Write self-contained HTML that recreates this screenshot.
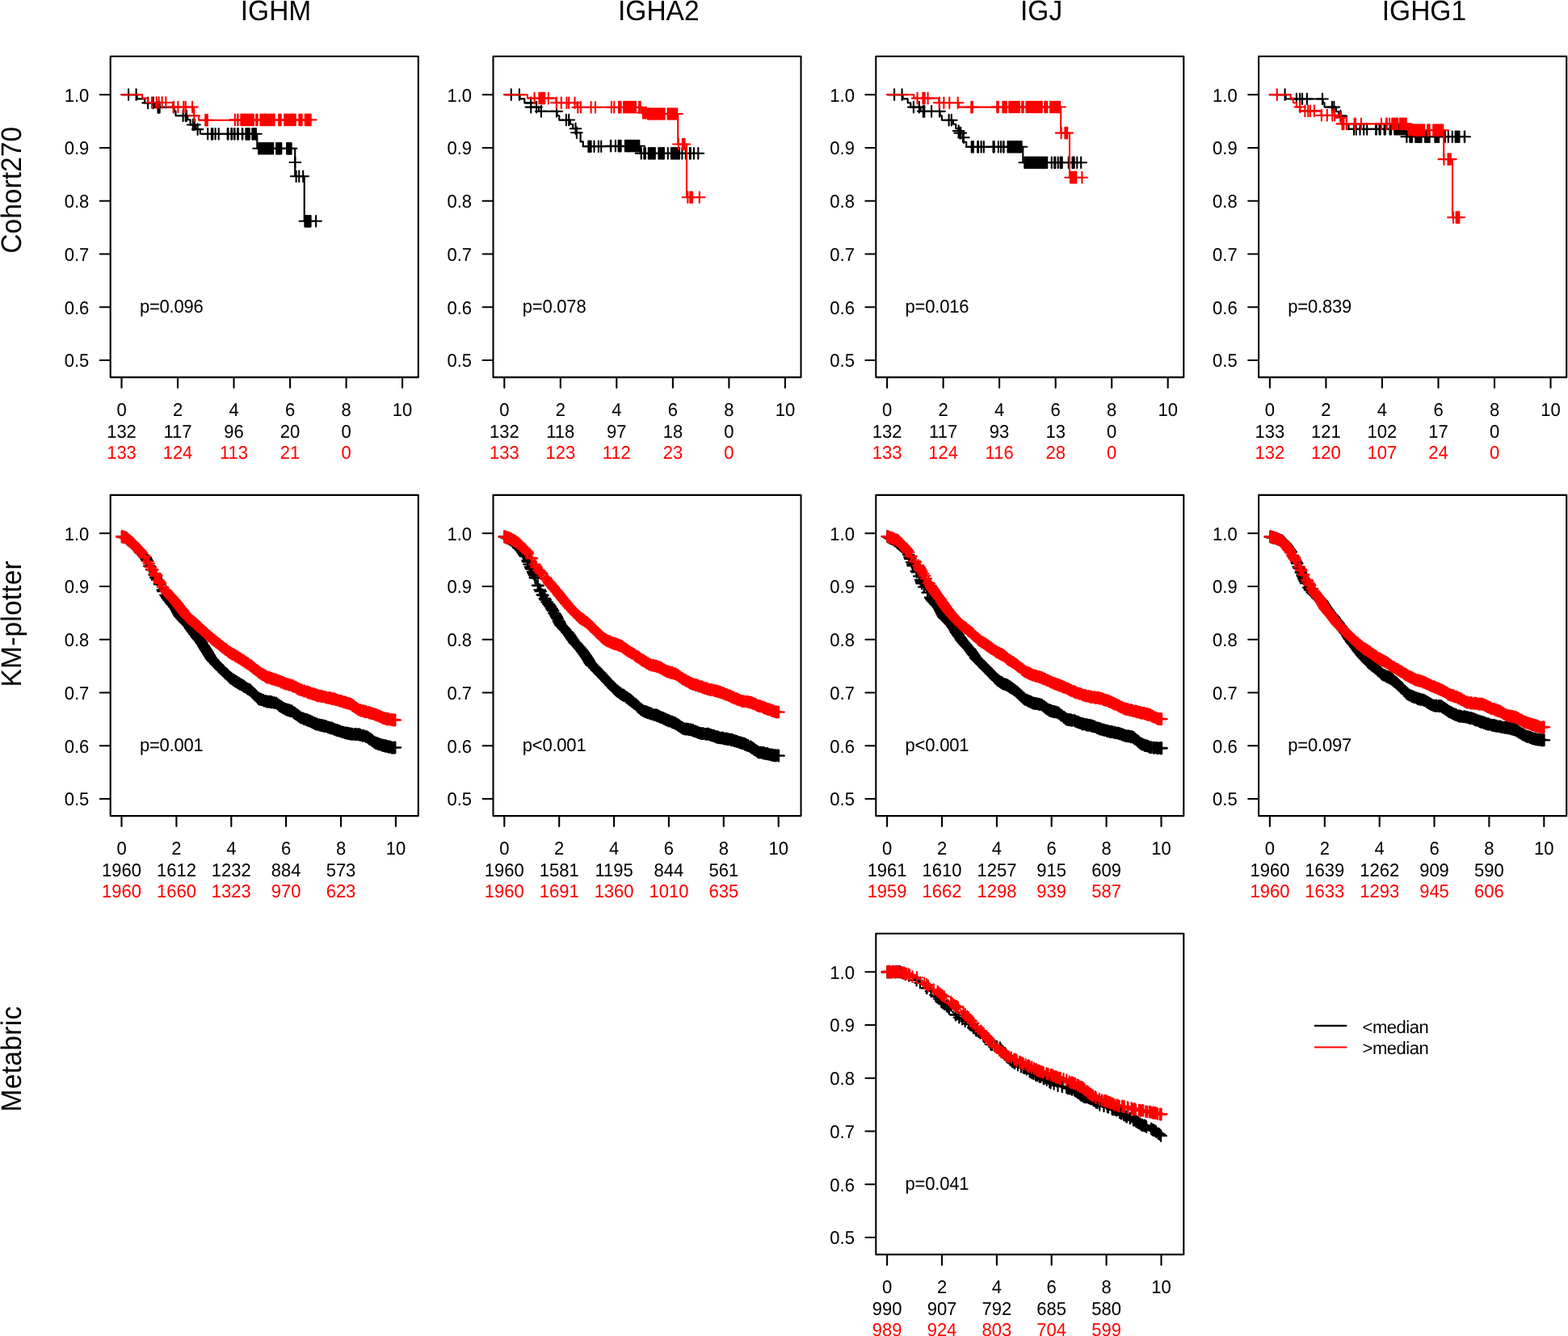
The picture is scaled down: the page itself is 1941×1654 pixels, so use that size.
<!DOCTYPE html>
<html lang="en">
<head>
<meta charset="utf-8">
<title>Kaplan-Meier survival curves: IGHM, IGHA2, IGJ, IGHG1</title>
<style>
html,body{margin:0;padding:0;background:#fff;}
body{width:1941px;height:1654px;overflow:hidden;}
svg{display:block;}
.ax{fill:none;stroke:#000;stroke-width:2.1;stroke-linecap:round;stroke-linejoin:round;}
.r{fill:#f00;}
.ck,.cr,.mk,.mr{fill:none;stroke-width:2.1;stroke-linecap:round;stroke-linejoin:round;}
.ck,.mk{stroke:#000;}
.cr,.mr{stroke:#f00;}
</style>
</head>
<body>
<svg width="1941" height="1654" viewBox="0 0 1941 1654" role="img" aria-label="Kaplan-Meier survival curves">
<rect width="1941" height="1654" fill="#fff"/>
<g font-family="'Liberation Sans', sans-serif" font-size="22" fill="#000" text-rendering="geometricPrecision">
<text transform="translate(341.5 24.9) scale(1 1.045)" text-anchor="middle" font-size="33.5">IGHM</text>
<text transform="translate(815.3 24.9) scale(1 1.045)" text-anchor="middle" font-size="33.5">IGHA2</text>
<text transform="translate(1289.1 24.9) scale(1 1.045)" text-anchor="middle" font-size="33.5">IGJ</text>
<text transform="translate(1762.9 24.9) scale(1 1.045)" text-anchor="middle" font-size="33.5">IGHG1</text>
<text transform="translate(25.7 235.3) rotate(-90) scale(1 1.05)" font-size="33.5" letter-spacing="0.06" text-anchor="middle">Cohort270</text>
<text transform="translate(25.7 772.3) rotate(-90) scale(1 1.05)" font-size="33.5" letter-spacing="0.17" text-anchor="middle">KM-plotter</text>
<text transform="translate(25.7 1310.9) rotate(-90) scale(1 1.05)" font-size="33.5" letter-spacing="0.34" text-anchor="middle">Metabric</text>
<path class="ax" d="M136.7 69.8H517.8V467.1H136.7ZM150.5 467.1v12.9M220 467.1v12.9M289.5 467.1v12.9M359.1 467.1v12.9M428.6 467.1v12.9M498.1 467.1v12.9M136.7 117.2h-12.9M136.7 183h-12.9M136.7 248.7h-12.9M136.7 314.5h-12.9M136.7 380.2h-12.9M136.7 446h-12.9"/>
<text transform="translate(110.3 125.6) scale(1 1.04)" text-anchor="end">1.0</text>
<text transform="translate(110.3 191.4) scale(1 1.04)" text-anchor="end">0.9</text>
<text transform="translate(110.3 257.1) scale(1 1.04)" text-anchor="end">0.8</text>
<text transform="translate(110.3 322.9) scale(1 1.04)" text-anchor="end">0.7</text>
<text transform="translate(110.3 388.6) scale(1 1.04)" text-anchor="end">0.6</text>
<text transform="translate(110.3 454.4) scale(1 1.04)" text-anchor="end">0.5</text>
<text transform="translate(150.5 515.1) scale(1 1.04)" text-anchor="middle">0</text>
<text transform="translate(220 515.1) scale(1 1.04)" text-anchor="middle">2</text>
<text transform="translate(289.5 515.1) scale(1 1.04)" text-anchor="middle">4</text>
<text transform="translate(359.1 515.1) scale(1 1.04)" text-anchor="middle">6</text>
<text transform="translate(428.6 515.1) scale(1 1.04)" text-anchor="middle">8</text>
<text transform="translate(498.1 515.1) scale(1 1.04)" text-anchor="middle">10</text>
<text transform="translate(150.5 541.9) scale(1 1.04)" text-anchor="middle">132</text>
<text transform="translate(220 541.9) scale(1 1.04)" text-anchor="middle">117</text>
<text transform="translate(289.5 541.9) scale(1 1.04)" text-anchor="middle">96</text>
<text transform="translate(359.1 541.9) scale(1 1.04)" text-anchor="middle">20</text>
<text transform="translate(428.6 541.9) scale(1 1.04)" text-anchor="middle">0</text>
<text transform="translate(150.5 567.6) scale(1 1.04)" text-anchor="middle" class="r">133</text>
<text transform="translate(220 567.6) scale(1 1.04)" text-anchor="middle" class="r">124</text>
<text transform="translate(289.5 567.6) scale(1 1.04)" text-anchor="middle" class="r">113</text>
<text transform="translate(359.1 567.6) scale(1 1.04)" text-anchor="middle" class="r">21</text>
<text transform="translate(428.6 567.6) scale(1 1.04)" text-anchor="middle" class="r">0</text>
<text transform="translate(172.9 386.8) scale(1 1.04)" letter-spacing="-0.2">p=0.096</text>
<path class="ax" d="M610.5 69.8H991.5V467.1H610.5ZM624.3 467.1v12.9M693.8 467.1v12.9M763.3 467.1v12.9M832.9 467.1v12.9M902.4 467.1v12.9M971.9 467.1v12.9M610.5 117.2h-12.9M610.5 183h-12.9M610.5 248.7h-12.9M610.5 314.5h-12.9M610.5 380.2h-12.9M610.5 446h-12.9"/>
<text transform="translate(584.1 125.6) scale(1 1.04)" text-anchor="end">1.0</text>
<text transform="translate(584.1 191.4) scale(1 1.04)" text-anchor="end">0.9</text>
<text transform="translate(584.1 257.1) scale(1 1.04)" text-anchor="end">0.8</text>
<text transform="translate(584.1 322.9) scale(1 1.04)" text-anchor="end">0.7</text>
<text transform="translate(584.1 388.6) scale(1 1.04)" text-anchor="end">0.6</text>
<text transform="translate(584.1 454.4) scale(1 1.04)" text-anchor="end">0.5</text>
<text transform="translate(624.3 515.1) scale(1 1.04)" text-anchor="middle">0</text>
<text transform="translate(693.8 515.1) scale(1 1.04)" text-anchor="middle">2</text>
<text transform="translate(763.3 515.1) scale(1 1.04)" text-anchor="middle">4</text>
<text transform="translate(832.9 515.1) scale(1 1.04)" text-anchor="middle">6</text>
<text transform="translate(902.4 515.1) scale(1 1.04)" text-anchor="middle">8</text>
<text transform="translate(971.9 515.1) scale(1 1.04)" text-anchor="middle">10</text>
<text transform="translate(624.3 541.9) scale(1 1.04)" text-anchor="middle">132</text>
<text transform="translate(693.8 541.9) scale(1 1.04)" text-anchor="middle">118</text>
<text transform="translate(763.3 541.9) scale(1 1.04)" text-anchor="middle">97</text>
<text transform="translate(832.9 541.9) scale(1 1.04)" text-anchor="middle">18</text>
<text transform="translate(902.4 541.9) scale(1 1.04)" text-anchor="middle">0</text>
<text transform="translate(624.3 567.6) scale(1 1.04)" text-anchor="middle" class="r">133</text>
<text transform="translate(693.8 567.6) scale(1 1.04)" text-anchor="middle" class="r">123</text>
<text transform="translate(763.3 567.6) scale(1 1.04)" text-anchor="middle" class="r">112</text>
<text transform="translate(832.9 567.6) scale(1 1.04)" text-anchor="middle" class="r">23</text>
<text transform="translate(902.4 567.6) scale(1 1.04)" text-anchor="middle" class="r">0</text>
<text transform="translate(646.7 386.8) scale(1 1.04)" letter-spacing="-0.2">p=0.078</text>
<path class="ax" d="M1084.3 69.8H1465.3V467.1H1084.3ZM1098.1 467.1v12.9M1167.6 467.1v12.9M1237.1 467.1v12.9M1306.7 467.1v12.9M1376.2 467.1v12.9M1445.7 467.1v12.9M1084.3 117.2h-12.9M1084.3 183h-12.9M1084.3 248.7h-12.9M1084.3 314.5h-12.9M1084.3 380.2h-12.9M1084.3 446h-12.9"/>
<text transform="translate(1057.9 125.6) scale(1 1.04)" text-anchor="end">1.0</text>
<text transform="translate(1057.9 191.4) scale(1 1.04)" text-anchor="end">0.9</text>
<text transform="translate(1057.9 257.1) scale(1 1.04)" text-anchor="end">0.8</text>
<text transform="translate(1057.9 322.9) scale(1 1.04)" text-anchor="end">0.7</text>
<text transform="translate(1057.9 388.6) scale(1 1.04)" text-anchor="end">0.6</text>
<text transform="translate(1057.9 454.4) scale(1 1.04)" text-anchor="end">0.5</text>
<text transform="translate(1098.1 515.1) scale(1 1.04)" text-anchor="middle">0</text>
<text transform="translate(1167.6 515.1) scale(1 1.04)" text-anchor="middle">2</text>
<text transform="translate(1237.1 515.1) scale(1 1.04)" text-anchor="middle">4</text>
<text transform="translate(1306.7 515.1) scale(1 1.04)" text-anchor="middle">6</text>
<text transform="translate(1376.2 515.1) scale(1 1.04)" text-anchor="middle">8</text>
<text transform="translate(1445.7 515.1) scale(1 1.04)" text-anchor="middle">10</text>
<text transform="translate(1098.1 541.9) scale(1 1.04)" text-anchor="middle">132</text>
<text transform="translate(1167.6 541.9) scale(1 1.04)" text-anchor="middle">117</text>
<text transform="translate(1237.1 541.9) scale(1 1.04)" text-anchor="middle">93</text>
<text transform="translate(1306.7 541.9) scale(1 1.04)" text-anchor="middle">13</text>
<text transform="translate(1376.2 541.9) scale(1 1.04)" text-anchor="middle">0</text>
<text transform="translate(1098.1 567.6) scale(1 1.04)" text-anchor="middle" class="r">133</text>
<text transform="translate(1167.6 567.6) scale(1 1.04)" text-anchor="middle" class="r">124</text>
<text transform="translate(1237.1 567.6) scale(1 1.04)" text-anchor="middle" class="r">116</text>
<text transform="translate(1306.7 567.6) scale(1 1.04)" text-anchor="middle" class="r">28</text>
<text transform="translate(1376.2 567.6) scale(1 1.04)" text-anchor="middle" class="r">0</text>
<text transform="translate(1120.5 386.8) scale(1 1.04)" letter-spacing="-0.2">p=0.016</text>
<path class="ax" d="M1558.1 69.8H1939.2V467.1H1558.1ZM1571.9 467.1v12.9M1641.4 467.1v12.9M1710.9 467.1v12.9M1780.5 467.1v12.9M1850 467.1v12.9M1919.5 467.1v12.9M1558.1 117.2h-12.9M1558.1 183h-12.9M1558.1 248.7h-12.9M1558.1 314.5h-12.9M1558.1 380.2h-12.9M1558.1 446h-12.9"/>
<text transform="translate(1531.7 125.6) scale(1 1.04)" text-anchor="end">1.0</text>
<text transform="translate(1531.7 191.4) scale(1 1.04)" text-anchor="end">0.9</text>
<text transform="translate(1531.7 257.1) scale(1 1.04)" text-anchor="end">0.8</text>
<text transform="translate(1531.7 322.9) scale(1 1.04)" text-anchor="end">0.7</text>
<text transform="translate(1531.7 388.6) scale(1 1.04)" text-anchor="end">0.6</text>
<text transform="translate(1531.7 454.4) scale(1 1.04)" text-anchor="end">0.5</text>
<text transform="translate(1571.9 515.1) scale(1 1.04)" text-anchor="middle">0</text>
<text transform="translate(1641.4 515.1) scale(1 1.04)" text-anchor="middle">2</text>
<text transform="translate(1710.9 515.1) scale(1 1.04)" text-anchor="middle">4</text>
<text transform="translate(1780.5 515.1) scale(1 1.04)" text-anchor="middle">6</text>
<text transform="translate(1850 515.1) scale(1 1.04)" text-anchor="middle">8</text>
<text transform="translate(1919.5 515.1) scale(1 1.04)" text-anchor="middle">10</text>
<text transform="translate(1571.9 541.9) scale(1 1.04)" text-anchor="middle">133</text>
<text transform="translate(1641.4 541.9) scale(1 1.04)" text-anchor="middle">121</text>
<text transform="translate(1710.9 541.9) scale(1 1.04)" text-anchor="middle">102</text>
<text transform="translate(1780.5 541.9) scale(1 1.04)" text-anchor="middle">17</text>
<text transform="translate(1850 541.9) scale(1 1.04)" text-anchor="middle">0</text>
<text transform="translate(1571.9 567.6) scale(1 1.04)" text-anchor="middle" class="r">132</text>
<text transform="translate(1641.4 567.6) scale(1 1.04)" text-anchor="middle" class="r">120</text>
<text transform="translate(1710.9 567.6) scale(1 1.04)" text-anchor="middle" class="r">107</text>
<text transform="translate(1780.5 567.6) scale(1 1.04)" text-anchor="middle" class="r">24</text>
<text transform="translate(1850 567.6) scale(1 1.04)" text-anchor="middle" class="r">0</text>
<text transform="translate(1594.3 386.8) scale(1 1.04)" letter-spacing="-0.2">p=0.839</text>
<path class="ax" d="M136.7 612.9H517.8V1010.1H136.7ZM150.5 1010.1v12.9M218.4 1010.1v12.9M286.3 1010.1v12.9M354.1 1010.1v12.9M422 1010.1v12.9M489.9 1010.1v12.9M136.7 660.2h-12.9M136.7 726h-12.9M136.7 791.7h-12.9M136.7 857.5h-12.9M136.7 923.2h-12.9M136.7 989h-12.9"/>
<text transform="translate(110.3 668.6) scale(1 1.04)" text-anchor="end">1.0</text>
<text transform="translate(110.3 734.4) scale(1 1.04)" text-anchor="end">0.9</text>
<text transform="translate(110.3 800.1) scale(1 1.04)" text-anchor="end">0.8</text>
<text transform="translate(110.3 865.9) scale(1 1.04)" text-anchor="end">0.7</text>
<text transform="translate(110.3 931.6) scale(1 1.04)" text-anchor="end">0.6</text>
<text transform="translate(110.3 997.4) scale(1 1.04)" text-anchor="end">0.5</text>
<text transform="translate(150.5 1058.2) scale(1 1.04)" text-anchor="middle">0</text>
<text transform="translate(218.4 1058.2) scale(1 1.04)" text-anchor="middle">2</text>
<text transform="translate(286.3 1058.2) scale(1 1.04)" text-anchor="middle">4</text>
<text transform="translate(354.1 1058.2) scale(1 1.04)" text-anchor="middle">6</text>
<text transform="translate(422 1058.2) scale(1 1.04)" text-anchor="middle">8</text>
<text transform="translate(489.9 1058.2) scale(1 1.04)" text-anchor="middle">10</text>
<text transform="translate(150.5 1084.8) scale(1 1.04)" text-anchor="middle">1960</text>
<text transform="translate(218.4 1084.8) scale(1 1.04)" text-anchor="middle">1612</text>
<text transform="translate(286.3 1084.8) scale(1 1.04)" text-anchor="middle">1232</text>
<text transform="translate(354.1 1084.8) scale(1 1.04)" text-anchor="middle">884</text>
<text transform="translate(422 1084.8) scale(1 1.04)" text-anchor="middle">573</text>
<text transform="translate(150.5 1110.5) scale(1 1.04)" text-anchor="middle" class="r">1960</text>
<text transform="translate(218.4 1110.5) scale(1 1.04)" text-anchor="middle" class="r">1660</text>
<text transform="translate(286.3 1110.5) scale(1 1.04)" text-anchor="middle" class="r">1323</text>
<text transform="translate(354.1 1110.5) scale(1 1.04)" text-anchor="middle" class="r">970</text>
<text transform="translate(422 1110.5) scale(1 1.04)" text-anchor="middle" class="r">623</text>
<text transform="translate(172.9 929.8) scale(1 1.04)" letter-spacing="-0.2">p=0.001</text>
<path class="ax" d="M610.5 612.9H991.5V1010.1H610.5ZM624.3 1010.1v12.9M692.2 1010.1v12.9M760.1 1010.1v12.9M827.9 1010.1v12.9M895.8 1010.1v12.9M963.7 1010.1v12.9M610.5 660.2h-12.9M610.5 726h-12.9M610.5 791.7h-12.9M610.5 857.5h-12.9M610.5 923.2h-12.9M610.5 989h-12.9"/>
<text transform="translate(584.1 668.6) scale(1 1.04)" text-anchor="end">1.0</text>
<text transform="translate(584.1 734.4) scale(1 1.04)" text-anchor="end">0.9</text>
<text transform="translate(584.1 800.1) scale(1 1.04)" text-anchor="end">0.8</text>
<text transform="translate(584.1 865.9) scale(1 1.04)" text-anchor="end">0.7</text>
<text transform="translate(584.1 931.6) scale(1 1.04)" text-anchor="end">0.6</text>
<text transform="translate(584.1 997.4) scale(1 1.04)" text-anchor="end">0.5</text>
<text transform="translate(624.3 1058.2) scale(1 1.04)" text-anchor="middle">0</text>
<text transform="translate(692.2 1058.2) scale(1 1.04)" text-anchor="middle">2</text>
<text transform="translate(760.1 1058.2) scale(1 1.04)" text-anchor="middle">4</text>
<text transform="translate(827.9 1058.2) scale(1 1.04)" text-anchor="middle">6</text>
<text transform="translate(895.8 1058.2) scale(1 1.04)" text-anchor="middle">8</text>
<text transform="translate(963.7 1058.2) scale(1 1.04)" text-anchor="middle">10</text>
<text transform="translate(624.3 1084.8) scale(1 1.04)" text-anchor="middle">1960</text>
<text transform="translate(692.2 1084.8) scale(1 1.04)" text-anchor="middle">1581</text>
<text transform="translate(760.1 1084.8) scale(1 1.04)" text-anchor="middle">1195</text>
<text transform="translate(827.9 1084.8) scale(1 1.04)" text-anchor="middle">844</text>
<text transform="translate(895.8 1084.8) scale(1 1.04)" text-anchor="middle">561</text>
<text transform="translate(624.3 1110.5) scale(1 1.04)" text-anchor="middle" class="r">1960</text>
<text transform="translate(692.2 1110.5) scale(1 1.04)" text-anchor="middle" class="r">1691</text>
<text transform="translate(760.1 1110.5) scale(1 1.04)" text-anchor="middle" class="r">1360</text>
<text transform="translate(827.9 1110.5) scale(1 1.04)" text-anchor="middle" class="r">1010</text>
<text transform="translate(895.8 1110.5) scale(1 1.04)" text-anchor="middle" class="r">635</text>
<text transform="translate(646.7 929.8) scale(1 1.04)" letter-spacing="-0.2">p&lt;0.001</text>
<path class="ax" d="M1084.3 612.9H1465.3V1010.1H1084.3ZM1098.1 1010.1v12.9M1166 1010.1v12.9M1233.9 1010.1v12.9M1301.7 1010.1v12.9M1369.6 1010.1v12.9M1437.5 1010.1v12.9M1084.3 660.2h-12.9M1084.3 726h-12.9M1084.3 791.7h-12.9M1084.3 857.5h-12.9M1084.3 923.2h-12.9M1084.3 989h-12.9"/>
<text transform="translate(1057.9 668.6) scale(1 1.04)" text-anchor="end">1.0</text>
<text transform="translate(1057.9 734.4) scale(1 1.04)" text-anchor="end">0.9</text>
<text transform="translate(1057.9 800.1) scale(1 1.04)" text-anchor="end">0.8</text>
<text transform="translate(1057.9 865.9) scale(1 1.04)" text-anchor="end">0.7</text>
<text transform="translate(1057.9 931.6) scale(1 1.04)" text-anchor="end">0.6</text>
<text transform="translate(1057.9 997.4) scale(1 1.04)" text-anchor="end">0.5</text>
<text transform="translate(1098.1 1058.2) scale(1 1.04)" text-anchor="middle">0</text>
<text transform="translate(1166 1058.2) scale(1 1.04)" text-anchor="middle">2</text>
<text transform="translate(1233.9 1058.2) scale(1 1.04)" text-anchor="middle">4</text>
<text transform="translate(1301.7 1058.2) scale(1 1.04)" text-anchor="middle">6</text>
<text transform="translate(1369.6 1058.2) scale(1 1.04)" text-anchor="middle">8</text>
<text transform="translate(1437.5 1058.2) scale(1 1.04)" text-anchor="middle">10</text>
<text transform="translate(1098.1 1084.8) scale(1 1.04)" text-anchor="middle">1961</text>
<text transform="translate(1166 1084.8) scale(1 1.04)" text-anchor="middle">1610</text>
<text transform="translate(1233.9 1084.8) scale(1 1.04)" text-anchor="middle">1257</text>
<text transform="translate(1301.7 1084.8) scale(1 1.04)" text-anchor="middle">915</text>
<text transform="translate(1369.6 1084.8) scale(1 1.04)" text-anchor="middle">609</text>
<text transform="translate(1098.1 1110.5) scale(1 1.04)" text-anchor="middle" class="r">1959</text>
<text transform="translate(1166 1110.5) scale(1 1.04)" text-anchor="middle" class="r">1662</text>
<text transform="translate(1233.9 1110.5) scale(1 1.04)" text-anchor="middle" class="r">1298</text>
<text transform="translate(1301.7 1110.5) scale(1 1.04)" text-anchor="middle" class="r">939</text>
<text transform="translate(1369.6 1110.5) scale(1 1.04)" text-anchor="middle" class="r">587</text>
<text transform="translate(1120.5 929.8) scale(1 1.04)" letter-spacing="-0.2">p&lt;0.001</text>
<path class="ax" d="M1558.1 612.9H1939.2V1010.1H1558.1ZM1571.9 1010.1v12.9M1639.8 1010.1v12.9M1707.7 1010.1v12.9M1775.5 1010.1v12.9M1843.4 1010.1v12.9M1911.3 1010.1v12.9M1558.1 660.2h-12.9M1558.1 726h-12.9M1558.1 791.7h-12.9M1558.1 857.5h-12.9M1558.1 923.2h-12.9M1558.1 989h-12.9"/>
<text transform="translate(1531.7 668.6) scale(1 1.04)" text-anchor="end">1.0</text>
<text transform="translate(1531.7 734.4) scale(1 1.04)" text-anchor="end">0.9</text>
<text transform="translate(1531.7 800.1) scale(1 1.04)" text-anchor="end">0.8</text>
<text transform="translate(1531.7 865.9) scale(1 1.04)" text-anchor="end">0.7</text>
<text transform="translate(1531.7 931.6) scale(1 1.04)" text-anchor="end">0.6</text>
<text transform="translate(1531.7 997.4) scale(1 1.04)" text-anchor="end">0.5</text>
<text transform="translate(1571.9 1058.2) scale(1 1.04)" text-anchor="middle">0</text>
<text transform="translate(1639.8 1058.2) scale(1 1.04)" text-anchor="middle">2</text>
<text transform="translate(1707.7 1058.2) scale(1 1.04)" text-anchor="middle">4</text>
<text transform="translate(1775.5 1058.2) scale(1 1.04)" text-anchor="middle">6</text>
<text transform="translate(1843.4 1058.2) scale(1 1.04)" text-anchor="middle">8</text>
<text transform="translate(1911.3 1058.2) scale(1 1.04)" text-anchor="middle">10</text>
<text transform="translate(1571.9 1084.8) scale(1 1.04)" text-anchor="middle">1960</text>
<text transform="translate(1639.8 1084.8) scale(1 1.04)" text-anchor="middle">1639</text>
<text transform="translate(1707.7 1084.8) scale(1 1.04)" text-anchor="middle">1262</text>
<text transform="translate(1775.5 1084.8) scale(1 1.04)" text-anchor="middle">909</text>
<text transform="translate(1843.4 1084.8) scale(1 1.04)" text-anchor="middle">590</text>
<text transform="translate(1571.9 1110.5) scale(1 1.04)" text-anchor="middle" class="r">1960</text>
<text transform="translate(1639.8 1110.5) scale(1 1.04)" text-anchor="middle" class="r">1633</text>
<text transform="translate(1707.7 1110.5) scale(1 1.04)" text-anchor="middle" class="r">1293</text>
<text transform="translate(1775.5 1110.5) scale(1 1.04)" text-anchor="middle" class="r">945</text>
<text transform="translate(1843.4 1110.5) scale(1 1.04)" text-anchor="middle" class="r">606</text>
<text transform="translate(1594.3 929.8) scale(1 1.04)" letter-spacing="-0.2">p=0.097</text>
<path class="ax" d="M1084.3 1155.8H1465.3V1553.1H1084.3ZM1098.1 1553.1v12.9M1166 1553.1v12.9M1233.9 1553.1v12.9M1301.7 1553.1v12.9M1369.6 1553.1v12.9M1437.5 1553.1v12.9M1084.3 1203.2h-12.9M1084.3 1269h-12.9M1084.3 1334.7h-12.9M1084.3 1400.5h-12.9M1084.3 1466.2h-12.9M1084.3 1532h-12.9"/>
<text transform="translate(1057.9 1211.6) scale(1 1.04)" text-anchor="end">1.0</text>
<text transform="translate(1057.9 1277.4) scale(1 1.04)" text-anchor="end">0.9</text>
<text transform="translate(1057.9 1343.1) scale(1 1.04)" text-anchor="end">0.8</text>
<text transform="translate(1057.9 1408.9) scale(1 1.04)" text-anchor="end">0.7</text>
<text transform="translate(1057.9 1474.6) scale(1 1.04)" text-anchor="end">0.6</text>
<text transform="translate(1057.9 1540.4) scale(1 1.04)" text-anchor="end">0.5</text>
<text transform="translate(1098.1 1601.1) scale(1 1.04)" text-anchor="middle">0</text>
<text transform="translate(1166 1601.1) scale(1 1.04)" text-anchor="middle">2</text>
<text transform="translate(1233.9 1601.1) scale(1 1.04)" text-anchor="middle">4</text>
<text transform="translate(1301.7 1601.1) scale(1 1.04)" text-anchor="middle">6</text>
<text transform="translate(1369.6 1601.1) scale(1 1.04)" text-anchor="middle">8</text>
<text transform="translate(1437.5 1601.1) scale(1 1.04)" text-anchor="middle">10</text>
<text transform="translate(1098.1 1627.8) scale(1 1.04)" text-anchor="middle">990</text>
<text transform="translate(1166 1627.8) scale(1 1.04)" text-anchor="middle">907</text>
<text transform="translate(1233.9 1627.8) scale(1 1.04)" text-anchor="middle">792</text>
<text transform="translate(1301.7 1627.8) scale(1 1.04)" text-anchor="middle">685</text>
<text transform="translate(1369.6 1627.8) scale(1 1.04)" text-anchor="middle">580</text>
<text transform="translate(1098.1 1653.5) scale(1 1.04)" text-anchor="middle" class="r">989</text>
<text transform="translate(1166 1653.5) scale(1 1.04)" text-anchor="middle" class="r">924</text>
<text transform="translate(1233.9 1653.5) scale(1 1.04)" text-anchor="middle" class="r">803</text>
<text transform="translate(1301.7 1653.5) scale(1 1.04)" text-anchor="middle" class="r">704</text>
<text transform="translate(1369.6 1653.5) scale(1 1.04)" text-anchor="middle" class="r">599</text>
<text transform="translate(1120.5 1472.8) scale(1 1.04)" letter-spacing="-0.2">p=0.041</text>
<path class="ax" d="M1627.8 1269.9H1666.5"/>
<path class="ax" stroke="#f00" style="stroke:#f00" d="M1627.8 1296.5H1666.5"/>
<text x="1686.5" y="1278.6" letter-spacing="-0.45">&lt;median</text>
<text x="1686.5" y="1305.1" letter-spacing="-0.45">&gt;median</text>
</g>
<path class="ck" d="M150.1 117.2H169.6V122.4H179.3V127.4H191.6V132.8H215.7V137.5H217.5V143.3H232.3V148.3H235.6V154.5H242.4V159.9H247.8V165.8H318.3V183.8H365.2H365.2V218.3H376.7V273.8H391.1"/>
<path class="mk" d="M159.1 110.4v13.6m-6.8-6.8h13.6M168.6 110.4v13.6m-6.8-6.8h13.6M183.1 120.6v13.6m-6.8-6.8h13.6M189.8 120.6v13.6m-6.8-6.8h13.6M195.5 126v13.6m-6.8-6.8h13.6M196.6 126v13.6m-6.8-6.8h13.6M197.7 126v13.6m-6.8-6.8h13.6M215 126v13.6m-6.8-6.8h13.6M226.6 136.5v13.6m-6.8-6.8h13.6M229.8 136.5v13.6m-6.8-6.8h13.6M230.9 136.5v13.6m-6.8-6.8h13.6M238.8 147.7v13.6m-6.8-6.8h13.6M241 147.7v13.6m-6.8-6.8h13.6M244.6 153.3v13.6m-6.8-6.8h13.6M257.2 159v13.6m-6.8-6.8h13.6M261.9 159v13.6m-6.8-6.8h13.6M263.3 159v13.6m-6.8-6.8h13.6M266.6 159v13.6m-6.8-6.8h13.6M270.7 159v13.6m-6.8-6.8h13.6M270.7 159v13.6m-6.8-6.8h13.6M281.7 159v13.6m-6.8-6.8h13.6M282.5 159v13.6m-6.8-6.8h13.6M286.3 159v13.6m-6.8-6.8h13.6M287 159v13.6m-6.8-6.8h13.6M289.9 159v13.6m-6.8-6.8h13.6M290.6 159v13.6m-6.8-6.8h13.6M294.1 159v13.6m-6.8-6.8h13.6M294.8 159v13.6m-6.8-6.8h13.6M299.8 159v13.6m-6.8-6.8h13.6M300.3 159v13.6m-6.8-6.8h13.6M304.4 159v13.6m-6.8-6.8h13.6M305.8 159v13.6m-6.8-6.8h13.6M307.3 159v13.6m-6.8-6.8h13.6M308.8 159v13.6m-6.8-6.8h13.6M312.3 159v13.6m-6.8-6.8h13.6M313.8 159v13.6m-6.8-6.8h13.6M315.4 159v13.6m-6.8-6.8h13.6M316.9 159v13.6m-6.8-6.8h13.6M320.1 177v13.6m-6.8-6.8h13.6M321.7 177v13.6m-6.8-6.8h13.6M323.4 177v13.6m-6.8-6.8h13.6M325 177v13.6m-6.8-6.8h13.6M326.7 177v13.6m-6.8-6.8h13.6M328.3 177v13.6m-6.8-6.8h13.6M330 177v13.6m-6.8-6.8h13.6M331.6 177v13.6m-6.8-6.8h13.6M333.3 177v13.6m-6.8-6.8h13.6M334.9 177v13.6m-6.8-6.8h13.6M336.5 177v13.6m-6.8-6.8h13.6M338.2 177v13.6m-6.8-6.8h13.6M342.1 177v13.6m-6.8-6.8h13.6M343.6 177v13.6m-6.8-6.8h13.6M345.2 177v13.6m-6.8-6.8h13.6M346.7 177v13.6m-6.8-6.8h13.6M348.3 177v13.6m-6.8-6.8h13.6M355.1 177v13.6m-6.8-6.8h13.6M356.4 177v13.6m-6.8-6.8h13.6M357.8 177v13.6m-6.8-6.8h13.6M359.2 177v13.6m-6.8-6.8h13.6M360.6 177v13.6m-6.8-6.8h13.6M365.4 194.2v13.6m-6.8-6.8h13.6M366.6 211.5v13.6m-6.8-6.8h13.6M370.2 211.5v13.6m-6.8-6.8h13.6M375.2 211.5v13.6m-6.8-6.8h13.6M377.4 267v13.6m-6.8-6.8h13.6M378.9 267v13.6m-6.8-6.8h13.6M380.3 267v13.6m-6.8-6.8h13.6M381.7 267v13.6m-6.8-6.8h13.6M383.1 267v13.6m-6.8-6.8h13.6M384.6 267v13.6m-6.8-6.8h13.6M391.1 267v13.6m-6.8-6.8h13.6"/>
<path class="cr" d="M150.1 117.2H176.1V121.6H183.3V127H213.9V132.5H239.9V143.3H246V148.7H385.4"/>
<path class="mr" d="M188 120.2v13.6m-6.8-6.8h13.6M193.7 120.2v13.6m-6.8-6.8h13.6M196.6 120.2v13.6m-6.8-6.8h13.6M200.6 120.2v13.6m-6.8-6.8h13.6M205.3 120.2v13.6m-6.8-6.8h13.6M214.7 125.7v13.6m-6.8-6.8h13.6M220.4 125.7v13.6m-6.8-6.8h13.6M227.3 125.7v13.6m-6.8-6.8h13.6M229.8 125.7v13.6m-6.8-6.8h13.6M238.1 125.7v13.6m-6.8-6.8h13.6M240.3 136.5v13.6m-6.8-6.8h13.6M254.3 141.9v13.6m-6.8-6.8h13.6M255.8 141.9v13.6m-6.8-6.8h13.6M256.8 141.9v13.6m-6.8-6.8h13.6M290.9 141.6v13.6m-6.8-6.8h13.6M294.1 141.6v13.6m-6.8-6.8h13.6M294.6 141.6v13.6m-6.8-6.8h13.6M298.3 141.6v13.6m-6.8-6.8h13.6M299.9 141.6v13.6m-6.8-6.8h13.6M301.5 141.6v13.6m-6.8-6.8h13.6M303 141.6v13.6m-6.8-6.8h13.6M304.6 141.6v13.6m-6.8-6.8h13.6M306.2 141.6v13.6m-6.8-6.8h13.6M307.7 141.6v13.6m-6.8-6.8h13.6M309.3 141.6v13.6m-6.8-6.8h13.6M310.9 141.6v13.6m-6.8-6.8h13.6M312.5 141.6v13.6m-6.8-6.8h13.6M314 141.6v13.6m-6.8-6.8h13.6M317.2 141.6v13.6m-6.8-6.8h13.6M318.7 141.6v13.6m-6.8-6.8h13.6M322.4 141.6v13.6m-6.8-6.8h13.6M324 141.6v13.6m-6.8-6.8h13.6M325.5 141.6v13.6m-6.8-6.8h13.6M327.1 141.6v13.6m-6.8-6.8h13.6M328.7 141.6v13.6m-6.8-6.8h13.6M330.2 141.6v13.6m-6.8-6.8h13.6M331.8 141.6v13.6m-6.8-6.8h13.6M333.4 141.6v13.6m-6.8-6.8h13.6M334.9 141.6v13.6m-6.8-6.8h13.6M336.5 141.6v13.6m-6.8-6.8h13.6M338.1 141.6v13.6m-6.8-6.8h13.6M339.6 141.6v13.6m-6.8-6.8h13.6M345.2 141.6v13.6m-6.8-6.8h13.6M346.5 141.6v13.6m-6.8-6.8h13.6M347.7 141.6v13.6m-6.8-6.8h13.6M352.2 141.6v13.6m-6.8-6.8h13.6M353.9 141.6v13.6m-6.8-6.8h13.6M355.6 141.6v13.6m-6.8-6.8h13.6M357.3 141.6v13.6m-6.8-6.8h13.6M359 141.6v13.6m-6.8-6.8h13.6M360.7 141.6v13.6m-6.8-6.8h13.6M362.4 141.6v13.6m-6.8-6.8h13.6M364.1 141.6v13.6m-6.8-6.8h13.6M365.7 141.6v13.6m-6.8-6.8h13.6M370.4 141.6v13.6m-6.8-6.8h13.6M372.1 141.6v13.6m-6.8-6.8h13.6M373.7 141.6v13.6m-6.8-6.8h13.6M377.8 141.6v13.6m-6.8-6.8h13.6M379.2 141.6v13.6m-6.8-6.8h13.6M380.6 141.6v13.6m-6.8-6.8h13.6M382 141.6v13.6m-6.8-6.8h13.6M383.3 141.6v13.6m-6.8-6.8h13.6M384.7 141.6v13.6m-6.8-6.8h13.6"/>
<path class="ck" d="M624.1 117.2H643.6V122.4H649.3V127.4H657.1V132.6H667V137.9H689.7V143.3H692.3V148.7H706V153.7H709.2V159.3H713.2V164.3H718.6V169.6H718.6V175.4H721.8V181.3H792.7V189.9H864.2"/>
<path class="mk" d="M632.8 110.4v13.6m-6.8-6.8h13.6M642.9 110.4v13.6m-6.8-6.8h13.6M657.1 120.6v13.6m-6.8-6.8h13.6M657.3 125.8v13.6m-6.8-6.8h13.6M664.1 125.8v13.6m-6.8-6.8h13.6M669.9 131.1v13.6m-6.8-6.8h13.6M689 131.1v13.6m-6.8-6.8h13.6M700.9 141.7v13.6m-6.8-6.8h13.6M704.2 141.7v13.6m-6.8-6.8h13.6M712.5 152.5v13.6m-6.8-6.8h13.6M713.9 157.5v13.6m-6.8-6.8h13.6M728.4 174.5v13.6m-6.8-6.8h13.6M730 174.5v13.6m-6.8-6.8h13.6M731.6 174.5v13.6m-6.8-6.8h13.6M735.5 174.5v13.6m-6.8-6.8h13.6M740.9 174.5v13.6m-6.8-6.8h13.6M744.2 174.5v13.6m-6.8-6.8h13.6M755.9 173.9v13.6m-6.8-6.8h13.6M756.3 173.9v13.6m-6.8-6.8h13.6M761.9 173.9v13.6m-6.8-6.8h13.6M765.6 173.9v13.6m-6.8-6.8h13.6M767.1 173.9v13.6m-6.8-6.8h13.6M768.6 173.9v13.6m-6.8-6.8h13.6M773.9 173.9v13.6m-6.8-6.8h13.6M775.5 173.9v13.6m-6.8-6.8h13.6M777.1 173.9v13.6m-6.8-6.8h13.6M778.6 173.9v13.6m-6.8-6.8h13.6M780.2 173.9v13.6m-6.8-6.8h13.6M781.8 173.9v13.6m-6.8-6.8h13.6M783.4 173.9v13.6m-6.8-6.8h13.6M785 173.9v13.6m-6.8-6.8h13.6M786.5 173.9v13.6m-6.8-6.8h13.6M788.1 173.9v13.6m-6.8-6.8h13.6M789.7 173.9v13.6m-6.8-6.8h13.6M791.3 173.9v13.6m-6.8-6.8h13.6M793.7 183.1v13.6m-6.8-6.8h13.6M793.8 183.1v13.6m-6.8-6.8h13.6M797.3 183.1v13.6m-6.8-6.8h13.6M798.9 183.1v13.6m-6.8-6.8h13.6M802.8 183.1v13.6m-6.8-6.8h13.6M804.4 183.1v13.6m-6.8-6.8h13.6M806 183.1v13.6m-6.8-6.8h13.6M807.6 183.1v13.6m-6.8-6.8h13.6M809.2 183.1v13.6m-6.8-6.8h13.6M810.8 183.1v13.6m-6.8-6.8h13.6M815.4 183.1v13.6m-6.8-6.8h13.6M817 183.1v13.6m-6.8-6.8h13.6M818.7 183.1v13.6m-6.8-6.8h13.6M820.3 183.1v13.6m-6.8-6.8h13.6M821.9 183.1v13.6m-6.8-6.8h13.6M826.8 183.1v13.6m-6.8-6.8h13.6M830.9 183.1v13.6m-6.8-6.8h13.6M832.6 183.1v13.6m-6.8-6.8h13.6M834.3 183.1v13.6m-6.8-6.8h13.6M836 183.1v13.6m-6.8-6.8h13.6M837.7 183.1v13.6m-6.8-6.8h13.6M839.4 183.1v13.6m-6.8-6.8h13.6M841 183.1v13.6m-6.8-6.8h13.6M844.4 183.1v13.6m-6.8-6.8h13.6M848.8 183.1v13.6m-6.8-6.8h13.6M854 183.1v13.6m-6.8-6.8h13.6M854.8 183.1v13.6m-6.8-6.8h13.6M858.9 183.1v13.6m-6.8-6.8h13.6M864.3 183.1v13.6m-6.8-6.8h13.6"/>
<path class="cr" d="M624.1 117.2H652.9V121.6H688.3V127.3H714.3V132.8H794.5V139.6H801V141H839.2V178.5H850H850V244.3H865.8"/>
<path class="mr" d="M661.6 114.8v13.6m-6.8-6.8h13.6M667.4 114.8v13.6m-6.8-6.8h13.6M669.5 114.8v13.6m-6.8-6.8h13.6M671 114.8v13.6m-6.8-6.8h13.6M672.6 114.8v13.6m-6.8-6.8h13.6M674.2 114.8v13.6m-6.8-6.8h13.6M678.9 114.8v13.6m-6.8-6.8h13.6M688.9 120.5v13.6m-6.8-6.8h13.6M694.8 120.5v13.6m-6.8-6.8h13.6M701.5 120.5v13.6m-6.8-6.8h13.6M704.2 120.5v13.6m-6.8-6.8h13.6M711.5 120.5v13.6m-6.8-6.8h13.6M715.3 126v13.6m-6.8-6.8h13.6M718.9 126v13.6m-6.8-6.8h13.6M731.6 126v13.6m-6.8-6.8h13.6M737 126v13.6m-6.8-6.8h13.6M756.9 125.9v13.6m-6.8-6.8h13.6M760.2 125.9v13.6m-6.8-6.8h13.6M766 125.9v13.6m-6.8-6.8h13.6M767.3 125.9v13.6m-6.8-6.8h13.6M768.6 125.9v13.6m-6.8-6.8h13.6M772.1 125.9v13.6m-6.8-6.8h13.6M773.7 125.9v13.6m-6.8-6.8h13.6M775.4 125.9v13.6m-6.8-6.8h13.6M777 125.9v13.6m-6.8-6.8h13.6M778.7 125.9v13.6m-6.8-6.8h13.6M780.3 125.9v13.6m-6.8-6.8h13.6M782 125.9v13.6m-6.8-6.8h13.6M783.6 125.9v13.6m-6.8-6.8h13.6M785.3 125.9v13.6m-6.8-6.8h13.6M786.9 125.9v13.6m-6.8-6.8h13.6M791.2 125.9v13.6m-6.8-6.8h13.6M792.7 125.9v13.6m-6.8-6.8h13.6M795.9 132.8v13.6m-6.8-6.8h13.6M797.2 132.8v13.6m-6.8-6.8h13.6M798.6 132.8v13.6m-6.8-6.8h13.6M799.9 132.8v13.6m-6.8-6.8h13.6M802 134.2v13.6m-6.8-6.8h13.6M803.6 134.2v13.6m-6.8-6.8h13.6M805.2 134.2v13.6m-6.8-6.8h13.6M806.8 134.2v13.6m-6.8-6.8h13.6M808.4 134.2v13.6m-6.8-6.8h13.6M810 134.2v13.6m-6.8-6.8h13.6M811.5 134.2v13.6m-6.8-6.8h13.6M813.1 134.2v13.6m-6.8-6.8h13.6M814.7 134.2v13.6m-6.8-6.8h13.6M816.3 134.2v13.6m-6.8-6.8h13.6M817.9 134.2v13.6m-6.8-6.8h13.6M819.5 134.2v13.6m-6.8-6.8h13.6M821.1 134.2v13.6m-6.8-6.8h13.6M822.7 134.2v13.6m-6.8-6.8h13.6M826.6 134.2v13.6m-6.8-6.8h13.6M828.2 134.2v13.6m-6.8-6.8h13.6M829.9 134.2v13.6m-6.8-6.8h13.6M831.5 134.2v13.6m-6.8-6.8h13.6M833.2 134.2v13.6m-6.8-6.8h13.6M834.8 134.2v13.6m-6.8-6.8h13.6M836.5 134.2v13.6m-6.8-6.8h13.6M838.2 134.2v13.6m-6.8-6.8h13.6M839.9 171.7v13.6m-6.8-6.8h13.6M844.9 171.7v13.6m-6.8-6.8h13.6M846.2 171.7v13.6m-6.8-6.8h13.6M847.5 171.7v13.6m-6.8-6.8h13.6M851.4 237.5v13.6m-6.8-6.8h13.6M865.8 237.5v13.6m-6.8-6.8h13.6M854.3 237.5v13.6m-6.8-6.8h13.6M855.7 237.5v13.6m-6.8-6.8h13.6M857.1 237.5v13.6m-6.8-6.8h13.6"/>
<path class="ck" d="M1098.1 117.2H1117.6V122.4H1123.7V127.4H1127.3V132.6H1139.6V137.9H1163.7V143.3H1165.9V148.7H1180V153.7H1183.2V159.1H1186.5V162H1187.5V164.6H1191.9V170.3H1191.9V175.7H1196.2V181.9H1266.3V201.2H1338.4"/>
<path class="mk" d="M1107.1 110.4v13.6m-6.8-6.8h13.6M1116.6 110.4v13.6m-6.8-6.8h13.6M1130.9 125.8v13.6m-6.8-6.8h13.6M1137.8 125.8v13.6m-6.8-6.8h13.6M1142.8 131.1v13.6m-6.8-6.8h13.6M1144.3 131.1v13.6m-6.8-6.8h13.6M1153.1 131.1v13.6m-6.8-6.8h13.6M1163 131.1v13.6m-6.8-6.8h13.6M1174.6 141.9v13.6m-6.8-6.8h13.6M1177.8 141.9v13.6m-6.8-6.8h13.6M1186.6 155.2v13.6m-6.8-6.8h13.6M1188.1 157.8v13.6m-6.8-6.8h13.6M1189.3 157.8v13.6m-6.8-6.8h13.6M1192.9 163.5v13.6m-6.8-6.8h13.6M1202.7 175.1v13.6m-6.8-6.8h13.6M1204.8 175.1v13.6m-6.8-6.8h13.6M1214.6 175.1v13.6m-6.8-6.8h13.6M1217.8 175.1v13.6m-6.8-6.8h13.6M1210.2 175.1v13.6m-6.8-6.8h13.6M1211 175.1v13.6m-6.8-6.8h13.6M1229.5 175v13.6m-6.8-6.8h13.6M1230.7 175v13.6m-6.8-6.8h13.6M1235.9 175v13.6m-6.8-6.8h13.6M1239.1 175v13.6m-6.8-6.8h13.6M1242.1 175v13.6m-6.8-6.8h13.6M1242.6 175v13.6m-6.8-6.8h13.6M1247.5 175v13.6m-6.8-6.8h13.6M1249.1 175v13.6m-6.8-6.8h13.6M1250.6 175v13.6m-6.8-6.8h13.6M1252.2 175v13.6m-6.8-6.8h13.6M1253.7 175v13.6m-6.8-6.8h13.6M1255.3 175v13.6m-6.8-6.8h13.6M1256.8 175v13.6m-6.8-6.8h13.6M1258.4 175v13.6m-6.8-6.8h13.6M1259.9 175v13.6m-6.8-6.8h13.6M1261.5 175v13.6m-6.8-6.8h13.6M1263 175v13.6m-6.8-6.8h13.6M1264.6 175v13.6m-6.8-6.8h13.6M1268.3 194.5v13.6m-6.8-6.8h13.6M1270 194.5v13.6m-6.8-6.8h13.6M1271.6 194.5v13.6m-6.8-6.8h13.6M1273.2 194.5v13.6m-6.8-6.8h13.6M1274.9 194.5v13.6m-6.8-6.8h13.6M1276.5 194.5v13.6m-6.8-6.8h13.6M1278.2 194.5v13.6m-6.8-6.8h13.6M1279.8 194.5v13.6m-6.8-6.8h13.6M1281.4 194.5v13.6m-6.8-6.8h13.6M1283.1 194.5v13.6m-6.8-6.8h13.6M1284.7 194.5v13.6m-6.8-6.8h13.6M1286.4 194.5v13.6m-6.8-6.8h13.6M1288 194.5v13.6m-6.8-6.8h13.6M1289.7 194.5v13.6m-6.8-6.8h13.6M1291.3 194.5v13.6m-6.8-6.8h13.6M1292.9 194.5v13.6m-6.8-6.8h13.6M1294.6 194.5v13.6m-6.8-6.8h13.6M1296.2 194.5v13.6m-6.8-6.8h13.6M1301.8 194.5v13.6m-6.8-6.8h13.6M1305.2 194.5v13.6m-6.8-6.8h13.6M1306.3 194.5v13.6m-6.8-6.8h13.6M1309.7 194.5v13.6m-6.8-6.8h13.6M1312.7 194.5v13.6m-6.8-6.8h13.6M1313.7 194.5v13.6m-6.8-6.8h13.6M1314.7 194.5v13.6m-6.8-6.8h13.6M1322.8 194.5v13.6m-6.8-6.8h13.6M1322.9 194.5v13.6m-6.8-6.8h13.6M1327.5 194.5v13.6m-6.8-6.8h13.6M1328.6 194.5v13.6m-6.8-6.8h13.6M1329.7 194.5v13.6m-6.8-6.8h13.6M1333.3 194.5v13.6m-6.8-6.8h13.6M1338.2 194.5v13.6m-6.8-6.8h13.6"/>
<path class="cr" d="M1098.1 117.2H1131.3V121.6H1162.3V127.3H1186.8V132.6H1313.2V164.6H1324V219.7H1339.4"/>
<path class="mr" d="M1135.6 114.8v13.6m-6.8-6.8h13.6M1148.6 114.8v13.6m-6.8-6.8h13.6M1142.4 114.8v13.6m-6.8-6.8h13.6M1143.5 114.8v13.6m-6.8-6.8h13.6M1144.7 114.8v13.6m-6.8-6.8h13.6M1162.7 120.5v13.6m-6.8-6.8h13.6M1168.4 120.5v13.6m-6.8-6.8h13.6M1175.3 120.5v13.6m-6.8-6.8h13.6M1185.7 120.5v13.6m-6.8-6.8h13.6M1202.3 125.8v13.6m-6.8-6.8h13.6M1203.8 125.8v13.6m-6.8-6.8h13.6M1234.2 125.7v13.6m-6.8-6.8h13.6M1235.7 125.7v13.6m-6.8-6.8h13.6M1241.4 125.7v13.6m-6.8-6.8h13.6M1242.9 125.7v13.6m-6.8-6.8h13.6M1244.3 125.7v13.6m-6.8-6.8h13.6M1245.8 125.7v13.6m-6.8-6.8h13.6M1249.2 125.7v13.6m-6.8-6.8h13.6M1250.8 125.7v13.6m-6.8-6.8h13.6M1252.4 125.7v13.6m-6.8-6.8h13.6M1254 125.7v13.6m-6.8-6.8h13.6M1255.6 125.7v13.6m-6.8-6.8h13.6M1257.2 125.7v13.6m-6.8-6.8h13.6M1258.8 125.7v13.6m-6.8-6.8h13.6M1260.4 125.7v13.6m-6.8-6.8h13.6M1262 125.7v13.6m-6.8-6.8h13.6M1265.2 125.7v13.6m-6.8-6.8h13.6M1266.7 125.7v13.6m-6.8-6.8h13.6M1270.4 125.7v13.6m-6.8-6.8h13.6M1272 125.7v13.6m-6.8-6.8h13.6M1273.6 125.7v13.6m-6.8-6.8h13.6M1275.3 125.7v13.6m-6.8-6.8h13.6M1276.9 125.7v13.6m-6.8-6.8h13.6M1278.5 125.7v13.6m-6.8-6.8h13.6M1280.1 125.7v13.6m-6.8-6.8h13.6M1281.7 125.7v13.6m-6.8-6.8h13.6M1283.3 125.7v13.6m-6.8-6.8h13.6M1285 125.7v13.6m-6.8-6.8h13.6M1286.6 125.7v13.6m-6.8-6.8h13.6M1288.2 125.7v13.6m-6.8-6.8h13.6M1289.8 125.7v13.6m-6.8-6.8h13.6M1293.3 125.7v13.6m-6.8-6.8h13.6M1294.8 125.7v13.6m-6.8-6.8h13.6M1296.3 125.7v13.6m-6.8-6.8h13.6M1300.2 125.7v13.6m-6.8-6.8h13.6M1301.7 125.7v13.6m-6.8-6.8h13.6M1303.2 125.7v13.6m-6.8-6.8h13.6M1304.7 125.7v13.6m-6.8-6.8h13.6M1306.2 125.7v13.6m-6.8-6.8h13.6M1307.7 125.7v13.6m-6.8-6.8h13.6M1309.2 125.7v13.6m-6.8-6.8h13.6M1310.7 125.7v13.6m-6.8-6.8h13.6M1312.2 125.7v13.6m-6.8-6.8h13.6M1313.6 157.8v13.6m-6.8-6.8h13.6M1318.4 157.8v13.6m-6.8-6.8h13.6M1319.8 157.8v13.6m-6.8-6.8h13.6M1321.2 157.8v13.6m-6.8-6.8h13.6M1325 212.9v13.6m-6.8-6.8h13.6M1326.5 212.9v13.6m-6.8-6.8h13.6M1327.9 212.9v13.6m-6.8-6.8h13.6M1329.4 212.9v13.6m-6.8-6.8h13.6M1330.8 212.9v13.6m-6.8-6.8h13.6M1332.3 212.9v13.6m-6.8-6.8h13.6M1339.4 212.9v13.6m-6.8-6.8h13.6"/>
<path class="ck" d="M1571.7 117.2H1591.6V122.5H1637.7V127.4H1639.5V132.6H1654V138.2H1657.2V143.6H1666.9V154.5H1669.5V159.9H1741.8V169.3H1813.2"/>
<path class="mk" d="M1590.6 110.4v13.6m-6.8-6.8h13.6M1604.9 115.7v13.6m-6.8-6.8h13.6M1609.2 115.7v13.6m-6.8-6.8h13.6M1612.1 115.7v13.6m-6.8-6.8h13.6M1617.9 115.7v13.6m-6.8-6.8h13.6M1637 115.7v13.6m-6.8-6.8h13.6M1648.9 125.8v13.6m-6.8-6.8h13.6M1651.4 125.8v13.6m-6.8-6.8h13.6M1659.4 136.8v13.6m-6.8-6.8h13.6M1676 153.1v13.6m-6.8-6.8h13.6M1678.8 153.1v13.6m-6.8-6.8h13.6M1683.5 153.1v13.6m-6.8-6.8h13.6M1688.2 153.1v13.6m-6.8-6.8h13.6M1692.2 153.1v13.6m-6.8-6.8h13.6M1703.1 153v13.6m-6.8-6.8h13.6M1703.9 153v13.6m-6.8-6.8h13.6M1707.5 153v13.6m-6.8-6.8h13.6M1708.6 153v13.6m-6.8-6.8h13.6M1713.6 153v13.6m-6.8-6.8h13.6M1714.8 153v13.6m-6.8-6.8h13.6M1720.5 153v13.6m-6.8-6.8h13.6M1722 153v13.6m-6.8-6.8h13.6M1726.2 153v13.6m-6.8-6.8h13.6M1727.8 153v13.6m-6.8-6.8h13.6M1729.4 153v13.6m-6.8-6.8h13.6M1731.1 153v13.6m-6.8-6.8h13.6M1732.7 153v13.6m-6.8-6.8h13.6M1734.3 153v13.6m-6.8-6.8h13.6M1735.9 153v13.6m-6.8-6.8h13.6M1737.5 153v13.6m-6.8-6.8h13.6M1739.1 153v13.6m-6.8-6.8h13.6M1740.7 153v13.6m-6.8-6.8h13.6M1741.2 162.5v13.6m-6.8-6.8h13.6M1741.4 162.5v13.6m-6.8-6.8h13.6M1745.3 162.5v13.6m-6.8-6.8h13.6M1746.6 162.5v13.6m-6.8-6.8h13.6M1747.9 162.5v13.6m-6.8-6.8h13.6M1752.2 162.5v13.6m-6.8-6.8h13.6M1753.7 162.5v13.6m-6.8-6.8h13.6M1755.1 162.5v13.6m-6.8-6.8h13.6M1756.6 162.5v13.6m-6.8-6.8h13.6M1758 162.5v13.6m-6.8-6.8h13.6M1759.5 162.5v13.6m-6.8-6.8h13.6M1764.1 162.5v13.6m-6.8-6.8h13.6M1765.5 162.5v13.6m-6.8-6.8h13.6M1766.8 162.5v13.6m-6.8-6.8h13.6M1768.2 162.5v13.6m-6.8-6.8h13.6M1769.6 162.5v13.6m-6.8-6.8h13.6M1776.4 162.5v13.6m-6.8-6.8h13.6M1777.9 162.5v13.6m-6.8-6.8h13.6M1779.5 162.5v13.6m-6.8-6.8h13.6M1781.1 162.5v13.6m-6.8-6.8h13.6M1788.8 162.5v13.6m-6.8-6.8h13.6M1792.8 162.5v13.6m-6.8-6.8h13.6M1797.8 162.5v13.6m-6.8-6.8h13.6M1801.6 162.5v13.6m-6.8-6.8h13.6M1803.2 162.5v13.6m-6.8-6.8h13.6M1804.8 162.5v13.6m-6.8-6.8h13.6M1806.4 162.5v13.6m-6.8-6.8h13.6M1812.8 162.5v13.6m-6.8-6.8h13.6M1813.2 162.5v13.6m-6.8-6.8h13.6"/>
<path class="cr" d="M1571.7 117.2H1597.7V121.6H1600.9V127.3H1604.9V132.5H1609.2V137.4H1635.6V142.7H1660.1V145.6H1660.1V153.4H1742.5V160.3H1747.9V161.2H1787.2V197.1H1798V269.1H1806.6"/>
<path class="mr" d="M1580.8 110.4v13.6m-6.8-6.8h13.6M1609.2 125.7v13.6m-6.8-6.8h13.6M1615.4 130.6v13.6m-6.8-6.8h13.6M1619.3 130.6v13.6m-6.8-6.8h13.6M1621.9 130.6v13.6m-6.8-6.8h13.6M1626.9 130.6v13.6m-6.8-6.8h13.6M1635.9 135.9v13.6m-6.8-6.8h13.6M1642.8 135.9v13.6m-6.8-6.8h13.6M1649.3 135.9v13.6m-6.8-6.8h13.6M1652.2 135.9v13.6m-6.8-6.8h13.6M1660.2 138.8v13.6m-6.8-6.8h13.6M1661.5 146.6v13.6m-6.8-6.8h13.6M1662.4 146.6v13.6m-6.8-6.8h13.6M1663.4 146.6v13.6m-6.8-6.8h13.6M1676.7 146.6v13.6m-6.8-6.8h13.6M1677.8 146.6v13.6m-6.8-6.8h13.6M1666.9 146.6v13.6m-6.8-6.8h13.6M1685 146.6v13.6m-6.8-6.8h13.6M1710 146.5v13.6m-6.8-6.8h13.6M1716 146.5v13.6m-6.8-6.8h13.6M1716.9 146.5v13.6m-6.8-6.8h13.6M1720.1 146.5v13.6m-6.8-6.8h13.6M1723.2 146.5v13.6m-6.8-6.8h13.6M1724.6 146.5v13.6m-6.8-6.8h13.6M1726 146.5v13.6m-6.8-6.8h13.6M1727.4 146.5v13.6m-6.8-6.8h13.6M1728.8 146.5v13.6m-6.8-6.8h13.6M1730.3 146.5v13.6m-6.8-6.8h13.6M1733.1 146.5v13.6m-6.8-6.8h13.6M1734.6 146.5v13.6m-6.8-6.8h13.6M1736.1 146.5v13.6m-6.8-6.8h13.6M1737.7 146.5v13.6m-6.8-6.8h13.6M1739.2 146.5v13.6m-6.8-6.8h13.6M1740.7 146.5v13.6m-6.8-6.8h13.6M1743.9 153.5v13.6m-6.8-6.8h13.6M1745.4 153.5v13.6m-6.8-6.8h13.6M1746.9 153.5v13.6m-6.8-6.8h13.6M1749 154.4v13.6m-6.8-6.8h13.6M1750.5 154.4v13.6m-6.8-6.8h13.6M1752.1 154.4v13.6m-6.8-6.8h13.6M1753.7 154.4v13.6m-6.8-6.8h13.6M1755.2 154.4v13.6m-6.8-6.8h13.6M1756.8 154.4v13.6m-6.8-6.8h13.6M1758.4 154.4v13.6m-6.8-6.8h13.6M1759.9 154.4v13.6m-6.8-6.8h13.6M1761.5 154.4v13.6m-6.8-6.8h13.6M1763.1 154.4v13.6m-6.8-6.8h13.6M1767.2 154.4v13.6m-6.8-6.8h13.6M1768.4 154.4v13.6m-6.8-6.8h13.6M1769.6 154.4v13.6m-6.8-6.8h13.6M1774.2 154.4v13.6m-6.8-6.8h13.6M1775.7 154.4v13.6m-6.8-6.8h13.6M1777.2 154.4v13.6m-6.8-6.8h13.6M1778.7 154.4v13.6m-6.8-6.8h13.6M1780.2 154.4v13.6m-6.8-6.8h13.6M1781.7 154.4v13.6m-6.8-6.8h13.6M1783.2 154.4v13.6m-6.8-6.8h13.6M1784.7 154.4v13.6m-6.8-6.8h13.6M1786.2 154.4v13.6m-6.8-6.8h13.6M1787.4 190.3v13.6m-6.8-6.8h13.6M1792.5 190.3v13.6m-6.8-6.8h13.6M1794.2 190.3v13.6m-6.8-6.8h13.6M1795.9 190.3v13.6m-6.8-6.8h13.6M1799 262.3v13.6m-6.8-6.8h13.6M1802.6 262.3v13.6m-6.8-6.8h13.6M1803.8 262.3v13.6m-6.8-6.8h13.6M1805.1 262.3v13.6m-6.8-6.8h13.6M1806.3 262.3v13.6m-6.8-6.8h13.6"/>
<path class="ck" d="M150.8 664.4L155.5 665.7L163.7 672.7L171.9 681.4L180.7 691.2L185.3 701.5L191.2 711.8L196.9 722.1L202.2 732.4L209.2 742.7L217.5 753L223 763.3L233 773.6L240.5 784L248.5 794.3L255.1 804.6L261.3 814.9L268.7 823.3L276.4 830.6L284.2 838.4L291.9 843.8L300 848.5L310.3 854.9L320.6 865.2L330.9 868.5L341.2 870.2L351.5 877.4L361.8 880.7L372.1 888.4L382.4 892.2L392.7 897L403 899.2L413.3 902.5L423.6 906.2L434 908.5L444.3 909.3L454.6 912.4L464.9 919.8L475.2 923.1L485.5 925.5H489.4"/>
<path class="mk" d="M150.8 657.6v13.6m-6.8-6.8h13.6M151.5 657.9v13.6m-6.8-6.8h13.6M151.6 657.4v13.6m-6.8-6.8h13.6M151.8 657.7v13.6m-6.8-6.8h13.6M152.8 658.3v13.6m-6.8-6.8h13.6M153.4 658.4v13.6m-6.8-6.8h13.6M154 658.2v13.6m-6.8-6.8h13.6M154.4 658.3v13.6m-6.8-6.8h13.6M155.7 658.7v13.6m-6.8-6.8h13.6M156.5 659.4v13.6m-6.8-6.8h13.6M157.1 660.1v13.6m-6.8-6.8h13.6M157.3 660.7v13.6m-6.8-6.8h13.6M157.4 660.2v13.6m-6.8-6.8h13.6M158.6 661.5v13.6m-6.8-6.8h13.6M158.6 661.9v13.6m-6.8-6.8h13.6M160 662.4v13.6m-6.8-6.8h13.6M160.3 662.7v13.6m-6.8-6.8h13.6M160.5 663.2v13.6m-6.8-6.8h13.6M160.5 663.3v13.6m-6.8-6.8h13.6M160.6 663v13.6m-6.8-6.8h13.6M161.4 663.8v13.6m-6.8-6.8h13.6M161.7 664.2v13.6m-6.8-6.8h13.6M162 664.3v13.6m-6.8-6.8h13.6M162 664.6v13.6m-6.8-6.8h13.6M163.7 666.2v13.6m-6.8-6.8h13.6M164.1 666.2v13.6m-6.8-6.8h13.6M164.3 666.7v13.6m-6.8-6.8h13.6M164.8 666.7v13.6m-6.8-6.8h13.6M164.9 667v13.6m-6.8-6.8h13.6M165.2 667.7v13.6m-6.8-6.8h13.6M165.5 667.4v13.6m-6.8-6.8h13.6M166.2 668.5v13.6m-6.8-6.8h13.6M166.6 668.7v13.6m-6.8-6.8h13.6M166.8 669.1v13.6m-6.8-6.8h13.6M167.4 669.5v13.6m-6.8-6.8h13.6M167.8 669.9v13.6m-6.8-6.8h13.6M168.3 670.3v13.6m-6.8-6.8h13.6M168.4 670.7v13.6m-6.8-6.8h13.6M168.8 671v13.6m-6.8-6.8h13.6M169.1 671.4v13.6m-6.8-6.8h13.6M169.2 671.7v13.6m-6.8-6.8h13.6M170.6 673.2v13.6m-6.8-6.8h13.6M171.9 674.3v13.6m-6.8-6.8h13.6M173 675.7v13.6m-6.8-6.8h13.6M173.1 676.1v13.6m-6.8-6.8h13.6M174.1 676.6v13.6m-6.8-6.8h13.6M174.2 677.4v13.6m-6.8-6.8h13.6M174.4 677.1v13.6m-6.8-6.8h13.6M174.4 677v13.6m-6.8-6.8h13.6M174.8 678.2v13.6m-6.8-6.8h13.6M177.1 680.4v13.6m-6.8-6.8h13.6M177.3 680.5v13.6m-6.8-6.8h13.6M179.1 682.8v13.6m-6.8-6.8h13.6M180.4 683.8v13.6m-6.8-6.8h13.6M181.2 685.4v13.6m-6.8-6.8h13.6M182.1 687.2v13.6m-6.8-6.8h13.6M184.8 693.9v13.6m-6.8-6.8h13.6M185 693.8v13.6m-6.8-6.8h13.6M187.5 698.3v13.6m-6.8-6.8h13.6M191.1 704.9v13.6m-6.8-6.8h13.6M192.6 707.8v13.6m-6.8-6.8h13.6M192.9 708v13.6m-6.8-6.8h13.6M193.3 708.9v13.6m-6.8-6.8h13.6M194.7 711.1v13.6m-6.8-6.8h13.6M197.3 716v13.6m-6.8-6.8h13.6M197.6 716.6v13.6m-6.8-6.8h13.6M201.2 723.6v13.6m-6.8-6.8h13.6M202 725.5v13.6m-6.8-6.8h13.6M204.9 729.8v13.6m-6.8-6.8h13.6M205.1 729.9v13.6m-6.8-6.8h13.6M205.9 731.3v13.6m-6.8-6.8h13.6M206.2 731.4v13.6m-6.8-6.8h13.6M206.4 731.9v13.6m-6.8-6.8h13.6M206.7 731.7v13.6m-6.8-6.8h13.6M207.1 733.1v13.6m-6.8-6.8h13.6M207.6 733.9v13.6m-6.8-6.8h13.6M208.5 734.9v13.6m-6.8-6.8h13.6M209 735.5v13.6m-6.8-6.8h13.6M209.1 735.6v13.6m-6.8-6.8h13.6M209.2 736.2v13.6m-6.8-6.8h13.6M209.7 736.5v13.6m-6.8-6.8h13.6M210 736.6v13.6m-6.8-6.8h13.6M210.3 737.5v13.6m-6.8-6.8h13.6M210.5 737.3v13.6m-6.8-6.8h13.6M210.7 737.7v13.6m-6.8-6.8h13.6M211.2 738.1v13.6m-6.8-6.8h13.6M211.2 738.3v13.6m-6.8-6.8h13.6M211.7 739.2v13.6m-6.8-6.8h13.6M212.1 739.9v13.6m-6.8-6.8h13.6M212.3 739.4v13.6m-6.8-6.8h13.6M212.6 740v13.6m-6.8-6.8h13.6M212.6 740.3v13.6m-6.8-6.8h13.6M212.8 740.2v13.6m-6.8-6.8h13.6M212.9 740.9v13.6m-6.8-6.8h13.6M213 740.5v13.6m-6.8-6.8h13.6M213.1 740.6v13.6m-6.8-6.8h13.6M213.3 740.8v13.6m-6.8-6.8h13.6M214.3 742.3v13.6m-6.8-6.8h13.6M214.8 742.6v13.6m-6.8-6.8h13.6M215 743.3v13.6m-6.8-6.8h13.6M215.7 743.9v13.6m-6.8-6.8h13.6M216 744.6v13.6m-6.8-6.8h13.6M216.7 745v13.6m-6.8-6.8h13.6M217 745.8v13.6m-6.8-6.8h13.6M217.2 746v13.6m-6.8-6.8h13.6M217.6 746.8v13.6m-6.8-6.8h13.6M217.8 747v13.6m-6.8-6.8h13.6M217.9 747.2v13.6m-6.8-6.8h13.6M218 747.3v13.6m-6.8-6.8h13.6M218.2 747.4v13.6m-6.8-6.8h13.6M218.2 747.4v13.6m-6.8-6.8h13.6M218.5 747.8v13.6m-6.8-6.8h13.6M218.5 748.4v13.6m-6.8-6.8h13.6M218.6 748.6v13.6m-6.8-6.8h13.6M218.9 748.7v13.6m-6.8-6.8h13.6M219.5 750.2v13.6m-6.8-6.8h13.6M219.6 749.8v13.6m-6.8-6.8h13.6M219.9 751v13.6m-6.8-6.8h13.6M220.2 751.4v13.6m-6.8-6.8h13.6M220.3 751.6v13.6m-6.8-6.8h13.6M220.4 751.6v13.6m-6.8-6.8h13.6M220.6 751.8v13.6m-6.8-6.8h13.6M220.7 752.4v13.6m-6.8-6.8h13.6M220.8 752.1v13.6m-6.8-6.8h13.6M220.8 752.8v13.6m-6.8-6.8h13.6M221.1 752.5v13.6m-6.8-6.8h13.6M221.6 754.1v13.6m-6.8-6.8h13.6M222.1 754.7v13.6m-6.8-6.8h13.6M222.5 755.4v13.6m-6.8-6.8h13.6M222.5 755.9v13.6m-6.8-6.8h13.6M223.1 756.3v13.6m-6.8-6.8h13.6M224 757.1v13.6m-6.8-6.8h13.6M224.1 757.3v13.6m-6.8-6.8h13.6M224.2 757.5v13.6m-6.8-6.8h13.6M224.8 758.1v13.6m-6.8-6.8h13.6M224.9 758.2v13.6m-6.8-6.8h13.6M225 758.9v13.6m-6.8-6.8h13.6M225.4 758.7v13.6m-6.8-6.8h13.6M225.9 759.5v13.6m-6.8-6.8h13.6M226.2 759.8v13.6m-6.8-6.8h13.6M226.6 760.5v13.6m-6.8-6.8h13.6M226.9 760.7v13.6m-6.8-6.8h13.6M227.2 760.9v13.6m-6.8-6.8h13.6M227.4 761v13.6m-6.8-6.8h13.6M227.7 761.5v13.6m-6.8-6.8h13.6M227.9 761.9v13.6m-6.8-6.8h13.6M228.2 762.1v13.6m-6.8-6.8h13.6M228.7 762.7v13.6m-6.8-6.8h13.6M229.2 762.8v13.6m-6.8-6.8h13.6M229.4 763.2v13.6m-6.8-6.8h13.6M230 764v13.6m-6.8-6.8h13.6M230.1 763.4v13.6m-6.8-6.8h13.6M230.1 763.5v13.6m-6.8-6.8h13.6M230.2 763.5v13.6m-6.8-6.8h13.6M230.3 763.7v13.6m-6.8-6.8h13.6M230.8 764.6v13.6m-6.8-6.8h13.6M232.3 766.4v13.6m-6.8-6.8h13.6M232.9 767v13.6m-6.8-6.8h13.6M232.9 766.5v13.6m-6.8-6.8h13.6M233.9 768v13.6m-6.8-6.8h13.6M234 768.3v13.6m-6.8-6.8h13.6M234.2 768.4v13.6m-6.8-6.8h13.6M234.3 768.4v13.6m-6.8-6.8h13.6M234.4 768.8v13.6m-6.8-6.8h13.6M235.5 770.6v13.6m-6.8-6.8h13.6M236 771.3v13.6m-6.8-6.8h13.6M236.2 771v13.6m-6.8-6.8h13.6M237.1 772.5v13.6m-6.8-6.8h13.6M237.5 772.6v13.6m-6.8-6.8h13.6M237.6 773.1v13.6m-6.8-6.8h13.6M238.1 774.1v13.6m-6.8-6.8h13.6M238.6 774.4v13.6m-6.8-6.8h13.6M238.7 775.1v13.6m-6.8-6.8h13.6M240 776.5v13.6m-6.8-6.8h13.6M240.1 776.7v13.6m-6.8-6.8h13.6M240.4 776.9v13.6m-6.8-6.8h13.6M240.5 777.1v13.6m-6.8-6.8h13.6M240.8 777.3v13.6m-6.8-6.8h13.6M241.1 778.4v13.6m-6.8-6.8h13.6M241.6 778.5v13.6m-6.8-6.8h13.6M241.9 778.6v13.6m-6.8-6.8h13.6M242.4 779.7v13.6m-6.8-6.8h13.6M242.4 779.7v13.6m-6.8-6.8h13.6M242.8 780.2v13.6m-6.8-6.8h13.6M243 780.2v13.6m-6.8-6.8h13.6M243.1 781v13.6m-6.8-6.8h13.6M243.3 780.8v13.6m-6.8-6.8h13.6M243.5 780.8v13.6m-6.8-6.8h13.6M243.7 781.1v13.6m-6.8-6.8h13.6M243.9 781.4v13.6m-6.8-6.8h13.6M244 782.1v13.6m-6.8-6.8h13.6M244.2 781.8v13.6m-6.8-6.8h13.6M244.6 782.3v13.6m-6.8-6.8h13.6M244.8 782.9v13.6m-6.8-6.8h13.6M244.9 783v13.6m-6.8-6.8h13.6M245 782.7v13.6m-6.8-6.8h13.6M245.6 784.1v13.6m-6.8-6.8h13.6M246 784v13.6m-6.8-6.8h13.6M246.2 784.4v13.6m-6.8-6.8h13.6M246.9 785.2v13.6m-6.8-6.8h13.6M247 785.7v13.6m-6.8-6.8h13.6M247.4 786.1v13.6m-6.8-6.8h13.6M247.7 786.7v13.6m-6.8-6.8h13.6M247.9 787v13.6m-6.8-6.8h13.6M248.1 786.9v13.6m-6.8-6.8h13.6M248.2 787.3v13.6m-6.8-6.8h13.6M248.7 787.6v13.6m-6.8-6.8h13.6M249 788.4v13.6m-6.8-6.8h13.6M249.2 788.7v13.6m-6.8-6.8h13.6M249.5 789.3v13.6m-6.8-6.8h13.6M249.7 789.2v13.6m-6.8-6.8h13.6M249.7 789.7v13.6m-6.8-6.8h13.6M250.3 790.1v13.6m-6.8-6.8h13.6M251.4 792.3v13.6m-6.8-6.8h13.6M251.5 792.4v13.6m-6.8-6.8h13.6M251.6 792.2v13.6m-6.8-6.8h13.6M251.7 792.5v13.6m-6.8-6.8h13.6M251.8 792.2v13.6m-6.8-6.8h13.6M251.8 792.5v13.6m-6.8-6.8h13.6M251.9 792.5v13.6m-6.8-6.8h13.6M252.5 793.6v13.6m-6.8-6.8h13.6M252.7 794.1v13.6m-6.8-6.8h13.6M253.6 795.2v13.6m-6.8-6.8h13.6M253.7 795.9v13.6m-6.8-6.8h13.6M254.5 797.2v13.6m-6.8-6.8h13.6M254.8 797.1v13.6m-6.8-6.8h13.6M254.8 797.7v13.6m-6.8-6.8h13.6M255.3 798.2v13.6m-6.8-6.8h13.6M255.8 798.8v13.6m-6.8-6.8h13.6M256.1 799.7v13.6m-6.8-6.8h13.6M256.1 799.5v13.6m-6.8-6.8h13.6M256.2 799.8v13.6m-6.8-6.8h13.6M256.8 800.6v13.6m-6.8-6.8h13.6M256.9 800.4v13.6m-6.8-6.8h13.6M257.2 801.1v13.6m-6.8-6.8h13.6M257.3 801.1v13.6m-6.8-6.8h13.6M258.1 802.8v13.6m-6.8-6.8h13.6M258.4 803.5v13.6m-6.8-6.8h13.6M259.1 804.5v13.6m-6.8-6.8h13.6M259.4 805.1v13.6m-6.8-6.8h13.6M259.5 805.4v13.6m-6.8-6.8h13.6M259.6 805.4v13.6m-6.8-6.8h13.6M259.8 805.7v13.6m-6.8-6.8h13.6M260.9 807.2v13.6m-6.8-6.8h13.6M261.1 808v13.6m-6.8-6.8h13.6M261.6 808.4v13.6m-6.8-6.8h13.6M262.2 809.3v13.6m-6.8-6.8h13.6M263 810.2v13.6m-6.8-6.8h13.6M263.2 810.1v13.6m-6.8-6.8h13.6M263.3 810v13.6m-6.8-6.8h13.6M263.3 810.8v13.6m-6.8-6.8h13.6M263.4 810.6v13.6m-6.8-6.8h13.6M263.5 810.9v13.6m-6.8-6.8h13.6M263.8 810.6v13.6m-6.8-6.8h13.6M264.5 812v13.6m-6.8-6.8h13.6M265.9 813.1v13.6m-6.8-6.8h13.6M266.1 813.7v13.6m-6.8-6.8h13.6M266.3 813.8v13.6m-6.8-6.8h13.6M266.8 814.5v13.6m-6.8-6.8h13.6M267.5 815.3v13.6m-6.8-6.8h13.6M267.6 815.5v13.6m-6.8-6.8h13.6M267.9 815.3v13.6m-6.8-6.8h13.6M267.9 815.7v13.6m-6.8-6.8h13.6M268.1 815.5v13.6m-6.8-6.8h13.6M268.4 816.1v13.6m-6.8-6.8h13.6M268.5 816.4v13.6m-6.8-6.8h13.6M268.9 816.7v13.6m-6.8-6.8h13.6M270.4 818.5v13.6m-6.8-6.8h13.6M270.6 818.6v13.6m-6.8-6.8h13.6M270.8 818.8v13.6m-6.8-6.8h13.6M270.8 818.4v13.6m-6.8-6.8h13.6M272 819.8v13.6m-6.8-6.8h13.6M272.6 820v13.6m-6.8-6.8h13.6M272.7 820.6v13.6m-6.8-6.8h13.6M272.7 820.1v13.6m-6.8-6.8h13.6M273 820.8v13.6m-6.8-6.8h13.6M273.5 821.4v13.6m-6.8-6.8h13.6M274.2 821.6v13.6m-6.8-6.8h13.6M275.3 822.6v13.6m-6.8-6.8h13.6M275.3 823.2v13.6m-6.8-6.8h13.6M276.3 823.8v13.6m-6.8-6.8h13.6M276.6 823.7v13.6m-6.8-6.8h13.6M276.7 823.7v13.6m-6.8-6.8h13.6M276.8 824.1v13.6m-6.8-6.8h13.6M277.7 825.5v13.6m-6.8-6.8h13.6M278.1 825.6v13.6m-6.8-6.8h13.6M278.3 826v13.6m-6.8-6.8h13.6M278.9 826.7v13.6m-6.8-6.8h13.6M279.7 827.2v13.6m-6.8-6.8h13.6M280.1 827.2v13.6m-6.8-6.8h13.6M280.4 827.7v13.6m-6.8-6.8h13.6M280.4 827.6v13.6m-6.8-6.8h13.6M280.7 827.8v13.6m-6.8-6.8h13.6M281.1 828.4v13.6m-6.8-6.8h13.6M282.6 830.2v13.6m-6.8-6.8h13.6M283 830.3v13.6m-6.8-6.8h13.6M283.2 830.3v13.6m-6.8-6.8h13.6M284.7 832.3v13.6m-6.8-6.8h13.6M285.2 832.4v13.6m-6.8-6.8h13.6M285.3 832.4v13.6m-6.8-6.8h13.6M285.4 832.3v13.6m-6.8-6.8h13.6M285.8 832.5v13.6m-6.8-6.8h13.6M286 833v13.6m-6.8-6.8h13.6M286.3 833.4v13.6m-6.8-6.8h13.6M286.4 832.8v13.6m-6.8-6.8h13.6M287.8 834.2v13.6m-6.8-6.8h13.6M288.4 834.6v13.6m-6.8-6.8h13.6M288.5 835v13.6m-6.8-6.8h13.6M288.8 835.2v13.6m-6.8-6.8h13.6M288.9 834.7v13.6m-6.8-6.8h13.6M289.3 835v13.6m-6.8-6.8h13.6M290.3 835.7v13.6m-6.8-6.8h13.6M290.4 835.7v13.6m-6.8-6.8h13.6M290.6 836.4v13.6m-6.8-6.8h13.6M291.6 836.9v13.6m-6.8-6.8h13.6M291.9 836.6v13.6m-6.8-6.8h13.6M292.9 837.3v13.6m-6.8-6.8h13.6M293 837.6v13.6m-6.8-6.8h13.6M294 838v13.6m-6.8-6.8h13.6M294.1 838.6v13.6m-6.8-6.8h13.6M294.2 838.5v13.6m-6.8-6.8h13.6M294.3 838.2v13.6m-6.8-6.8h13.6M294.4 838.4v13.6m-6.8-6.8h13.6M295.8 839.5v13.6m-6.8-6.8h13.6M296.2 839.2v13.6m-6.8-6.8h13.6M296.3 839.4v13.6m-6.8-6.8h13.6M297.1 840.4v13.6m-6.8-6.8h13.6M297.2 840v13.6m-6.8-6.8h13.6M298.9 840.8v13.6m-6.8-6.8h13.6M299 841v13.6m-6.8-6.8h13.6M300.2 841.7v13.6m-6.8-6.8h13.6M300.9 842v13.6m-6.8-6.8h13.6M301.4 842.4v13.6m-6.8-6.8h13.6M301.9 843.1v13.6m-6.8-6.8h13.6M303 843.5v13.6m-6.8-6.8h13.6M304.9 844.7v13.6m-6.8-6.8h13.6M306.4 846.1v13.6m-6.8-6.8h13.6M308.3 846.5v13.6m-6.8-6.8h13.6M308.5 847.1v13.6m-6.8-6.8h13.6M309.6 847.5v13.6m-6.8-6.8h13.6M310.4 848.1v13.6m-6.8-6.8h13.6M310.4 847.9v13.6m-6.8-6.8h13.6M310.5 848.1v13.6m-6.8-6.8h13.6M311.7 849.6v13.6m-6.8-6.8h13.6M312.5 850.7v13.6m-6.8-6.8h13.6M312.8 850.7v13.6m-6.8-6.8h13.6M313.2 851.2v13.6m-6.8-6.8h13.6M313.3 851.4v13.6m-6.8-6.8h13.6M313.4 851.1v13.6m-6.8-6.8h13.6M313.9 851.9v13.6m-6.8-6.8h13.6M314.6 852.3v13.6m-6.8-6.8h13.6M314.8 852.8v13.6m-6.8-6.8h13.6M314.9 853v13.6m-6.8-6.8h13.6M315 852.8v13.6m-6.8-6.8h13.6M315.2 853.2v13.6m-6.8-6.8h13.6M315.3 852.8v13.6m-6.8-6.8h13.6M315.3 852.9v13.6m-6.8-6.8h13.6M315.8 854v13.6m-6.8-6.8h13.6M315.8 853.6v13.6m-6.8-6.8h13.6M316 853.7v13.6m-6.8-6.8h13.6M316.2 853.7v13.6m-6.8-6.8h13.6M316.5 854.1v13.6m-6.8-6.8h13.6M316.5 854v13.6m-6.8-6.8h13.6M317.7 855.7v13.6m-6.8-6.8h13.6M319.2 857.3v13.6m-6.8-6.8h13.6M319.8 857.4v13.6m-6.8-6.8h13.6M319.9 858.1v13.6m-6.8-6.8h13.6M320.4 858.4v13.6m-6.8-6.8h13.6M320.4 858.5v13.6m-6.8-6.8h13.6M320.8 858.2v13.6m-6.8-6.8h13.6M321 858.9v13.6m-6.8-6.8h13.6M321.5 858.4v13.6m-6.8-6.8h13.6M321.6 858.9v13.6m-6.8-6.8h13.6M321.9 858.8v13.6m-6.8-6.8h13.6M322 858.6v13.6m-6.8-6.8h13.6M322.4 858.9v13.6m-6.8-6.8h13.6M322.5 858.7v13.6m-6.8-6.8h13.6M322.9 858.8v13.6m-6.8-6.8h13.6M322.9 859.1v13.6m-6.8-6.8h13.6M323 859.4v13.6m-6.8-6.8h13.6M323.9 859.6v13.6m-6.8-6.8h13.6M325.7 859.8v13.6m-6.8-6.8h13.6M326 860.1v13.6m-6.8-6.8h13.6M326.1 860.5v13.6m-6.8-6.8h13.6M326.2 860.6v13.6m-6.8-6.8h13.6M326.8 860.8v13.6m-6.8-6.8h13.6M326.9 860.8v13.6m-6.8-6.8h13.6M328.9 861.3v13.6m-6.8-6.8h13.6M329.4 861.4v13.6m-6.8-6.8h13.6M329.8 861.6v13.6m-6.8-6.8h13.6M330.3 861.6v13.6m-6.8-6.8h13.6M330.6 861.7v13.6m-6.8-6.8h13.6M331.1 862.1v13.6m-6.8-6.8h13.6M332.1 861.8v13.6m-6.8-6.8h13.6M332.8 861.8v13.6m-6.8-6.8h13.6M333.2 862.1v13.6m-6.8-6.8h13.6M334 861.9v13.6m-6.8-6.8h13.6M334.1 862v13.6m-6.8-6.8h13.6M334.7 862.1v13.6m-6.8-6.8h13.6M335.2 862.7v13.6m-6.8-6.8h13.6M335.6 862.2v13.6m-6.8-6.8h13.6M336.1 862.5v13.6m-6.8-6.8h13.6M336.5 862.3v13.6m-6.8-6.8h13.6M337.2 862.6v13.6m-6.8-6.8h13.6M339.3 863.1v13.6m-6.8-6.8h13.6M340 863.5v13.6m-6.8-6.8h13.6M342 863.5v13.6m-6.8-6.8h13.6M343.3 864.5v13.6m-6.8-6.8h13.6M344.8 866.1v13.6m-6.8-6.8h13.6M345 866.2v13.6m-6.8-6.8h13.6M345.4 866.3v13.6m-6.8-6.8h13.6M345.9 866.6v13.6m-6.8-6.8h13.6M346.5 867.2v13.6m-6.8-6.8h13.6M346.5 867.2v13.6m-6.8-6.8h13.6M347.2 867.8v13.6m-6.8-6.8h13.6M347.5 867.8v13.6m-6.8-6.8h13.6M347.6 867.6v13.6m-6.8-6.8h13.6M348.8 868.3v13.6m-6.8-6.8h13.6M349.9 869.2v13.6m-6.8-6.8h13.6M350.2 869.7v13.6m-6.8-6.8h13.6M350.3 869.7v13.6m-6.8-6.8h13.6M351.1 870.2v13.6m-6.8-6.8h13.6M351.2 870v13.6m-6.8-6.8h13.6M352.9 870.7v13.6m-6.8-6.8h13.6M353.5 871.3v13.6m-6.8-6.8h13.6M353.7 871.3v13.6m-6.8-6.8h13.6M354.4 871.3v13.6m-6.8-6.8h13.6M354.6 871.9v13.6m-6.8-6.8h13.6M354.7 871.6v13.6m-6.8-6.8h13.6M355.1 871.9v13.6m-6.8-6.8h13.6M356.2 872.3v13.6m-6.8-6.8h13.6M356.8 872.3v13.6m-6.8-6.8h13.6M356.9 872.4v13.6m-6.8-6.8h13.6M357.2 872.6v13.6m-6.8-6.8h13.6M357.5 872.2v13.6m-6.8-6.8h13.6M357.8 872.8v13.6m-6.8-6.8h13.6M358.2 872.8v13.6m-6.8-6.8h13.6M358.3 872.5v13.6m-6.8-6.8h13.6M358.5 872.8v13.6m-6.8-6.8h13.6M358.5 873.2v13.6m-6.8-6.8h13.6M358.8 872.5v13.6m-6.8-6.8h13.6M358.9 873v13.6m-6.8-6.8h13.6M359.5 873.4v13.6m-6.8-6.8h13.6M359.6 873.5v13.6m-6.8-6.8h13.6M360.7 873.5v13.6m-6.8-6.8h13.6M361.4 873.6v13.6m-6.8-6.8h13.6M361.5 873.4v13.6m-6.8-6.8h13.6M363.1 875.2v13.6m-6.8-6.8h13.6M363.4 875.2v13.6m-6.8-6.8h13.6M363.7 875.5v13.6m-6.8-6.8h13.6M363.8 875.6v13.6m-6.8-6.8h13.6M363.9 875.5v13.6m-6.8-6.8h13.6M364.4 876.1v13.6m-6.8-6.8h13.6M364.9 875.9v13.6m-6.8-6.8h13.6M365.7 876.7v13.6m-6.8-6.8h13.6M366.1 877.3v13.6m-6.8-6.8h13.6M367.8 878.1v13.6m-6.8-6.8h13.6M368.1 878.5v13.6m-6.8-6.8h13.6M369.1 879.2v13.6m-6.8-6.8h13.6M370.3 880.4v13.6m-6.8-6.8h13.6M370.5 880.6v13.6m-6.8-6.8h13.6M371.1 880.5v13.6m-6.8-6.8h13.6M371.3 880.7v13.6m-6.8-6.8h13.6M372.2 881.5v13.6m-6.8-6.8h13.6M372.4 881.9v13.6m-6.8-6.8h13.6M374.4 882.2v13.6m-6.8-6.8h13.6M375.1 882.5v13.6m-6.8-6.8h13.6M376 883.2v13.6m-6.8-6.8h13.6M376.9 883.4v13.6m-6.8-6.8h13.6M377 883.7v13.6m-6.8-6.8h13.6M377 883.5v13.6m-6.8-6.8h13.6M378.9 883.9v13.6m-6.8-6.8h13.6M379.3 884.4v13.6m-6.8-6.8h13.6M379.9 884.3v13.6m-6.8-6.8h13.6M380.2 884.9v13.6m-6.8-6.8h13.6M380.9 884.6v13.6m-6.8-6.8h13.6M381.6 885.4v13.6m-6.8-6.8h13.6M382.1 885.6v13.6m-6.8-6.8h13.6M382.3 885.2v13.6m-6.8-6.8h13.6M383.4 885.7v13.6m-6.8-6.8h13.6M383.5 885.6v13.6m-6.8-6.8h13.6M384.7 886.7v13.6m-6.8-6.8h13.6M384.9 886.7v13.6m-6.8-6.8h13.6M385 886.7v13.6m-6.8-6.8h13.6M385.1 886.7v13.6m-6.8-6.8h13.6M385.8 887v13.6m-6.8-6.8h13.6M386.4 886.9v13.6m-6.8-6.8h13.6M386.7 887.6v13.6m-6.8-6.8h13.6M387 887.7v13.6m-6.8-6.8h13.6M387.5 888v13.6m-6.8-6.8h13.6M388.3 888v13.6m-6.8-6.8h13.6M389.2 888.8v13.6m-6.8-6.8h13.6M389.6 888.9v13.6m-6.8-6.8h13.6M389.9 888.9v13.6m-6.8-6.8h13.6M390.1 888.9v13.6m-6.8-6.8h13.6M390.3 889.3v13.6m-6.8-6.8h13.6M390.8 889.4v13.6m-6.8-6.8h13.6M391.2 889.4v13.6m-6.8-6.8h13.6M391.3 889.6v13.6m-6.8-6.8h13.6M391.7 889.5v13.6m-6.8-6.8h13.6M392.1 889.6v13.6m-6.8-6.8h13.6M392.7 890.4v13.6m-6.8-6.8h13.6M392.9 889.9v13.6m-6.8-6.8h13.6M395 890.8v13.6m-6.8-6.8h13.6M395.3 890.4v13.6m-6.8-6.8h13.6M395.8 890.6v13.6m-6.8-6.8h13.6M397.2 891.3v13.6m-6.8-6.8h13.6M397.4 891.1v13.6m-6.8-6.8h13.6M397.5 891v13.6m-6.8-6.8h13.6M397.9 891.6v13.6m-6.8-6.8h13.6M398.3 891.7v13.6m-6.8-6.8h13.6M398.5 891.1v13.6m-6.8-6.8h13.6M399.6 891.6v13.6m-6.8-6.8h13.6M399.8 891.7v13.6m-6.8-6.8h13.6M400.3 891.6v13.6m-6.8-6.8h13.6M400.4 891.9v13.6m-6.8-6.8h13.6M401.1 892v13.6m-6.8-6.8h13.6M401.2 892.3v13.6m-6.8-6.8h13.6M401.5 892.1v13.6m-6.8-6.8h13.6M402.8 892.1v13.6m-6.8-6.8h13.6M403.3 892.4v13.6m-6.8-6.8h13.6M403.9 892.5v13.6m-6.8-6.8h13.6M404 892.5v13.6m-6.8-6.8h13.6M404.5 892.7v13.6m-6.8-6.8h13.6M406 893.7v13.6m-6.8-6.8h13.6M406.8 893.6v13.6m-6.8-6.8h13.6M407.8 894v13.6m-6.8-6.8h13.6M408.7 894.6v13.6m-6.8-6.8h13.6M408.8 894.5v13.6m-6.8-6.8h13.6M410.2 894.6v13.6m-6.8-6.8h13.6M410.5 894.4v13.6m-6.8-6.8h13.6M411.8 895v13.6m-6.8-6.8h13.6M411.9 894.9v13.6m-6.8-6.8h13.6M412.3 895.5v13.6m-6.8-6.8h13.6M413.7 896v13.6m-6.8-6.8h13.6M413.8 896.2v13.6m-6.8-6.8h13.6M415 896.6v13.6m-6.8-6.8h13.6M416.3 897.1v13.6m-6.8-6.8h13.6M417 897.3v13.6m-6.8-6.8h13.6M417.1 897.5v13.6m-6.8-6.8h13.6M417.2 897v13.6m-6.8-6.8h13.6M417.7 897.3v13.6m-6.8-6.8h13.6M417.9 897.4v13.6m-6.8-6.8h13.6M418.1 897.6v13.6m-6.8-6.8h13.6M418.2 897.4v13.6m-6.8-6.8h13.6M418.8 897.7v13.6m-6.8-6.8h13.6M418.9 897.7v13.6m-6.8-6.8h13.6M420.5 898.3v13.6m-6.8-6.8h13.6M421.2 898.5v13.6m-6.8-6.8h13.6M423.3 899.3v13.6m-6.8-6.8h13.6M424.3 899.7v13.6m-6.8-6.8h13.6M425.3 899.7v13.6m-6.8-6.8h13.6M426.9 900.5v13.6m-6.8-6.8h13.6M428.3 900.8v13.6m-6.8-6.8h13.6M428.5 900.4v13.6m-6.8-6.8h13.6M429.9 901.1v13.6m-6.8-6.8h13.6M430.4 901v13.6m-6.8-6.8h13.6M430.5 901v13.6m-6.8-6.8h13.6M430.6 901v13.6m-6.8-6.8h13.6M430.8 901.1v13.6m-6.8-6.8h13.6M430.9 900.9v13.6m-6.8-6.8h13.6M431.7 901.3v13.6m-6.8-6.8h13.6M431.8 901.6v13.6m-6.8-6.8h13.6M431.9 901.2v13.6m-6.8-6.8h13.6M432.7 901.5v13.6m-6.8-6.8h13.6M433.3 901.9v13.6m-6.8-6.8h13.6M433.4 901.6v13.6m-6.8-6.8h13.6M433.6 901.7v13.6m-6.8-6.8h13.6M434 901.8v13.6m-6.8-6.8h13.6M435 901.8v13.6m-6.8-6.8h13.6M435.3 901.8v13.6m-6.8-6.8h13.6M435.4 902.1v13.6m-6.8-6.8h13.6M435.7 901.8v13.6m-6.8-6.8h13.6M436.9 902.2v13.6m-6.8-6.8h13.6M439 902.3v13.6m-6.8-6.8h13.6M439.5 902.1v13.6m-6.8-6.8h13.6M440.4 902.3v13.6m-6.8-6.8h13.6M440.5 902.3v13.6m-6.8-6.8h13.6M441.2 902.2v13.6m-6.8-6.8h13.6M442.3 902.6v13.6m-6.8-6.8h13.6M443.6 902.3v13.6m-6.8-6.8h13.6M444.3 902.6v13.6m-6.8-6.8h13.6M444.5 902.4v13.6m-6.8-6.8h13.6M444.6 902.9v13.6m-6.8-6.8h13.6M444.8 902.6v13.6m-6.8-6.8h13.6M445 902.8v13.6m-6.8-6.8h13.6M445.4 903.2v13.6m-6.8-6.8h13.6M445.5 902.8v13.6m-6.8-6.8h13.6M446.6 903.4v13.6m-6.8-6.8h13.6M446.7 903.2v13.6m-6.8-6.8h13.6M448.7 904.2v13.6m-6.8-6.8h13.6M449 904.1v13.6m-6.8-6.8h13.6M449.2 903.7v13.6m-6.8-6.8h13.6M450.6 904.1v13.6m-6.8-6.8h13.6M452.6 905v13.6m-6.8-6.8h13.6M453.8 905.4v13.6m-6.8-6.8h13.6M455.1 906.2v13.6m-6.8-6.8h13.6M455.1 905.7v13.6m-6.8-6.8h13.6M455.2 906.2v13.6m-6.8-6.8h13.6M455.3 905.8v13.6m-6.8-6.8h13.6M455.6 906v13.6m-6.8-6.8h13.6M455.7 906.6v13.6m-6.8-6.8h13.6M455.9 906.8v13.6m-6.8-6.8h13.6M456 906.6v13.6m-6.8-6.8h13.6M456.3 907.1v13.6m-6.8-6.8h13.6M456.4 907.2v13.6m-6.8-6.8h13.6M456.4 907.3v13.6m-6.8-6.8h13.6M456.8 907.5v13.6m-6.8-6.8h13.6M457.2 907.7v13.6m-6.8-6.8h13.6M457.8 907.7v13.6m-6.8-6.8h13.6M457.9 908.3v13.6m-6.8-6.8h13.6M458 907.9v13.6m-6.8-6.8h13.6M458.1 908.3v13.6m-6.8-6.8h13.6M458.9 908.4v13.6m-6.8-6.8h13.6M459.9 909.1v13.6m-6.8-6.8h13.6M460.2 909.7v13.6m-6.8-6.8h13.6M460.4 909.7v13.6m-6.8-6.8h13.6M460.7 910.3v13.6m-6.8-6.8h13.6M460.9 909.9v13.6m-6.8-6.8h13.6M462.6 911.2v13.6m-6.8-6.8h13.6M462.7 911.8v13.6m-6.8-6.8h13.6M464 912.2v13.6m-6.8-6.8h13.6M464.4 913v13.6m-6.8-6.8h13.6M464.6 912.7v13.6m-6.8-6.8h13.6M464.6 912.6v13.6m-6.8-6.8h13.6M465.2 913.1v13.6m-6.8-6.8h13.6M466.3 913.5v13.6m-6.8-6.8h13.6M466.5 913.5v13.6m-6.8-6.8h13.6M466.6 913.6v13.6m-6.8-6.8h13.6M467.3 913.6v13.6m-6.8-6.8h13.6M467.8 914.4v13.6m-6.8-6.8h13.6M468.5 914.1v13.6m-6.8-6.8h13.6M469.1 914.1v13.6m-6.8-6.8h13.6M469.2 914.7v13.6m-6.8-6.8h13.6M470 914.8v13.6m-6.8-6.8h13.6M470.4 914.7v13.6m-6.8-6.8h13.6M471.5 915.2v13.6m-6.8-6.8h13.6M472.5 915.7v13.6m-6.8-6.8h13.6M472.8 915.8v13.6m-6.8-6.8h13.6M473 915.7v13.6m-6.8-6.8h13.6M474.1 916.4v13.6m-6.8-6.8h13.6M474.7 915.9v13.6m-6.8-6.8h13.6M474.8 916.5v13.6m-6.8-6.8h13.6M475 916v13.6m-6.8-6.8h13.6M475.5 916.3v13.6m-6.8-6.8h13.6M476.4 916.3v13.6m-6.8-6.8h13.6M476.8 917.1v13.6m-6.8-6.8h13.6M476.9 916.6v13.6m-6.8-6.8h13.6M477.2 916.5v13.6m-6.8-6.8h13.6M477.3 916.7v13.6m-6.8-6.8h13.6M477.8 916.6v13.6m-6.8-6.8h13.6M478.4 917v13.6m-6.8-6.8h13.6M478.6 917.4v13.6m-6.8-6.8h13.6M479.4 917.3v13.6m-6.8-6.8h13.6M479.6 917.4v13.6m-6.8-6.8h13.6M480.2 917.7v13.6m-6.8-6.8h13.6M480.9 917.2v13.6m-6.8-6.8h13.6M481 918.1v13.6m-6.8-6.8h13.6M481.5 917.8v13.6m-6.8-6.8h13.6M481.6 918v13.6m-6.8-6.8h13.6M482.6 917.9v13.6m-6.8-6.8h13.6M482.8 917.7v13.6m-6.8-6.8h13.6M483 918.1v13.6m-6.8-6.8h13.6M483.4 917.8v13.6m-6.8-6.8h13.6M483.5 918v13.6m-6.8-6.8h13.6M484.6 918.9v13.6m-6.8-6.8h13.6M485.8 918.7v13.6m-6.8-6.8h13.6M486 919v13.6m-6.8-6.8h13.6M486.9 918.8v13.6m-6.8-6.8h13.6M487.7 919v13.6m-6.8-6.8h13.6M488.1 918.5v13.6m-6.8-6.8h13.6M488.9 919v13.6m-6.8-6.8h13.6M489.1 918.6v13.6m-6.8-6.8h13.6M489.4 918.7v13.6m-6.8-6.8h13.6"/>
<path class="cr" d="M150.8 664.4L155.5 665.5L163.7 672.2L171.9 680.9L181.2 691.2L185.9 701.5L193.1 711.8L198.2 722.1L205.9 732.4L215.2 742.7L223.5 753L231.7 763.3L243 773.1L254.9 784L263.6 791.7L284.3 807.7L300 817L310.3 824L320.6 832.2L330.9 838.6L341.2 841.3L351.5 845.8L361.8 848.9L372.1 854.1L382.4 857.5L392.7 860.9L403 863.4L413.3 865.2L423.6 868.5L434 871.6L444.3 878.8L454.6 881.7L464.9 884.6L475.2 889.4L485.5 891.2L489.4 891.5"/>
<path class="mr" d="M150.8 657.6v13.6m-6.8-6.8h13.6M151.3 658.1v13.6m-6.8-6.8h13.6M151.7 657.8v13.6m-6.8-6.8h13.6M152.2 657.7v13.6m-6.8-6.8h13.6M152.7 658.1v13.6m-6.8-6.8h13.6M153.6 657.9v13.6m-6.8-6.8h13.6M153.8 658v13.6m-6.8-6.8h13.6M154.8 658.7v13.6m-6.8-6.8h13.6M154.9 658.9v13.6m-6.8-6.8h13.6M156.6 659.7v13.6m-6.8-6.8h13.6M157.1 659.7v13.6m-6.8-6.8h13.6M157.2 660.1v13.6m-6.8-6.8h13.6M157.3 659.9v13.6m-6.8-6.8h13.6M157.4 659.8v13.6m-6.8-6.8h13.6M157.7 660.4v13.6m-6.8-6.8h13.6M158.6 661.2v13.6m-6.8-6.8h13.6M159.1 661.6v13.6m-6.8-6.8h13.6M159.6 662v13.6m-6.8-6.8h13.6M159.7 662.5v13.6m-6.8-6.8h13.6M161.4 663.8v13.6m-6.8-6.8h13.6M162 663.8v13.6m-6.8-6.8h13.6M162.1 663.9v13.6m-6.8-6.8h13.6M162.2 664.4v13.6m-6.8-6.8h13.6M162.5 664.6v13.6m-6.8-6.8h13.6M162.7 664.9v13.6m-6.8-6.8h13.6M163.6 664.9v13.6m-6.8-6.8h13.6M163.7 665.7v13.6m-6.8-6.8h13.6M164 666v13.6m-6.8-6.8h13.6M164.2 665.5v13.6m-6.8-6.8h13.6M164.6 666.6v13.6m-6.8-6.8h13.6M164.8 666.1v13.6m-6.8-6.8h13.6M164.9 667v13.6m-6.8-6.8h13.6M165.5 667v13.6m-6.8-6.8h13.6M165.7 667.1v13.6m-6.8-6.8h13.6M165.7 667.7v13.6m-6.8-6.8h13.6M165.8 667.6v13.6m-6.8-6.8h13.6M166.1 667.6v13.6m-6.8-6.8h13.6M166.6 668.2v13.6m-6.8-6.8h13.6M167 668.6v13.6m-6.8-6.8h13.6M167.3 668.9v13.6m-6.8-6.8h13.6M167.4 669.7v13.6m-6.8-6.8h13.6M168.1 669.9v13.6m-6.8-6.8h13.6M169 670.8v13.6m-6.8-6.8h13.6M169.2 671.5v13.6m-6.8-6.8h13.6M169.7 671.4v13.6m-6.8-6.8h13.6M171.2 673.1v13.6m-6.8-6.8h13.6M171.3 673.6v13.6m-6.8-6.8h13.6M171.5 673.4v13.6m-6.8-6.8h13.6M171.5 673.3v13.6m-6.8-6.8h13.6M171.9 673.9v13.6m-6.8-6.8h13.6M172.3 674.4v13.6m-6.8-6.8h13.6M172.5 675.1v13.6m-6.8-6.8h13.6M172.8 675.1v13.6m-6.8-6.8h13.6M173.6 675.7v13.6m-6.8-6.8h13.6M173.7 676.4v13.6m-6.8-6.8h13.6M174.4 676.7v13.6m-6.8-6.8h13.6M174.5 677.1v13.6m-6.8-6.8h13.6M175.7 678v13.6m-6.8-6.8h13.6M178.3 681.5v13.6m-6.8-6.8h13.6M179.4 682.4v13.6m-6.8-6.8h13.6M179.6 682.3v13.6m-6.8-6.8h13.6M183 688.2v13.6m-6.8-6.8h13.6M184.2 690.8v13.6m-6.8-6.8h13.6M186 695v13.6m-6.8-6.8h13.6M186.5 695.3v13.6m-6.8-6.8h13.6M188.3 697.9v13.6m-6.8-6.8h13.6M188.7 698.9v13.6m-6.8-6.8h13.6M191.6 703v13.6m-6.8-6.8h13.6M192 703.9v13.6m-6.8-6.8h13.6M192.4 703.7v13.6m-6.8-6.8h13.6M192.8 704.7v13.6m-6.8-6.8h13.6M193.1 704.8v13.6m-6.8-6.8h13.6M193.6 706.1v13.6m-6.8-6.8h13.6M193.8 706.3v13.6m-6.8-6.8h13.6M196.2 711.7v13.6m-6.8-6.8h13.6M197.4 713.8v13.6m-6.8-6.8h13.6M198.2 715.1v13.6m-6.8-6.8h13.6M198.4 715.2v13.6m-6.8-6.8h13.6M201.5 719.9v13.6m-6.8-6.8h13.6M204.9 723.9v13.6m-6.8-6.8h13.6M205.3 724.8v13.6m-6.8-6.8h13.6M205.8 725.3v13.6m-6.8-6.8h13.6M207.2 726.7v13.6m-6.8-6.8h13.6M207.5 727.6v13.6m-6.8-6.8h13.6M208.5 728.7v13.6m-6.8-6.8h13.6M209 729.3v13.6m-6.8-6.8h13.6M210 730.1v13.6m-6.8-6.8h13.6M210.5 731v13.6m-6.8-6.8h13.6M211.4 731.6v13.6m-6.8-6.8h13.6M212 732.7v13.6m-6.8-6.8h13.6M212.4 732.9v13.6m-6.8-6.8h13.6M212.6 733.1v13.6m-6.8-6.8h13.6M213 733.1v13.6m-6.8-6.8h13.6M213.4 734.3v13.6m-6.8-6.8h13.6M214.3 735v13.6m-6.8-6.8h13.6M214.5 735.3v13.6m-6.8-6.8h13.6M214.8 735.4v13.6m-6.8-6.8h13.6M215.6 736v13.6m-6.8-6.8h13.6M216.1 736.6v13.6m-6.8-6.8h13.6M216.4 737.5v13.6m-6.8-6.8h13.6M216.5 737.8v13.6m-6.8-6.8h13.6M216.8 738v13.6m-6.8-6.8h13.6M217.8 739v13.6m-6.8-6.8h13.6M217.9 739.1v13.6m-6.8-6.8h13.6M218.3 739.5v13.6m-6.8-6.8h13.6M218.4 740.2v13.6m-6.8-6.8h13.6M218.8 740.3v13.6m-6.8-6.8h13.6M219.6 741.3v13.6m-6.8-6.8h13.6M220.1 741.8v13.6m-6.8-6.8h13.6M220.3 742.5v13.6m-6.8-6.8h13.6M221.2 743.8v13.6m-6.8-6.8h13.6M221.4 743.8v13.6m-6.8-6.8h13.6M221.6 743.6v13.6m-6.8-6.8h13.6M221.8 744.5v13.6m-6.8-6.8h13.6M222.6 745.3v13.6m-6.8-6.8h13.6M223.7 746.4v13.6m-6.8-6.8h13.6M223.8 746.6v13.6m-6.8-6.8h13.6M223.9 746.6v13.6m-6.8-6.8h13.6M224.1 747.2v13.6m-6.8-6.8h13.6M224.4 747.3v13.6m-6.8-6.8h13.6M225.1 748.7v13.6m-6.8-6.8h13.6M225.3 748.2v13.6m-6.8-6.8h13.6M225.4 749v13.6m-6.8-6.8h13.6M225.5 748.9v13.6m-6.8-6.8h13.6M225.8 749v13.6m-6.8-6.8h13.6M226.4 749.5v13.6m-6.8-6.8h13.6M226.4 749.9v13.6m-6.8-6.8h13.6M226.5 750.3v13.6m-6.8-6.8h13.6M226.6 749.9v13.6m-6.8-6.8h13.6M226.7 750.3v13.6m-6.8-6.8h13.6M226.9 750.6v13.6m-6.8-6.8h13.6M227.3 751.3v13.6m-6.8-6.8h13.6M228.5 752.7v13.6m-6.8-6.8h13.6M228.6 752.7v13.6m-6.8-6.8h13.6M228.7 752.4v13.6m-6.8-6.8h13.6M228.9 753.3v13.6m-6.8-6.8h13.6M229 753v13.6m-6.8-6.8h13.6M229.2 753.6v13.6m-6.8-6.8h13.6M229.5 753.8v13.6m-6.8-6.8h13.6M230 754.4v13.6m-6.8-6.8h13.6M230.6 755.5v13.6m-6.8-6.8h13.6M230.7 755.6v13.6m-6.8-6.8h13.6M231.2 755.6v13.6m-6.8-6.8h13.6M231.4 756.3v13.6m-6.8-6.8h13.6M232.5 757.1v13.6m-6.8-6.8h13.6M232.9 757.9v13.6m-6.8-6.8h13.6M233.6 758.6v13.6m-6.8-6.8h13.6M233.9 758.6v13.6m-6.8-6.8h13.6M234 758.7v13.6m-6.8-6.8h13.6M234.8 759.4v13.6m-6.8-6.8h13.6M235.4 759.5v13.6m-6.8-6.8h13.6M236.5 761.1v13.6m-6.8-6.8h13.6M238.1 762.1v13.6m-6.8-6.8h13.6M238.9 762.6v13.6m-6.8-6.8h13.6M240 764v13.6m-6.8-6.8h13.6M240.2 763.6v13.6m-6.8-6.8h13.6M240.5 764.2v13.6m-6.8-6.8h13.6M241.2 764.7v13.6m-6.8-6.8h13.6M241.2 765v13.6m-6.8-6.8h13.6M241.3 765.1v13.6m-6.8-6.8h13.6M241.4 764.8v13.6m-6.8-6.8h13.6M242.1 765.3v13.6m-6.8-6.8h13.6M242.2 765.6v13.6m-6.8-6.8h13.6M242.8 766.4v13.6m-6.8-6.8h13.6M243.3 767v13.6m-6.8-6.8h13.6M243.7 767.3v13.6m-6.8-6.8h13.6M243.7 766.7v13.6m-6.8-6.8h13.6M244.1 767.1v13.6m-6.8-6.8h13.6M244.7 767.9v13.6m-6.8-6.8h13.6M245 768.4v13.6m-6.8-6.8h13.6M245.4 768.3v13.6m-6.8-6.8h13.6M245.6 768.9v13.6m-6.8-6.8h13.6M246.7 769.4v13.6m-6.8-6.8h13.6M247.5 770.8v13.6m-6.8-6.8h13.6M247.9 770.8v13.6m-6.8-6.8h13.6M248 770.9v13.6m-6.8-6.8h13.6M248.3 771.2v13.6m-6.8-6.8h13.6M248.4 771.6v13.6m-6.8-6.8h13.6M248.7 771.4v13.6m-6.8-6.8h13.6M249.4 772.2v13.6m-6.8-6.8h13.6M249.7 772.6v13.6m-6.8-6.8h13.6M249.8 772.5v13.6m-6.8-6.8h13.6M250.1 773.1v13.6m-6.8-6.8h13.6M251.2 773.6v13.6m-6.8-6.8h13.6M251.5 773.8v13.6m-6.8-6.8h13.6M251.8 774.6v13.6m-6.8-6.8h13.6M252.8 775.3v13.6m-6.8-6.8h13.6M253 775.2v13.6m-6.8-6.8h13.6M253.5 776.2v13.6m-6.8-6.8h13.6M253.5 776.1v13.6m-6.8-6.8h13.6M253.6 775.7v13.6m-6.8-6.8h13.6M253.7 776.2v13.6m-6.8-6.8h13.6M253.9 776.1v13.6m-6.8-6.8h13.6M254.3 776.3v13.6m-6.8-6.8h13.6M254.9 776.9v13.6m-6.8-6.8h13.6M255.3 777.3v13.6m-6.8-6.8h13.6M255.4 777.6v13.6m-6.8-6.8h13.6M255.6 777.7v13.6m-6.8-6.8h13.6M255.9 778.1v13.6m-6.8-6.8h13.6M256 777.9v13.6m-6.8-6.8h13.6M256.4 778.6v13.6m-6.8-6.8h13.6M256.8 779.1v13.6m-6.8-6.8h13.6M257.2 779.5v13.6m-6.8-6.8h13.6M257.3 779.5v13.6m-6.8-6.8h13.6M258.1 780.3v13.6m-6.8-6.8h13.6M258.3 780v13.6m-6.8-6.8h13.6M259.5 781v13.6m-6.8-6.8h13.6M261.1 782.9v13.6m-6.8-6.8h13.6M261.2 782.5v13.6m-6.8-6.8h13.6M261.8 783v13.6m-6.8-6.8h13.6M261.9 783.6v13.6m-6.8-6.8h13.6M262.1 783.8v13.6m-6.8-6.8h13.6M262.2 783.5v13.6m-6.8-6.8h13.6M262.7 783.7v13.6m-6.8-6.8h13.6M262.8 784.3v13.6m-6.8-6.8h13.6M264 785.5v13.6m-6.8-6.8h13.6M264 785.2v13.6m-6.8-6.8h13.6M264.7 785.7v13.6m-6.8-6.8h13.6M265.3 785.9v13.6m-6.8-6.8h13.6M265.4 785.9v13.6m-6.8-6.8h13.6M265.4 786.3v13.6m-6.8-6.8h13.6M265.8 786.6v13.6m-6.8-6.8h13.6M265.9 786.4v13.6m-6.8-6.8h13.6M266 787v13.6m-6.8-6.8h13.6M267.7 788.4v13.6m-6.8-6.8h13.6M267.8 787.7v13.6m-6.8-6.8h13.6M269.3 789.2v13.6m-6.8-6.8h13.6M270 789.6v13.6m-6.8-6.8h13.6M270.3 790v13.6m-6.8-6.8h13.6M270.6 790.3v13.6m-6.8-6.8h13.6M270.6 790.4v13.6m-6.8-6.8h13.6M271.5 790.7v13.6m-6.8-6.8h13.6M271.8 791.4v13.6m-6.8-6.8h13.6M272.1 791.2v13.6m-6.8-6.8h13.6M272.2 791.5v13.6m-6.8-6.8h13.6M272.2 791.9v13.6m-6.8-6.8h13.6M273 792.3v13.6m-6.8-6.8h13.6M274 793v13.6m-6.8-6.8h13.6M274.3 793.2v13.6m-6.8-6.8h13.6M274.6 793.8v13.6m-6.8-6.8h13.6M275.4 793.8v13.6m-6.8-6.8h13.6M276.6 795.1v13.6m-6.8-6.8h13.6M277.3 795.7v13.6m-6.8-6.8h13.6M277.6 796v13.6m-6.8-6.8h13.6M278.6 796.6v13.6m-6.8-6.8h13.6M279.3 797.3v13.6m-6.8-6.8h13.6M279.6 797.4v13.6m-6.8-6.8h13.6M279.7 797.2v13.6m-6.8-6.8h13.6M280 797.1v13.6m-6.8-6.8h13.6M280.2 797.8v13.6m-6.8-6.8h13.6M280.7 797.9v13.6m-6.8-6.8h13.6M282.1 799.3v13.6m-6.8-6.8h13.6M282.3 799.5v13.6m-6.8-6.8h13.6M282.7 799.7v13.6m-6.8-6.8h13.6M282.9 800.2v13.6m-6.8-6.8h13.6M283.5 800.4v13.6m-6.8-6.8h13.6M284.2 801.2v13.6m-6.8-6.8h13.6M284.2 800.9v13.6m-6.8-6.8h13.6M284.9 801.1v13.6m-6.8-6.8h13.6M285.2 801.1v13.6m-6.8-6.8h13.6M285.3 801.4v13.6m-6.8-6.8h13.6M285.4 801.3v13.6m-6.8-6.8h13.6M286.7 802.3v13.6m-6.8-6.8h13.6M287 802.9v13.6m-6.8-6.8h13.6M287.5 803.2v13.6m-6.8-6.8h13.6M288 803.3v13.6m-6.8-6.8h13.6M288.1 803.2v13.6m-6.8-6.8h13.6M288.9 803.2v13.6m-6.8-6.8h13.6M290.3 804.2v13.6m-6.8-6.8h13.6M290.6 804.4v13.6m-6.8-6.8h13.6M291 804.9v13.6m-6.8-6.8h13.6M291.1 805.3v13.6m-6.8-6.8h13.6M291.4 805.1v13.6m-6.8-6.8h13.6M291.9 805.3v13.6m-6.8-6.8h13.6M292 805.6v13.6m-6.8-6.8h13.6M292.5 805.6v13.6m-6.8-6.8h13.6M293.1 806v13.6m-6.8-6.8h13.6M293.2 806v13.6m-6.8-6.8h13.6M293.3 805.9v13.6m-6.8-6.8h13.6M294.1 806.6v13.6m-6.8-6.8h13.6M295.3 807.6v13.6m-6.8-6.8h13.6M295.4 807.8v13.6m-6.8-6.8h13.6M296.9 808v13.6m-6.8-6.8h13.6M298.1 809v13.6m-6.8-6.8h13.6M298.5 809.7v13.6m-6.8-6.8h13.6M298.6 809.4v13.6m-6.8-6.8h13.6M300.1 810.5v13.6m-6.8-6.8h13.6M300.4 810.9v13.6m-6.8-6.8h13.6M301.3 811.2v13.6m-6.8-6.8h13.6M301.4 811.2v13.6m-6.8-6.8h13.6M301.7 811.1v13.6m-6.8-6.8h13.6M301.8 811.4v13.6m-6.8-6.8h13.6M301.9 811.4v13.6m-6.8-6.8h13.6M302.4 811.8v13.6m-6.8-6.8h13.6M302.6 812v13.6m-6.8-6.8h13.6M302.9 812.4v13.6m-6.8-6.8h13.6M303.2 812.8v13.6m-6.8-6.8h13.6M304.8 813.7v13.6m-6.8-6.8h13.6M304.9 813.2v13.6m-6.8-6.8h13.6M306.1 814.6v13.6m-6.8-6.8h13.6M306.6 814.6v13.6m-6.8-6.8h13.6M306.8 814.9v13.6m-6.8-6.8h13.6M307.2 815.2v13.6m-6.8-6.8h13.6M307.7 815.6v13.6m-6.8-6.8h13.6M307.8 815.3v13.6m-6.8-6.8h13.6M309.6 817.1v13.6m-6.8-6.8h13.6M310.7 817.1v13.6m-6.8-6.8h13.6M310.7 817.4v13.6m-6.8-6.8h13.6M311 817.9v13.6m-6.8-6.8h13.6M311.1 817.8v13.6m-6.8-6.8h13.6M311.1 817.5v13.6m-6.8-6.8h13.6M311.7 818.4v13.6m-6.8-6.8h13.6M312.2 818.6v13.6m-6.8-6.8h13.6M312.5 818.7v13.6m-6.8-6.8h13.6M312.7 819.3v13.6m-6.8-6.8h13.6M313.6 819.5v13.6m-6.8-6.8h13.6M313.6 820.1v13.6m-6.8-6.8h13.6M314.1 820.5v13.6m-6.8-6.8h13.6M314.2 820.3v13.6m-6.8-6.8h13.6M314.4 820.7v13.6m-6.8-6.8h13.6M314.6 820.8v13.6m-6.8-6.8h13.6M316.3 821.9v13.6m-6.8-6.8h13.6M316.7 822.5v13.6m-6.8-6.8h13.6M317.9 823.2v13.6m-6.8-6.8h13.6M318.1 823.1v13.6m-6.8-6.8h13.6M319.1 823.9v13.6m-6.8-6.8h13.6M319.2 824.4v13.6m-6.8-6.8h13.6M319.5 824.7v13.6m-6.8-6.8h13.6M319.7 824.9v13.6m-6.8-6.8h13.6M319.8 824.6v13.6m-6.8-6.8h13.6M320.3 824.9v13.6m-6.8-6.8h13.6M320.5 825.5v13.6m-6.8-6.8h13.6M321.1 825.6v13.6m-6.8-6.8h13.6M321.2 825.7v13.6m-6.8-6.8h13.6M321.9 826.1v13.6m-6.8-6.8h13.6M321.9 826.4v13.6m-6.8-6.8h13.6M322.4 826.9v13.6m-6.8-6.8h13.6M323.9 827.8v13.6m-6.8-6.8h13.6M324.2 827.9v13.6m-6.8-6.8h13.6M324.4 827.6v13.6m-6.8-6.8h13.6M324.6 828.3v13.6m-6.8-6.8h13.6M325.8 828.5v13.6m-6.8-6.8h13.6M326 828.7v13.6m-6.8-6.8h13.6M326.3 828.9v13.6m-6.8-6.8h13.6M326.5 828.9v13.6m-6.8-6.8h13.6M327 829.6v13.6m-6.8-6.8h13.6M327.4 829.9v13.6m-6.8-6.8h13.6M327.8 829.7v13.6m-6.8-6.8h13.6M328.6 830.7v13.6m-6.8-6.8h13.6M328.8 830.1v13.6m-6.8-6.8h13.6M329.1 830.8v13.6m-6.8-6.8h13.6M329.6 831.4v13.6m-6.8-6.8h13.6M330.1 831.6v13.6m-6.8-6.8h13.6M330.2 831.4v13.6m-6.8-6.8h13.6M331 831.5v13.6m-6.8-6.8h13.6M331.1 832.1v13.6m-6.8-6.8h13.6M332.5 831.9v13.6m-6.8-6.8h13.6M333.1 832.1v13.6m-6.8-6.8h13.6M333.9 832.7v13.6m-6.8-6.8h13.6M334.1 832.4v13.6m-6.8-6.8h13.6M335 832.9v13.6m-6.8-6.8h13.6M335.8 833v13.6m-6.8-6.8h13.6M336.1 833.6v13.6m-6.8-6.8h13.6M336.8 833.3v13.6m-6.8-6.8h13.6M337.2 833.7v13.6m-6.8-6.8h13.6M338 834v13.6m-6.8-6.8h13.6M338.3 834v13.6m-6.8-6.8h13.6M338.9 834.2v13.6m-6.8-6.8h13.6M339.9 834.4v13.6m-6.8-6.8h13.6M341.2 834.9v13.6m-6.8-6.8h13.6M341.8 834.8v13.6m-6.8-6.8h13.6M342.5 835.3v13.6m-6.8-6.8h13.6M342.8 835.2v13.6m-6.8-6.8h13.6M342.9 835.5v13.6m-6.8-6.8h13.6M344.9 836v13.6m-6.8-6.8h13.6M345 835.9v13.6m-6.8-6.8h13.6M345.3 836.2v13.6m-6.8-6.8h13.6M347.3 836.8v13.6m-6.8-6.8h13.6M347.5 837v13.6m-6.8-6.8h13.6M348.1 837.8v13.6m-6.8-6.8h13.6M348.2 837.2v13.6m-6.8-6.8h13.6M348.6 837.8v13.6m-6.8-6.8h13.6M349.9 838v13.6m-6.8-6.8h13.6M350 838.1v13.6m-6.8-6.8h13.6M350.2 838.2v13.6m-6.8-6.8h13.6M350.9 838.8v13.6m-6.8-6.8h13.6M351 838.6v13.6m-6.8-6.8h13.6M351.2 838.6v13.6m-6.8-6.8h13.6M352 839.1v13.6m-6.8-6.8h13.6M352.5 839.6v13.6m-6.8-6.8h13.6M352.9 839.3v13.6m-6.8-6.8h13.6M354.2 840.2v13.6m-6.8-6.8h13.6M354.4 840v13.6m-6.8-6.8h13.6M356.3 840.5v13.6m-6.8-6.8h13.6M356.5 840.2v13.6m-6.8-6.8h13.6M358.2 841.3v13.6m-6.8-6.8h13.6M358.5 841.2v13.6m-6.8-6.8h13.6M358.9 841.1v13.6m-6.8-6.8h13.6M361 842v13.6m-6.8-6.8h13.6M361.2 841.5v13.6m-6.8-6.8h13.6M361.5 842v13.6m-6.8-6.8h13.6M362.4 842.6v13.6m-6.8-6.8h13.6M363 842.4v13.6m-6.8-6.8h13.6M363.1 842.6v13.6m-6.8-6.8h13.6M363.2 843.1v13.6m-6.8-6.8h13.6M363.6 843.1v13.6m-6.8-6.8h13.6M365.6 843.8v13.6m-6.8-6.8h13.6M366 843.9v13.6m-6.8-6.8h13.6M366.8 844.2v13.6m-6.8-6.8h13.6M367.8 845.4v13.6m-6.8-6.8h13.6M368.7 845.3v13.6m-6.8-6.8h13.6M368.9 845.8v13.6m-6.8-6.8h13.6M369 845.7v13.6m-6.8-6.8h13.6M369.3 846.3v13.6m-6.8-6.8h13.6M369.8 846.4v13.6m-6.8-6.8h13.6M370 846.5v13.6m-6.8-6.8h13.6M370.3 846.7v13.6m-6.8-6.8h13.6M370.4 846.7v13.6m-6.8-6.8h13.6M370.5 846.5v13.6m-6.8-6.8h13.6M370.9 846.4v13.6m-6.8-6.8h13.6M371.9 847v13.6m-6.8-6.8h13.6M372.1 847v13.6m-6.8-6.8h13.6M372.4 847.3v13.6m-6.8-6.8h13.6M373.1 847.5v13.6m-6.8-6.8h13.6M373.8 847.5v13.6m-6.8-6.8h13.6M374.1 847.9v13.6m-6.8-6.8h13.6M376.1 848.9v13.6m-6.8-6.8h13.6M376.7 848.4v13.6m-6.8-6.8h13.6M377 849.1v13.6m-6.8-6.8h13.6M377.1 849v13.6m-6.8-6.8h13.6M377.5 848.7v13.6m-6.8-6.8h13.6M379.6 850v13.6m-6.8-6.8h13.6M379.7 849.9v13.6m-6.8-6.8h13.6M379.9 849.8v13.6m-6.8-6.8h13.6M380.4 849.8v13.6m-6.8-6.8h13.6M380.6 850v13.6m-6.8-6.8h13.6M381.2 850.1v13.6m-6.8-6.8h13.6M381.4 850.5v13.6m-6.8-6.8h13.6M381.6 850.8v13.6m-6.8-6.8h13.6M382.1 850.8v13.6m-6.8-6.8h13.6M382.3 850.9v13.6m-6.8-6.8h13.6M382.4 850.4v13.6m-6.8-6.8h13.6M382.5 850.9v13.6m-6.8-6.8h13.6M383.2 850.7v13.6m-6.8-6.8h13.6M383.5 851.3v13.6m-6.8-6.8h13.6M384.1 850.9v13.6m-6.8-6.8h13.6M384.2 851v13.6m-6.8-6.8h13.6M384.3 851.2v13.6m-6.8-6.8h13.6M384.4 851.7v13.6m-6.8-6.8h13.6M384.7 851.5v13.6m-6.8-6.8h13.6M385.3 851.9v13.6m-6.8-6.8h13.6M386.4 851.9v13.6m-6.8-6.8h13.6M386.6 852v13.6m-6.8-6.8h13.6M386.7 852v13.6m-6.8-6.8h13.6M387.4 852.7v13.6m-6.8-6.8h13.6M388.3 852.8v13.6m-6.8-6.8h13.6M388.9 852.4v13.6m-6.8-6.8h13.6M389.1 852.8v13.6m-6.8-6.8h13.6M389.7 852.8v13.6m-6.8-6.8h13.6M390 853.2v13.6m-6.8-6.8h13.6M390.9 853.7v13.6m-6.8-6.8h13.6M391.5 853.4v13.6m-6.8-6.8h13.6M392.3 854.3v13.6m-6.8-6.8h13.6M392.8 854v13.6m-6.8-6.8h13.6M393.2 853.9v13.6m-6.8-6.8h13.6M394 854.8v13.6m-6.8-6.8h13.6M394.4 854.7v13.6m-6.8-6.8h13.6M395.5 854.5v13.6m-6.8-6.8h13.6M397.2 855.3v13.6m-6.8-6.8h13.6M397.4 854.9v13.6m-6.8-6.8h13.6M397.5 855.3v13.6m-6.8-6.8h13.6M398.3 855.3v13.6m-6.8-6.8h13.6M399.9 855.7v13.6m-6.8-6.8h13.6M400.2 855.6v13.6m-6.8-6.8h13.6M402.3 856.1v13.6m-6.8-6.8h13.6M403.8 856.7v13.6m-6.8-6.8h13.6M404.3 856.8v13.6m-6.8-6.8h13.6M404.5 857.1v13.6m-6.8-6.8h13.6M406.6 857.5v13.6m-6.8-6.8h13.6M407.1 857v13.6m-6.8-6.8h13.6M408.2 857.3v13.6m-6.8-6.8h13.6M409.6 857.5v13.6m-6.8-6.8h13.6M410.1 858.1v13.6m-6.8-6.8h13.6M410.2 857.9v13.6m-6.8-6.8h13.6M410.3 857.5v13.6m-6.8-6.8h13.6M410.5 858.3v13.6m-6.8-6.8h13.6M412.2 858.3v13.6m-6.8-6.8h13.6M412.4 858.4v13.6m-6.8-6.8h13.6M413.2 858.3v13.6m-6.8-6.8h13.6M413.7 858.8v13.6m-6.8-6.8h13.6M413.8 858.3v13.6m-6.8-6.8h13.6M414.2 858.4v13.6m-6.8-6.8h13.6M414.5 858.8v13.6m-6.8-6.8h13.6M414.6 858.8v13.6m-6.8-6.8h13.6M414.8 858.9v13.6m-6.8-6.8h13.6M415 859.1v13.6m-6.8-6.8h13.6M415.1 859.1v13.6m-6.8-6.8h13.6M415.2 859.4v13.6m-6.8-6.8h13.6M415.7 859.2v13.6m-6.8-6.8h13.6M416.1 859.4v13.6m-6.8-6.8h13.6M416.7 859.7v13.6m-6.8-6.8h13.6M417.6 859.8v13.6m-6.8-6.8h13.6M419.6 860.7v13.6m-6.8-6.8h13.6M420.8 860.7v13.6m-6.8-6.8h13.6M421.1 861v13.6m-6.8-6.8h13.6M422.5 861.4v13.6m-6.8-6.8h13.6M422.9 861.4v13.6m-6.8-6.8h13.6M424.3 861.8v13.6m-6.8-6.8h13.6M424.4 862.1v13.6m-6.8-6.8h13.6M425.8 862.5v13.6m-6.8-6.8h13.6M426.3 862.7v13.6m-6.8-6.8h13.6M426.5 862.7v13.6m-6.8-6.8h13.6M426.6 862.3v13.6m-6.8-6.8h13.6M427 862.7v13.6m-6.8-6.8h13.6M427.3 862.5v13.6m-6.8-6.8h13.6M428 863v13.6m-6.8-6.8h13.6M428.2 862.9v13.6m-6.8-6.8h13.6M428.5 862.9v13.6m-6.8-6.8h13.6M428.5 863.5v13.6m-6.8-6.8h13.6M430.6 863.9v13.6m-6.8-6.8h13.6M431.8 864.1v13.6m-6.8-6.8h13.6M432.7 864.2v13.6m-6.8-6.8h13.6M433.5 864.7v13.6m-6.8-6.8h13.6M434.8 865.1v13.6m-6.8-6.8h13.6M435.6 865.7v13.6m-6.8-6.8h13.6M436 866.6v13.6m-6.8-6.8h13.6M436.1 866.1v13.6m-6.8-6.8h13.6M436.2 866.3v13.6m-6.8-6.8h13.6M436.3 866.8v13.6m-6.8-6.8h13.6M437.2 867v13.6m-6.8-6.8h13.6M437.4 867.3v13.6m-6.8-6.8h13.6M437.5 866.9v13.6m-6.8-6.8h13.6M438.6 867.9v13.6m-6.8-6.8h13.6M439 868.7v13.6m-6.8-6.8h13.6M440.8 869.6v13.6m-6.8-6.8h13.6M440.9 869.5v13.6m-6.8-6.8h13.6M442.2 870.9v13.6m-6.8-6.8h13.6M442.3 870.9v13.6m-6.8-6.8h13.6M442.5 870.8v13.6m-6.8-6.8h13.6M442.6 871.2v13.6m-6.8-6.8h13.6M444.4 871.8v13.6m-6.8-6.8h13.6M445 872v13.6m-6.8-6.8h13.6M446.3 872.2v13.6m-6.8-6.8h13.6M446.4 872.8v13.6m-6.8-6.8h13.6M446.6 873v13.6m-6.8-6.8h13.6M447.8 873.2v13.6m-6.8-6.8h13.6M447.9 873.2v13.6m-6.8-6.8h13.6M449.6 873.5v13.6m-6.8-6.8h13.6M449.6 873.3v13.6m-6.8-6.8h13.6M449.9 873.8v13.6m-6.8-6.8h13.6M450 873.4v13.6m-6.8-6.8h13.6M450.1 873.8v13.6m-6.8-6.8h13.6M451.1 873.8v13.6m-6.8-6.8h13.6M451.7 874.4v13.6m-6.8-6.8h13.6M452.3 874v13.6m-6.8-6.8h13.6M452.5 874.7v13.6m-6.8-6.8h13.6M453.1 874.3v13.6m-6.8-6.8h13.6M453.7 874.3v13.6m-6.8-6.8h13.6M455.8 875.2v13.6m-6.8-6.8h13.6M456.3 875.4v13.6m-6.8-6.8h13.6M456.4 875.5v13.6m-6.8-6.8h13.6M456.6 875.3v13.6m-6.8-6.8h13.6M457.5 875.4v13.6m-6.8-6.8h13.6M457.7 876v13.6m-6.8-6.8h13.6M457.9 875.7v13.6m-6.8-6.8h13.6M458.4 875.7v13.6m-6.8-6.8h13.6M459.7 876.7v13.6m-6.8-6.8h13.6M459.8 876.4v13.6m-6.8-6.8h13.6M460.7 876.5v13.6m-6.8-6.8h13.6M462.2 877.1v13.6m-6.8-6.8h13.6M462.4 877.1v13.6m-6.8-6.8h13.6M463 877.2v13.6m-6.8-6.8h13.6M463.6 877.7v13.6m-6.8-6.8h13.6M464.1 877.6v13.6m-6.8-6.8h13.6M465.1 878.1v13.6m-6.8-6.8h13.6M465.6 878.5v13.6m-6.8-6.8h13.6M465.7 878.4v13.6m-6.8-6.8h13.6M465.8 878.3v13.6m-6.8-6.8h13.6M465.9 878.2v13.6m-6.8-6.8h13.6M466.8 878.9v13.6m-6.8-6.8h13.6M467.6 878.9v13.6m-6.8-6.8h13.6M468 879v13.6m-6.8-6.8h13.6M468.5 879.5v13.6m-6.8-6.8h13.6M468.6 879.6v13.6m-6.8-6.8h13.6M469.3 879.9v13.6m-6.8-6.8h13.6M470.4 880.2v13.6m-6.8-6.8h13.6M470.5 880.1v13.6m-6.8-6.8h13.6M470.9 880.6v13.6m-6.8-6.8h13.6M471.2 880.6v13.6m-6.8-6.8h13.6M472.1 880.9v13.6m-6.8-6.8h13.6M473.5 881.9v13.6m-6.8-6.8h13.6M473.9 882.3v13.6m-6.8-6.8h13.6M474.1 881.8v13.6m-6.8-6.8h13.6M474.3 881.8v13.6m-6.8-6.8h13.6M474.5 882.4v13.6m-6.8-6.8h13.6M474.9 882.3v13.6m-6.8-6.8h13.6M475.4 882.3v13.6m-6.8-6.8h13.6M476.5 882.6v13.6m-6.8-6.8h13.6M476.7 882.6v13.6m-6.8-6.8h13.6M477.4 883.3v13.6m-6.8-6.8h13.6M478.3 882.8v13.6m-6.8-6.8h13.6M478.6 883.1v13.6m-6.8-6.8h13.6M478.8 883.6v13.6m-6.8-6.8h13.6M478.9 883.3v13.6m-6.8-6.8h13.6M479.8 883.8v13.6m-6.8-6.8h13.6M479.9 883.4v13.6m-6.8-6.8h13.6M480.7 883.2v13.6m-6.8-6.8h13.6M480.9 883.9v13.6m-6.8-6.8h13.6M481 883.5v13.6m-6.8-6.8h13.6M481.2 883.6v13.6m-6.8-6.8h13.6M481.3 883.3v13.6m-6.8-6.8h13.6M483.4 884.2v13.6m-6.8-6.8h13.6M484.2 884v13.6m-6.8-6.8h13.6M484.4 884.2v13.6m-6.8-6.8h13.6M484.6 884.2v13.6m-6.8-6.8h13.6M486.2 884.3v13.6m-6.8-6.8h13.6M486.5 884.8v13.6m-6.8-6.8h13.6M487.1 884.1v13.6m-6.8-6.8h13.6M487.4 884.7v13.6m-6.8-6.8h13.6M487.5 884.4v13.6m-6.8-6.8h13.6M488.2 884.9v13.6m-6.8-6.8h13.6M488.7 885v13.6m-6.8-6.8h13.6M489.1 884.6v13.6m-6.8-6.8h13.6M489.4 884.7v13.6m-6.8-6.8h13.6"/>
<path class="ck" d="M624.3 664.4L631.5 667.5L637.7 673.7L645.5 680.9L651.7 691.2L656.3 701.5L661.5 711.8L664.6 722.1L669.2 732.4L675.4 742.7L682.6 753L688.8 763.3L694 773.6L703.2 784L710.4 794.3L719.7 804.6L726.9 814.9L731 821.7L738.7 829.1L746.4 837.6L754.2 845.7L761.9 853.9L769.7 859.7L774 861.9L784.3 869.9L794.6 879.1L804.9 883.6L815.2 886.3L825.5 891.5L835.8 895.3L846.1 902.1L856.4 903.5L866.7 908L877 909L887.3 912.4L897.6 914.5L908 916.5L918.3 919.8L928.6 924.2L938.9 931.2L949.2 933L959.5 935.5H964.1"/>
<path class="mk" d="M624.3 658v13.6m-6.8-6.8h13.6M624.4 657.3v13.6m-6.8-6.8h13.6M626.4 658.3v13.6m-6.8-6.8h13.6M626.5 658.7v13.6m-6.8-6.8h13.6M626.7 659v13.6m-6.8-6.8h13.6M626.9 659.1v13.6m-6.8-6.8h13.6M627.1 658.9v13.6m-6.8-6.8h13.6M628.6 659.6v13.6m-6.8-6.8h13.6M630.1 660.3v13.6m-6.8-6.8h13.6M630.2 660.4v13.6m-6.8-6.8h13.6M630.7 660.2v13.6m-6.8-6.8h13.6M630.8 660.7v13.6m-6.8-6.8h13.6M631.3 661v13.6m-6.8-6.8h13.6M632 661.6v13.6m-6.8-6.8h13.6M632.4 661.7v13.6m-6.8-6.8h13.6M632.8 661.8v13.6m-6.8-6.8h13.6M634.2 663.2v13.6m-6.8-6.8h13.6M634.8 664.4v13.6m-6.8-6.8h13.6M635.3 664.2v13.6m-6.8-6.8h13.6M636 665.4v13.6m-6.8-6.8h13.6M636.1 665v13.6m-6.8-6.8h13.6M636.5 665.3v13.6m-6.8-6.8h13.6M637.6 666.8v13.6m-6.8-6.8h13.6M637.9 667v13.6m-6.8-6.8h13.6M638.4 667.9v13.6m-6.8-6.8h13.6M638.6 667.6v13.6m-6.8-6.8h13.6M639 667.9v13.6m-6.8-6.8h13.6M639.4 668.5v13.6m-6.8-6.8h13.6M639.7 668.8v13.6m-6.8-6.8h13.6M640 668.7v13.6m-6.8-6.8h13.6M641.6 670.4v13.6m-6.8-6.8h13.6M641.9 670.7v13.6m-6.8-6.8h13.6M643.1 672.2v13.6m-6.8-6.8h13.6M643.4 672.1v13.6m-6.8-6.8h13.6M643.5 672.5v13.6m-6.8-6.8h13.6M643.6 672.3v13.6m-6.8-6.8h13.6M643.7 672.3v13.6m-6.8-6.8h13.6M643.9 672.4v13.6m-6.8-6.8h13.6M644 672.7v13.6m-6.8-6.8h13.6M644.7 673.5v13.6m-6.8-6.8h13.6M644.8 673.6v13.6m-6.8-6.8h13.6M644.9 673.5v13.6m-6.8-6.8h13.6M645.7 674.7v13.6m-6.8-6.8h13.6M645.9 674.9v13.6m-6.8-6.8h13.6M646.1 675v13.6m-6.8-6.8h13.6M646.4 675.9v13.6m-6.8-6.8h13.6M646.8 676.2v13.6m-6.8-6.8h13.6M647.2 677v13.6m-6.8-6.8h13.6M647.3 677.4v13.6m-6.8-6.8h13.6M647.9 678.1v13.6m-6.8-6.8h13.6M648.8 679.2v13.6m-6.8-6.8h13.6M649.2 680.3v13.6m-6.8-6.8h13.6M649.5 680.4v13.6m-6.8-6.8h13.6M650.2 681.9v13.6m-6.8-6.8h13.6M650.5 682v13.6m-6.8-6.8h13.6M652.9 687v13.6m-6.8-6.8h13.6M653 687.2v13.6m-6.8-6.8h13.6M653.3 688.2v13.6m-6.8-6.8h13.6M653.5 688.1v13.6m-6.8-6.8h13.6M653.6 688.5v13.6m-6.8-6.8h13.6M653.8 688.9v13.6m-6.8-6.8h13.6M654.9 691.8v13.6m-6.8-6.8h13.6M656.5 694.7v13.6m-6.8-6.8h13.6M657 696.4v13.6m-6.8-6.8h13.6M657.2 696.2v13.6m-6.8-6.8h13.6M657.9 697.8v13.6m-6.8-6.8h13.6M659.4 701.1v13.6m-6.8-6.8h13.6M660.1 702.1v13.6m-6.8-6.8h13.6M660.4 702.7v13.6m-6.8-6.8h13.6M660.6 703.4v13.6m-6.8-6.8h13.6M660.8 703.9v13.6m-6.8-6.8h13.6M661.8 705.7v13.6m-6.8-6.8h13.6M662.3 707.9v13.6m-6.8-6.8h13.6M662.4 708.2v13.6m-6.8-6.8h13.6M662.6 708.8v13.6m-6.8-6.8h13.6M662.7 709v13.6m-6.8-6.8h13.6M665.6 717.8v13.6m-6.8-6.8h13.6M665.9 718.2v13.6m-6.8-6.8h13.6M666 718.4v13.6m-6.8-6.8h13.6M668.1 723.4v13.6m-6.8-6.8h13.6M668.3 723.4v13.6m-6.8-6.8h13.6M669.3 725.5v13.6m-6.8-6.8h13.6M671.3 729.4v13.6m-6.8-6.8h13.6M672.2 730.5v13.6m-6.8-6.8h13.6M674.3 734.1v13.6m-6.8-6.8h13.6M674.5 734.3v13.6m-6.8-6.8h13.6M674.7 735v13.6m-6.8-6.8h13.6M675.4 736v13.6m-6.8-6.8h13.6M677 738.6v13.6m-6.8-6.8h13.6M677.2 738.4v13.6m-6.8-6.8h13.6M678.7 740.9v13.6m-6.8-6.8h13.6M678.9 741v13.6m-6.8-6.8h13.6M679 740.8v13.6m-6.8-6.8h13.6M679 741v13.6m-6.8-6.8h13.6M679.1 741.3v13.6m-6.8-6.8h13.6M680.4 742.7v13.6m-6.8-6.8h13.6M680.7 743.7v13.6m-6.8-6.8h13.6M681 743.9v13.6m-6.8-6.8h13.6M681.5 744.2v13.6m-6.8-6.8h13.6M682.6 746.3v13.6m-6.8-6.8h13.6M683.1 747.3v13.6m-6.8-6.8h13.6M683.1 746.7v13.6m-6.8-6.8h13.6M683.2 747.2v13.6m-6.8-6.8h13.6M684.1 749v13.6m-6.8-6.8h13.6M684.3 749.1v13.6m-6.8-6.8h13.6M684.7 749.5v13.6m-6.8-6.8h13.6M685.8 751.9v13.6m-6.8-6.8h13.6M686.2 752.5v13.6m-6.8-6.8h13.6M686.7 753.2v13.6m-6.8-6.8h13.6M686.9 753.1v13.6m-6.8-6.8h13.6M686.9 753.1v13.6m-6.8-6.8h13.6M687.8 754.7v13.6m-6.8-6.8h13.6M687.8 754.7v13.6m-6.8-6.8h13.6M687.9 754.9v13.6m-6.8-6.8h13.6M688 754.9v13.6m-6.8-6.8h13.6M688.2 755.5v13.6m-6.8-6.8h13.6M688.3 756v13.6m-6.8-6.8h13.6M688.5 756v13.6m-6.8-6.8h13.6M689.1 757.5v13.6m-6.8-6.8h13.6M689.2 757v13.6m-6.8-6.8h13.6M690 759v13.6m-6.8-6.8h13.6M690.1 758.9v13.6m-6.8-6.8h13.6M690.2 759.2v13.6m-6.8-6.8h13.6M690.2 759v13.6m-6.8-6.8h13.6M691.2 761.6v13.6m-6.8-6.8h13.6M691.2 761.4v13.6m-6.8-6.8h13.6M691.7 762.3v13.6m-6.8-6.8h13.6M691.7 762.3v13.6m-6.8-6.8h13.6M691.9 763v13.6m-6.8-6.8h13.6M692.1 763.1v13.6m-6.8-6.8h13.6M692.4 763.3v13.6m-6.8-6.8h13.6M692.7 764.6v13.6m-6.8-6.8h13.6M693 764.9v13.6m-6.8-6.8h13.6M693.1 764.8v13.6m-6.8-6.8h13.6M693.2 765v13.6m-6.8-6.8h13.6M693.3 765.8v13.6m-6.8-6.8h13.6M693.4 765.7v13.6m-6.8-6.8h13.6M693.7 766.4v13.6m-6.8-6.8h13.6M693.7 766.7v13.6m-6.8-6.8h13.6M694 766.7v13.6m-6.8-6.8h13.6M694.1 767.1v13.6m-6.8-6.8h13.6M695.2 768.1v13.6m-6.8-6.8h13.6M695.4 768.5v13.6m-6.8-6.8h13.6M695.5 768.5v13.6m-6.8-6.8h13.6M696.5 769.7v13.6m-6.8-6.8h13.6M697.2 770.3v13.6m-6.8-6.8h13.6M698.1 771.6v13.6m-6.8-6.8h13.6M698.2 771.6v13.6m-6.8-6.8h13.6M698.7 772.1v13.6m-6.8-6.8h13.6M699 772.3v13.6m-6.8-6.8h13.6M699.4 772.7v13.6m-6.8-6.8h13.6M700 773.5v13.6m-6.8-6.8h13.6M701.5 775.3v13.6m-6.8-6.8h13.6M701.6 775.3v13.6m-6.8-6.8h13.6M701.7 775.6v13.6m-6.8-6.8h13.6M701.7 775.5v13.6m-6.8-6.8h13.6M701.9 775.9v13.6m-6.8-6.8h13.6M701.9 775.8v13.6m-6.8-6.8h13.6M702.4 776.1v13.6m-6.8-6.8h13.6M702.5 776.2v13.6m-6.8-6.8h13.6M702.9 776.6v13.6m-6.8-6.8h13.6M703 776.9v13.6m-6.8-6.8h13.6M703.6 777.4v13.6m-6.8-6.8h13.6M704.6 779.2v13.6m-6.8-6.8h13.6M704.7 778.9v13.6m-6.8-6.8h13.6M704.9 779.5v13.6m-6.8-6.8h13.6M704.9 779.2v13.6m-6.8-6.8h13.6M705.2 779.7v13.6m-6.8-6.8h13.6M705.4 780.2v13.6m-6.8-6.8h13.6M705.8 780.9v13.6m-6.8-6.8h13.6M705.9 780.7v13.6m-6.8-6.8h13.6M706.6 781.6v13.6m-6.8-6.8h13.6M706.6 781.7v13.6m-6.8-6.8h13.6M707.3 783v13.6m-6.8-6.8h13.6M708.2 784.3v13.6m-6.8-6.8h13.6M708.3 784.4v13.6m-6.8-6.8h13.6M708.8 784.9v13.6m-6.8-6.8h13.6M709.4 785.9v13.6m-6.8-6.8h13.6M709.4 785.9v13.6m-6.8-6.8h13.6M709.7 786.1v13.6m-6.8-6.8h13.6M710.6 787.9v13.6m-6.8-6.8h13.6M710.9 788.3v13.6m-6.8-6.8h13.6M711.4 788.5v13.6m-6.8-6.8h13.6M711.4 788.9v13.6m-6.8-6.8h13.6M712.5 789.7v13.6m-6.8-6.8h13.6M712.7 789.6v13.6m-6.8-6.8h13.6M713.1 790.7v13.6m-6.8-6.8h13.6M713.3 790.4v13.6m-6.8-6.8h13.6M713.7 791.3v13.6m-6.8-6.8h13.6M713.8 791v13.6m-6.8-6.8h13.6M714.2 791.2v13.6m-6.8-6.8h13.6M714.9 792.2v13.6m-6.8-6.8h13.6M715.6 793.2v13.6m-6.8-6.8h13.6M715.7 792.9v13.6m-6.8-6.8h13.6M715.8 793.2v13.6m-6.8-6.8h13.6M716.4 794.3v13.6m-6.8-6.8h13.6M716.8 794.3v13.6m-6.8-6.8h13.6M717.2 795.2v13.6m-6.8-6.8h13.6M717.4 794.9v13.6m-6.8-6.8h13.6M717.7 795.3v13.6m-6.8-6.8h13.6M717.8 795.5v13.6m-6.8-6.8h13.6M717.8 796v13.6m-6.8-6.8h13.6M718 796.1v13.6m-6.8-6.8h13.6M718.5 796v13.6m-6.8-6.8h13.6M719.5 797.7v13.6m-6.8-6.8h13.6M719.8 798.1v13.6m-6.8-6.8h13.6M720 797.8v13.6m-6.8-6.8h13.6M720.1 798.1v13.6m-6.8-6.8h13.6M720.7 799.5v13.6m-6.8-6.8h13.6M720.8 799.2v13.6m-6.8-6.8h13.6M720.9 799.2v13.6m-6.8-6.8h13.6M721 799.5v13.6m-6.8-6.8h13.6M721.1 799.8v13.6m-6.8-6.8h13.6M721.2 800.1v13.6m-6.8-6.8h13.6M721.4 800.1v13.6m-6.8-6.8h13.6M721.9 800.8v13.6m-6.8-6.8h13.6M722 800.7v13.6m-6.8-6.8h13.6M722.1 801v13.6m-6.8-6.8h13.6M722.6 801.8v13.6m-6.8-6.8h13.6M723.1 802.3v13.6m-6.8-6.8h13.6M723.1 802.4v13.6m-6.8-6.8h13.6M723.3 803.2v13.6m-6.8-6.8h13.6M723.4 802.7v13.6m-6.8-6.8h13.6M723.4 802.9v13.6m-6.8-6.8h13.6M724.6 805v13.6m-6.8-6.8h13.6M724.7 804.5v13.6m-6.8-6.8h13.6M724.9 805.2v13.6m-6.8-6.8h13.6M725 805.2v13.6m-6.8-6.8h13.6M725.5 805.6v13.6m-6.8-6.8h13.6M725.9 806.8v13.6m-6.8-6.8h13.6M726.5 807.4v13.6m-6.8-6.8h13.6M726.7 807.7v13.6m-6.8-6.8h13.6M726.7 807.8v13.6m-6.8-6.8h13.6M726.8 807.8v13.6m-6.8-6.8h13.6M726.9 807.7v13.6m-6.8-6.8h13.6M727 808.1v13.6m-6.8-6.8h13.6M727 808.3v13.6m-6.8-6.8h13.6M727.3 808.4v13.6m-6.8-6.8h13.6M727.3 808.8v13.6m-6.8-6.8h13.6M727.7 809.4v13.6m-6.8-6.8h13.6M727.9 809.7v13.6m-6.8-6.8h13.6M727.9 809.6v13.6m-6.8-6.8h13.6M728.4 810.5v13.6m-6.8-6.8h13.6M728.5 810.6v13.6m-6.8-6.8h13.6M729.1 811.3v13.6m-6.8-6.8h13.6M729.1 811.7v13.6m-6.8-6.8h13.6M729.8 812.7v13.6m-6.8-6.8h13.6M729.9 813.2v13.6m-6.8-6.8h13.6M729.9 812.9v13.6m-6.8-6.8h13.6M730.2 813.8v13.6m-6.8-6.8h13.6M730.8 814.5v13.6m-6.8-6.8h13.6M730.9 814.6v13.6m-6.8-6.8h13.6M731 814.7v13.6m-6.8-6.8h13.6M731.6 815.9v13.6m-6.8-6.8h13.6M731.7 815.3v13.6m-6.8-6.8h13.6M732.3 816.6v13.6m-6.8-6.8h13.6M733 816.8v13.6m-6.8-6.8h13.6M733.7 817.7v13.6m-6.8-6.8h13.6M734.3 818v13.6m-6.8-6.8h13.6M735.8 819.8v13.6m-6.8-6.8h13.6M736 819.6v13.6m-6.8-6.8h13.6M736 819.6v13.6m-6.8-6.8h13.6M736.8 820.4v13.6m-6.8-6.8h13.6M737.1 821v13.6m-6.8-6.8h13.6M737.2 820.7v13.6m-6.8-6.8h13.6M737.5 821.1v13.6m-6.8-6.8h13.6M738 822v13.6m-6.8-6.8h13.6M738.7 822.3v13.6m-6.8-6.8h13.6M739.2 822.9v13.6m-6.8-6.8h13.6M740.6 824.5v13.6m-6.8-6.8h13.6M741 824.8v13.6m-6.8-6.8h13.6M741.2 825.3v13.6m-6.8-6.8h13.6M741.4 825.6v13.6m-6.8-6.8h13.6M742 826.3v13.6m-6.8-6.8h13.6M742.5 826.5v13.6m-6.8-6.8h13.6M742.7 826.3v13.6m-6.8-6.8h13.6M743.1 827.4v13.6m-6.8-6.8h13.6M743.7 828v13.6m-6.8-6.8h13.6M743.7 828v13.6m-6.8-6.8h13.6M743.9 827.9v13.6m-6.8-6.8h13.6M744.7 828.9v13.6m-6.8-6.8h13.6M745 828.9v13.6m-6.8-6.8h13.6M745.1 829.1v13.6m-6.8-6.8h13.6M745.2 829.4v13.6m-6.8-6.8h13.6M745.2 829.2v13.6m-6.8-6.8h13.6M745.3 829.8v13.6m-6.8-6.8h13.6M746.8 831.4v13.6m-6.8-6.8h13.6M747.1 831.2v13.6m-6.8-6.8h13.6M747.7 831.9v13.6m-6.8-6.8h13.6M747.8 832.2v13.6m-6.8-6.8h13.6M748.6 833v13.6m-6.8-6.8h13.6M749.5 833.9v13.6m-6.8-6.8h13.6M751 835.7v13.6m-6.8-6.8h13.6M751.8 836.8v13.6m-6.8-6.8h13.6M752.5 836.9v13.6m-6.8-6.8h13.6M752.9 837.5v13.6m-6.8-6.8h13.6M753.4 837.9v13.6m-6.8-6.8h13.6M753.8 838.3v13.6m-6.8-6.8h13.6M753.9 838.5v13.6m-6.8-6.8h13.6M754.6 839.3v13.6m-6.8-6.8h13.6M754.7 839.3v13.6m-6.8-6.8h13.6M754.9 839.6v13.6m-6.8-6.8h13.6M755.1 839.7v13.6m-6.8-6.8h13.6M755.2 839.8v13.6m-6.8-6.8h13.6M755.7 840.6v13.6m-6.8-6.8h13.6M756.1 841.2v13.6m-6.8-6.8h13.6M756.5 841.1v13.6m-6.8-6.8h13.6M756.8 841.6v13.6m-6.8-6.8h13.6M757.3 842.3v13.6m-6.8-6.8h13.6M757.4 842.3v13.6m-6.8-6.8h13.6M757.9 843v13.6m-6.8-6.8h13.6M758.1 842.8v13.6m-6.8-6.8h13.6M758.2 843.1v13.6m-6.8-6.8h13.6M758.8 843.4v13.6m-6.8-6.8h13.6M759.1 844.2v13.6m-6.8-6.8h13.6M759.4 844.2v13.6m-6.8-6.8h13.6M759.5 844.1v13.6m-6.8-6.8h13.6M759.6 845v13.6m-6.8-6.8h13.6M759.9 845.3v13.6m-6.8-6.8h13.6M760.6 845.8v13.6m-6.8-6.8h13.6M760.9 846v13.6m-6.8-6.8h13.6M761.6 846.7v13.6m-6.8-6.8h13.6M761.7 847.2v13.6m-6.8-6.8h13.6M762.2 847.2v13.6m-6.8-6.8h13.6M762.4 847.2v13.6m-6.8-6.8h13.6M762.8 848v13.6m-6.8-6.8h13.6M763.2 848.2v13.6m-6.8-6.8h13.6M763.8 848.4v13.6m-6.8-6.8h13.6M764.4 849.3v13.6m-6.8-6.8h13.6M765 849.1v13.6m-6.8-6.8h13.6M765.5 849.9v13.6m-6.8-6.8h13.6M766.3 850.5v13.6m-6.8-6.8h13.6M767.5 851.6v13.6m-6.8-6.8h13.6M767.6 851.3v13.6m-6.8-6.8h13.6M767.7 851.8v13.6m-6.8-6.8h13.6M767.7 851.4v13.6m-6.8-6.8h13.6M768.2 851.7v13.6m-6.8-6.8h13.6M768.3 851.9v13.6m-6.8-6.8h13.6M768.4 852v13.6m-6.8-6.8h13.6M769.1 852.3v13.6m-6.8-6.8h13.6M769.4 852.7v13.6m-6.8-6.8h13.6M769.7 853.2v13.6m-6.8-6.8h13.6M771 853.9v13.6m-6.8-6.8h13.6M771.1 853.6v13.6m-6.8-6.8h13.6M771.1 853.8v13.6m-6.8-6.8h13.6M771.4 854.1v13.6m-6.8-6.8h13.6M771.8 854.2v13.6m-6.8-6.8h13.6M771.9 854.1v13.6m-6.8-6.8h13.6M772.2 854.4v13.6m-6.8-6.8h13.6M772.2 853.9v13.6m-6.8-6.8h13.6M772.9 854.4v13.6m-6.8-6.8h13.6M773.2 854.6v13.6m-6.8-6.8h13.6M775 856v13.6m-6.8-6.8h13.6M775.9 856.8v13.6m-6.8-6.8h13.6M776.8 857.3v13.6m-6.8-6.8h13.6M777 857.5v13.6m-6.8-6.8h13.6M778.1 858.6v13.6m-6.8-6.8h13.6M778.4 858.9v13.6m-6.8-6.8h13.6M779.1 858.7v13.6m-6.8-6.8h13.6M779.6 859.7v13.6m-6.8-6.8h13.6M779.7 859.4v13.6m-6.8-6.8h13.6M780.2 859.9v13.6m-6.8-6.8h13.6M780.6 859.9v13.6m-6.8-6.8h13.6M780.7 860.6v13.6m-6.8-6.8h13.6M780.9 860.5v13.6m-6.8-6.8h13.6M781.4 860.6v13.6m-6.8-6.8h13.6M781.6 861v13.6m-6.8-6.8h13.6M782.6 862.1v13.6m-6.8-6.8h13.6M782.7 861.9v13.6m-6.8-6.8h13.6M783.4 862.7v13.6m-6.8-6.8h13.6M783.8 862.8v13.6m-6.8-6.8h13.6M784.3 863.2v13.6m-6.8-6.8h13.6M785.3 864.4v13.6m-6.8-6.8h13.6M787 865.1v13.6m-6.8-6.8h13.6M787.5 865.9v13.6m-6.8-6.8h13.6M787.7 865.8v13.6m-6.8-6.8h13.6M788.8 867.4v13.6m-6.8-6.8h13.6M789.1 867.4v13.6m-6.8-6.8h13.6M789.2 867.8v13.6m-6.8-6.8h13.6M789.9 867.8v13.6m-6.8-6.8h13.6M790.3 868.8v13.6m-6.8-6.8h13.6M790.4 868.5v13.6m-6.8-6.8h13.6M790.6 868.7v13.6m-6.8-6.8h13.6M790.7 868.9v13.6m-6.8-6.8h13.6M790.8 869.1v13.6m-6.8-6.8h13.6M791.1 869.5v13.6m-6.8-6.8h13.6M791.8 870.1v13.6m-6.8-6.8h13.6M791.8 870.1v13.6m-6.8-6.8h13.6M792.5 870.3v13.6m-6.8-6.8h13.6M792.6 870.2v13.6m-6.8-6.8h13.6M793.3 871.5v13.6m-6.8-6.8h13.6M793.4 871v13.6m-6.8-6.8h13.6M793.6 871.1v13.6m-6.8-6.8h13.6M794.1 872.1v13.6m-6.8-6.8h13.6M795 872.2v13.6m-6.8-6.8h13.6M796.4 873.3v13.6m-6.8-6.8h13.6M796.5 873.4v13.6m-6.8-6.8h13.6M798 874.1v13.6m-6.8-6.8h13.6M798.8 874.4v13.6m-6.8-6.8h13.6M799.2 873.9v13.6m-6.8-6.8h13.6M799.8 874.6v13.6m-6.8-6.8h13.6M799.9 874.3v13.6m-6.8-6.8h13.6M801.2 875.5v13.6m-6.8-6.8h13.6M801.3 874.8v13.6m-6.8-6.8h13.6M801.9 875.3v13.6m-6.8-6.8h13.6M803.1 875.9v13.6m-6.8-6.8h13.6M803.8 875.9v13.6m-6.8-6.8h13.6M804.7 876.4v13.6m-6.8-6.8h13.6M805 876.8v13.6m-6.8-6.8h13.6M805.2 876.6v13.6m-6.8-6.8h13.6M805.6 876.6v13.6m-6.8-6.8h13.6M805.7 876.7v13.6m-6.8-6.8h13.6M806.8 877.1v13.6m-6.8-6.8h13.6M808.9 878.2v13.6m-6.8-6.8h13.6M809 878.2v13.6m-6.8-6.8h13.6M811.1 878.4v13.6m-6.8-6.8h13.6M811.5 878.7v13.6m-6.8-6.8h13.6M811.9 878.5v13.6m-6.8-6.8h13.6M812.7 878.6v13.6m-6.8-6.8h13.6M813 878.6v13.6m-6.8-6.8h13.6M813.2 879.3v13.6m-6.8-6.8h13.6M813.3 878.8v13.6m-6.8-6.8h13.6M813.6 879v13.6m-6.8-6.8h13.6M813.7 878.8v13.6m-6.8-6.8h13.6M813.9 879.4v13.6m-6.8-6.8h13.6M814.8 879.7v13.6m-6.8-6.8h13.6M815.4 880.1v13.6m-6.8-6.8h13.6M815.6 879.9v13.6m-6.8-6.8h13.6M815.9 880.3v13.6m-6.8-6.8h13.6M816.3 880.2v13.6m-6.8-6.8h13.6M817.1 880.9v13.6m-6.8-6.8h13.6M817.9 880.7v13.6m-6.8-6.8h13.6M818.5 881.4v13.6m-6.8-6.8h13.6M820 881.7v13.6m-6.8-6.8h13.6M820.8 882.5v13.6m-6.8-6.8h13.6M820.9 882.1v13.6m-6.8-6.8h13.6M821.3 882.7v13.6m-6.8-6.8h13.6M821.5 882.8v13.6m-6.8-6.8h13.6M821.6 882.8v13.6m-6.8-6.8h13.6M822 883.2v13.6m-6.8-6.8h13.6M822.8 883v13.6m-6.8-6.8h13.6M823.2 883.2v13.6m-6.8-6.8h13.6M823.6 883.9v13.6m-6.8-6.8h13.6M824.3 883.7v13.6m-6.8-6.8h13.6M824.7 884v13.6m-6.8-6.8h13.6M825.1 884.5v13.6m-6.8-6.8h13.6M825.5 884.9v13.6m-6.8-6.8h13.6M825.7 884.7v13.6m-6.8-6.8h13.6M825.8 884.6v13.6m-6.8-6.8h13.6M826.4 884.8v13.6m-6.8-6.8h13.6M827.4 885.3v13.6m-6.8-6.8h13.6M827.5 885.6v13.6m-6.8-6.8h13.6M827.5 885.3v13.6m-6.8-6.8h13.6M828.2 885.3v13.6m-6.8-6.8h13.6M828.9 886v13.6m-6.8-6.8h13.6M830.9 886.5v13.6m-6.8-6.8h13.6M831.9 887.4v13.6m-6.8-6.8h13.6M832.3 886.9v13.6m-6.8-6.8h13.6M832.6 887.6v13.6m-6.8-6.8h13.6M832.7 887.4v13.6m-6.8-6.8h13.6M833.1 887.7v13.6m-6.8-6.8h13.6M833.4 887.9v13.6m-6.8-6.8h13.6M833.4 887.6v13.6m-6.8-6.8h13.6M833.7 887.7v13.6m-6.8-6.8h13.6M833.8 887.7v13.6m-6.8-6.8h13.6M834.1 888.2v13.6m-6.8-6.8h13.6M834.2 887.7v13.6m-6.8-6.8h13.6M834.3 888.1v13.6m-6.8-6.8h13.6M835.2 887.9v13.6m-6.8-6.8h13.6M836 889v13.6m-6.8-6.8h13.6M836.4 888.9v13.6m-6.8-6.8h13.6M837.2 889.7v13.6m-6.8-6.8h13.6M837.3 889.7v13.6m-6.8-6.8h13.6M837.4 889.4v13.6m-6.8-6.8h13.6M838.6 890.5v13.6m-6.8-6.8h13.6M839 890.6v13.6m-6.8-6.8h13.6M839.3 890.5v13.6m-6.8-6.8h13.6M839.8 891.5v13.6m-6.8-6.8h13.6M839.8 890.8v13.6m-6.8-6.8h13.6M840.4 891.8v13.6m-6.8-6.8h13.6M840.6 891.4v13.6m-6.8-6.8h13.6M841.2 892.2v13.6m-6.8-6.8h13.6M841.3 892.4v13.6m-6.8-6.8h13.6M841.7 892.6v13.6m-6.8-6.8h13.6M841.9 892.4v13.6m-6.8-6.8h13.6M842.4 893v13.6m-6.8-6.8h13.6M843.4 893.9v13.6m-6.8-6.8h13.6M844.1 893.5v13.6m-6.8-6.8h13.6M844.4 894.3v13.6m-6.8-6.8h13.6M845.2 894.5v13.6m-6.8-6.8h13.6M845.2 894.8v13.6m-6.8-6.8h13.6M845.4 894.8v13.6m-6.8-6.8h13.6M845.5 895.2v13.6m-6.8-6.8h13.6M845.6 895v13.6m-6.8-6.8h13.6M846.8 895.5v13.6m-6.8-6.8h13.6M846.9 895.4v13.6m-6.8-6.8h13.6M847.9 895.7v13.6m-6.8-6.8h13.6M849.4 896v13.6m-6.8-6.8h13.6M849.7 895.5v13.6m-6.8-6.8h13.6M850.4 895.9v13.6m-6.8-6.8h13.6M851.4 896v13.6m-6.8-6.8h13.6M852.2 895.9v13.6m-6.8-6.8h13.6M853.1 896.6v13.6m-6.8-6.8h13.6M854.1 896.6v13.6m-6.8-6.8h13.6M854.8 896.3v13.6m-6.8-6.8h13.6M855 896.4v13.6m-6.8-6.8h13.6M855.2 896.7v13.6m-6.8-6.8h13.6M855.5 896.7v13.6m-6.8-6.8h13.6M856.9 897.3v13.6m-6.8-6.8h13.6M856.9 897.1v13.6m-6.8-6.8h13.6M857.4 897.1v13.6m-6.8-6.8h13.6M858.2 897.8v13.6m-6.8-6.8h13.6M858.3 897.7v13.6m-6.8-6.8h13.6M858.4 897.6v13.6m-6.8-6.8h13.6M858.7 898v13.6m-6.8-6.8h13.6M860.1 898.6v13.6m-6.8-6.8h13.6M860.5 898.7v13.6m-6.8-6.8h13.6M861.1 898.8v13.6m-6.8-6.8h13.6M861.2 898.6v13.6m-6.8-6.8h13.6M863 899.6v13.6m-6.8-6.8h13.6M863 899.5v13.6m-6.8-6.8h13.6M863.1 899.3v13.6m-6.8-6.8h13.6M863.4 899.6v13.6m-6.8-6.8h13.6M863.5 899.8v13.6m-6.8-6.8h13.6M865 900.4v13.6m-6.8-6.8h13.6M865.3 900.5v13.6m-6.8-6.8h13.6M865.5 900.5v13.6m-6.8-6.8h13.6M865.6 900.6v13.6m-6.8-6.8h13.6M867 901.1v13.6m-6.8-6.8h13.6M868.3 901.3v13.6m-6.8-6.8h13.6M868.9 901.4v13.6m-6.8-6.8h13.6M869.3 901.7v13.6m-6.8-6.8h13.6M869.8 901.2v13.6m-6.8-6.8h13.6M870 901.4v13.6m-6.8-6.8h13.6M870.5 901.5v13.6m-6.8-6.8h13.6M870.7 901.4v13.6m-6.8-6.8h13.6M872.9 902v13.6m-6.8-6.8h13.6M874.1 902.2v13.6m-6.8-6.8h13.6M874.2 902v13.6m-6.8-6.8h13.6M875 902v13.6m-6.8-6.8h13.6M875.5 902.2v13.6m-6.8-6.8h13.6M876.1 901.9v13.6m-6.8-6.8h13.6M876.2 901.9v13.6m-6.8-6.8h13.6M876.3 902v13.6m-6.8-6.8h13.6M876.4 901.8v13.6m-6.8-6.8h13.6M877 902v13.6m-6.8-6.8h13.6M877.8 902.4v13.6m-6.8-6.8h13.6M878.8 902.8v13.6m-6.8-6.8h13.6M880 903.1v13.6m-6.8-6.8h13.6M880.4 903.7v13.6m-6.8-6.8h13.6M881 903.5v13.6m-6.8-6.8h13.6M882.3 904.1v13.6m-6.8-6.8h13.6M882.9 903.8v13.6m-6.8-6.8h13.6M884.2 904.2v13.6m-6.8-6.8h13.6M884.2 904.5v13.6m-6.8-6.8h13.6M884.4 904.4v13.6m-6.8-6.8h13.6M884.8 904.8v13.6m-6.8-6.8h13.6M885.4 905.3v13.6m-6.8-6.8h13.6M886.1 905.5v13.6m-6.8-6.8h13.6M886.5 905v13.6m-6.8-6.8h13.6M887.2 906v13.6m-6.8-6.8h13.6M887.3 905.7v13.6m-6.8-6.8h13.6M887.6 906v13.6m-6.8-6.8h13.6M887.7 905.7v13.6m-6.8-6.8h13.6M888 905.6v13.6m-6.8-6.8h13.6M888.8 905.5v13.6m-6.8-6.8h13.6M889 906.3v13.6m-6.8-6.8h13.6M889.4 905.6v13.6m-6.8-6.8h13.6M889.9 906.3v13.6m-6.8-6.8h13.6M891.5 906.8v13.6m-6.8-6.8h13.6M893.3 906.6v13.6m-6.8-6.8h13.6M893.6 907v13.6m-6.8-6.8h13.6M893.8 906.8v13.6m-6.8-6.8h13.6M893.9 906.7v13.6m-6.8-6.8h13.6M894 906.8v13.6m-6.8-6.8h13.6M894.8 906.8v13.6m-6.8-6.8h13.6M895 906.8v13.6m-6.8-6.8h13.6M895.3 907.3v13.6m-6.8-6.8h13.6M895.8 907.4v13.6m-6.8-6.8h13.6M896.3 907.6v13.6m-6.8-6.8h13.6M897.3 907.9v13.6m-6.8-6.8h13.6M897.4 908v13.6m-6.8-6.8h13.6M897.8 908.1v13.6m-6.8-6.8h13.6M898.6 907.8v13.6m-6.8-6.8h13.6M898.7 907.6v13.6m-6.8-6.8h13.6M899.6 907.7v13.6m-6.8-6.8h13.6M899.7 908.2v13.6m-6.8-6.8h13.6M900.3 908.3v13.6m-6.8-6.8h13.6M900.4 908.6v13.6m-6.8-6.8h13.6M901.2 908v13.6m-6.8-6.8h13.6M901.8 908.4v13.6m-6.8-6.8h13.6M901.9 908.6v13.6m-6.8-6.8h13.6M904 908.6v13.6m-6.8-6.8h13.6M905 909.5v13.6m-6.8-6.8h13.6M905.1 909.5v13.6m-6.8-6.8h13.6M905.2 909v13.6m-6.8-6.8h13.6M905.3 908.9v13.6m-6.8-6.8h13.6M905.4 909.3v13.6m-6.8-6.8h13.6M905.8 909.7v13.6m-6.8-6.8h13.6M906.6 909.1v13.6m-6.8-6.8h13.6M906.7 909.3v13.6m-6.8-6.8h13.6M907.7 909.9v13.6m-6.8-6.8h13.6M908.8 910.3v13.6m-6.8-6.8h13.6M909.6 910.3v13.6m-6.8-6.8h13.6M910.7 910.9v13.6m-6.8-6.8h13.6M911.7 911.2v13.6m-6.8-6.8h13.6M912.1 910.7v13.6m-6.8-6.8h13.6M912.7 911.4v13.6m-6.8-6.8h13.6M914.5 912v13.6m-6.8-6.8h13.6M915.8 912.6v13.6m-6.8-6.8h13.6M916 912.7v13.6m-6.8-6.8h13.6M916.5 912.4v13.6m-6.8-6.8h13.6M916.9 912.6v13.6m-6.8-6.8h13.6M917.2 912.9v13.6m-6.8-6.8h13.6M917.4 912.7v13.6m-6.8-6.8h13.6M918 913.3v13.6m-6.8-6.8h13.6M918.8 913.3v13.6m-6.8-6.8h13.6M919 913.5v13.6m-6.8-6.8h13.6M920.5 913.6v13.6m-6.8-6.8h13.6M920.8 913.9v13.6m-6.8-6.8h13.6M921.6 914.6v13.6m-6.8-6.8h13.6M921.7 914.8v13.6m-6.8-6.8h13.6M922 914.3v13.6m-6.8-6.8h13.6M922.1 914.3v13.6m-6.8-6.8h13.6M922.3 914.4v13.6m-6.8-6.8h13.6M923 914.7v13.6m-6.8-6.8h13.6M923.3 915.3v13.6m-6.8-6.8h13.6M923.6 915.1v13.6m-6.8-6.8h13.6M924 915.4v13.6m-6.8-6.8h13.6M924.5 915.7v13.6m-6.8-6.8h13.6M924.7 915.9v13.6m-6.8-6.8h13.6M925.8 916.6v13.6m-6.8-6.8h13.6M926.3 916.3v13.6m-6.8-6.8h13.6M926.4 916.4v13.6m-6.8-6.8h13.6M928.4 917.7v13.6m-6.8-6.8h13.6M929.1 917.5v13.6m-6.8-6.8h13.6M929.2 917.5v13.6m-6.8-6.8h13.6M929.5 918.3v13.6m-6.8-6.8h13.6M929.6 918.3v13.6m-6.8-6.8h13.6M930 918.2v13.6m-6.8-6.8h13.6M930.3 918.2v13.6m-6.8-6.8h13.6M930.8 919.2v13.6m-6.8-6.8h13.6M931 919.4v13.6m-6.8-6.8h13.6M931.2 919v13.6m-6.8-6.8h13.6M931.8 919.3v13.6m-6.8-6.8h13.6M931.9 919.6v13.6m-6.8-6.8h13.6M932.2 919.6v13.6m-6.8-6.8h13.6M932.3 919.6v13.6m-6.8-6.8h13.6M932.4 919.7v13.6m-6.8-6.8h13.6M933 920.7v13.6m-6.8-6.8h13.6M933.4 920.5v13.6m-6.8-6.8h13.6M933.9 921.3v13.6m-6.8-6.8h13.6M934.1 921.3v13.6m-6.8-6.8h13.6M934.2 921.4v13.6m-6.8-6.8h13.6M935.2 921.9v13.6m-6.8-6.8h13.6M936.3 922.7v13.6m-6.8-6.8h13.6M937.1 923.2v13.6m-6.8-6.8h13.6M937.4 923.2v13.6m-6.8-6.8h13.6M937.8 923.8v13.6m-6.8-6.8h13.6M937.9 923.8v13.6m-6.8-6.8h13.6M937.9 923.8v13.6m-6.8-6.8h13.6M938.6 924.5v13.6m-6.8-6.8h13.6M939.2 924.5v13.6m-6.8-6.8h13.6M939.9 924.7v13.6m-6.8-6.8h13.6M940.6 924.8v13.6m-6.8-6.8h13.6M941.7 924.8v13.6m-6.8-6.8h13.6M943.6 925v13.6m-6.8-6.8h13.6M943.7 924.9v13.6m-6.8-6.8h13.6M944.2 925.6v13.6m-6.8-6.8h13.6M944.3 925.6v13.6m-6.8-6.8h13.6M944.7 925.5v13.6m-6.8-6.8h13.6M944.8 925.8v13.6m-6.8-6.8h13.6M945.2 925.3v13.6m-6.8-6.8h13.6M945.8 925.2v13.6m-6.8-6.8h13.6M946.4 926v13.6m-6.8-6.8h13.6M946.5 925.5v13.6m-6.8-6.8h13.6M946.7 925.5v13.6m-6.8-6.8h13.6M947.3 926.1v13.6m-6.8-6.8h13.6M947.7 926.1v13.6m-6.8-6.8h13.6M949.1 926.5v13.6m-6.8-6.8h13.6M949.4 926.6v13.6m-6.8-6.8h13.6M949.5 926.6v13.6m-6.8-6.8h13.6M949.6 926.2v13.6m-6.8-6.8h13.6M949.7 926.4v13.6m-6.8-6.8h13.6M949.8 926.5v13.6m-6.8-6.8h13.6M949.9 926.5v13.6m-6.8-6.8h13.6M950.3 926.3v13.6m-6.8-6.8h13.6M950.4 926.7v13.6m-6.8-6.8h13.6M950.5 926.4v13.6m-6.8-6.8h13.6M952.1 927.2v13.6m-6.8-6.8h13.6M952.8 927.2v13.6m-6.8-6.8h13.6M953.9 927.6v13.6m-6.8-6.8h13.6M955 927.8v13.6m-6.8-6.8h13.6M955.3 927.9v13.6m-6.8-6.8h13.6M955.6 927.8v13.6m-6.8-6.8h13.6M955.7 927.5v13.6m-6.8-6.8h13.6M956.4 927.6v13.6m-6.8-6.8h13.6M956.5 928.3v13.6m-6.8-6.8h13.6M957.9 928.7v13.6m-6.8-6.8h13.6M958.8 928.4v13.6m-6.8-6.8h13.6M959.4 928.7v13.6m-6.8-6.8h13.6M959.5 928.4v13.6m-6.8-6.8h13.6M960 928.6v13.6m-6.8-6.8h13.6M960.6 929v13.6m-6.8-6.8h13.6M960.7 928.4v13.6m-6.8-6.8h13.6M962.8 928.4v13.6m-6.8-6.8h13.6M963.1 928.7v13.6m-6.8-6.8h13.6M963.3 928.6v13.6m-6.8-6.8h13.6M963.4 928.9v13.6m-6.8-6.8h13.6M963.6 928.9v13.6m-6.8-6.8h13.6M964 928.7v13.6m-6.8-6.8h13.6M964.1 929v13.6m-6.8-6.8h13.6M964.1 928.7v13.6m-6.8-6.8h13.6"/>
<path class="cr" d="M624.3 664.4L631.5 666.5L639.8 671.1L650.6 680.9L658.3 691.2L663.5 701.5L672.2 711.8L680.5 722.1L689.2 732.4L697.5 742.7L706.2 753L716 763.3L727.3 771.1L737.6 781.4L748 791.2L758.3 796.3L768.6 799.4L774 803.6L784.3 809.8L794.6 817L804.9 823L815.2 825.5L825.5 831.2L835.8 834.1L846.1 841L856.4 846.5L866.7 849.8L877 853.4L887.3 855.4L897.6 859.2L908 863.7L918.3 867.8L928.6 869.5L938.9 873.7L949.2 877.4L959.5 881.2L964.1 881.5"/>
<path class="mr" d="M624.3 657.4v13.6m-6.8-6.8h13.6M625 657.9v13.6m-6.8-6.8h13.6M625.4 657.7v13.6m-6.8-6.8h13.6M626.3 658.5v13.6m-6.8-6.8h13.6M626.8 658.3v13.6m-6.8-6.8h13.6M626.9 658v13.6m-6.8-6.8h13.6M627.2 658.5v13.6m-6.8-6.8h13.6M627.3 658.7v13.6m-6.8-6.8h13.6M627.4 658.3v13.6m-6.8-6.8h13.6M627.5 658.9v13.6m-6.8-6.8h13.6M628.3 659.1v13.6m-6.8-6.8h13.6M628.9 658.6v13.6m-6.8-6.8h13.6M629.1 659v13.6m-6.8-6.8h13.6M629.2 659.4v13.6m-6.8-6.8h13.6M629.5 658.8v13.6m-6.8-6.8h13.6M630.5 659.1v13.6m-6.8-6.8h13.6M632 659.9v13.6m-6.8-6.8h13.6M632.5 660.1v13.6m-6.8-6.8h13.6M632.8 660.2v13.6m-6.8-6.8h13.6M632.9 660.8v13.6m-6.8-6.8h13.6M633 660.8v13.6m-6.8-6.8h13.6M633.2 661v13.6m-6.8-6.8h13.6M634.4 661.5v13.6m-6.8-6.8h13.6M635.2 661.8v13.6m-6.8-6.8h13.6M635.9 661.8v13.6m-6.8-6.8h13.6M636.2 662.6v13.6m-6.8-6.8h13.6M636.3 662.7v13.6m-6.8-6.8h13.6M637.5 663v13.6m-6.8-6.8h13.6M637.8 663.2v13.6m-6.8-6.8h13.6M638 663.7v13.6m-6.8-6.8h13.6M638.3 663.1v13.6m-6.8-6.8h13.6M638.4 663.7v13.6m-6.8-6.8h13.6M640.2 664.7v13.6m-6.8-6.8h13.6M640.5 665v13.6m-6.8-6.8h13.6M641.1 665.3v13.6m-6.8-6.8h13.6M641.6 666v13.6m-6.8-6.8h13.6M642 666.1v13.6m-6.8-6.8h13.6M642.1 666.3v13.6m-6.8-6.8h13.6M643.3 667.4v13.6m-6.8-6.8h13.6M643.7 667.8v13.6m-6.8-6.8h13.6M643.8 667.6v13.6m-6.8-6.8h13.6M644.6 668.9v13.6m-6.8-6.8h13.6M644.8 669v13.6m-6.8-6.8h13.6M645.3 669.7v13.6m-6.8-6.8h13.6M646.8 670.6v13.6m-6.8-6.8h13.6M648.4 672.5v13.6m-6.8-6.8h13.6M648.9 672.9v13.6m-6.8-6.8h13.6M649.5 673v13.6m-6.8-6.8h13.6M649.7 673.6v13.6m-6.8-6.8h13.6M649.9 673.2v13.6m-6.8-6.8h13.6M651.4 675.5v13.6m-6.8-6.8h13.6M652.1 676.5v13.6m-6.8-6.8h13.6M652.3 676.2v13.6m-6.8-6.8h13.6M652.7 676.9v13.6m-6.8-6.8h13.6M652.9 676.9v13.6m-6.8-6.8h13.6M653.4 678.2v13.6m-6.8-6.8h13.6M657.7 683.7v13.6m-6.8-6.8h13.6M658.5 684.7v13.6m-6.8-6.8h13.6M662.1 691.9v13.6m-6.8-6.8h13.6M663.6 694.5v13.6m-6.8-6.8h13.6M664 695.7v13.6m-6.8-6.8h13.6M666.7 698.8v13.6m-6.8-6.8h13.6M668.2 700.2v13.6m-6.8-6.8h13.6M669.6 702.2v13.6m-6.8-6.8h13.6M670.2 702.6v13.6m-6.8-6.8h13.6M670.7 703.4v13.6m-6.8-6.8h13.6M670.9 703.6v13.6m-6.8-6.8h13.6M675.3 708.5v13.6m-6.8-6.8h13.6M676.3 710.2v13.6m-6.8-6.8h13.6M678.1 712.4v13.6m-6.8-6.8h13.6M678.3 712.5v13.6m-6.8-6.8h13.6M679.7 714.8v13.6m-6.8-6.8h13.6M679.8 714.2v13.6m-6.8-6.8h13.6M679.9 714.2v13.6m-6.8-6.8h13.6M680.1 714.6v13.6m-6.8-6.8h13.6M680.9 715.9v13.6m-6.8-6.8h13.6M680.9 715.9v13.6m-6.8-6.8h13.6M681.1 716.1v13.6m-6.8-6.8h13.6M681.2 715.9v13.6m-6.8-6.8h13.6M681.3 716.2v13.6m-6.8-6.8h13.6M681.8 716.9v13.6m-6.8-6.8h13.6M681.8 717.1v13.6m-6.8-6.8h13.6M682.7 718.1v13.6m-6.8-6.8h13.6M683.3 718.3v13.6m-6.8-6.8h13.6M683.5 718.6v13.6m-6.8-6.8h13.6M684.1 719.4v13.6m-6.8-6.8h13.6M684.6 720v13.6m-6.8-6.8h13.6M685.1 720.6v13.6m-6.8-6.8h13.6M685.2 720.8v13.6m-6.8-6.8h13.6M685.3 721.4v13.6m-6.8-6.8h13.6M685.5 721.2v13.6m-6.8-6.8h13.6M685.8 721.9v13.6m-6.8-6.8h13.6M685.8 721.7v13.6m-6.8-6.8h13.6M686.1 722.2v13.6m-6.8-6.8h13.6M687.5 723.4v13.6m-6.8-6.8h13.6M688 724.2v13.6m-6.8-6.8h13.6M688.3 724.2v13.6m-6.8-6.8h13.6M689 725.7v13.6m-6.8-6.8h13.6M689.2 725.4v13.6m-6.8-6.8h13.6M690.5 726.9v13.6m-6.8-6.8h13.6M690.6 727v13.6m-6.8-6.8h13.6M691.2 728.3v13.6m-6.8-6.8h13.6M691.5 728.5v13.6m-6.8-6.8h13.6M691.5 728.6v13.6m-6.8-6.8h13.6M691.7 728.8v13.6m-6.8-6.8h13.6M691.9 728.9v13.6m-6.8-6.8h13.6M692 728.8v13.6m-6.8-6.8h13.6M692.3 729.2v13.6m-6.8-6.8h13.6M692.7 730.3v13.6m-6.8-6.8h13.6M693.2 730.6v13.6m-6.8-6.8h13.6M693.3 730.7v13.6m-6.8-6.8h13.6M693.6 731.2v13.6m-6.8-6.8h13.6M694.9 732.4v13.6m-6.8-6.8h13.6M695.1 733v13.6m-6.8-6.8h13.6M695.6 733.9v13.6m-6.8-6.8h13.6M696.2 734.4v13.6m-6.8-6.8h13.6M696.7 735.2v13.6m-6.8-6.8h13.6M697.5 736.1v13.6m-6.8-6.8h13.6M698 736.3v13.6m-6.8-6.8h13.6M699 737.6v13.6m-6.8-6.8h13.6M699.3 738.4v13.6m-6.8-6.8h13.6M700.7 740.1v13.6m-6.8-6.8h13.6M700.7 739.6v13.6m-6.8-6.8h13.6M700.9 739.9v13.6m-6.8-6.8h13.6M700.9 740.1v13.6m-6.8-6.8h13.6M701 739.9v13.6m-6.8-6.8h13.6M702.2 741.7v13.6m-6.8-6.8h13.6M702.4 741.4v13.6m-6.8-6.8h13.6M703.7 743.4v13.6m-6.8-6.8h13.6M703.8 743.2v13.6m-6.8-6.8h13.6M704.2 744v13.6m-6.8-6.8h13.6M704.3 744.3v13.6m-6.8-6.8h13.6M704.4 744v13.6m-6.8-6.8h13.6M705.2 744.8v13.6m-6.8-6.8h13.6M705.7 745.3v13.6m-6.8-6.8h13.6M706 745.8v13.6m-6.8-6.8h13.6M706.2 746.6v13.6m-6.8-6.8h13.6M706.5 746.5v13.6m-6.8-6.8h13.6M706.9 746.8v13.6m-6.8-6.8h13.6M707 746.9v13.6m-6.8-6.8h13.6M707.1 746.9v13.6m-6.8-6.8h13.6M708.5 748.3v13.6m-6.8-6.8h13.6M709.2 749.7v13.6m-6.8-6.8h13.6M709.7 749.5v13.6m-6.8-6.8h13.6M710 749.9v13.6m-6.8-6.8h13.6M710.4 750.8v13.6m-6.8-6.8h13.6M710.5 750.4v13.6m-6.8-6.8h13.6M710.9 750.8v13.6m-6.8-6.8h13.6M711 751.3v13.6m-6.8-6.8h13.6M712 752.2v13.6m-6.8-6.8h13.6M712.1 752.6v13.6m-6.8-6.8h13.6M712.8 753.2v13.6m-6.8-6.8h13.6M712.9 753v13.6m-6.8-6.8h13.6M713.1 753.5v13.6m-6.8-6.8h13.6M713.2 753.8v13.6m-6.8-6.8h13.6M714 754.7v13.6m-6.8-6.8h13.6M714.9 755v13.6m-6.8-6.8h13.6M715.3 755.4v13.6m-6.8-6.8h13.6M716.3 756.9v13.6m-6.8-6.8h13.6M717 757v13.6m-6.8-6.8h13.6M717.1 757.5v13.6m-6.8-6.8h13.6M717.6 757.7v13.6m-6.8-6.8h13.6M717.9 758.1v13.6m-6.8-6.8h13.6M718.1 757.8v13.6m-6.8-6.8h13.6M718.3 758v13.6m-6.8-6.8h13.6M718.8 758.8v13.6m-6.8-6.8h13.6M718.9 758.2v13.6m-6.8-6.8h13.6M719.3 758.9v13.6m-6.8-6.8h13.6M719.4 758.7v13.6m-6.8-6.8h13.6M719.5 758.5v13.6m-6.8-6.8h13.6M719.8 759.3v13.6m-6.8-6.8h13.6M720.4 759.2v13.6m-6.8-6.8h13.6M720.4 759.9v13.6m-6.8-6.8h13.6M720.8 759.8v13.6m-6.8-6.8h13.6M721.4 760.4v13.6m-6.8-6.8h13.6M721.8 760.2v13.6m-6.8-6.8h13.6M722.7 760.9v13.6m-6.8-6.8h13.6M722.8 761.1v13.6m-6.8-6.8h13.6M723.2 761.5v13.6m-6.8-6.8h13.6M723.3 761.7v13.6m-6.8-6.8h13.6M723.6 761.5v13.6m-6.8-6.8h13.6M724.6 762.7v13.6m-6.8-6.8h13.6M725.8 763.4v13.6m-6.8-6.8h13.6M726 763.5v13.6m-6.8-6.8h13.6M727.1 764.2v13.6m-6.8-6.8h13.6M728.2 765.5v13.6m-6.8-6.8h13.6M728.4 765.7v13.6m-6.8-6.8h13.6M729.6 766.8v13.6m-6.8-6.8h13.6M729.7 766.5v13.6m-6.8-6.8h13.6M730.1 767.1v13.6m-6.8-6.8h13.6M730.8 767.8v13.6m-6.8-6.8h13.6M730.8 768.1v13.6m-6.8-6.8h13.6M731.2 768.4v13.6m-6.8-6.8h13.6M731.3 768.6v13.6m-6.8-6.8h13.6M731.6 768.8v13.6m-6.8-6.8h13.6M732.2 769.4v13.6m-6.8-6.8h13.6M732.4 769v13.6m-6.8-6.8h13.6M732.6 769.3v13.6m-6.8-6.8h13.6M733 770.2v13.6m-6.8-6.8h13.6M733.2 769.8v13.6m-6.8-6.8h13.6M733.2 770.1v13.6m-6.8-6.8h13.6M733.6 770.2v13.6m-6.8-6.8h13.6M734.1 770.8v13.6m-6.8-6.8h13.6M734.2 771.4v13.6m-6.8-6.8h13.6M734.5 771.7v13.6m-6.8-6.8h13.6M734.8 771.4v13.6m-6.8-6.8h13.6M734.9 771.8v13.6m-6.8-6.8h13.6M735.4 772.5v13.6m-6.8-6.8h13.6M736 773v13.6m-6.8-6.8h13.6M736.1 773v13.6m-6.8-6.8h13.6M736.3 773.2v13.6m-6.8-6.8h13.6M736.5 773.4v13.6m-6.8-6.8h13.6M736.7 773.3v13.6m-6.8-6.8h13.6M737.5 774.5v13.6m-6.8-6.8h13.6M738.2 775.3v13.6m-6.8-6.8h13.6M738.8 776.1v13.6m-6.8-6.8h13.6M739 775.8v13.6m-6.8-6.8h13.6M739.1 776.1v13.6m-6.8-6.8h13.6M739.5 776.4v13.6m-6.8-6.8h13.6M741 777.6v13.6m-6.8-6.8h13.6M741.2 778.1v13.6m-6.8-6.8h13.6M741.9 778.6v13.6m-6.8-6.8h13.6M742 778.6v13.6m-6.8-6.8h13.6M742.8 779.4v13.6m-6.8-6.8h13.6M743 779.6v13.6m-6.8-6.8h13.6M743.5 780.2v13.6m-6.8-6.8h13.6M744 780.9v13.6m-6.8-6.8h13.6M744.6 781.1v13.6m-6.8-6.8h13.6M744.8 781.6v13.6m-6.8-6.8h13.6M745.5 782.4v13.6m-6.8-6.8h13.6M745.6 782.4v13.6m-6.8-6.8h13.6M746.6 782.7v13.6m-6.8-6.8h13.6M746.7 783.3v13.6m-6.8-6.8h13.6M746.8 783.6v13.6m-6.8-6.8h13.6M747 783.6v13.6m-6.8-6.8h13.6M747.1 783.3v13.6m-6.8-6.8h13.6M747.2 783.7v13.6m-6.8-6.8h13.6M747.8 784v13.6m-6.8-6.8h13.6M748.4 784.4v13.6m-6.8-6.8h13.6M749 784.8v13.6m-6.8-6.8h13.6M749.1 784.6v13.6m-6.8-6.8h13.6M749.2 785.1v13.6m-6.8-6.8h13.6M749.5 784.8v13.6m-6.8-6.8h13.6M750.6 785.8v13.6m-6.8-6.8h13.6M750.7 785.9v13.6m-6.8-6.8h13.6M751.2 786v13.6m-6.8-6.8h13.6M751.6 786.6v13.6m-6.8-6.8h13.6M751.9 786.4v13.6m-6.8-6.8h13.6M752.4 786.5v13.6m-6.8-6.8h13.6M752.7 786.9v13.6m-6.8-6.8h13.6M753.2 787v13.6m-6.8-6.8h13.6M753.6 787v13.6m-6.8-6.8h13.6M754.5 787.2v13.6m-6.8-6.8h13.6M755.1 787.9v13.6m-6.8-6.8h13.6M755.2 788.1v13.6m-6.8-6.8h13.6M755.7 787.9v13.6m-6.8-6.8h13.6M756.1 788.1v13.6m-6.8-6.8h13.6M756.9 788.7v13.6m-6.8-6.8h13.6M757.2 788.7v13.6m-6.8-6.8h13.6M757.2 788.8v13.6m-6.8-6.8h13.6M757.3 789.2v13.6m-6.8-6.8h13.6M758.4 789.3v13.6m-6.8-6.8h13.6M758.5 789.6v13.6m-6.8-6.8h13.6M758.6 789.5v13.6m-6.8-6.8h13.6M759.4 789.6v13.6m-6.8-6.8h13.6M760.1 790.1v13.6m-6.8-6.8h13.6M760.2 789.9v13.6m-6.8-6.8h13.6M760.8 789.9v13.6m-6.8-6.8h13.6M760.9 790.4v13.6m-6.8-6.8h13.6M761.9 790.6v13.6m-6.8-6.8h13.6M762.6 790.4v13.6m-6.8-6.8h13.6M762.8 790.7v13.6m-6.8-6.8h13.6M764.2 791.2v13.6m-6.8-6.8h13.6M765.1 791.2v13.6m-6.8-6.8h13.6M765.5 792v13.6m-6.8-6.8h13.6M766.4 792v13.6m-6.8-6.8h13.6M766.5 792.3v13.6m-6.8-6.8h13.6M766.6 792.4v13.6m-6.8-6.8h13.6M767.5 792.5v13.6m-6.8-6.8h13.6M768 792.2v13.6m-6.8-6.8h13.6M768.2 792.6v13.6m-6.8-6.8h13.6M768.8 792.7v13.6m-6.8-6.8h13.6M769.6 793v13.6m-6.8-6.8h13.6M769.8 793.2v13.6m-6.8-6.8h13.6M770 793.9v13.6m-6.8-6.8h13.6M770.6 793.9v13.6m-6.8-6.8h13.6M770.8 794v13.6m-6.8-6.8h13.6M771.4 794.7v13.6m-6.8-6.8h13.6M771.5 794.8v13.6m-6.8-6.8h13.6M772.5 795.6v13.6m-6.8-6.8h13.6M773 796.2v13.6m-6.8-6.8h13.6M773.4 796.4v13.6m-6.8-6.8h13.6M773.6 796.2v13.6m-6.8-6.8h13.6M773.9 796.6v13.6m-6.8-6.8h13.6M774.1 796.6v13.6m-6.8-6.8h13.6M775.4 797.6v13.6m-6.8-6.8h13.6M775.5 797.4v13.6m-6.8-6.8h13.6M775.7 798.1v13.6m-6.8-6.8h13.6M775.9 798.1v13.6m-6.8-6.8h13.6M776 798.1v13.6m-6.8-6.8h13.6M776.3 798.4v13.6m-6.8-6.8h13.6M776.7 798.3v13.6m-6.8-6.8h13.6M776.9 798.6v13.6m-6.8-6.8h13.6M777.9 799.3v13.6m-6.8-6.8h13.6M778.2 799.2v13.6m-6.8-6.8h13.6M779.4 800.3v13.6m-6.8-6.8h13.6M779.5 800.2v13.6m-6.8-6.8h13.6M780.3 800.7v13.6m-6.8-6.8h13.6M782 801.9v13.6m-6.8-6.8h13.6M782.2 802.1v13.6m-6.8-6.8h13.6M782.4 801.7v13.6m-6.8-6.8h13.6M784.3 802.7v13.6m-6.8-6.8h13.6M784.5 803.2v13.6m-6.8-6.8h13.6M784.7 803.1v13.6m-6.8-6.8h13.6M785.5 803.9v13.6m-6.8-6.8h13.6M786.2 804.5v13.6m-6.8-6.8h13.6M787.2 805.3v13.6m-6.8-6.8h13.6M788.1 806v13.6m-6.8-6.8h13.6M788.5 806v13.6m-6.8-6.8h13.6M788.8 806.5v13.6m-6.8-6.8h13.6M789.4 806.5v13.6m-6.8-6.8h13.6M789.9 806.7v13.6m-6.8-6.8h13.6M790 806.9v13.6m-6.8-6.8h13.6M790.1 806.6v13.6m-6.8-6.8h13.6M790.1 807v13.6m-6.8-6.8h13.6M790.9 807.2v13.6m-6.8-6.8h13.6M791.4 807.6v13.6m-6.8-6.8h13.6M791.8 808v13.6m-6.8-6.8h13.6M792.1 808.6v13.6m-6.8-6.8h13.6M792.3 808.5v13.6m-6.8-6.8h13.6M793 808.8v13.6m-6.8-6.8h13.6M793.2 809.4v13.6m-6.8-6.8h13.6M794.1 810.2v13.6m-6.8-6.8h13.6M794.3 810.1v13.6m-6.8-6.8h13.6M794.5 810.3v13.6m-6.8-6.8h13.6M795.5 810.4v13.6m-6.8-6.8h13.6M795.7 811.2v13.6m-6.8-6.8h13.6M795.9 811.1v13.6m-6.8-6.8h13.6M796.8 811.3v13.6m-6.8-6.8h13.6M797.7 811.6v13.6m-6.8-6.8h13.6M797.9 811.8v13.6m-6.8-6.8h13.6M798.1 812v13.6m-6.8-6.8h13.6M798.2 812.5v13.6m-6.8-6.8h13.6M798.3 812.4v13.6m-6.8-6.8h13.6M798.7 812.9v13.6m-6.8-6.8h13.6M799.7 813.3v13.6m-6.8-6.8h13.6M799.8 813.4v13.6m-6.8-6.8h13.6M799.9 813.6v13.6m-6.8-6.8h13.6M800.1 813.2v13.6m-6.8-6.8h13.6M800.2 813.4v13.6m-6.8-6.8h13.6M801.1 814.2v13.6m-6.8-6.8h13.6M801.8 814.6v13.6m-6.8-6.8h13.6M802 814.3v13.6m-6.8-6.8h13.6M802.2 814.5v13.6m-6.8-6.8h13.6M803.3 815.6v13.6m-6.8-6.8h13.6M803.3 815.6v13.6m-6.8-6.8h13.6M804.7 816v13.6m-6.8-6.8h13.6M805.4 816.5v13.6m-6.8-6.8h13.6M805.5 816.4v13.6m-6.8-6.8h13.6M807.6 817.1v13.6m-6.8-6.8h13.6M809.1 816.9v13.6m-6.8-6.8h13.6M809.8 817.4v13.6m-6.8-6.8h13.6M811.3 817.5v13.6m-6.8-6.8h13.6M811.7 817.6v13.6m-6.8-6.8h13.6M812.7 818.3v13.6m-6.8-6.8h13.6M812.8 818v13.6m-6.8-6.8h13.6M812.9 818.3v13.6m-6.8-6.8h13.6M813.5 818v13.6m-6.8-6.8h13.6M815.3 819.2v13.6m-6.8-6.8h13.6M815.6 819v13.6m-6.8-6.8h13.6M815.9 819.2v13.6m-6.8-6.8h13.6M816.1 819.2v13.6m-6.8-6.8h13.6M816.9 819.4v13.6m-6.8-6.8h13.6M817.1 820v13.6m-6.8-6.8h13.6M817.2 819.5v13.6m-6.8-6.8h13.6M818.5 820.3v13.6m-6.8-6.8h13.6M818.8 820.6v13.6m-6.8-6.8h13.6M819 820.7v13.6m-6.8-6.8h13.6M819.4 820.7v13.6m-6.8-6.8h13.6M819.8 820.9v13.6m-6.8-6.8h13.6M819.9 821.1v13.6m-6.8-6.8h13.6M820.1 821.3v13.6m-6.8-6.8h13.6M820.2 821.8v13.6m-6.8-6.8h13.6M820.8 821.8v13.6m-6.8-6.8h13.6M821.6 822.4v13.6m-6.8-6.8h13.6M821.8 822.5v13.6m-6.8-6.8h13.6M822.6 822.8v13.6m-6.8-6.8h13.6M823.3 823.3v13.6m-6.8-6.8h13.6M824.8 823.8v13.6m-6.8-6.8h13.6M825.4 824.7v13.6m-6.8-6.8h13.6M825.8 824.8v13.6m-6.8-6.8h13.6M825.9 824.7v13.6m-6.8-6.8h13.6M826.1 824.8v13.6m-6.8-6.8h13.6M826.4 824.7v13.6m-6.8-6.8h13.6M826.6 824.5v13.6m-6.8-6.8h13.6M827.8 825.2v13.6m-6.8-6.8h13.6M828.4 824.9v13.6m-6.8-6.8h13.6M828.6 825.6v13.6m-6.8-6.8h13.6M828.7 825.3v13.6m-6.8-6.8h13.6M829.4 825.5v13.6m-6.8-6.8h13.6M829.9 826v13.6m-6.8-6.8h13.6M830.8 825.7v13.6m-6.8-6.8h13.6M831.1 825.9v13.6m-6.8-6.8h13.6M831.8 826.3v13.6m-6.8-6.8h13.6M832 826.4v13.6m-6.8-6.8h13.6M832.4 825.9v13.6m-6.8-6.8h13.6M832.6 826.3v13.6m-6.8-6.8h13.6M832.7 826.6v13.6m-6.8-6.8h13.6M834.8 827.4v13.6m-6.8-6.8h13.6M835.4 827.5v13.6m-6.8-6.8h13.6M835.8 827.4v13.6m-6.8-6.8h13.6M836.9 827.7v13.6m-6.8-6.8h13.6M837.2 828.1v13.6m-6.8-6.8h13.6M837.4 828.3v13.6m-6.8-6.8h13.6M837.5 828.5v13.6m-6.8-6.8h13.6M839.1 829.3v13.6m-6.8-6.8h13.6M839.2 829.4v13.6m-6.8-6.8h13.6M840 829.9v13.6m-6.8-6.8h13.6M840.8 830.3v13.6m-6.8-6.8h13.6M841.2 831.1v13.6m-6.8-6.8h13.6M841.8 831v13.6m-6.8-6.8h13.6M843.4 832.7v13.6m-6.8-6.8h13.6M843.8 832.9v13.6m-6.8-6.8h13.6M844.2 832.7v13.6m-6.8-6.8h13.6M844.5 833.4v13.6m-6.8-6.8h13.6M844.8 833v13.6m-6.8-6.8h13.6M844.9 833.1v13.6m-6.8-6.8h13.6M845.4 833.8v13.6m-6.8-6.8h13.6M845.7 833.8v13.6m-6.8-6.8h13.6M847.4 834.8v13.6m-6.8-6.8h13.6M848.1 835v13.6m-6.8-6.8h13.6M848.4 835.2v13.6m-6.8-6.8h13.6M848.5 835.3v13.6m-6.8-6.8h13.6M848.6 835.4v13.6m-6.8-6.8h13.6M849.2 835.9v13.6m-6.8-6.8h13.6M850.1 836.3v13.6m-6.8-6.8h13.6M850.1 836.5v13.6m-6.8-6.8h13.6M850.4 836.7v13.6m-6.8-6.8h13.6M852.3 837.5v13.6m-6.8-6.8h13.6M852.5 837.5v13.6m-6.8-6.8h13.6M852.9 837.6v13.6m-6.8-6.8h13.6M853 837.7v13.6m-6.8-6.8h13.6M853.5 838.4v13.6m-6.8-6.8h13.6M854.3 838.9v13.6m-6.8-6.8h13.6M855.2 839v13.6m-6.8-6.8h13.6M855.8 839v13.6m-6.8-6.8h13.6M856.7 839.9v13.6m-6.8-6.8h13.6M856.8 839.8v13.6m-6.8-6.8h13.6M857 840.1v13.6m-6.8-6.8h13.6M857.4 840.2v13.6m-6.8-6.8h13.6M858.9 840.7v13.6m-6.8-6.8h13.6M859.2 840.4v13.6m-6.8-6.8h13.6M860.9 841.4v13.6m-6.8-6.8h13.6M861 841v13.6m-6.8-6.8h13.6M861.9 841.6v13.6m-6.8-6.8h13.6M862.1 841.4v13.6m-6.8-6.8h13.6M864.1 841.8v13.6m-6.8-6.8h13.6M864.2 842.3v13.6m-6.8-6.8h13.6M865.6 843v13.6m-6.8-6.8h13.6M866 843v13.6m-6.8-6.8h13.6M868.1 843.3v13.6m-6.8-6.8h13.6M868.2 843.3v13.6m-6.8-6.8h13.6M869.1 843.5v13.6m-6.8-6.8h13.6M869.6 844.3v13.6m-6.8-6.8h13.6M869.7 844.1v13.6m-6.8-6.8h13.6M870.2 844.5v13.6m-6.8-6.8h13.6M870.6 844.3v13.6m-6.8-6.8h13.6M871.9 845v13.6m-6.8-6.8h13.6M872 845.1v13.6m-6.8-6.8h13.6M872.3 845.3v13.6m-6.8-6.8h13.6M874.3 845.6v13.6m-6.8-6.8h13.6M874.6 845.5v13.6m-6.8-6.8h13.6M874.8 845.5v13.6m-6.8-6.8h13.6M874.9 846v13.6m-6.8-6.8h13.6M875 845.9v13.6m-6.8-6.8h13.6M875.5 846.2v13.6m-6.8-6.8h13.6M876 846.5v13.6m-6.8-6.8h13.6M876.2 845.9v13.6m-6.8-6.8h13.6M876.7 846.3v13.6m-6.8-6.8h13.6M878.8 847.3v13.6m-6.8-6.8h13.6M879.5 847.3v13.6m-6.8-6.8h13.6M879.7 847.1v13.6m-6.8-6.8h13.6M880 847v13.6m-6.8-6.8h13.6M880.3 847.2v13.6m-6.8-6.8h13.6M880.9 847v13.6m-6.8-6.8h13.6M881.4 847.1v13.6m-6.8-6.8h13.6M883.5 847.9v13.6m-6.8-6.8h13.6M884 847.8v13.6m-6.8-6.8h13.6M884.8 848.3v13.6m-6.8-6.8h13.6M886.2 848.5v13.6m-6.8-6.8h13.6M886.4 848.5v13.6m-6.8-6.8h13.6M886.5 848.7v13.6m-6.8-6.8h13.6M886.7 848.7v13.6m-6.8-6.8h13.6M886.8 848.6v13.6m-6.8-6.8h13.6M886.9 848.2v13.6m-6.8-6.8h13.6M887.1 848.9v13.6m-6.8-6.8h13.6M887.4 848.7v13.6m-6.8-6.8h13.6M888.3 849.4v13.6m-6.8-6.8h13.6M888.5 849.2v13.6m-6.8-6.8h13.6M889.4 849.6v13.6m-6.8-6.8h13.6M889.6 849.5v13.6m-6.8-6.8h13.6M890.5 849.6v13.6m-6.8-6.8h13.6M890.9 850.1v13.6m-6.8-6.8h13.6M892 850.2v13.6m-6.8-6.8h13.6M892.7 850.4v13.6m-6.8-6.8h13.6M892.8 850.6v13.6m-6.8-6.8h13.6M893.4 851v13.6m-6.8-6.8h13.6M895.1 851.2v13.6m-6.8-6.8h13.6M895.5 851.6v13.6m-6.8-6.8h13.6M895.7 852.1v13.6m-6.8-6.8h13.6M895.8 851.6v13.6m-6.8-6.8h13.6M895.9 851.9v13.6m-6.8-6.8h13.6M896.5 851.8v13.6m-6.8-6.8h13.6M898 852.7v13.6m-6.8-6.8h13.6M898.1 853v13.6m-6.8-6.8h13.6M899.2 853v13.6m-6.8-6.8h13.6M900.3 853.3v13.6m-6.8-6.8h13.6M900.6 853.6v13.6m-6.8-6.8h13.6M902.4 854.3v13.6m-6.8-6.8h13.6M902.6 854.4v13.6m-6.8-6.8h13.6M903.6 854.8v13.6m-6.8-6.8h13.6M904.7 855.3v13.6m-6.8-6.8h13.6M905.1 856v13.6m-6.8-6.8h13.6M905.3 855.8v13.6m-6.8-6.8h13.6M905.9 856v13.6m-6.8-6.8h13.6M906.2 856.2v13.6m-6.8-6.8h13.6M906.4 855.9v13.6m-6.8-6.8h13.6M906.5 856.3v13.6m-6.8-6.8h13.6M907 856.7v13.6m-6.8-6.8h13.6M907.1 856.6v13.6m-6.8-6.8h13.6M907.4 856.7v13.6m-6.8-6.8h13.6M908.4 857.1v13.6m-6.8-6.8h13.6M908.8 857.3v13.6m-6.8-6.8h13.6M908.8 857.5v13.6m-6.8-6.8h13.6M909.3 857v13.6m-6.8-6.8h13.6M909.6 857.9v13.6m-6.8-6.8h13.6M911.7 858.3v13.6m-6.8-6.8h13.6M911.8 858.8v13.6m-6.8-6.8h13.6M912 858.1v13.6m-6.8-6.8h13.6M912.2 858.5v13.6m-6.8-6.8h13.6M912.8 858.5v13.6m-6.8-6.8h13.6M913.1 859.1v13.6m-6.8-6.8h13.6M913.3 858.8v13.6m-6.8-6.8h13.6M914 859.3v13.6m-6.8-6.8h13.6M914.7 859.6v13.6m-6.8-6.8h13.6M915.7 860v13.6m-6.8-6.8h13.6M917.7 861v13.6m-6.8-6.8h13.6M918.4 861v13.6m-6.8-6.8h13.6M919 861v13.6m-6.8-6.8h13.6M919.1 861.4v13.6m-6.8-6.8h13.6M920.1 861.5v13.6m-6.8-6.8h13.6M921.3 861.6v13.6m-6.8-6.8h13.6M923.5 861.9v13.6m-6.8-6.8h13.6M925.6 861.9v13.6m-6.8-6.8h13.6M925.9 862.3v13.6m-6.8-6.8h13.6M926.9 862.5v13.6m-6.8-6.8h13.6M927.9 862.5v13.6m-6.8-6.8h13.6M928.6 863v13.6m-6.8-6.8h13.6M929.1 862.6v13.6m-6.8-6.8h13.6M929.7 862.8v13.6m-6.8-6.8h13.6M929.9 863v13.6m-6.8-6.8h13.6M930.7 863.4v13.6m-6.8-6.8h13.6M931.5 863.6v13.6m-6.8-6.8h13.6M931.6 864.1v13.6m-6.8-6.8h13.6M933.1 864.2v13.6m-6.8-6.8h13.6M933.7 864.7v13.6m-6.8-6.8h13.6M934.2 864.7v13.6m-6.8-6.8h13.6M934.3 864.7v13.6m-6.8-6.8h13.6M935.6 865.5v13.6m-6.8-6.8h13.6M936.1 865.5v13.6m-6.8-6.8h13.6M936.8 866.4v13.6m-6.8-6.8h13.6M936.9 866.3v13.6m-6.8-6.8h13.6M938 866.9v13.6m-6.8-6.8h13.6M938.5 866.8v13.6m-6.8-6.8h13.6M938.7 867v13.6m-6.8-6.8h13.6M938.9 867v13.6m-6.8-6.8h13.6M939.5 867.5v13.6m-6.8-6.8h13.6M940.4 867.1v13.6m-6.8-6.8h13.6M940.5 867.4v13.6m-6.8-6.8h13.6M940.8 867.7v13.6m-6.8-6.8h13.6M941 867.7v13.6m-6.8-6.8h13.6M941.3 867.6v13.6m-6.8-6.8h13.6M941.9 867.9v13.6m-6.8-6.8h13.6M944 868.4v13.6m-6.8-6.8h13.6M945.3 869.3v13.6m-6.8-6.8h13.6M945.7 869v13.6m-6.8-6.8h13.6M946.3 869.8v13.6m-6.8-6.8h13.6M946.5 869.8v13.6m-6.8-6.8h13.6M947 869.5v13.6m-6.8-6.8h13.6M948.1 870.1v13.6m-6.8-6.8h13.6M948.5 870.6v13.6m-6.8-6.8h13.6M949.7 871.1v13.6m-6.8-6.8h13.6M950 871.2v13.6m-6.8-6.8h13.6M950.1 871v13.6m-6.8-6.8h13.6M950.4 871.3v13.6m-6.8-6.8h13.6M951.2 871.4v13.6m-6.8-6.8h13.6M952.1 871.6v13.6m-6.8-6.8h13.6M952.5 871.5v13.6m-6.8-6.8h13.6M952.7 871.7v13.6m-6.8-6.8h13.6M953.5 871.9v13.6m-6.8-6.8h13.6M954.9 872.8v13.6m-6.8-6.8h13.6M955.3 872.5v13.6m-6.8-6.8h13.6M955.6 873v13.6m-6.8-6.8h13.6M955.7 873.4v13.6m-6.8-6.8h13.6M956 873v13.6m-6.8-6.8h13.6M956.2 873.1v13.6m-6.8-6.8h13.6M956.3 873.5v13.6m-6.8-6.8h13.6M956.4 873.2v13.6m-6.8-6.8h13.6M957 873.4v13.6m-6.8-6.8h13.6M957.2 873.5v13.6m-6.8-6.8h13.6M957.3 873.4v13.6m-6.8-6.8h13.6M957.6 873.9v13.6m-6.8-6.8h13.6M957.9 873.8v13.6m-6.8-6.8h13.6M958.6 873.9v13.6m-6.8-6.8h13.6M959 874v13.6m-6.8-6.8h13.6M959.6 874.4v13.6m-6.8-6.8h13.6M960.2 874.7v13.6m-6.8-6.8h13.6M961.2 874.9v13.6m-6.8-6.8h13.6M961.4 874.9v13.6m-6.8-6.8h13.6M961.7 874.4v13.6m-6.8-6.8h13.6M962.1 874.9v13.6m-6.8-6.8h13.6M964 874.9v13.6m-6.8-6.8h13.6M964.1 874.7v13.6m-6.8-6.8h13.6"/>
<path class="ck" d="M1098.3 664.4L1105.5 667.5L1112.7 673.7L1121.6 680.9L1126.7 691.2L1130.9 701.5L1137 711.8L1141.2 722.1L1147.4 732.4L1153.5 742.7L1162.8 753L1168 763.3L1178.3 773.6L1184.4 784L1191.7 794.3L1200.9 804.6L1208.1 814.9L1218.7 825.6L1226.4 833.3L1234.2 841.5L1241.9 846.5L1248 848.9L1258.3 856.2L1268.6 865.7L1278.9 870.4L1289.2 872.6L1299.5 879.6L1309.8 882.5L1320.1 890.5L1330.4 892.2L1340.7 896.6L1351 898.4L1361.3 902.3L1371.6 905.2L1382 907.3L1392.3 910.6L1402.6 912.6L1412.9 921.1L1423.2 925L1433.5 926.2H1438.1"/>
<path class="mk" d="M1098.3 657.3v13.6m-6.8-6.8h13.6M1098.4 657.5v13.6m-6.8-6.8h13.6M1099.8 658.2v13.6m-6.8-6.8h13.6M1100.5 658.2v13.6m-6.8-6.8h13.6M1100.9 659v13.6m-6.8-6.8h13.6M1101.3 659.3v13.6m-6.8-6.8h13.6M1102.5 659.3v13.6m-6.8-6.8h13.6M1102.6 659.7v13.6m-6.8-6.8h13.6M1102.7 659.1v13.6m-6.8-6.8h13.6M1103.4 660.1v13.6m-6.8-6.8h13.6M1104.5 660.6v13.6m-6.8-6.8h13.6M1104.6 660v13.6m-6.8-6.8h13.6M1104.7 660.7v13.6m-6.8-6.8h13.6M1104.8 660.1v13.6m-6.8-6.8h13.6M1104.9 660.1v13.6m-6.8-6.8h13.6M1104.9 660.4v13.6m-6.8-6.8h13.6M1105 660.4v13.6m-6.8-6.8h13.6M1106.4 661.2v13.6m-6.8-6.8h13.6M1107.2 662.3v13.6m-6.8-6.8h13.6M1107.6 662.5v13.6m-6.8-6.8h13.6M1108.3 663.1v13.6m-6.8-6.8h13.6M1108.4 663v13.6m-6.8-6.8h13.6M1108.5 663.2v13.6m-6.8-6.8h13.6M1110.2 664.6v13.6m-6.8-6.8h13.6M1110.2 664.7v13.6m-6.8-6.8h13.6M1111 665.4v13.6m-6.8-6.8h13.6M1111.6 665.6v13.6m-6.8-6.8h13.6M1111.7 666.1v13.6m-6.8-6.8h13.6M1111.7 665.9v13.6m-6.8-6.8h13.6M1112 666v13.6m-6.8-6.8h13.6M1112 665.9v13.6m-6.8-6.8h13.6M1113.5 667.6v13.6m-6.8-6.8h13.6M1114.9 668.7v13.6m-6.8-6.8h13.6M1116.4 670.2v13.6m-6.8-6.8h13.6M1116.9 670.3v13.6m-6.8-6.8h13.6M1117.2 670.3v13.6m-6.8-6.8h13.6M1117.4 670.9v13.6m-6.8-6.8h13.6M1117.5 671.1v13.6m-6.8-6.8h13.6M1117.9 671.2v13.6m-6.8-6.8h13.6M1118.7 671.9v13.6m-6.8-6.8h13.6M1118.8 671.6v13.6m-6.8-6.8h13.6M1118.9 671.5v13.6m-6.8-6.8h13.6M1120.3 673.1v13.6m-6.8-6.8h13.6M1121.8 674.8v13.6m-6.8-6.8h13.6M1121.9 675.1v13.6m-6.8-6.8h13.6M1122.6 676.2v13.6m-6.8-6.8h13.6M1122.7 676.2v13.6m-6.8-6.8h13.6M1122.8 676.4v13.6m-6.8-6.8h13.6M1122.9 676.8v13.6m-6.8-6.8h13.6M1124.7 680.1v13.6m-6.8-6.8h13.6M1125.8 682.7v13.6m-6.8-6.8h13.6M1126.4 684v13.6m-6.8-6.8h13.6M1126.8 684.8v13.6m-6.8-6.8h13.6M1126.9 685.2v13.6m-6.8-6.8h13.6M1127 684.8v13.6m-6.8-6.8h13.6M1128.6 689.3v13.6m-6.8-6.8h13.6M1129.6 691.7v13.6m-6.8-6.8h13.6M1130 692.1v13.6m-6.8-6.8h13.6M1130.3 693.6v13.6m-6.8-6.8h13.6M1134.3 700.2v13.6m-6.8-6.8h13.6M1135 701.6v13.6m-6.8-6.8h13.6M1137.8 706.6v13.6m-6.8-6.8h13.6M1139.6 711.1v13.6m-6.8-6.8h13.6M1140.3 712.9v13.6m-6.8-6.8h13.6M1140.5 713.8v13.6m-6.8-6.8h13.6M1141.1 715.6v13.6m-6.8-6.8h13.6M1143.7 719.7v13.6m-6.8-6.8h13.6M1143.9 719.9v13.6m-6.8-6.8h13.6M1148.1 726.9v13.6m-6.8-6.8h13.6M1148.2 726.8v13.6m-6.8-6.8h13.6M1151.6 733.1v13.6m-6.8-6.8h13.6M1151.7 732.8v13.6m-6.8-6.8h13.6M1152.4 734v13.6m-6.8-6.8h13.6M1152.5 734.5v13.6m-6.8-6.8h13.6M1152.8 734.5v13.6m-6.8-6.8h13.6M1152.8 734.7v13.6m-6.8-6.8h13.6M1153.3 735.2v13.6m-6.8-6.8h13.6M1153.3 735.7v13.6m-6.8-6.8h13.6M1154.3 736.7v13.6m-6.8-6.8h13.6M1154.6 737.2v13.6m-6.8-6.8h13.6M1154.9 737.1v13.6m-6.8-6.8h13.6M1155 737.3v13.6m-6.8-6.8h13.6M1155.1 737.3v13.6m-6.8-6.8h13.6M1155.3 737.7v13.6m-6.8-6.8h13.6M1156.1 738.6v13.6m-6.8-6.8h13.6M1157.4 740.5v13.6m-6.8-6.8h13.6M1157.6 740.1v13.6m-6.8-6.8h13.6M1157.9 740.8v13.6m-6.8-6.8h13.6M1158.2 740.9v13.6m-6.8-6.8h13.6M1158.6 741.7v13.6m-6.8-6.8h13.6M1158.8 741.6v13.6m-6.8-6.8h13.6M1159.9 742.8v13.6m-6.8-6.8h13.6M1161.3 744.7v13.6m-6.8-6.8h13.6M1161.4 744.6v13.6m-6.8-6.8h13.6M1161.4 744.9v13.6m-6.8-6.8h13.6M1161.7 744.6v13.6m-6.8-6.8h13.6M1162.9 746.6v13.6m-6.8-6.8h13.6M1163.1 747v13.6m-6.8-6.8h13.6M1163.2 747.4v13.6m-6.8-6.8h13.6M1163.3 747.2v13.6m-6.8-6.8h13.6M1163.5 747.5v13.6m-6.8-6.8h13.6M1163.5 748v13.6m-6.8-6.8h13.6M1163.7 747.9v13.6m-6.8-6.8h13.6M1164.2 749.4v13.6m-6.8-6.8h13.6M1164.6 750.2v13.6m-6.8-6.8h13.6M1164.7 749.7v13.6m-6.8-6.8h13.6M1164.8 750.4v13.6m-6.8-6.8h13.6M1165.3 751.3v13.6m-6.8-6.8h13.6M1165.5 751.8v13.6m-6.8-6.8h13.6M1165.8 752.4v13.6m-6.8-6.8h13.6M1165.9 752.4v13.6m-6.8-6.8h13.6M1166 752.2v13.6m-6.8-6.8h13.6M1166.2 753.4v13.6m-6.8-6.8h13.6M1166.3 753.4v13.6m-6.8-6.8h13.6M1166.6 754v13.6m-6.8-6.8h13.6M1167.2 755.1v13.6m-6.8-6.8h13.6M1167.2 755.1v13.6m-6.8-6.8h13.6M1167.3 755.2v13.6m-6.8-6.8h13.6M1167.6 755.7v13.6m-6.8-6.8h13.6M1167.9 756.8v13.6m-6.8-6.8h13.6M1168 756.8v13.6m-6.8-6.8h13.6M1168.5 757v13.6m-6.8-6.8h13.6M1169.1 757.4v13.6m-6.8-6.8h13.6M1169.2 758.2v13.6m-6.8-6.8h13.6M1169.6 758v13.6m-6.8-6.8h13.6M1169.7 758.2v13.6m-6.8-6.8h13.6M1170.1 759v13.6m-6.8-6.8h13.6M1170.1 758.8v13.6m-6.8-6.8h13.6M1170.4 759v13.6m-6.8-6.8h13.6M1171.6 759.9v13.6m-6.8-6.8h13.6M1172.4 761.2v13.6m-6.8-6.8h13.6M1172.6 760.9v13.6m-6.8-6.8h13.6M1173.2 762v13.6m-6.8-6.8h13.6M1173.4 761.7v13.6m-6.8-6.8h13.6M1173.7 762.4v13.6m-6.8-6.8h13.6M1173.9 762.4v13.6m-6.8-6.8h13.6M1174 762.3v13.6m-6.8-6.8h13.6M1174.1 762.9v13.6m-6.8-6.8h13.6M1174.2 762.5v13.6m-6.8-6.8h13.6M1174.4 762.8v13.6m-6.8-6.8h13.6M1174.5 763.3v13.6m-6.8-6.8h13.6M1174.7 763.3v13.6m-6.8-6.8h13.6M1174.7 763.3v13.6m-6.8-6.8h13.6M1175.3 763.8v13.6m-6.8-6.8h13.6M1175.3 763.6v13.6m-6.8-6.8h13.6M1175.5 764v13.6m-6.8-6.8h13.6M1175.6 764.1v13.6m-6.8-6.8h13.6M1175.9 764.1v13.6m-6.8-6.8h13.6M1176.3 765.3v13.6m-6.8-6.8h13.6M1176.9 765.4v13.6m-6.8-6.8h13.6M1177.7 766.6v13.6m-6.8-6.8h13.6M1178.8 768.1v13.6m-6.8-6.8h13.6M1179.2 768.8v13.6m-6.8-6.8h13.6M1179.7 769.1v13.6m-6.8-6.8h13.6M1179.7 769.3v13.6m-6.8-6.8h13.6M1180.1 769.8v13.6m-6.8-6.8h13.6M1180.3 769.9v13.6m-6.8-6.8h13.6M1180.3 770.1v13.6m-6.8-6.8h13.6M1180.9 770.9v13.6m-6.8-6.8h13.6M1181 771.3v13.6m-6.8-6.8h13.6M1182.1 773v13.6m-6.8-6.8h13.6M1182.1 772.9v13.6m-6.8-6.8h13.6M1182.3 773.1v13.6m-6.8-6.8h13.6M1182.6 773.7v13.6m-6.8-6.8h13.6M1182.7 773.9v13.6m-6.8-6.8h13.6M1182.8 774v13.6m-6.8-6.8h13.6M1182.8 774.2v13.6m-6.8-6.8h13.6M1182.9 774.7v13.6m-6.8-6.8h13.6M1183.1 774.6v13.6m-6.8-6.8h13.6M1183.1 775.2v13.6m-6.8-6.8h13.6M1183.7 776.3v13.6m-6.8-6.8h13.6M1184.1 776.6v13.6m-6.8-6.8h13.6M1184.3 776.6v13.6m-6.8-6.8h13.6M1184.4 777.1v13.6m-6.8-6.8h13.6M1185.4 778.3v13.6m-6.8-6.8h13.6M1185.8 779.3v13.6m-6.8-6.8h13.6M1186.2 779.8v13.6m-6.8-6.8h13.6M1186.3 779.5v13.6m-6.8-6.8h13.6M1186.5 780.2v13.6m-6.8-6.8h13.6M1187.7 782v13.6m-6.8-6.8h13.6M1187.8 781.7v13.6m-6.8-6.8h13.6M1188.3 782.3v13.6m-6.8-6.8h13.6M1189.2 783.6v13.6m-6.8-6.8h13.6M1189.5 784.7v13.6m-6.8-6.8h13.6M1189.6 784.2v13.6m-6.8-6.8h13.6M1189.9 785.2v13.6m-6.8-6.8h13.6M1190 785v13.6m-6.8-6.8h13.6M1190.5 786.1v13.6m-6.8-6.8h13.6M1190.7 785.7v13.6m-6.8-6.8h13.6M1191.1 786.6v13.6m-6.8-6.8h13.6M1191.3 787v13.6m-6.8-6.8h13.6M1191.6 787.3v13.6m-6.8-6.8h13.6M1191.9 787.8v13.6m-6.8-6.8h13.6M1192.5 788.6v13.6m-6.8-6.8h13.6M1192.6 788.7v13.6m-6.8-6.8h13.6M1192.7 788.5v13.6m-6.8-6.8h13.6M1192.8 788.5v13.6m-6.8-6.8h13.6M1193 788.9v13.6m-6.8-6.8h13.6M1193 788.8v13.6m-6.8-6.8h13.6M1193.3 789.2v13.6m-6.8-6.8h13.6M1193.6 789.3v13.6m-6.8-6.8h13.6M1193.9 790.3v13.6m-6.8-6.8h13.6M1194.5 790.7v13.6m-6.8-6.8h13.6M1195.2 791.3v13.6m-6.8-6.8h13.6M1195.3 791.6v13.6m-6.8-6.8h13.6M1195.4 791.4v13.6m-6.8-6.8h13.6M1196 792.3v13.6m-6.8-6.8h13.6M1196.1 792.1v13.6m-6.8-6.8h13.6M1196.6 793.1v13.6m-6.8-6.8h13.6M1197.6 794.2v13.6m-6.8-6.8h13.6M1197.7 794.3v13.6m-6.8-6.8h13.6M1198.6 795.5v13.6m-6.8-6.8h13.6M1199.6 796v13.6m-6.8-6.8h13.6M1199.7 796.2v13.6m-6.8-6.8h13.6M1200.4 797.4v13.6m-6.8-6.8h13.6M1200.8 797.3v13.6m-6.8-6.8h13.6M1201 798v13.6m-6.8-6.8h13.6M1201 798.2v13.6m-6.8-6.8h13.6M1201.5 798.8v13.6m-6.8-6.8h13.6M1202.5 800v13.6m-6.8-6.8h13.6M1202.6 800.1v13.6m-6.8-6.8h13.6M1202.9 800.6v13.6m-6.8-6.8h13.6M1203 800.5v13.6m-6.8-6.8h13.6M1203.3 801.3v13.6m-6.8-6.8h13.6M1203.3 801.5v13.6m-6.8-6.8h13.6M1203.7 801.7v13.6m-6.8-6.8h13.6M1204 802.4v13.6m-6.8-6.8h13.6M1204.2 802.2v13.6m-6.8-6.8h13.6M1204.2 802.3v13.6m-6.8-6.8h13.6M1204.3 802.3v13.6m-6.8-6.8h13.6M1204.6 802.9v13.6m-6.8-6.8h13.6M1205.5 804.3v13.6m-6.8-6.8h13.6M1206.1 805v13.6m-6.8-6.8h13.6M1207.4 807.3v13.6m-6.8-6.8h13.6M1208.2 808.4v13.6m-6.8-6.8h13.6M1208.6 808.2v13.6m-6.8-6.8h13.6M1209.4 809.7v13.6m-6.8-6.8h13.6M1209.6 809.8v13.6m-6.8-6.8h13.6M1210.1 810.2v13.6m-6.8-6.8h13.6M1211.1 811.2v13.6m-6.8-6.8h13.6M1211.2 811.1v13.6m-6.8-6.8h13.6M1211.5 811.3v13.6m-6.8-6.8h13.6M1212 811.9v13.6m-6.8-6.8h13.6M1212.1 812v13.6m-6.8-6.8h13.6M1212.7 812.8v13.6m-6.8-6.8h13.6M1212.8 812.8v13.6m-6.8-6.8h13.6M1213.4 813.6v13.6m-6.8-6.8h13.6M1213.4 813.2v13.6m-6.8-6.8h13.6M1213.7 813.4v13.6m-6.8-6.8h13.6M1213.7 813.6v13.6m-6.8-6.8h13.6M1213.8 813.5v13.6m-6.8-6.8h13.6M1214 814v13.6m-6.8-6.8h13.6M1214.5 814.8v13.6m-6.8-6.8h13.6M1215.7 815.7v13.6m-6.8-6.8h13.6M1215.8 816v13.6m-6.8-6.8h13.6M1216.1 816.2v13.6m-6.8-6.8h13.6M1217.2 817.5v13.6m-6.8-6.8h13.6M1218.8 819.1v13.6m-6.8-6.8h13.6M1219.4 819.9v13.6m-6.8-6.8h13.6M1220 820.3v13.6m-6.8-6.8h13.6M1220.5 820.9v13.6m-6.8-6.8h13.6M1220.8 820.8v13.6m-6.8-6.8h13.6M1221.2 821.1v13.6m-6.8-6.8h13.6M1221.9 822v13.6m-6.8-6.8h13.6M1222.1 822.3v13.6m-6.8-6.8h13.6M1222.6 822.8v13.6m-6.8-6.8h13.6M1222.8 822.9v13.6m-6.8-6.8h13.6M1222.9 822.9v13.6m-6.8-6.8h13.6M1222.9 823.1v13.6m-6.8-6.8h13.6M1223 822.9v13.6m-6.8-6.8h13.6M1223.7 823.9v13.6m-6.8-6.8h13.6M1223.8 823.5v13.6m-6.8-6.8h13.6M1225.1 825.2v13.6m-6.8-6.8h13.6M1225.2 825.3v13.6m-6.8-6.8h13.6M1226 826.1v13.6m-6.8-6.8h13.6M1226.1 826.2v13.6m-6.8-6.8h13.6M1226.3 826.8v13.6m-6.8-6.8h13.6M1227 826.9v13.6m-6.8-6.8h13.6M1227.4 827.8v13.6m-6.8-6.8h13.6M1227.5 827.4v13.6m-6.8-6.8h13.6M1227.9 828.1v13.6m-6.8-6.8h13.6M1228.1 828.3v13.6m-6.8-6.8h13.6M1228.5 828.8v13.6m-6.8-6.8h13.6M1228.5 828.6v13.6m-6.8-6.8h13.6M1228.6 828.6v13.6m-6.8-6.8h13.6M1229.7 830v13.6m-6.8-6.8h13.6M1230.4 830.7v13.6m-6.8-6.8h13.6M1230.5 830.5v13.6m-6.8-6.8h13.6M1231.2 831.8v13.6m-6.8-6.8h13.6M1231.7 831.9v13.6m-6.8-6.8h13.6M1232.3 833.1v13.6m-6.8-6.8h13.6M1232.5 832.9v13.6m-6.8-6.8h13.6M1234 834.2v13.6m-6.8-6.8h13.6M1234.5 835.1v13.6m-6.8-6.8h13.6M1234.9 835.5v13.6m-6.8-6.8h13.6M1235.3 835.1v13.6m-6.8-6.8h13.6M1235.5 835.4v13.6m-6.8-6.8h13.6M1235.9 835.7v13.6m-6.8-6.8h13.6M1236.8 836.5v13.6m-6.8-6.8h13.6M1237.7 837v13.6m-6.8-6.8h13.6M1237.7 836.7v13.6m-6.8-6.8h13.6M1237.8 837.2v13.6m-6.8-6.8h13.6M1238 837.5v13.6m-6.8-6.8h13.6M1239.2 838.2v13.6m-6.8-6.8h13.6M1239.8 838.1v13.6m-6.8-6.8h13.6M1239.8 838.4v13.6m-6.8-6.8h13.6M1240.7 839.2v13.6m-6.8-6.8h13.6M1240.7 838.6v13.6m-6.8-6.8h13.6M1241 839.2v13.6m-6.8-6.8h13.6M1241.2 839.4v13.6m-6.8-6.8h13.6M1242 840v13.6m-6.8-6.8h13.6M1243.5 840.1v13.6m-6.8-6.8h13.6M1245.1 840.6v13.6m-6.8-6.8h13.6M1245.7 841.4v13.6m-6.8-6.8h13.6M1245.8 841.1v13.6m-6.8-6.8h13.6M1246.4 841.4v13.6m-6.8-6.8h13.6M1246.5 841.2v13.6m-6.8-6.8h13.6M1247 841.5v13.6m-6.8-6.8h13.6M1247.1 841.6v13.6m-6.8-6.8h13.6M1247.6 841.6v13.6m-6.8-6.8h13.6M1247.8 841.9v13.6m-6.8-6.8h13.6M1248 842.3v13.6m-6.8-6.8h13.6M1248.3 842.6v13.6m-6.8-6.8h13.6M1249.7 843.7v13.6m-6.8-6.8h13.6M1249.8 843.5v13.6m-6.8-6.8h13.6M1249.9 843.1v13.6m-6.8-6.8h13.6M1250.4 843.8v13.6m-6.8-6.8h13.6M1250.5 843.7v13.6m-6.8-6.8h13.6M1251.1 844.4v13.6m-6.8-6.8h13.6M1251.2 844.7v13.6m-6.8-6.8h13.6M1251.3 844.3v13.6m-6.8-6.8h13.6M1251.7 844.5v13.6m-6.8-6.8h13.6M1251.8 844.8v13.6m-6.8-6.8h13.6M1253 845.4v13.6m-6.8-6.8h13.6M1253.1 845.6v13.6m-6.8-6.8h13.6M1254.8 846.5v13.6m-6.8-6.8h13.6M1255.3 847.3v13.6m-6.8-6.8h13.6M1256.8 848v13.6m-6.8-6.8h13.6M1257.5 848.7v13.6m-6.8-6.8h13.6M1258.6 850v13.6m-6.8-6.8h13.6M1259 850.1v13.6m-6.8-6.8h13.6M1259.1 849.9v13.6m-6.8-6.8h13.6M1260.2 851.2v13.6m-6.8-6.8h13.6M1260.3 851v13.6m-6.8-6.8h13.6M1261.1 852.2v13.6m-6.8-6.8h13.6M1261.5 852.6v13.6m-6.8-6.8h13.6M1261.6 852.4v13.6m-6.8-6.8h13.6M1262.6 853.5v13.6m-6.8-6.8h13.6M1262.8 853.4v13.6m-6.8-6.8h13.6M1263.7 854.5v13.6m-6.8-6.8h13.6M1263.8 854.3v13.6m-6.8-6.8h13.6M1263.9 854.5v13.6m-6.8-6.8h13.6M1264.2 854.5v13.6m-6.8-6.8h13.6M1264.3 855.1v13.6m-6.8-6.8h13.6M1264.5 854.7v13.6m-6.8-6.8h13.6M1264.8 855.5v13.6m-6.8-6.8h13.6M1265 855.3v13.6m-6.8-6.8h13.6M1265.9 856.7v13.6m-6.8-6.8h13.6M1266.2 856.9v13.6m-6.8-6.8h13.6M1266.7 857.3v13.6m-6.8-6.8h13.6M1266.9 857.3v13.6m-6.8-6.8h13.6M1267.1 857.4v13.6m-6.8-6.8h13.6M1267.1 857.8v13.6m-6.8-6.8h13.6M1267.3 857.3v13.6m-6.8-6.8h13.6M1267.4 858.1v13.6m-6.8-6.8h13.6M1267.8 857.9v13.6m-6.8-6.8h13.6M1267.9 858.2v13.6m-6.8-6.8h13.6M1268.2 858.7v13.6m-6.8-6.8h13.6M1268.3 858.9v13.6m-6.8-6.8h13.6M1269.2 859.3v13.6m-6.8-6.8h13.6M1271.2 859.9v13.6m-6.8-6.8h13.6M1271.4 859.9v13.6m-6.8-6.8h13.6M1272.6 861v13.6m-6.8-6.8h13.6M1272.7 861v13.6m-6.8-6.8h13.6M1273 861.1v13.6m-6.8-6.8h13.6M1273.2 861.1v13.6m-6.8-6.8h13.6M1273.7 861.3v13.6m-6.8-6.8h13.6M1274.8 861.8v13.6m-6.8-6.8h13.6M1275 861.7v13.6m-6.8-6.8h13.6M1275.2 861.9v13.6m-6.8-6.8h13.6M1275.5 862v13.6m-6.8-6.8h13.6M1275.7 862.4v13.6m-6.8-6.8h13.6M1276 862.2v13.6m-6.8-6.8h13.6M1276.4 862.4v13.6m-6.8-6.8h13.6M1276.6 862.5v13.6m-6.8-6.8h13.6M1276.7 862.6v13.6m-6.8-6.8h13.6M1276.8 862.5v13.6m-6.8-6.8h13.6M1276.9 862.3v13.6m-6.8-6.8h13.6M1277.2 862.9v13.6m-6.8-6.8h13.6M1277.3 863.2v13.6m-6.8-6.8h13.6M1277.4 862.7v13.6m-6.8-6.8h13.6M1277.6 863.3v13.6m-6.8-6.8h13.6M1278.7 863.8v13.6m-6.8-6.8h13.6M1279.5 863.9v13.6m-6.8-6.8h13.6M1279.6 863.5v13.6m-6.8-6.8h13.6M1281 864v13.6m-6.8-6.8h13.6M1281.1 864v13.6m-6.8-6.8h13.6M1281.4 864.3v13.6m-6.8-6.8h13.6M1282.1 864.3v13.6m-6.8-6.8h13.6M1282.3 864.4v13.6m-6.8-6.8h13.6M1283 864.4v13.6m-6.8-6.8h13.6M1285.1 864.9v13.6m-6.8-6.8h13.6M1285.2 864.9v13.6m-6.8-6.8h13.6M1285.6 864.9v13.6m-6.8-6.8h13.6M1286.5 865.4v13.6m-6.8-6.8h13.6M1286.9 865.5v13.6m-6.8-6.8h13.6M1287.8 865.3v13.6m-6.8-6.8h13.6M1289.8 865.9v13.6m-6.8-6.8h13.6M1291.4 867.5v13.6m-6.8-6.8h13.6M1292.3 867.5v13.6m-6.8-6.8h13.6M1293.2 868.3v13.6m-6.8-6.8h13.6M1293.4 869v13.6m-6.8-6.8h13.6M1293.7 869.3v13.6m-6.8-6.8h13.6M1294.3 869.6v13.6m-6.8-6.8h13.6M1294.8 870v13.6m-6.8-6.8h13.6M1295.3 869.9v13.6m-6.8-6.8h13.6M1295.5 870.2v13.6m-6.8-6.8h13.6M1295.7 870.6v13.6m-6.8-6.8h13.6M1297.1 871.5v13.6m-6.8-6.8h13.6M1297.8 872v13.6m-6.8-6.8h13.6M1298.3 872.4v13.6m-6.8-6.8h13.6M1298.4 871.8v13.6m-6.8-6.8h13.6M1298.7 872v13.6m-6.8-6.8h13.6M1298.8 872.5v13.6m-6.8-6.8h13.6M1299.5 873.2v13.6m-6.8-6.8h13.6M1300.3 873.4v13.6m-6.8-6.8h13.6M1300.5 872.9v13.6m-6.8-6.8h13.6M1300.9 872.8v13.6m-6.8-6.8h13.6M1301 873.1v13.6m-6.8-6.8h13.6M1301.5 873.7v13.6m-6.8-6.8h13.6M1301.9 873.6v13.6m-6.8-6.8h13.6M1302 873.9v13.6m-6.8-6.8h13.6M1302.8 873.7v13.6m-6.8-6.8h13.6M1302.9 874v13.6m-6.8-6.8h13.6M1303.2 874.1v13.6m-6.8-6.8h13.6M1303.3 874.2v13.6m-6.8-6.8h13.6M1303.9 874.1v13.6m-6.8-6.8h13.6M1304.2 874v13.6m-6.8-6.8h13.6M1304.5 874.1v13.6m-6.8-6.8h13.6M1304.9 874v13.6m-6.8-6.8h13.6M1305 874.6v13.6m-6.8-6.8h13.6M1305.1 874v13.6m-6.8-6.8h13.6M1306.7 874.6v13.6m-6.8-6.8h13.6M1307.5 874.9v13.6m-6.8-6.8h13.6M1309.4 875.3v13.6m-6.8-6.8h13.6M1309.6 875.8v13.6m-6.8-6.8h13.6M1309.7 875.6v13.6m-6.8-6.8h13.6M1310 876.1v13.6m-6.8-6.8h13.6M1310.5 876.2v13.6m-6.8-6.8h13.6M1310.6 876v13.6m-6.8-6.8h13.6M1312.4 877.6v13.6m-6.8-6.8h13.6M1312.4 877.7v13.6m-6.8-6.8h13.6M1312.5 877.7v13.6m-6.8-6.8h13.6M1312.6 878v13.6m-6.8-6.8h13.6M1313 878.5v13.6m-6.8-6.8h13.6M1314.4 879.1v13.6m-6.8-6.8h13.6M1314.8 879.3v13.6m-6.8-6.8h13.6M1316.6 881.2v13.6m-6.8-6.8h13.6M1316.8 881.3v13.6m-6.8-6.8h13.6M1317 880.8v13.6m-6.8-6.8h13.6M1317 881.1v13.6m-6.8-6.8h13.6M1317.4 881.3v13.6m-6.8-6.8h13.6M1317.5 881.8v13.6m-6.8-6.8h13.6M1317.6 881.6v13.6m-6.8-6.8h13.6M1317.8 881.5v13.6m-6.8-6.8h13.6M1319.2 883.1v13.6m-6.8-6.8h13.6M1319.3 882.6v13.6m-6.8-6.8h13.6M1319.4 882.8v13.6m-6.8-6.8h13.6M1319.5 883.4v13.6m-6.8-6.8h13.6M1320.6 884v13.6m-6.8-6.8h13.6M1320.7 883.9v13.6m-6.8-6.8h13.6M1321.4 884v13.6m-6.8-6.8h13.6M1321.5 884v13.6m-6.8-6.8h13.6M1321.6 883.9v13.6m-6.8-6.8h13.6M1322.7 884.3v13.6m-6.8-6.8h13.6M1323.8 884.6v13.6m-6.8-6.8h13.6M1324 884.1v13.6m-6.8-6.8h13.6M1324.2 884.5v13.6m-6.8-6.8h13.6M1324.4 884.1v13.6m-6.8-6.8h13.6M1325 884.7v13.6m-6.8-6.8h13.6M1325.1 884.6v13.6m-6.8-6.8h13.6M1325.4 884.5v13.6m-6.8-6.8h13.6M1326.1 884.9v13.6m-6.8-6.8h13.6M1326.4 884.5v13.6m-6.8-6.8h13.6M1326.5 885.1v13.6m-6.8-6.8h13.6M1326.6 884.8v13.6m-6.8-6.8h13.6M1326.9 885v13.6m-6.8-6.8h13.6M1327.2 885.1v13.6m-6.8-6.8h13.6M1329.4 884.9v13.6m-6.8-6.8h13.6M1329.9 885.6v13.6m-6.8-6.8h13.6M1330.9 885.9v13.6m-6.8-6.8h13.6M1331.5 885.9v13.6m-6.8-6.8h13.6M1331.7 886v13.6m-6.8-6.8h13.6M1331.8 886.1v13.6m-6.8-6.8h13.6M1332.2 886.5v13.6m-6.8-6.8h13.6M1333.8 886.8v13.6m-6.8-6.8h13.6M1334 887.3v13.6m-6.8-6.8h13.6M1334.3 887.2v13.6m-6.8-6.8h13.6M1334.5 887.4v13.6m-6.8-6.8h13.6M1335 887.4v13.6m-6.8-6.8h13.6M1335.1 887.3v13.6m-6.8-6.8h13.6M1336.2 888.1v13.6m-6.8-6.8h13.6M1338.2 888.6v13.6m-6.8-6.8h13.6M1338.6 888.7v13.6m-6.8-6.8h13.6M1339.3 889.2v13.6m-6.8-6.8h13.6M1339.4 889.3v13.6m-6.8-6.8h13.6M1339.5 889.6v13.6m-6.8-6.8h13.6M1340.3 889.3v13.6m-6.8-6.8h13.6M1340.8 889.9v13.6m-6.8-6.8h13.6M1341.1 889.6v13.6m-6.8-6.8h13.6M1341.4 889.6v13.6m-6.8-6.8h13.6M1343.5 890v13.6m-6.8-6.8h13.6M1343.6 890.2v13.6m-6.8-6.8h13.6M1344.1 890.3v13.6m-6.8-6.8h13.6M1344.9 890.9v13.6m-6.8-6.8h13.6M1345.1 890.4v13.6m-6.8-6.8h13.6M1345.2 890.6v13.6m-6.8-6.8h13.6M1345.5 890.3v13.6m-6.8-6.8h13.6M1346 891.1v13.6m-6.8-6.8h13.6M1346.8 890.7v13.6m-6.8-6.8h13.6M1347.7 891.1v13.6m-6.8-6.8h13.6M1348.8 890.8v13.6m-6.8-6.8h13.6M1349.1 891.3v13.6m-6.8-6.8h13.6M1349.3 891v13.6m-6.8-6.8h13.6M1349.4 891.3v13.6m-6.8-6.8h13.6M1350.6 891.6v13.6m-6.8-6.8h13.6M1351 891.7v13.6m-6.8-6.8h13.6M1351.2 891.5v13.6m-6.8-6.8h13.6M1351.8 891.9v13.6m-6.8-6.8h13.6M1351.9 892.3v13.6m-6.8-6.8h13.6M1352.1 891.8v13.6m-6.8-6.8h13.6M1352.3 892.4v13.6m-6.8-6.8h13.6M1353.6 892.7v13.6m-6.8-6.8h13.6M1353.7 892.4v13.6m-6.8-6.8h13.6M1353.8 892.7v13.6m-6.8-6.8h13.6M1353.9 892.5v13.6m-6.8-6.8h13.6M1354.7 892.7v13.6m-6.8-6.8h13.6M1355.8 893.2v13.6m-6.8-6.8h13.6M1357.8 894.3v13.6m-6.8-6.8h13.6M1358.9 894.4v13.6m-6.8-6.8h13.6M1359.4 894.9v13.6m-6.8-6.8h13.6M1360.7 895.3v13.6m-6.8-6.8h13.6M1360.8 895.7v13.6m-6.8-6.8h13.6M1360.9 895.4v13.6m-6.8-6.8h13.6M1361.2 895.6v13.6m-6.8-6.8h13.6M1361.3 895.2v13.6m-6.8-6.8h13.6M1361.5 895.3v13.6m-6.8-6.8h13.6M1361.6 895.5v13.6m-6.8-6.8h13.6M1362.1 896.1v13.6m-6.8-6.8h13.6M1362.7 895.5v13.6m-6.8-6.8h13.6M1364.3 896.7v13.6m-6.8-6.8h13.6M1364.4 896.5v13.6m-6.8-6.8h13.6M1364.9 896.7v13.6m-6.8-6.8h13.6M1365.6 896.6v13.6m-6.8-6.8h13.6M1366.4 897.2v13.6m-6.8-6.8h13.6M1366.6 896.7v13.6m-6.8-6.8h13.6M1367.6 897.3v13.6m-6.8-6.8h13.6M1369.6 897.5v13.6m-6.8-6.8h13.6M1369.7 898v13.6m-6.8-6.8h13.6M1370.1 897.8v13.6m-6.8-6.8h13.6M1370.6 898.4v13.6m-6.8-6.8h13.6M1370.8 898.4v13.6m-6.8-6.8h13.6M1371 898.4v13.6m-6.8-6.8h13.6M1371.4 898.1v13.6m-6.8-6.8h13.6M1372.2 898.5v13.6m-6.8-6.8h13.6M1373.3 899.1v13.6m-6.8-6.8h13.6M1373.4 898.7v13.6m-6.8-6.8h13.6M1374.4 898.7v13.6m-6.8-6.8h13.6M1374.5 899.3v13.6m-6.8-6.8h13.6M1374.5 899v13.6m-6.8-6.8h13.6M1375.2 899.2v13.6m-6.8-6.8h13.6M1375.6 899.3v13.6m-6.8-6.8h13.6M1375.7 899.4v13.6m-6.8-6.8h13.6M1376 899.1v13.6m-6.8-6.8h13.6M1376.1 899.1v13.6m-6.8-6.8h13.6M1377.3 899.5v13.6m-6.8-6.8h13.6M1378.9 899.8v13.6m-6.8-6.8h13.6M1379.3 900.3v13.6m-6.8-6.8h13.6M1379.8 899.8v13.6m-6.8-6.8h13.6M1379.9 900.4v13.6m-6.8-6.8h13.6M1380 900.3v13.6m-6.8-6.8h13.6M1380.2 900.4v13.6m-6.8-6.8h13.6M1380.6 900v13.6m-6.8-6.8h13.6M1382.4 900.8v13.6m-6.8-6.8h13.6M1383.5 900.6v13.6m-6.8-6.8h13.6M1384.6 901v13.6m-6.8-6.8h13.6M1384.8 901v13.6m-6.8-6.8h13.6M1385.3 901.7v13.6m-6.8-6.8h13.6M1386.1 901.4v13.6m-6.8-6.8h13.6M1386.2 901.7v13.6m-6.8-6.8h13.6M1387.2 901.9v13.6m-6.8-6.8h13.6M1388.5 902.4v13.6m-6.8-6.8h13.6M1388.9 902.8v13.6m-6.8-6.8h13.6M1389 902.3v13.6m-6.8-6.8h13.6M1389.1 903v13.6m-6.8-6.8h13.6M1390.3 902.9v13.6m-6.8-6.8h13.6M1390.4 903.2v13.6m-6.8-6.8h13.6M1392.1 904v13.6m-6.8-6.8h13.6M1392.1 903.5v13.6m-6.8-6.8h13.6M1392.9 904v13.6m-6.8-6.8h13.6M1393.7 904.2v13.6m-6.8-6.8h13.6M1393.8 904.2v13.6m-6.8-6.8h13.6M1394.6 904.5v13.6m-6.8-6.8h13.6M1396.1 904.3v13.6m-6.8-6.8h13.6M1396.8 904.6v13.6m-6.8-6.8h13.6M1396.9 904.9v13.6m-6.8-6.8h13.6M1397.1 904.5v13.6m-6.8-6.8h13.6M1397.7 904.6v13.6m-6.8-6.8h13.6M1399.1 905v13.6m-6.8-6.8h13.6M1399.3 905.3v13.6m-6.8-6.8h13.6M1399.4 905.6v13.6m-6.8-6.8h13.6M1400.3 905v13.6m-6.8-6.8h13.6M1400.4 905.6v13.6m-6.8-6.8h13.6M1401.3 905.2v13.6m-6.8-6.8h13.6M1402.1 905.7v13.6m-6.8-6.8h13.6M1402.7 906v13.6m-6.8-6.8h13.6M1402.8 906.3v13.6m-6.8-6.8h13.6M1403.3 906.1v13.6m-6.8-6.8h13.6M1403.5 906.9v13.6m-6.8-6.8h13.6M1404.6 907.8v13.6m-6.8-6.8h13.6M1405.2 907.9v13.6m-6.8-6.8h13.6M1406 908.7v13.6m-6.8-6.8h13.6M1407.6 909.8v13.6m-6.8-6.8h13.6M1408.7 911v13.6m-6.8-6.8h13.6M1408.8 910.8v13.6m-6.8-6.8h13.6M1409.3 911.1v13.6m-6.8-6.8h13.6M1409.8 911.7v13.6m-6.8-6.8h13.6M1409.9 912.1v13.6m-6.8-6.8h13.6M1411.4 913.3v13.6m-6.8-6.8h13.6M1411.9 913.4v13.6m-6.8-6.8h13.6M1412.2 913.9v13.6m-6.8-6.8h13.6M1413.4 914.7v13.6m-6.8-6.8h13.6M1413.8 914.3v13.6m-6.8-6.8h13.6M1414.7 914.8v13.6m-6.8-6.8h13.6M1416.5 915.8v13.6m-6.8-6.8h13.6M1416.9 915.6v13.6m-6.8-6.8h13.6M1417.4 916.3v13.6m-6.8-6.8h13.6M1417.8 916.4v13.6m-6.8-6.8h13.6M1418.6 916.6v13.6m-6.8-6.8h13.6M1419.2 916.4v13.6m-6.8-6.8h13.6M1420.7 916.9v13.6m-6.8-6.8h13.6M1421.9 917.5v13.6m-6.8-6.8h13.6M1422.5 918.2v13.6m-6.8-6.8h13.6M1422.6 917.7v13.6m-6.8-6.8h13.6M1423.3 918.3v13.6m-6.8-6.8h13.6M1424.8 918.5v13.6m-6.8-6.8h13.6M1425.4 918.3v13.6m-6.8-6.8h13.6M1425.5 918.6v13.6m-6.8-6.8h13.6M1427.7 918.7v13.6m-6.8-6.8h13.6M1427.9 919.1v13.6m-6.8-6.8h13.6M1428.8 919.1v13.6m-6.8-6.8h13.6M1429.6 918.8v13.6m-6.8-6.8h13.6M1431.7 919.2v13.6m-6.8-6.8h13.6M1432.2 919.1v13.6m-6.8-6.8h13.6M1432.4 919.5v13.6m-6.8-6.8h13.6M1433.1 919.7v13.6m-6.8-6.8h13.6M1433.7 919.3v13.6m-6.8-6.8h13.6M1434 919.5v13.6m-6.8-6.8h13.6M1436 919.1v13.6m-6.8-6.8h13.6M1436.1 919.3v13.6m-6.8-6.8h13.6M1436.3 919.3v13.6m-6.8-6.8h13.6M1436.3 919.7v13.6m-6.8-6.8h13.6M1436.4 919.7v13.6m-6.8-6.8h13.6M1437.2 919.8v13.6m-6.8-6.8h13.6M1437.8 919.1v13.6m-6.8-6.8h13.6M1437.9 919.8v13.6m-6.8-6.8h13.6M1438.1 919.4v13.6m-6.8-6.8h13.6"/>
<path class="cr" d="M1098.3 664.4L1105.5 666.5L1113.8 670.6L1122.5 680.9L1129.7 691.2L1137.5 701.5L1143.6 711.8L1149.8 722.1L1156.5 732.4L1164.2 742.7L1171.5 753L1179.7 763.3L1191 774.7L1201.3 782.4L1211.6 792.2L1222 798.9L1232.3 806.1L1242.6 811.8L1248 816.3L1258.3 823L1268.6 831.2L1278.9 835.9L1289.2 838.9L1299.5 843.8L1309.8 847.7L1320.1 852L1330.4 856.8L1340.7 860.3L1351 863L1361.3 864.4L1371.6 867.8L1382 872.6L1392.3 877.4L1402.6 879.9L1412.9 882.5L1423.2 885L1433.5 889.9L1438.1 890.2"/>
<path class="mr" d="M1098.3 657.2v13.6m-6.8-6.8h13.6M1098.4 657.6v13.6m-6.8-6.8h13.6M1099.1 657.6v13.6m-6.8-6.8h13.6M1099.2 657.7v13.6m-6.8-6.8h13.6M1100 657.8v13.6m-6.8-6.8h13.6M1100.8 658.5v13.6m-6.8-6.8h13.6M1100.9 658.4v13.6m-6.8-6.8h13.6M1101.3 658.4v13.6m-6.8-6.8h13.6M1103.3 658.7v13.6m-6.8-6.8h13.6M1103.4 659.4v13.6m-6.8-6.8h13.6M1103.7 658.9v13.6m-6.8-6.8h13.6M1104 659.1v13.6m-6.8-6.8h13.6M1105.8 659.6v13.6m-6.8-6.8h13.6M1105.9 660v13.6m-6.8-6.8h13.6M1106.4 660.5v13.6m-6.8-6.8h13.6M1107.4 660.5v13.6m-6.8-6.8h13.6M1107.5 661v13.6m-6.8-6.8h13.6M1109.5 661.3v13.6m-6.8-6.8h13.6M1110.2 662.3v13.6m-6.8-6.8h13.6M1110.8 662.1v13.6m-6.8-6.8h13.6M1111.7 662.9v13.6m-6.8-6.8h13.6M1111.8 662.9v13.6m-6.8-6.8h13.6M1111.9 662.5v13.6m-6.8-6.8h13.6M1112.2 662.9v13.6m-6.8-6.8h13.6M1112.4 663.3v13.6m-6.8-6.8h13.6M1113.4 664v13.6m-6.8-6.8h13.6M1114.9 665.6v13.6m-6.8-6.8h13.6M1115.6 665.8v13.6m-6.8-6.8h13.6M1115.6 666.1v13.6m-6.8-6.8h13.6M1116 666.5v13.6m-6.8-6.8h13.6M1116 666.2v13.6m-6.8-6.8h13.6M1117 667.7v13.6m-6.8-6.8h13.6M1117.5 667.9v13.6m-6.8-6.8h13.6M1117.7 668.8v13.6m-6.8-6.8h13.6M1118.1 669.3v13.6m-6.8-6.8h13.6M1118.2 669v13.6m-6.8-6.8h13.6M1118.9 669.8v13.6m-6.8-6.8h13.6M1119.5 670.6v13.6m-6.8-6.8h13.6M1119.6 670.3v13.6m-6.8-6.8h13.6M1121 672v13.6m-6.8-6.8h13.6M1121 672.2v13.6m-6.8-6.8h13.6M1121.5 673.3v13.6m-6.8-6.8h13.6M1121.8 673.3v13.6m-6.8-6.8h13.6M1122.4 673.8v13.6m-6.8-6.8h13.6M1122.7 674.5v13.6m-6.8-6.8h13.6M1123.4 674.9v13.6m-6.8-6.8h13.6M1123.5 675.2v13.6m-6.8-6.8h13.6M1124.5 677.1v13.6m-6.8-6.8h13.6M1127.7 681.7v13.6m-6.8-6.8h13.6M1128.1 682.2v13.6m-6.8-6.8h13.6M1132.5 687.9v13.6m-6.8-6.8h13.6M1132.7 688.2v13.6m-6.8-6.8h13.6M1133.2 688.8v13.6m-6.8-6.8h13.6M1133.4 689v13.6m-6.8-6.8h13.6M1136.4 693v13.6m-6.8-6.8h13.6M1137.9 695.1v13.6m-6.8-6.8h13.6M1138.1 696.1v13.6m-6.8-6.8h13.6M1138.6 696.4v13.6m-6.8-6.8h13.6M1139.4 698.2v13.6m-6.8-6.8h13.6M1140.4 699.9v13.6m-6.8-6.8h13.6M1141.1 700.8v13.6m-6.8-6.8h13.6M1142.7 703.4v13.6m-6.8-6.8h13.6M1144.3 706.1v13.6m-6.8-6.8h13.6M1144.5 706.1v13.6m-6.8-6.8h13.6M1146.3 709.6v13.6m-6.8-6.8h13.6M1149.4 714.8v13.6m-6.8-6.8h13.6M1150.2 715.6v13.6m-6.8-6.8h13.6M1151.7 718v13.6m-6.8-6.8h13.6M1152 718.4v13.6m-6.8-6.8h13.6M1152.2 718.9v13.6m-6.8-6.8h13.6M1152.4 719.5v13.6m-6.8-6.8h13.6M1152.7 719.5v13.6m-6.8-6.8h13.6M1153.2 720.7v13.6m-6.8-6.8h13.6M1153.8 721.1v13.6m-6.8-6.8h13.6M1154.1 722.2v13.6m-6.8-6.8h13.6M1154.2 721.8v13.6m-6.8-6.8h13.6M1154.8 722.9v13.6m-6.8-6.8h13.6M1155 723.5v13.6m-6.8-6.8h13.6M1155.1 723.2v13.6m-6.8-6.8h13.6M1155.2 723.5v13.6m-6.8-6.8h13.6M1155.6 724.1v13.6m-6.8-6.8h13.6M1156.1 724.6v13.6m-6.8-6.8h13.6M1156.2 725.2v13.6m-6.8-6.8h13.6M1156.4 725.5v13.6m-6.8-6.8h13.6M1157.4 726.7v13.6m-6.8-6.8h13.6M1157.5 726.6v13.6m-6.8-6.8h13.6M1157.8 727.1v13.6m-6.8-6.8h13.6M1158 727.2v13.6m-6.8-6.8h13.6M1158 727.6v13.6m-6.8-6.8h13.6M1158.6 728.2v13.6m-6.8-6.8h13.6M1159.5 729.6v13.6m-6.8-6.8h13.6M1159.7 730.1v13.6m-6.8-6.8h13.6M1159.8 730.1v13.6m-6.8-6.8h13.6M1160.5 730.9v13.6m-6.8-6.8h13.6M1160.6 730.8v13.6m-6.8-6.8h13.6M1160.9 731.3v13.6m-6.8-6.8h13.6M1161.1 731.8v13.6m-6.8-6.8h13.6M1162.2 733.3v13.6m-6.8-6.8h13.6M1162.4 733.8v13.6m-6.8-6.8h13.6M1162.6 733.6v13.6m-6.8-6.8h13.6M1163 734.3v13.6m-6.8-6.8h13.6M1163.1 734.3v13.6m-6.8-6.8h13.6M1163.7 735v13.6m-6.8-6.8h13.6M1164.2 735.5v13.6m-6.8-6.8h13.6M1165.3 737.6v13.6m-6.8-6.8h13.6M1165.4 738v13.6m-6.8-6.8h13.6M1166 738.1v13.6m-6.8-6.8h13.6M1166.1 738.6v13.6m-6.8-6.8h13.6M1167.3 740.1v13.6m-6.8-6.8h13.6M1167.4 740.3v13.6m-6.8-6.8h13.6M1167.4 740.4v13.6m-6.8-6.8h13.6M1167.7 740.8v13.6m-6.8-6.8h13.6M1167.8 740.6v13.6m-6.8-6.8h13.6M1168.3 741.7v13.6m-6.8-6.8h13.6M1168.6 742.1v13.6m-6.8-6.8h13.6M1169 743v13.6m-6.8-6.8h13.6M1169.6 743.8v13.6m-6.8-6.8h13.6M1169.8 743.5v13.6m-6.8-6.8h13.6M1169.8 744.2v13.6m-6.8-6.8h13.6M1169.9 744v13.6m-6.8-6.8h13.6M1170.7 745v13.6m-6.8-6.8h13.6M1170.9 745.4v13.6m-6.8-6.8h13.6M1172 747v13.6m-6.8-6.8h13.6M1172.7 747.4v13.6m-6.8-6.8h13.6M1173.2 748.4v13.6m-6.8-6.8h13.6M1173.4 748.9v13.6m-6.8-6.8h13.6M1173.9 749.6v13.6m-6.8-6.8h13.6M1174.4 750.3v13.6m-6.8-6.8h13.6M1174.6 750.3v13.6m-6.8-6.8h13.6M1175.2 750.9v13.6m-6.8-6.8h13.6M1175.3 751.1v13.6m-6.8-6.8h13.6M1176.1 752.3v13.6m-6.8-6.8h13.6M1176.1 752v13.6m-6.8-6.8h13.6M1176.2 752.1v13.6m-6.8-6.8h13.6M1177.5 753.7v13.6m-6.8-6.8h13.6M1177.6 753.8v13.6m-6.8-6.8h13.6M1177.9 754.4v13.6m-6.8-6.8h13.6M1178 754.2v13.6m-6.8-6.8h13.6M1178.1 754.4v13.6m-6.8-6.8h13.6M1179 755.4v13.6m-6.8-6.8h13.6M1179.6 756.1v13.6m-6.8-6.8h13.6M1180.2 756.9v13.6m-6.8-6.8h13.6M1180.9 757.7v13.6m-6.8-6.8h13.6M1181 757.5v13.6m-6.8-6.8h13.6M1181.7 758.5v13.6m-6.8-6.8h13.6M1182 758.7v13.6m-6.8-6.8h13.6M1182.5 759.3v13.6m-6.8-6.8h13.6M1182.5 759.5v13.6m-6.8-6.8h13.6M1182.7 759.8v13.6m-6.8-6.8h13.6M1183.1 760.1v13.6m-6.8-6.8h13.6M1183.1 760.1v13.6m-6.8-6.8h13.6M1183.5 760.7v13.6m-6.8-6.8h13.6M1184.5 761.4v13.6m-6.8-6.8h13.6M1184.9 761.9v13.6m-6.8-6.8h13.6M1185 761.9v13.6m-6.8-6.8h13.6M1185.7 762.6v13.6m-6.8-6.8h13.6M1186 763.1v13.6m-6.8-6.8h13.6M1187.6 764.2v13.6m-6.8-6.8h13.6M1187.6 764.6v13.6m-6.8-6.8h13.6M1187.7 764.9v13.6m-6.8-6.8h13.6M1188 764.8v13.6m-6.8-6.8h13.6M1188.7 765.9v13.6m-6.8-6.8h13.6M1188.8 765.6v13.6m-6.8-6.8h13.6M1188.9 765.7v13.6m-6.8-6.8h13.6M1188.9 766.1v13.6m-6.8-6.8h13.6M1189.1 765.9v13.6m-6.8-6.8h13.6M1190.1 767.2v13.6m-6.8-6.8h13.6M1190.3 767.2v13.6m-6.8-6.8h13.6M1190.8 767.4v13.6m-6.8-6.8h13.6M1190.9 768v13.6m-6.8-6.8h13.6M1190.9 767.9v13.6m-6.8-6.8h13.6M1191.6 768.4v13.6m-6.8-6.8h13.6M1191.8 768.7v13.6m-6.8-6.8h13.6M1192.6 768.7v13.6m-6.8-6.8h13.6M1193.7 770v13.6m-6.8-6.8h13.6M1193.9 769.7v13.6m-6.8-6.8h13.6M1193.9 770.3v13.6m-6.8-6.8h13.6M1194.9 770.6v13.6m-6.8-6.8h13.6M1195 770.5v13.6m-6.8-6.8h13.6M1195.2 770.9v13.6m-6.8-6.8h13.6M1195.3 770.9v13.6m-6.8-6.8h13.6M1196.2 771.4v13.6m-6.8-6.8h13.6M1196.4 771.9v13.6m-6.8-6.8h13.6M1196.5 771.6v13.6m-6.8-6.8h13.6M1196.6 771.7v13.6m-6.8-6.8h13.6M1198.3 773.6v13.6m-6.8-6.8h13.6M1198.9 774.1v13.6m-6.8-6.8h13.6M1199.1 773.7v13.6m-6.8-6.8h13.6M1200.1 774.8v13.6m-6.8-6.8h13.6M1201.4 775.5v13.6m-6.8-6.8h13.6M1201.6 776.1v13.6m-6.8-6.8h13.6M1202.6 776.5v13.6m-6.8-6.8h13.6M1202.7 776.5v13.6m-6.8-6.8h13.6M1203.1 777.6v13.6m-6.8-6.8h13.6M1203.5 777.4v13.6m-6.8-6.8h13.6M1204 778.3v13.6m-6.8-6.8h13.6M1204.1 778.5v13.6m-6.8-6.8h13.6M1204.6 778.7v13.6m-6.8-6.8h13.6M1204.8 778.6v13.6m-6.8-6.8h13.6M1205 779v13.6m-6.8-6.8h13.6M1205.2 779.3v13.6m-6.8-6.8h13.6M1205.6 780.1v13.6m-6.8-6.8h13.6M1207.2 781.1v13.6m-6.8-6.8h13.6M1207.8 781.6v13.6m-6.8-6.8h13.6M1208 782v13.6m-6.8-6.8h13.6M1209.6 783.1v13.6m-6.8-6.8h13.6M1209.9 783.6v13.6m-6.8-6.8h13.6M1210.6 784.8v13.6m-6.8-6.8h13.6M1210.9 784.3v13.6m-6.8-6.8h13.6M1211.3 785.1v13.6m-6.8-6.8h13.6M1211.8 785.7v13.6m-6.8-6.8h13.6M1212.2 785.8v13.6m-6.8-6.8h13.6M1212.9 785.8v13.6m-6.8-6.8h13.6M1213.1 786.5v13.6m-6.8-6.8h13.6M1214.9 787.9v13.6m-6.8-6.8h13.6M1215.1 788v13.6m-6.8-6.8h13.6M1215.2 787.7v13.6m-6.8-6.8h13.6M1215.3 787.9v13.6m-6.8-6.8h13.6M1215.6 788.1v13.6m-6.8-6.8h13.6M1217.2 788.7v13.6m-6.8-6.8h13.6M1217.8 789.5v13.6m-6.8-6.8h13.6M1217.9 789.1v13.6m-6.8-6.8h13.6M1219.4 790.6v13.6m-6.8-6.8h13.6M1219.9 790.4v13.6m-6.8-6.8h13.6M1221.1 791.5v13.6m-6.8-6.8h13.6M1221.4 791.8v13.6m-6.8-6.8h13.6M1221.7 792.3v13.6m-6.8-6.8h13.6M1222 792.3v13.6m-6.8-6.8h13.6M1222.8 793v13.6m-6.8-6.8h13.6M1222.9 792.6v13.6m-6.8-6.8h13.6M1224.4 793.9v13.6m-6.8-6.8h13.6M1224.7 794.3v13.6m-6.8-6.8h13.6M1224.7 793.8v13.6m-6.8-6.8h13.6M1224.8 794.2v13.6m-6.8-6.8h13.6M1225.1 794.2v13.6m-6.8-6.8h13.6M1225.4 794.3v13.6m-6.8-6.8h13.6M1226.1 795.2v13.6m-6.8-6.8h13.6M1226.3 795.4v13.6m-6.8-6.8h13.6M1226.4 795.2v13.6m-6.8-6.8h13.6M1226.5 795v13.6m-6.8-6.8h13.6M1226.9 795.2v13.6m-6.8-6.8h13.6M1227 795.3v13.6m-6.8-6.8h13.6M1227.2 796v13.6m-6.8-6.8h13.6M1227.4 795.6v13.6m-6.8-6.8h13.6M1228.1 796.7v13.6m-6.8-6.8h13.6M1229.9 797.3v13.6m-6.8-6.8h13.6M1230 797.7v13.6m-6.8-6.8h13.6M1231.8 799v13.6m-6.8-6.8h13.6M1232.9 799.4v13.6m-6.8-6.8h13.6M1233.2 800v13.6m-6.8-6.8h13.6M1233.4 799.9v13.6m-6.8-6.8h13.6M1234.3 800.7v13.6m-6.8-6.8h13.6M1235 801.1v13.6m-6.8-6.8h13.6M1236.9 801.9v13.6m-6.8-6.8h13.6M1237 801.7v13.6m-6.8-6.8h13.6M1237.1 802.3v13.6m-6.8-6.8h13.6M1237.6 802.3v13.6m-6.8-6.8h13.6M1238.7 803v13.6m-6.8-6.8h13.6M1239 803.1v13.6m-6.8-6.8h13.6M1239 802.8v13.6m-6.8-6.8h13.6M1239.3 803.4v13.6m-6.8-6.8h13.6M1239.9 803.6v13.6m-6.8-6.8h13.6M1240.1 803.5v13.6m-6.8-6.8h13.6M1240.4 803.4v13.6m-6.8-6.8h13.6M1240.6 804.2v13.6m-6.8-6.8h13.6M1241.6 804.2v13.6m-6.8-6.8h13.6M1241.9 804.8v13.6m-6.8-6.8h13.6M1242.1 804.6v13.6m-6.8-6.8h13.6M1242.5 804.7v13.6m-6.8-6.8h13.6M1243.7 805.5v13.6m-6.8-6.8h13.6M1244.7 806.9v13.6m-6.8-6.8h13.6M1244.9 806.8v13.6m-6.8-6.8h13.6M1245.9 807.9v13.6m-6.8-6.8h13.6M1246 807.7v13.6m-6.8-6.8h13.6M1246.1 808v13.6m-6.8-6.8h13.6M1246.4 808v13.6m-6.8-6.8h13.6M1246.9 808.4v13.6m-6.8-6.8h13.6M1247 808.9v13.6m-6.8-6.8h13.6M1248.1 809.8v13.6m-6.8-6.8h13.6M1248.5 810v13.6m-6.8-6.8h13.6M1249.5 810.1v13.6m-6.8-6.8h13.6M1249.7 810.5v13.6m-6.8-6.8h13.6M1250.4 810.9v13.6m-6.8-6.8h13.6M1251.1 811.3v13.6m-6.8-6.8h13.6M1252.7 812.5v13.6m-6.8-6.8h13.6M1253.1 812.9v13.6m-6.8-6.8h13.6M1254 813.4v13.6m-6.8-6.8h13.6M1254.2 813.4v13.6m-6.8-6.8h13.6M1254.6 813.4v13.6m-6.8-6.8h13.6M1255.5 814.2v13.6m-6.8-6.8h13.6M1256.8 815.1v13.6m-6.8-6.8h13.6M1258.4 816.4v13.6m-6.8-6.8h13.6M1258.6 816.6v13.6m-6.8-6.8h13.6M1258.7 816.2v13.6m-6.8-6.8h13.6M1259.1 816.7v13.6m-6.8-6.8h13.6M1259.4 817.2v13.6m-6.8-6.8h13.6M1259.7 817.4v13.6m-6.8-6.8h13.6M1260.3 818.1v13.6m-6.8-6.8h13.6M1260.4 818.1v13.6m-6.8-6.8h13.6M1261.1 818.2v13.6m-6.8-6.8h13.6M1261.1 818.2v13.6m-6.8-6.8h13.6M1261.2 818.6v13.6m-6.8-6.8h13.6M1262.9 819.8v13.6m-6.8-6.8h13.6M1263.1 819.7v13.6m-6.8-6.8h13.6M1264.8 821.4v13.6m-6.8-6.8h13.6M1264.9 821.8v13.6m-6.8-6.8h13.6M1265.2 822v13.6m-6.8-6.8h13.6M1265.5 821.7v13.6m-6.8-6.8h13.6M1265.6 821.6v13.6m-6.8-6.8h13.6M1266.4 822.5v13.6m-6.8-6.8h13.6M1267 823.4v13.6m-6.8-6.8h13.6M1267.3 823.4v13.6m-6.8-6.8h13.6M1267.9 824v13.6m-6.8-6.8h13.6M1268.1 823.8v13.6m-6.8-6.8h13.6M1268.3 823.8v13.6m-6.8-6.8h13.6M1268.8 824.6v13.6m-6.8-6.8h13.6M1269.6 824.8v13.6m-6.8-6.8h13.6M1270.4 825.3v13.6m-6.8-6.8h13.6M1271.5 825.7v13.6m-6.8-6.8h13.6M1272.1 826.1v13.6m-6.8-6.8h13.6M1272.2 825.7v13.6m-6.8-6.8h13.6M1273.2 826.6v13.6m-6.8-6.8h13.6M1273.6 827v13.6m-6.8-6.8h13.6M1273.7 826.9v13.6m-6.8-6.8h13.6M1274.1 826.6v13.6m-6.8-6.8h13.6M1274.2 826.6v13.6m-6.8-6.8h13.6M1274.3 827.2v13.6m-6.8-6.8h13.6M1274.7 826.8v13.6m-6.8-6.8h13.6M1275.1 827.7v13.6m-6.8-6.8h13.6M1275.9 827.6v13.6m-6.8-6.8h13.6M1276.3 827.8v13.6m-6.8-6.8h13.6M1276.5 828.1v13.6m-6.8-6.8h13.6M1276.6 828v13.6m-6.8-6.8h13.6M1278 828.9v13.6m-6.8-6.8h13.6M1278.6 829.2v13.6m-6.8-6.8h13.6M1280.4 829.3v13.6m-6.8-6.8h13.6M1282.2 830.3v13.6m-6.8-6.8h13.6M1282.6 829.9v13.6m-6.8-6.8h13.6M1283 830.3v13.6m-6.8-6.8h13.6M1285.1 830.7v13.6m-6.8-6.8h13.6M1285.9 831.3v13.6m-6.8-6.8h13.6M1286.4 831.1v13.6m-6.8-6.8h13.6M1287.8 831.5v13.6m-6.8-6.8h13.6M1289 832.4v13.6m-6.8-6.8h13.6M1289.4 831.9v13.6m-6.8-6.8h13.6M1289.6 832v13.6m-6.8-6.8h13.6M1289.7 832.3v13.6m-6.8-6.8h13.6M1290.2 832.8v13.6m-6.8-6.8h13.6M1290.3 832.8v13.6m-6.8-6.8h13.6M1290.3 832.8v13.6m-6.8-6.8h13.6M1290.4 832.6v13.6m-6.8-6.8h13.6M1291.9 833.7v13.6m-6.8-6.8h13.6M1292 833.4v13.6m-6.8-6.8h13.6M1293.4 833.8v13.6m-6.8-6.8h13.6M1293.7 834.1v13.6m-6.8-6.8h13.6M1293.9 834.3v13.6m-6.8-6.8h13.6M1294 834.1v13.6m-6.8-6.8h13.6M1295.9 835.5v13.6m-6.8-6.8h13.6M1296.5 835.3v13.6m-6.8-6.8h13.6M1296.5 835.7v13.6m-6.8-6.8h13.6M1297.1 835.4v13.6m-6.8-6.8h13.6M1298.9 836.6v13.6m-6.8-6.8h13.6M1299.1 836.9v13.6m-6.8-6.8h13.6M1300.5 837.2v13.6m-6.8-6.8h13.6M1300.9 837.2v13.6m-6.8-6.8h13.6M1301.3 838v13.6m-6.8-6.8h13.6M1302.9 838.2v13.6m-6.8-6.8h13.6M1304.1 839.1v13.6m-6.8-6.8h13.6M1304.3 839.1v13.6m-6.8-6.8h13.6M1304.5 839.2v13.6m-6.8-6.8h13.6M1305.8 839.8v13.6m-6.8-6.8h13.6M1306.1 839.6v13.6m-6.8-6.8h13.6M1306.8 839.8v13.6m-6.8-6.8h13.6M1306.9 839.9v13.6m-6.8-6.8h13.6M1307.9 840.3v13.6m-6.8-6.8h13.6M1309.2 841v13.6m-6.8-6.8h13.6M1309.8 840.8v13.6m-6.8-6.8h13.6M1310.2 840.8v13.6m-6.8-6.8h13.6M1310.4 841.5v13.6m-6.8-6.8h13.6M1310.7 841.2v13.6m-6.8-6.8h13.6M1311.9 842v13.6m-6.8-6.8h13.6M1312 841.8v13.6m-6.8-6.8h13.6M1312.5 841.8v13.6m-6.8-6.8h13.6M1313.3 842.5v13.6m-6.8-6.8h13.6M1314.4 842.5v13.6m-6.8-6.8h13.6M1314.5 842.7v13.6m-6.8-6.8h13.6M1314.9 842.8v13.6m-6.8-6.8h13.6M1315.3 843.1v13.6m-6.8-6.8h13.6M1315.4 843.5v13.6m-6.8-6.8h13.6M1315.8 843.8v13.6m-6.8-6.8h13.6M1316.3 843.9v13.6m-6.8-6.8h13.6M1316.8 843.8v13.6m-6.8-6.8h13.6M1318.4 844.4v13.6m-6.8-6.8h13.6M1320.4 845.4v13.6m-6.8-6.8h13.6M1322.1 845.8v13.6m-6.8-6.8h13.6M1322.5 846.2v13.6m-6.8-6.8h13.6M1323.5 847.1v13.6m-6.8-6.8h13.6M1324.6 847.2v13.6m-6.8-6.8h13.6M1324.7 847.7v13.6m-6.8-6.8h13.6M1324.8 847.6v13.6m-6.8-6.8h13.6M1325.3 847.8v13.6m-6.8-6.8h13.6M1326 847.7v13.6m-6.8-6.8h13.6M1326.3 848v13.6m-6.8-6.8h13.6M1326.9 848.5v13.6m-6.8-6.8h13.6M1328.9 849.3v13.6m-6.8-6.8h13.6M1329.2 849.1v13.6m-6.8-6.8h13.6M1329.5 849.6v13.6m-6.8-6.8h13.6M1330.1 849.5v13.6m-6.8-6.8h13.6M1330.3 850v13.6m-6.8-6.8h13.6M1331.2 850.6v13.6m-6.8-6.8h13.6M1331.3 850.4v13.6m-6.8-6.8h13.6M1331.6 850.4v13.6m-6.8-6.8h13.6M1332.3 850.5v13.6m-6.8-6.8h13.6M1332.8 851.2v13.6m-6.8-6.8h13.6M1332.9 850.9v13.6m-6.8-6.8h13.6M1335 851.8v13.6m-6.8-6.8h13.6M1335.1 851.8v13.6m-6.8-6.8h13.6M1336.6 852v13.6m-6.8-6.8h13.6M1337 852.1v13.6m-6.8-6.8h13.6M1339.1 852.7v13.6m-6.8-6.8h13.6M1339.8 853.6v13.6m-6.8-6.8h13.6M1341.9 854.1v13.6m-6.8-6.8h13.6M1342.2 854.2v13.6m-6.8-6.8h13.6M1343.4 854.1v13.6m-6.8-6.8h13.6M1343.7 854.1v13.6m-6.8-6.8h13.6M1343.9 854.4v13.6m-6.8-6.8h13.6M1344.2 854.8v13.6m-6.8-6.8h13.6M1344.3 854.5v13.6m-6.8-6.8h13.6M1344.7 854.9v13.6m-6.8-6.8h13.6M1346.8 855.2v13.6m-6.8-6.8h13.6M1347.6 855.1v13.6m-6.8-6.8h13.6M1348.3 855.2v13.6m-6.8-6.8h13.6M1349.3 855.8v13.6m-6.8-6.8h13.6M1349.4 855.5v13.6m-6.8-6.8h13.6M1349.7 855.7v13.6m-6.8-6.8h13.6M1350.4 856v13.6m-6.8-6.8h13.6M1350.5 855.9v13.6m-6.8-6.8h13.6M1350.8 856.5v13.6m-6.8-6.8h13.6M1352.4 856.4v13.6m-6.8-6.8h13.6M1354.5 856.4v13.6m-6.8-6.8h13.6M1354.6 856.4v13.6m-6.8-6.8h13.6M1354.8 856.5v13.6m-6.8-6.8h13.6M1355.3 857.1v13.6m-6.8-6.8h13.6M1355.6 856.6v13.6m-6.8-6.8h13.6M1355.9 857.2v13.6m-6.8-6.8h13.6M1356.4 857.3v13.6m-6.8-6.8h13.6M1356.6 857v13.6m-6.8-6.8h13.6M1357.2 857.2v13.6m-6.8-6.8h13.6M1358.3 856.9v13.6m-6.8-6.8h13.6M1358.5 856.9v13.6m-6.8-6.8h13.6M1359.4 857.3v13.6m-6.8-6.8h13.6M1359.8 857v13.6m-6.8-6.8h13.6M1360.8 857.9v13.6m-6.8-6.8h13.6M1360.9 857.9v13.6m-6.8-6.8h13.6M1361.3 857.3v13.6m-6.8-6.8h13.6M1361.4 857.8v13.6m-6.8-6.8h13.6M1362.3 857.8v13.6m-6.8-6.8h13.6M1363.5 857.9v13.6m-6.8-6.8h13.6M1364.7 858.4v13.6m-6.8-6.8h13.6M1364.9 858.6v13.6m-6.8-6.8h13.6M1365.1 859.1v13.6m-6.8-6.8h13.6M1365.5 858.9v13.6m-6.8-6.8h13.6M1366.5 859.2v13.6m-6.8-6.8h13.6M1366.7 859.2v13.6m-6.8-6.8h13.6M1367.2 859.9v13.6m-6.8-6.8h13.6M1368.7 859.7v13.6m-6.8-6.8h13.6M1369 860.3v13.6m-6.8-6.8h13.6M1369.4 860.4v13.6m-6.8-6.8h13.6M1371.1 860.4v13.6m-6.8-6.8h13.6M1371.7 860.8v13.6m-6.8-6.8h13.6M1372.3 861.1v13.6m-6.8-6.8h13.6M1372.4 861.6v13.6m-6.8-6.8h13.6M1373 861.8v13.6m-6.8-6.8h13.6M1373.3 861.6v13.6m-6.8-6.8h13.6M1373.4 862.2v13.6m-6.8-6.8h13.6M1374.3 862.4v13.6m-6.8-6.8h13.6M1374.4 861.9v13.6m-6.8-6.8h13.6M1374.7 862.1v13.6m-6.8-6.8h13.6M1375.3 862.5v13.6m-6.8-6.8h13.6M1376.1 862.8v13.6m-6.8-6.8h13.6M1376.5 863.2v13.6m-6.8-6.8h13.6M1376.7 863.2v13.6m-6.8-6.8h13.6M1376.8 863.2v13.6m-6.8-6.8h13.6M1377.1 863.5v13.6m-6.8-6.8h13.6M1377.7 864.1v13.6m-6.8-6.8h13.6M1378.1 863.8v13.6m-6.8-6.8h13.6M1378.5 863.9v13.6m-6.8-6.8h13.6M1379.5 864.3v13.6m-6.8-6.8h13.6M1379.7 865.1v13.6m-6.8-6.8h13.6M1380.2 864.9v13.6m-6.8-6.8h13.6M1380.3 864.8v13.6m-6.8-6.8h13.6M1381.3 865.2v13.6m-6.8-6.8h13.6M1382 865.6v13.6m-6.8-6.8h13.6M1382.8 865.9v13.6m-6.8-6.8h13.6M1382.9 866v13.6m-6.8-6.8h13.6M1384.6 866.7v13.6m-6.8-6.8h13.6M1384.9 867.5v13.6m-6.8-6.8h13.6M1385.6 867.1v13.6m-6.8-6.8h13.6M1386.2 867.6v13.6m-6.8-6.8h13.6M1386.3 867.6v13.6m-6.8-6.8h13.6M1386.4 867.9v13.6m-6.8-6.8h13.6M1387.2 868.6v13.6m-6.8-6.8h13.6M1387.8 868.5v13.6m-6.8-6.8h13.6M1389.1 868.9v13.6m-6.8-6.8h13.6M1390.6 870.2v13.6m-6.8-6.8h13.6M1391 870.2v13.6m-6.8-6.8h13.6M1391.6 870.4v13.6m-6.8-6.8h13.6M1392.2 870.7v13.6m-6.8-6.8h13.6M1392.9 870.7v13.6m-6.8-6.8h13.6M1393 870.6v13.6m-6.8-6.8h13.6M1393.3 871v13.6m-6.8-6.8h13.6M1393.3 871v13.6m-6.8-6.8h13.6M1393.7 871.3v13.6m-6.8-6.8h13.6M1394.1 871.2v13.6m-6.8-6.8h13.6M1394.2 870.7v13.6m-6.8-6.8h13.6M1395.3 871.6v13.6m-6.8-6.8h13.6M1395.5 871.3v13.6m-6.8-6.8h13.6M1396.3 871.2v13.6m-6.8-6.8h13.6M1397 871.9v13.6m-6.8-6.8h13.6M1398.8 872.6v13.6m-6.8-6.8h13.6M1399.7 872.1v13.6m-6.8-6.8h13.6M1400.8 872.4v13.6m-6.8-6.8h13.6M1401 872.9v13.6m-6.8-6.8h13.6M1401.4 872.7v13.6m-6.8-6.8h13.6M1402.7 873.4v13.6m-6.8-6.8h13.6M1402.9 873.4v13.6m-6.8-6.8h13.6M1405 873.8v13.6m-6.8-6.8h13.6M1405.1 873.8v13.6m-6.8-6.8h13.6M1405.6 873.7v13.6m-6.8-6.8h13.6M1406.5 873.8v13.6m-6.8-6.8h13.6M1406.6 874.5v13.6m-6.8-6.8h13.6M1406.8 873.9v13.6m-6.8-6.8h13.6M1407.7 874.6v13.6m-6.8-6.8h13.6M1408.1 874.5v13.6m-6.8-6.8h13.6M1408.2 874.1v13.6m-6.8-6.8h13.6M1409.6 875.2v13.6m-6.8-6.8h13.6M1410.3 875.2v13.6m-6.8-6.8h13.6M1410.6 875v13.6m-6.8-6.8h13.6M1411.4 875.6v13.6m-6.8-6.8h13.6M1411.5 875.1v13.6m-6.8-6.8h13.6M1411.6 875.6v13.6m-6.8-6.8h13.6M1412 875.2v13.6m-6.8-6.8h13.6M1412.4 876v13.6m-6.8-6.8h13.6M1413.3 876v13.6m-6.8-6.8h13.6M1413.9 875.7v13.6m-6.8-6.8h13.6M1414.4 876.1v13.6m-6.8-6.8h13.6M1416.1 876.1v13.6m-6.8-6.8h13.6M1416.2 876.1v13.6m-6.8-6.8h13.6M1416.2 876.4v13.6m-6.8-6.8h13.6M1416.9 876.9v13.6m-6.8-6.8h13.6M1417.9 876.6v13.6m-6.8-6.8h13.6M1418.2 877.1v13.6m-6.8-6.8h13.6M1418.4 876.9v13.6m-6.8-6.8h13.6M1418.5 877v13.6m-6.8-6.8h13.6M1418.6 877.5v13.6m-6.8-6.8h13.6M1419.4 877.7v13.6m-6.8-6.8h13.6M1419.5 877v13.6m-6.8-6.8h13.6M1420.1 877.9v13.6m-6.8-6.8h13.6M1420.4 877.4v13.6m-6.8-6.8h13.6M1420.8 877.2v13.6m-6.8-6.8h13.6M1420.9 877.4v13.6m-6.8-6.8h13.6M1421 878.1v13.6m-6.8-6.8h13.6M1421.6 878.1v13.6m-6.8-6.8h13.6M1422 877.9v13.6m-6.8-6.8h13.6M1422.2 877.9v13.6m-6.8-6.8h13.6M1423.2 878.3v13.6m-6.8-6.8h13.6M1423.3 878.1v13.6m-6.8-6.8h13.6M1423.9 878.5v13.6m-6.8-6.8h13.6M1424.3 878.4v13.6m-6.8-6.8h13.6M1424.5 878.8v13.6m-6.8-6.8h13.6M1425.8 879.8v13.6m-6.8-6.8h13.6M1425.9 879.4v13.6m-6.8-6.8h13.6M1426 879.5v13.6m-6.8-6.8h13.6M1426.5 880v13.6m-6.8-6.8h13.6M1427 880.1v13.6m-6.8-6.8h13.6M1427.5 880v13.6m-6.8-6.8h13.6M1427.6 880.3v13.6m-6.8-6.8h13.6M1427.7 880.3v13.6m-6.8-6.8h13.6M1428.2 880.9v13.6m-6.8-6.8h13.6M1430.2 881.6v13.6m-6.8-6.8h13.6M1430.3 881.7v13.6m-6.8-6.8h13.6M1430.9 881.7v13.6m-6.8-6.8h13.6M1431.9 882.1v13.6m-6.8-6.8h13.6M1432.5 883v13.6m-6.8-6.8h13.6M1433.5 883.4v13.6m-6.8-6.8h13.6M1433.8 883.1v13.6m-6.8-6.8h13.6M1435.1 883.2v13.6m-6.8-6.8h13.6M1435.3 883.1v13.6m-6.8-6.8h13.6M1435.4 883.6v13.6m-6.8-6.8h13.6M1435.7 883.2v13.6m-6.8-6.8h13.6M1435.8 883.3v13.6m-6.8-6.8h13.6M1435.9 883v13.6m-6.8-6.8h13.6M1436.8 883.3v13.6m-6.8-6.8h13.6M1437.3 883.1v13.6m-6.8-6.8h13.6M1437.4 883.2v13.6m-6.8-6.8h13.6M1437.7 883.6v13.6m-6.8-6.8h13.6M1438.1 883.4v13.6m-6.8-6.8h13.6"/>
<path class="ck" d="M1572.3 664.4L1579.5 666.5L1588.3 670.1L1596.5 680.9L1602.7 691.2L1607.3 701.5L1609 706.2L1612.1 711.8L1614.7 718.5L1616.2 722.1L1623.4 732.4L1635.2 742.7L1641.9 753L1650.1 763.3L1658.3 773.6L1666.1 784L1672.9 794.3L1681 804.8L1688.7 814.5L1696.4 822.2L1704.2 828.4L1711.9 835.4L1722 840L1732.3 848.7L1742.6 859.6L1752.9 864.2L1763.2 867.1L1773.5 873.3L1783.8 874.3L1794.1 881.2L1804.4 886L1814.7 887.7L1825 890.5L1835.3 894.6L1845.6 897.4L1856 899.4L1866.3 901.1L1876.6 903.9L1886.9 910.6L1897.2 914.2L1907.5 916.2H1911.6"/>
<path class="mk" d="M1572.3 657.7v13.6m-6.8-6.8h13.6M1572.4 657.5v13.6m-6.8-6.8h13.6M1572.5 657.9v13.6m-6.8-6.8h13.6M1573.2 658.2v13.6m-6.8-6.8h13.6M1573.3 657.8v13.6m-6.8-6.8h13.6M1573.4 657.7v13.6m-6.8-6.8h13.6M1573.8 657.7v13.6m-6.8-6.8h13.6M1573.9 658.2v13.6m-6.8-6.8h13.6M1574.4 658v13.6m-6.8-6.8h13.6M1574.9 658.6v13.6m-6.8-6.8h13.6M1575 658.7v13.6m-6.8-6.8h13.6M1575.8 658.5v13.6m-6.8-6.8h13.6M1575.9 659v13.6m-6.8-6.8h13.6M1576.1 658.4v13.6m-6.8-6.8h13.6M1576.2 659v13.6m-6.8-6.8h13.6M1576.7 659.1v13.6m-6.8-6.8h13.6M1577.5 659.1v13.6m-6.8-6.8h13.6M1579.6 659.6v13.6m-6.8-6.8h13.6M1580.1 660.2v13.6m-6.8-6.8h13.6M1580.6 660.4v13.6m-6.8-6.8h13.6M1581.1 660.5v13.6m-6.8-6.8h13.6M1581.2 660.2v13.6m-6.8-6.8h13.6M1581.4 660.1v13.6m-6.8-6.8h13.6M1581.5 660.2v13.6m-6.8-6.8h13.6M1581.7 660.7v13.6m-6.8-6.8h13.6M1582 660.6v13.6m-6.8-6.8h13.6M1582.1 660.6v13.6m-6.8-6.8h13.6M1583.7 661.5v13.6m-6.8-6.8h13.6M1584.2 661.4v13.6m-6.8-6.8h13.6M1585 661.7v13.6m-6.8-6.8h13.6M1585.3 662.4v13.6m-6.8-6.8h13.6M1585.9 662.3v13.6m-6.8-6.8h13.6M1586.5 662.8v13.6m-6.8-6.8h13.6M1587.4 662.7v13.6m-6.8-6.8h13.6M1587.5 662.8v13.6m-6.8-6.8h13.6M1587.6 662.8v13.6m-6.8-6.8h13.6M1588.9 664.5v13.6m-6.8-6.8h13.6M1589.1 664.5v13.6m-6.8-6.8h13.6M1589.3 664.9v13.6m-6.8-6.8h13.6M1589.5 664.7v13.6m-6.8-6.8h13.6M1589.6 665.1v13.6m-6.8-6.8h13.6M1589.7 665.2v13.6m-6.8-6.8h13.6M1590.6 666.2v13.6m-6.8-6.8h13.6M1590.7 666.8v13.6m-6.8-6.8h13.6M1590.9 666.5v13.6m-6.8-6.8h13.6M1591 666.5v13.6m-6.8-6.8h13.6M1591.4 667.6v13.6m-6.8-6.8h13.6M1591.6 667.3v13.6m-6.8-6.8h13.6M1591.7 668.2v13.6m-6.8-6.8h13.6M1592 668.6v13.6m-6.8-6.8h13.6M1592.8 668.8v13.6m-6.8-6.8h13.6M1593.2 670v13.6m-6.8-6.8h13.6M1593.5 670v13.6m-6.8-6.8h13.6M1593.9 670.4v13.6m-6.8-6.8h13.6M1594.1 671v13.6m-6.8-6.8h13.6M1595.3 672.8v13.6m-6.8-6.8h13.6M1595.4 672.7v13.6m-6.8-6.8h13.6M1595.5 673.1v13.6m-6.8-6.8h13.6M1596.3 673.6v13.6m-6.8-6.8h13.6M1596.8 674.7v13.6m-6.8-6.8h13.6M1596.9 675v13.6m-6.8-6.8h13.6M1597.4 675.8v13.6m-6.8-6.8h13.6M1598 676.1v13.6m-6.8-6.8h13.6M1598.3 676.7v13.6m-6.8-6.8h13.6M1600.5 681v13.6m-6.8-6.8h13.6M1602.3 683.5v13.6m-6.8-6.8h13.6M1602.4 684.3v13.6m-6.8-6.8h13.6M1605.1 689.5v13.6m-6.8-6.8h13.6M1605.8 690.9v13.6m-6.8-6.8h13.6M1607.2 694.7v13.6m-6.8-6.8h13.6M1607.4 694.8v13.6m-6.8-6.8h13.6M1608.1 696.6v13.6m-6.8-6.8h13.6M1610.2 701.5v13.6m-6.8-6.8h13.6M1610.5 702.1v13.6m-6.8-6.8h13.6M1612.1 704.8v13.6m-6.8-6.8h13.6M1612.4 706.4v13.6m-6.8-6.8h13.6M1613.4 708.5v13.6m-6.8-6.8h13.6M1614.1 710v13.6m-6.8-6.8h13.6M1614.3 710.7v13.6m-6.8-6.8h13.6M1615.2 712.7v13.6m-6.8-6.8h13.6M1615.4 713.2v13.6m-6.8-6.8h13.6M1616.5 715.5v13.6m-6.8-6.8h13.6M1619.8 720.7v13.6m-6.8-6.8h13.6M1620 720.5v13.6m-6.8-6.8h13.6M1621.3 722.4v13.6m-6.8-6.8h13.6M1621.5 723.2v13.6m-6.8-6.8h13.6M1622.4 724.2v13.6m-6.8-6.8h13.6M1624.2 726.6v13.6m-6.8-6.8h13.6M1624.4 726.2v13.6m-6.8-6.8h13.6M1625 727v13.6m-6.8-6.8h13.6M1625.6 727.7v13.6m-6.8-6.8h13.6M1626.4 728.7v13.6m-6.8-6.8h13.6M1626.5 728.2v13.6m-6.8-6.8h13.6M1626.7 728.8v13.6m-6.8-6.8h13.6M1626.8 728.4v13.6m-6.8-6.8h13.6M1627.1 728.8v13.6m-6.8-6.8h13.6M1627.2 728.8v13.6m-6.8-6.8h13.6M1628.4 730v13.6m-6.8-6.8h13.6M1629.4 730.9v13.6m-6.8-6.8h13.6M1629.4 731.3v13.6m-6.8-6.8h13.6M1630.3 732v13.6m-6.8-6.8h13.6M1631.5 733v13.6m-6.8-6.8h13.6M1631.6 732.8v13.6m-6.8-6.8h13.6M1631.7 732.8v13.6m-6.8-6.8h13.6M1631.8 732.9v13.6m-6.8-6.8h13.6M1633.4 734.2v13.6m-6.8-6.8h13.6M1634.1 735v13.6m-6.8-6.8h13.6M1634.4 735.6v13.6m-6.8-6.8h13.6M1635.8 736.9v13.6m-6.8-6.8h13.6M1636.2 737.2v13.6m-6.8-6.8h13.6M1636.3 738.1v13.6m-6.8-6.8h13.6M1636.6 738.2v13.6m-6.8-6.8h13.6M1637.1 738.5v13.6m-6.8-6.8h13.6M1637.4 739.3v13.6m-6.8-6.8h13.6M1638 740v13.6m-6.8-6.8h13.6M1639.1 741.7v13.6m-6.8-6.8h13.6M1639.2 742.2v13.6m-6.8-6.8h13.6M1639.6 742.5v13.6m-6.8-6.8h13.6M1639.6 743.1v13.6m-6.8-6.8h13.6M1639.7 743v13.6m-6.8-6.8h13.6M1640 743.4v13.6m-6.8-6.8h13.6M1640.3 743.9v13.6m-6.8-6.8h13.6M1641.2 745.1v13.6m-6.8-6.8h13.6M1641.7 745.7v13.6m-6.8-6.8h13.6M1641.8 746.3v13.6m-6.8-6.8h13.6M1642 746.2v13.6m-6.8-6.8h13.6M1642.5 746.7v13.6m-6.8-6.8h13.6M1642.8 747.8v13.6m-6.8-6.8h13.6M1644.1 748.7v13.6m-6.8-6.8h13.6M1644.2 749v13.6m-6.8-6.8h13.6M1645.2 750.8v13.6m-6.8-6.8h13.6M1646.1 751.4v13.6m-6.8-6.8h13.6M1646.1 751.9v13.6m-6.8-6.8h13.6M1646.6 752.3v13.6m-6.8-6.8h13.6M1648 754v13.6m-6.8-6.8h13.6M1648 754.2v13.6m-6.8-6.8h13.6M1648.2 754.2v13.6m-6.8-6.8h13.6M1649.2 755.2v13.6m-6.8-6.8h13.6M1649.3 755.2v13.6m-6.8-6.8h13.6M1649.6 755.7v13.6m-6.8-6.8h13.6M1650 756.6v13.6m-6.8-6.8h13.6M1650.1 756.6v13.6m-6.8-6.8h13.6M1650.2 756.6v13.6m-6.8-6.8h13.6M1651.1 758.1v13.6m-6.8-6.8h13.6M1651.1 757.8v13.6m-6.8-6.8h13.6M1651.3 757.6v13.6m-6.8-6.8h13.6M1651.8 758.8v13.6m-6.8-6.8h13.6M1652 759.1v13.6m-6.8-6.8h13.6M1652.3 759.2v13.6m-6.8-6.8h13.6M1652.3 759v13.6m-6.8-6.8h13.6M1653.2 760.7v13.6m-6.8-6.8h13.6M1653.5 761v13.6m-6.8-6.8h13.6M1653.8 760.9v13.6m-6.8-6.8h13.6M1653.9 761.1v13.6m-6.8-6.8h13.6M1654.8 762.6v13.6m-6.8-6.8h13.6M1655.5 763.6v13.6m-6.8-6.8h13.6M1655.6 763.2v13.6m-6.8-6.8h13.6M1655.7 763.7v13.6m-6.8-6.8h13.6M1656.5 764.5v13.6m-6.8-6.8h13.6M1656.9 764.7v13.6m-6.8-6.8h13.6M1657.9 766.6v13.6m-6.8-6.8h13.6M1659.2 768.3v13.6m-6.8-6.8h13.6M1660 768.7v13.6m-6.8-6.8h13.6M1660.5 769.6v13.6m-6.8-6.8h13.6M1661.5 771.3v13.6m-6.8-6.8h13.6M1662.2 772.3v13.6m-6.8-6.8h13.6M1662.4 772.4v13.6m-6.8-6.8h13.6M1662.4 772.6v13.6m-6.8-6.8h13.6M1663.1 773v13.6m-6.8-6.8h13.6M1663.8 774.1v13.6m-6.8-6.8h13.6M1663.9 774.5v13.6m-6.8-6.8h13.6M1664 774v13.6m-6.8-6.8h13.6M1664.1 774.4v13.6m-6.8-6.8h13.6M1664.8 775.9v13.6m-6.8-6.8h13.6M1665 775.8v13.6m-6.8-6.8h13.6M1665.1 776.3v13.6m-6.8-6.8h13.6M1665.4 776.6v13.6m-6.8-6.8h13.6M1665.5 776.7v13.6m-6.8-6.8h13.6M1665.6 776.8v13.6m-6.8-6.8h13.6M1665.7 776.3v13.6m-6.8-6.8h13.6M1665.9 777.1v13.6m-6.8-6.8h13.6M1666 777.2v13.6m-6.8-6.8h13.6M1666.3 777.4v13.6m-6.8-6.8h13.6M1666.6 777.7v13.6m-6.8-6.8h13.6M1667 778.1v13.6m-6.8-6.8h13.6M1667.9 779.9v13.6m-6.8-6.8h13.6M1668.3 780.7v13.6m-6.8-6.8h13.6M1668.7 781v13.6m-6.8-6.8h13.6M1668.7 781.3v13.6m-6.8-6.8h13.6M1668.9 781.3v13.6m-6.8-6.8h13.6M1669.5 782.6v13.6m-6.8-6.8h13.6M1669.6 782.4v13.6m-6.8-6.8h13.6M1669.8 782.8v13.6m-6.8-6.8h13.6M1669.9 782.7v13.6m-6.8-6.8h13.6M1670.1 783.7v13.6m-6.8-6.8h13.6M1670.5 784.2v13.6m-6.8-6.8h13.6M1670.8 784.2v13.6m-6.8-6.8h13.6M1671.1 784.4v13.6m-6.8-6.8h13.6M1671.2 784.9v13.6m-6.8-6.8h13.6M1671.5 785.5v13.6m-6.8-6.8h13.6M1671.7 785.7v13.6m-6.8-6.8h13.6M1671.8 785.8v13.6m-6.8-6.8h13.6M1672.6 787.3v13.6m-6.8-6.8h13.6M1672.7 786.8v13.6m-6.8-6.8h13.6M1672.9 787.6v13.6m-6.8-6.8h13.6M1673.1 788v13.6m-6.8-6.8h13.6M1673.6 788.5v13.6m-6.8-6.8h13.6M1673.7 788.3v13.6m-6.8-6.8h13.6M1673.8 788.4v13.6m-6.8-6.8h13.6M1674 789.2v13.6m-6.8-6.8h13.6M1674.1 788.9v13.6m-6.8-6.8h13.6M1674.4 789.2v13.6m-6.8-6.8h13.6M1674.9 790.1v13.6m-6.8-6.8h13.6M1675 790.3v13.6m-6.8-6.8h13.6M1675.1 790.5v13.6m-6.8-6.8h13.6M1675.6 790.7v13.6m-6.8-6.8h13.6M1675.8 791v13.6m-6.8-6.8h13.6M1677 792.8v13.6m-6.8-6.8h13.6M1677.1 792.7v13.6m-6.8-6.8h13.6M1677.8 793.8v13.6m-6.8-6.8h13.6M1678.4 794.8v13.6m-6.8-6.8h13.6M1679.7 796.4v13.6m-6.8-6.8h13.6M1680.9 798.1v13.6m-6.8-6.8h13.6M1681.2 798.5v13.6m-6.8-6.8h13.6M1681.5 798.9v13.6m-6.8-6.8h13.6M1681.8 799.3v13.6m-6.8-6.8h13.6M1682.3 799.6v13.6m-6.8-6.8h13.6M1682.4 799.6v13.6m-6.8-6.8h13.6M1682.8 800.5v13.6m-6.8-6.8h13.6M1683.1 800.8v13.6m-6.8-6.8h13.6M1683.2 800.5v13.6m-6.8-6.8h13.6M1683.4 800.8v13.6m-6.8-6.8h13.6M1683.5 801.2v13.6m-6.8-6.8h13.6M1683.6 801v13.6m-6.8-6.8h13.6M1684 802v13.6m-6.8-6.8h13.6M1684.1 801.8v13.6m-6.8-6.8h13.6M1684.4 802.2v13.6m-6.8-6.8h13.6M1684.5 802.3v13.6m-6.8-6.8h13.6M1685.4 803.6v13.6m-6.8-6.8h13.6M1685.8 804.4v13.6m-6.8-6.8h13.6M1686.4 804.7v13.6m-6.8-6.8h13.6M1686.5 804.8v13.6m-6.8-6.8h13.6M1687 805.8v13.6m-6.8-6.8h13.6M1688.2 807v13.6m-6.8-6.8h13.6M1688.7 807.8v13.6m-6.8-6.8h13.6M1689.1 807.9v13.6m-6.8-6.8h13.6M1689.2 808.2v13.6m-6.8-6.8h13.6M1689.3 808.2v13.6m-6.8-6.8h13.6M1689.8 808.7v13.6m-6.8-6.8h13.6M1689.9 808.8v13.6m-6.8-6.8h13.6M1689.9 809v13.6m-6.8-6.8h13.6M1690 808.9v13.6m-6.8-6.8h13.6M1690.4 809v13.6m-6.8-6.8h13.6M1690.8 809.5v13.6m-6.8-6.8h13.6M1691.1 809.7v13.6m-6.8-6.8h13.6M1691.3 810.1v13.6m-6.8-6.8h13.6M1691.5 810.7v13.6m-6.8-6.8h13.6M1691.7 810.9v13.6m-6.8-6.8h13.6M1692.5 811.3v13.6m-6.8-6.8h13.6M1692.5 811.1v13.6m-6.8-6.8h13.6M1692.9 812.3v13.6m-6.8-6.8h13.6M1693.1 812.2v13.6m-6.8-6.8h13.6M1693.7 812.8v13.6m-6.8-6.8h13.6M1694.3 813.7v13.6m-6.8-6.8h13.6M1694.4 813.1v13.6m-6.8-6.8h13.6M1694.5 813.2v13.6m-6.8-6.8h13.6M1695 814v13.6m-6.8-6.8h13.6M1695.1 814.3v13.6m-6.8-6.8h13.6M1695.7 814.5v13.6m-6.8-6.8h13.6M1696.2 815.3v13.6m-6.8-6.8h13.6M1696.2 815.5v13.6m-6.8-6.8h13.6M1697.8 816.2v13.6m-6.8-6.8h13.6M1697.9 816.4v13.6m-6.8-6.8h13.6M1698.4 817.4v13.6m-6.8-6.8h13.6M1698.7 817.4v13.6m-6.8-6.8h13.6M1698.8 817.4v13.6m-6.8-6.8h13.6M1699.2 817.3v13.6m-6.8-6.8h13.6M1700 818.5v13.6m-6.8-6.8h13.6M1700.4 818.3v13.6m-6.8-6.8h13.6M1702.1 820.2v13.6m-6.8-6.8h13.6M1702.3 820v13.6m-6.8-6.8h13.6M1702.5 820.3v13.6m-6.8-6.8h13.6M1702.7 820.7v13.6m-6.8-6.8h13.6M1703.6 820.8v13.6m-6.8-6.8h13.6M1705.1 822.5v13.6m-6.8-6.8h13.6M1705.9 823.3v13.6m-6.8-6.8h13.6M1706.2 823.6v13.6m-6.8-6.8h13.6M1707.7 824.6v13.6m-6.8-6.8h13.6M1708.5 825.5v13.6m-6.8-6.8h13.6M1708.8 825.7v13.6m-6.8-6.8h13.6M1709.4 826.1v13.6m-6.8-6.8h13.6M1710.2 827.4v13.6m-6.8-6.8h13.6M1710.3 827.5v13.6m-6.8-6.8h13.6M1710.4 827.3v13.6m-6.8-6.8h13.6M1710.9 827.6v13.6m-6.8-6.8h13.6M1710.9 828v13.6m-6.8-6.8h13.6M1711 827.6v13.6m-6.8-6.8h13.6M1711.8 828.4v13.6m-6.8-6.8h13.6M1712.9 829.2v13.6m-6.8-6.8h13.6M1713.1 828.8v13.6m-6.8-6.8h13.6M1714.8 829.6v13.6m-6.8-6.8h13.6M1715.5 830.2v13.6m-6.8-6.8h13.6M1716.3 830.8v13.6m-6.8-6.8h13.6M1716.9 830.9v13.6m-6.8-6.8h13.6M1717.8 830.9v13.6m-6.8-6.8h13.6M1717.9 831.5v13.6m-6.8-6.8h13.6M1718.1 831.5v13.6m-6.8-6.8h13.6M1718.5 831.6v13.6m-6.8-6.8h13.6M1718.8 831.9v13.6m-6.8-6.8h13.6M1719 832v13.6m-6.8-6.8h13.6M1719.2 831.7v13.6m-6.8-6.8h13.6M1719.3 831.7v13.6m-6.8-6.8h13.6M1719.4 832v13.6m-6.8-6.8h13.6M1720.2 832.1v13.6m-6.8-6.8h13.6M1720.3 832.4v13.6m-6.8-6.8h13.6M1721.1 833.1v13.6m-6.8-6.8h13.6M1721.5 832.8v13.6m-6.8-6.8h13.6M1721.6 832.7v13.6m-6.8-6.8h13.6M1721.7 832.8v13.6m-6.8-6.8h13.6M1721.8 833.1v13.6m-6.8-6.8h13.6M1722 833.5v13.6m-6.8-6.8h13.6M1722.4 833.6v13.6m-6.8-6.8h13.6M1722.4 833.8v13.6m-6.8-6.8h13.6M1722.8 834.1v13.6m-6.8-6.8h13.6M1723.2 834.1v13.6m-6.8-6.8h13.6M1723.4 834.1v13.6m-6.8-6.8h13.6M1723.5 834.8v13.6m-6.8-6.8h13.6M1723.8 835v13.6m-6.8-6.8h13.6M1724.1 834.6v13.6m-6.8-6.8h13.6M1724.5 835v13.6m-6.8-6.8h13.6M1724.6 835.4v13.6m-6.8-6.8h13.6M1724.8 835.9v13.6m-6.8-6.8h13.6M1724.8 835.8v13.6m-6.8-6.8h13.6M1725.3 836.2v13.6m-6.8-6.8h13.6M1725.4 836.1v13.6m-6.8-6.8h13.6M1725.7 836.3v13.6m-6.8-6.8h13.6M1726.6 837.5v13.6m-6.8-6.8h13.6M1726.8 837.3v13.6m-6.8-6.8h13.6M1727.2 837.8v13.6m-6.8-6.8h13.6M1728.6 838.6v13.6m-6.8-6.8h13.6M1728.7 839v13.6m-6.8-6.8h13.6M1728.8 838.7v13.6m-6.8-6.8h13.6M1728.9 838.6v13.6m-6.8-6.8h13.6M1729.2 839.3v13.6m-6.8-6.8h13.6M1729.3 839.2v13.6m-6.8-6.8h13.6M1729.9 840.1v13.6m-6.8-6.8h13.6M1730.2 840.3v13.6m-6.8-6.8h13.6M1731.4 841.4v13.6m-6.8-6.8h13.6M1731.9 841.7v13.6m-6.8-6.8h13.6M1733.1 842.7v13.6m-6.8-6.8h13.6M1733.4 843.2v13.6m-6.8-6.8h13.6M1734.4 844.4v13.6m-6.8-6.8h13.6M1734.5 844v13.6m-6.8-6.8h13.6M1734.7 844.6v13.6m-6.8-6.8h13.6M1735 844.6v13.6m-6.8-6.8h13.6M1735.1 845v13.6m-6.8-6.8h13.6M1735.6 845.7v13.6m-6.8-6.8h13.6M1735.9 845.7v13.6m-6.8-6.8h13.6M1736 845.4v13.6m-6.8-6.8h13.6M1736.2 845.9v13.6m-6.8-6.8h13.6M1736.3 845.8v13.6m-6.8-6.8h13.6M1737.7 847.9v13.6m-6.8-6.8h13.6M1738.1 848.4v13.6m-6.8-6.8h13.6M1739.6 849.7v13.6m-6.8-6.8h13.6M1739.7 849.3v13.6m-6.8-6.8h13.6M1740.3 850.3v13.6m-6.8-6.8h13.6M1740.8 851.2v13.6m-6.8-6.8h13.6M1740.9 851v13.6m-6.8-6.8h13.6M1741.3 851.4v13.6m-6.8-6.8h13.6M1741.4 851.3v13.6m-6.8-6.8h13.6M1741.5 851.8v13.6m-6.8-6.8h13.6M1742.4 852.4v13.6m-6.8-6.8h13.6M1742.9 852.7v13.6m-6.8-6.8h13.6M1744.6 853.9v13.6m-6.8-6.8h13.6M1745 853.8v13.6m-6.8-6.8h13.6M1745.3 853.8v13.6m-6.8-6.8h13.6M1747.2 854.8v13.6m-6.8-6.8h13.6M1747.6 855.4v13.6m-6.8-6.8h13.6M1748.2 855.3v13.6m-6.8-6.8h13.6M1748.6 855.2v13.6m-6.8-6.8h13.6M1748.8 855.7v13.6m-6.8-6.8h13.6M1749.4 856v13.6m-6.8-6.8h13.6M1749.5 855.9v13.6m-6.8-6.8h13.6M1751 856.5v13.6m-6.8-6.8h13.6M1751.7 856.5v13.6m-6.8-6.8h13.6M1753.7 857.7v13.6m-6.8-6.8h13.6M1753.8 857.4v13.6m-6.8-6.8h13.6M1754.3 857.8v13.6m-6.8-6.8h13.6M1754.4 858.2v13.6m-6.8-6.8h13.6M1755.9 858.2v13.6m-6.8-6.8h13.6M1755.9 858.5v13.6m-6.8-6.8h13.6M1756.4 858.5v13.6m-6.8-6.8h13.6M1756.8 858.3v13.6m-6.8-6.8h13.6M1757.9 859.2v13.6m-6.8-6.8h13.6M1758 858.9v13.6m-6.8-6.8h13.6M1758.3 859.2v13.6m-6.8-6.8h13.6M1758.7 859.3v13.6m-6.8-6.8h13.6M1759.9 859.2v13.6m-6.8-6.8h13.6M1760.9 859.5v13.6m-6.8-6.8h13.6M1762.5 860.1v13.6m-6.8-6.8h13.6M1763.5 860.3v13.6m-6.8-6.8h13.6M1763.7 860.6v13.6m-6.8-6.8h13.6M1765.5 861.7v13.6m-6.8-6.8h13.6M1765.6 861.7v13.6m-6.8-6.8h13.6M1765.8 861.9v13.6m-6.8-6.8h13.6M1766.3 862.1v13.6m-6.8-6.8h13.6M1766.5 862v13.6m-6.8-6.8h13.6M1767.1 862.7v13.6m-6.8-6.8h13.6M1767.2 862.9v13.6m-6.8-6.8h13.6M1767.3 862.9v13.6m-6.8-6.8h13.6M1768 863.4v13.6m-6.8-6.8h13.6M1768.2 863.4v13.6m-6.8-6.8h13.6M1769.1 864.2v13.6m-6.8-6.8h13.6M1769.5 863.7v13.6m-6.8-6.8h13.6M1769.9 864.3v13.6m-6.8-6.8h13.6M1771 865.2v13.6m-6.8-6.8h13.6M1771.3 865.1v13.6m-6.8-6.8h13.6M1771.6 865.5v13.6m-6.8-6.8h13.6M1771.9 865.6v13.6m-6.8-6.8h13.6M1772 865.5v13.6m-6.8-6.8h13.6M1773.9 866.4v13.6m-6.8-6.8h13.6M1774.6 866.7v13.6m-6.8-6.8h13.6M1775.8 867v13.6m-6.8-6.8h13.6M1777 866.7v13.6m-6.8-6.8h13.6M1777.2 867v13.6m-6.8-6.8h13.6M1778.1 867.2v13.6m-6.8-6.8h13.6M1778.2 866.6v13.6m-6.8-6.8h13.6M1778.8 867.3v13.6m-6.8-6.8h13.6M1781 867.4v13.6m-6.8-6.8h13.6M1781.3 866.9v13.6m-6.8-6.8h13.6M1781.9 867.6v13.6m-6.8-6.8h13.6M1782.3 867.5v13.6m-6.8-6.8h13.6M1783.7 867.1v13.6m-6.8-6.8h13.6M1784.6 867.8v13.6m-6.8-6.8h13.6M1784.8 867.9v13.6m-6.8-6.8h13.6M1785.2 868.5v13.6m-6.8-6.8h13.6M1786 868.7v13.6m-6.8-6.8h13.6M1786.1 869.3v13.6m-6.8-6.8h13.6M1786.6 869.1v13.6m-6.8-6.8h13.6M1787.8 869.9v13.6m-6.8-6.8h13.6M1788.2 870.2v13.6m-6.8-6.8h13.6M1788.3 870.1v13.6m-6.8-6.8h13.6M1789.2 871.4v13.6m-6.8-6.8h13.6M1789.7 871.2v13.6m-6.8-6.8h13.6M1790 871.5v13.6m-6.8-6.8h13.6M1790.5 872.1v13.6m-6.8-6.8h13.6M1790.8 871.9v13.6m-6.8-6.8h13.6M1791.7 872.5v13.6m-6.8-6.8h13.6M1792 872.9v13.6m-6.8-6.8h13.6M1792.1 873.1v13.6m-6.8-6.8h13.6M1792.6 873.7v13.6m-6.8-6.8h13.6M1792.7 873.8v13.6m-6.8-6.8h13.6M1793.3 873.7v13.6m-6.8-6.8h13.6M1793.7 874.3v13.6m-6.8-6.8h13.6M1794.5 874.2v13.6m-6.8-6.8h13.6M1795 874.8v13.6m-6.8-6.8h13.6M1796.3 875.2v13.6m-6.8-6.8h13.6M1797.2 875.9v13.6m-6.8-6.8h13.6M1797.4 876.1v13.6m-6.8-6.8h13.6M1798 876.3v13.6m-6.8-6.8h13.6M1798.7 876.7v13.6m-6.8-6.8h13.6M1799.7 877.1v13.6m-6.8-6.8h13.6M1801 877.8v13.6m-6.8-6.8h13.6M1801.2 877.7v13.6m-6.8-6.8h13.6M1801.7 878.1v13.6m-6.8-6.8h13.6M1801.8 877.8v13.6m-6.8-6.8h13.6M1802.6 878.1v13.6m-6.8-6.8h13.6M1802.7 878.4v13.6m-6.8-6.8h13.6M1804.7 879.3v13.6m-6.8-6.8h13.6M1806.2 879.8v13.6m-6.8-6.8h13.6M1806.3 879.8v13.6m-6.8-6.8h13.6M1806.7 879.8v13.6m-6.8-6.8h13.6M1807.6 879.6v13.6m-6.8-6.8h13.6M1807.7 880.1v13.6m-6.8-6.8h13.6M1807.8 880.1v13.6m-6.8-6.8h13.6M1809 880.1v13.6m-6.8-6.8h13.6M1811.1 880.7v13.6m-6.8-6.8h13.6M1812.1 880.4v13.6m-6.8-6.8h13.6M1813.1 880.2v13.6m-6.8-6.8h13.6M1813.5 880.7v13.6m-6.8-6.8h13.6M1814.2 880.9v13.6m-6.8-6.8h13.6M1814.8 881.1v13.6m-6.8-6.8h13.6M1816.4 881v13.6m-6.8-6.8h13.6M1816.6 881v13.6m-6.8-6.8h13.6M1817.9 881.8v13.6m-6.8-6.8h13.6M1819.4 881.9v13.6m-6.8-6.8h13.6M1819.5 882.4v13.6m-6.8-6.8h13.6M1820.9 882.4v13.6m-6.8-6.8h13.6M1821.2 882.3v13.6m-6.8-6.8h13.6M1823 882.9v13.6m-6.8-6.8h13.6M1823.4 882.9v13.6m-6.8-6.8h13.6M1824.7 883.3v13.6m-6.8-6.8h13.6M1825 883.8v13.6m-6.8-6.8h13.6M1825.8 884.3v13.6m-6.8-6.8h13.6M1826.1 884.3v13.6m-6.8-6.8h13.6M1826.2 884.1v13.6m-6.8-6.8h13.6M1826.3 884.2v13.6m-6.8-6.8h13.6M1826.6 884.7v13.6m-6.8-6.8h13.6M1826.7 884.2v13.6m-6.8-6.8h13.6M1827 884.8v13.6m-6.8-6.8h13.6M1828.2 884.6v13.6m-6.8-6.8h13.6M1828.8 885.2v13.6m-6.8-6.8h13.6M1830.8 885.9v13.6m-6.8-6.8h13.6M1831.1 885.9v13.6m-6.8-6.8h13.6M1831.2 886.4v13.6m-6.8-6.8h13.6M1831.6 886.4v13.6m-6.8-6.8h13.6M1832.2 886.6v13.6m-6.8-6.8h13.6M1832.2 886.8v13.6m-6.8-6.8h13.6M1832.4 886.3v13.6m-6.8-6.8h13.6M1832.9 886.5v13.6m-6.8-6.8h13.6M1833.7 886.9v13.6m-6.8-6.8h13.6M1833.9 887.5v13.6m-6.8-6.8h13.6M1834.1 887v13.6m-6.8-6.8h13.6M1835.4 887.4v13.6m-6.8-6.8h13.6M1836.6 887.8v13.6m-6.8-6.8h13.6M1836.7 887.9v13.6m-6.8-6.8h13.6M1836.8 888.3v13.6m-6.8-6.8h13.6M1836.9 887.8v13.6m-6.8-6.8h13.6M1837.8 888.2v13.6m-6.8-6.8h13.6M1838 888.3v13.6m-6.8-6.8h13.6M1838.1 888.7v13.6m-6.8-6.8h13.6M1838.6 888.9v13.6m-6.8-6.8h13.6M1839 889v13.6m-6.8-6.8h13.6M1839.4 888.6v13.6m-6.8-6.8h13.6M1839.8 889.4v13.6m-6.8-6.8h13.6M1839.9 889.2v13.6m-6.8-6.8h13.6M1841.1 889.4v13.6m-6.8-6.8h13.6M1841.5 889.8v13.6m-6.8-6.8h13.6M1841.6 889.5v13.6m-6.8-6.8h13.6M1841.9 889.7v13.6m-6.8-6.8h13.6M1842.3 890v13.6m-6.8-6.8h13.6M1842.4 889.3v13.6m-6.8-6.8h13.6M1842.9 889.5v13.6m-6.8-6.8h13.6M1843.1 890v13.6m-6.8-6.8h13.6M1843.6 889.9v13.6m-6.8-6.8h13.6M1845.7 890.6v13.6m-6.8-6.8h13.6M1846.1 890.7v13.6m-6.8-6.8h13.6M1846.2 890.8v13.6m-6.8-6.8h13.6M1847.3 891v13.6m-6.8-6.8h13.6M1848.2 891.3v13.6m-6.8-6.8h13.6M1848.4 891.1v13.6m-6.8-6.8h13.6M1848.5 891v13.6m-6.8-6.8h13.6M1848.9 891.1v13.6m-6.8-6.8h13.6M1849 891.2v13.6m-6.8-6.8h13.6M1849.6 891.3v13.6m-6.8-6.8h13.6M1849.7 891.7v13.6m-6.8-6.8h13.6M1849.8 891.7v13.6m-6.8-6.8h13.6M1849.9 891.1v13.6m-6.8-6.8h13.6M1850.7 891.8v13.6m-6.8-6.8h13.6M1851.2 891.8v13.6m-6.8-6.8h13.6M1851.7 891.6v13.6m-6.8-6.8h13.6M1851.8 891.7v13.6m-6.8-6.8h13.6M1852.5 892.1v13.6m-6.8-6.8h13.6M1853.7 892.4v13.6m-6.8-6.8h13.6M1855.8 892.7v13.6m-6.8-6.8h13.6M1856.1 892.7v13.6m-6.8-6.8h13.6M1856.2 892.8v13.6m-6.8-6.8h13.6M1856.4 892.4v13.6m-6.8-6.8h13.6M1857.5 892.8v13.6m-6.8-6.8h13.6M1858.4 893.1v13.6m-6.8-6.8h13.6M1859.4 893.5v13.6m-6.8-6.8h13.6M1861.6 893.8v13.6m-6.8-6.8h13.6M1862.1 893.7v13.6m-6.8-6.8h13.6M1862.2 894v13.6m-6.8-6.8h13.6M1863.3 893.6v13.6m-6.8-6.8h13.6M1863.4 894v13.6m-6.8-6.8h13.6M1863.7 893.7v13.6m-6.8-6.8h13.6M1863.8 894.2v13.6m-6.8-6.8h13.6M1864.3 893.9v13.6m-6.8-6.8h13.6M1864.4 894.1v13.6m-6.8-6.8h13.6M1864.5 894.2v13.6m-6.8-6.8h13.6M1864.6 893.9v13.6m-6.8-6.8h13.6M1864.9 894v13.6m-6.8-6.8h13.6M1865.6 894.4v13.6m-6.8-6.8h13.6M1866.2 893.9v13.6m-6.8-6.8h13.6M1866.3 894v13.6m-6.8-6.8h13.6M1866.8 894.6v13.6m-6.8-6.8h13.6M1867 894.6v13.6m-6.8-6.8h13.6M1867.4 894.5v13.6m-6.8-6.8h13.6M1867.6 894.8v13.6m-6.8-6.8h13.6M1867.7 894.6v13.6m-6.8-6.8h13.6M1867.9 894.9v13.6m-6.8-6.8h13.6M1868.3 895v13.6m-6.8-6.8h13.6M1868.4 894.8v13.6m-6.8-6.8h13.6M1868.9 894.6v13.6m-6.8-6.8h13.6M1869.1 894.8v13.6m-6.8-6.8h13.6M1869.2 894.9v13.6m-6.8-6.8h13.6M1869.5 894.8v13.6m-6.8-6.8h13.6M1870.3 895.1v13.6m-6.8-6.8h13.6M1870.6 895.6v13.6m-6.8-6.8h13.6M1871 895.8v13.6m-6.8-6.8h13.6M1872 895.5v13.6m-6.8-6.8h13.6M1873.2 895.8v13.6m-6.8-6.8h13.6M1873.3 896.5v13.6m-6.8-6.8h13.6M1874.4 896.5v13.6m-6.8-6.8h13.6M1875 896.8v13.6m-6.8-6.8h13.6M1875.3 896.4v13.6m-6.8-6.8h13.6M1875.4 896.6v13.6m-6.8-6.8h13.6M1876.3 897.1v13.6m-6.8-6.8h13.6M1877.3 897.9v13.6m-6.8-6.8h13.6M1877.4 897.9v13.6m-6.8-6.8h13.6M1877.5 897.7v13.6m-6.8-6.8h13.6M1877.9 897.8v13.6m-6.8-6.8h13.6M1878.1 897.9v13.6m-6.8-6.8h13.6M1878.3 897.9v13.6m-6.8-6.8h13.6M1878.7 898.1v13.6m-6.8-6.8h13.6M1879 899v13.6m-6.8-6.8h13.6M1879.3 899v13.6m-6.8-6.8h13.6M1880.2 899.6v13.6m-6.8-6.8h13.6M1880.3 899.2v13.6m-6.8-6.8h13.6M1880.4 899.6v13.6m-6.8-6.8h13.6M1881.2 900.2v13.6m-6.8-6.8h13.6M1881.3 900.3v13.6m-6.8-6.8h13.6M1881.6 900.5v13.6m-6.8-6.8h13.6M1882.4 900.8v13.6m-6.8-6.8h13.6M1883.7 901.7v13.6m-6.8-6.8h13.6M1884.2 902.1v13.6m-6.8-6.8h13.6M1885.3 902.8v13.6m-6.8-6.8h13.6M1885.3 902.4v13.6m-6.8-6.8h13.6M1885.6 902.8v13.6m-6.8-6.8h13.6M1885.8 902.7v13.6m-6.8-6.8h13.6M1886.2 903.2v13.6m-6.8-6.8h13.6M1886.5 903.2v13.6m-6.8-6.8h13.6M1887.5 903.6v13.6m-6.8-6.8h13.6M1888.7 904.7v13.6m-6.8-6.8h13.6M1889.2 904.6v13.6m-6.8-6.8h13.6M1889.6 904.7v13.6m-6.8-6.8h13.6M1890.5 905.3v13.6m-6.8-6.8h13.6M1890.8 905.4v13.6m-6.8-6.8h13.6M1891.5 905.2v13.6m-6.8-6.8h13.6M1891.8 905.2v13.6m-6.8-6.8h13.6M1891.9 905.2v13.6m-6.8-6.8h13.6M1893.3 905.9v13.6m-6.8-6.8h13.6M1894 906.3v13.6m-6.8-6.8h13.6M1894.1 906.1v13.6m-6.8-6.8h13.6M1894.5 906.4v13.6m-6.8-6.8h13.6M1894.9 906.3v13.6m-6.8-6.8h13.6M1895.2 906.5v13.6m-6.8-6.8h13.6M1895.5 906.6v13.6m-6.8-6.8h13.6M1896 907.2v13.6m-6.8-6.8h13.6M1896.6 906.8v13.6m-6.8-6.8h13.6M1896.7 907.3v13.6m-6.8-6.8h13.6M1896.9 907.4v13.6m-6.8-6.8h13.6M1897.5 907.8v13.6m-6.8-6.8h13.6M1898.8 907.6v13.6m-6.8-6.8h13.6M1899.3 907.5v13.6m-6.8-6.8h13.6M1899.6 908.2v13.6m-6.8-6.8h13.6M1900.3 907.9v13.6m-6.8-6.8h13.6M1900.9 908.5v13.6m-6.8-6.8h13.6M1901.1 908v13.6m-6.8-6.8h13.6M1902 908.6v13.6m-6.8-6.8h13.6M1902.7 908.7v13.6m-6.8-6.8h13.6M1903.5 908.8v13.6m-6.8-6.8h13.6M1904 908.8v13.6m-6.8-6.8h13.6M1904.3 908.7v13.6m-6.8-6.8h13.6M1904.6 908.6v13.6m-6.8-6.8h13.6M1904.7 909.2v13.6m-6.8-6.8h13.6M1905.1 908.7v13.6m-6.8-6.8h13.6M1905.2 908.6v13.6m-6.8-6.8h13.6M1906.4 908.9v13.6m-6.8-6.8h13.6M1907.3 909.6v13.6m-6.8-6.8h13.6M1908.6 909.1v13.6m-6.8-6.8h13.6M1908.8 909.6v13.6m-6.8-6.8h13.6M1908.9 909.3v13.6m-6.8-6.8h13.6M1909 909.7v13.6m-6.8-6.8h13.6M1910 909.7v13.6m-6.8-6.8h13.6M1910.1 909.4v13.6m-6.8-6.8h13.6M1910.4 909.6v13.6m-6.8-6.8h13.6M1910.6 909.4v13.6m-6.8-6.8h13.6M1910.8 909.6v13.6m-6.8-6.8h13.6M1911.1 909.5v13.6m-6.8-6.8h13.6M1911.4 909.7v13.6m-6.8-6.8h13.6M1911.6 909.4v13.6m-6.8-6.8h13.6"/>
<path class="cr" d="M1572.3 664.4L1579.5 666.5L1587.8 670.6L1595.5 680.9L1602.2 691.2L1608.4 701.5L1614 711.8L1620.2 722.1L1626.4 732.4L1634.1 742.7L1640.3 753L1648.6 763.3L1656.8 773.6L1667.1 784L1677.9 794.3L1687.7 802.5L1696 807.7L1706.3 814.9L1716.6 820L1722 824.2L1732.3 830.2L1742.6 836.6L1752.9 841.7L1763.2 844.8L1773.5 849.8L1783.8 853.9L1794.1 859.9L1804.4 863.4L1814.7 869.1L1825 870.9L1835.3 871.9L1845.6 876.8L1856 880.5L1866.3 885.8L1876.6 888.1L1886.9 893.6L1897.2 897.2L1907.5 900.5L1911.6 900.3"/>
<path class="mr" d="M1572.3 657.5v13.6m-6.8-6.8h13.6M1572.5 657.4v13.6m-6.8-6.8h13.6M1573.9 658.2v13.6m-6.8-6.8h13.6M1574.6 658.3v13.6m-6.8-6.8h13.6M1574.9 658.6v13.6m-6.8-6.8h13.6M1575.4 658.7v13.6m-6.8-6.8h13.6M1576.1 659v13.6m-6.8-6.8h13.6M1576.4 658.5v13.6m-6.8-6.8h13.6M1576.5 659v13.6m-6.8-6.8h13.6M1576.6 659v13.6m-6.8-6.8h13.6M1577.2 658.7v13.6m-6.8-6.8h13.6M1578.1 658.9v13.6m-6.8-6.8h13.6M1579.3 659.9v13.6m-6.8-6.8h13.6M1579.5 659.9v13.6m-6.8-6.8h13.6M1580.2 659.7v13.6m-6.8-6.8h13.6M1580.8 660v13.6m-6.8-6.8h13.6M1582.2 661.2v13.6m-6.8-6.8h13.6M1584.1 661.6v13.6m-6.8-6.8h13.6M1584.3 662.2v13.6m-6.8-6.8h13.6M1584.8 662.1v13.6m-6.8-6.8h13.6M1586 663.2v13.6m-6.8-6.8h13.6M1586.2 662.8v13.6m-6.8-6.8h13.6M1586.9 663.3v13.6m-6.8-6.8h13.6M1587.5 663.7v13.6m-6.8-6.8h13.6M1587.7 663.4v13.6m-6.8-6.8h13.6M1587.8 663.8v13.6m-6.8-6.8h13.6M1588.3 664.5v13.6m-6.8-6.8h13.6M1588.8 665.2v13.6m-6.8-6.8h13.6M1589.6 666.4v13.6m-6.8-6.8h13.6M1589.7 666.1v13.6m-6.8-6.8h13.6M1589.8 666.1v13.6m-6.8-6.8h13.6M1590.5 667.8v13.6m-6.8-6.8h13.6M1591 667.9v13.6m-6.8-6.8h13.6M1591.4 668.4v13.6m-6.8-6.8h13.6M1592.3 669.9v13.6m-6.8-6.8h13.6M1592.8 670.6v13.6m-6.8-6.8h13.6M1593 671v13.6m-6.8-6.8h13.6M1594.2 672.2v13.6m-6.8-6.8h13.6M1594.4 672.9v13.6m-6.8-6.8h13.6M1594.8 673.2v13.6m-6.8-6.8h13.6M1595.1 673.9v13.6m-6.8-6.8h13.6M1595.2 673.5v13.6m-6.8-6.8h13.6M1595.6 674.1v13.6m-6.8-6.8h13.6M1596.4 675.3v13.6m-6.8-6.8h13.6M1597.8 677.6v13.6m-6.8-6.8h13.6M1599.6 680.7v13.6m-6.8-6.8h13.6M1601 682.3v13.6m-6.8-6.8h13.6M1601.1 682.4v13.6m-6.8-6.8h13.6M1601.4 683.3v13.6m-6.8-6.8h13.6M1601.5 683.2v13.6m-6.8-6.8h13.6M1602.5 684.6v13.6m-6.8-6.8h13.6M1602.9 685.4v13.6m-6.8-6.8h13.6M1604.2 687.5v13.6m-6.8-6.8h13.6M1608.5 695v13.6m-6.8-6.8h13.6M1610 697.7v13.6m-6.8-6.8h13.6M1610.9 699.6v13.6m-6.8-6.8h13.6M1613.7 704.6v13.6m-6.8-6.8h13.6M1613.9 704.8v13.6m-6.8-6.8h13.6M1617.6 711.1v13.6m-6.8-6.8h13.6M1618.5 712.5v13.6m-6.8-6.8h13.6M1618.7 713v13.6m-6.8-6.8h13.6M1620.5 715.4v13.6m-6.8-6.8h13.6M1621.2 717.1v13.6m-6.8-6.8h13.6M1621.7 717.9v13.6m-6.8-6.8h13.6M1624.2 722.3v13.6m-6.8-6.8h13.6M1624.5 722.1v13.6m-6.8-6.8h13.6M1625.8 724.8v13.6m-6.8-6.8h13.6M1626.6 726.2v13.6m-6.8-6.8h13.6M1626.7 726.1v13.6m-6.8-6.8h13.6M1626.8 726.4v13.6m-6.8-6.8h13.6M1627.3 726.6v13.6m-6.8-6.8h13.6M1627.5 727.2v13.6m-6.8-6.8h13.6M1627.6 727v13.6m-6.8-6.8h13.6M1627.9 727.2v13.6m-6.8-6.8h13.6M1628.1 728.3v13.6m-6.8-6.8h13.6M1628.8 728.4v13.6m-6.8-6.8h13.6M1629.4 729.8v13.6m-6.8-6.8h13.6M1629.9 729.9v13.6m-6.8-6.8h13.6M1630.4 730.7v13.6m-6.8-6.8h13.6M1631 731.6v13.6m-6.8-6.8h13.6M1631.2 731.7v13.6m-6.8-6.8h13.6M1631.9 732.8v13.6m-6.8-6.8h13.6M1632.7 734v13.6m-6.8-6.8h13.6M1632.8 734.2v13.6m-6.8-6.8h13.6M1633 734.1v13.6m-6.8-6.8h13.6M1633.7 735.2v13.6m-6.8-6.8h13.6M1633.7 735.6v13.6m-6.8-6.8h13.6M1634.2 736v13.6m-6.8-6.8h13.6M1634.3 736.2v13.6m-6.8-6.8h13.6M1634.6 736.8v13.6m-6.8-6.8h13.6M1634.8 737.1v13.6m-6.8-6.8h13.6M1635.2 737.4v13.6m-6.8-6.8h13.6M1635.2 737.8v13.6m-6.8-6.8h13.6M1635.7 738.8v13.6m-6.8-6.8h13.6M1636.3 739.5v13.6m-6.8-6.8h13.6M1636.7 739.9v13.6m-6.8-6.8h13.6M1636.9 740.1v13.6m-6.8-6.8h13.6M1637.4 741.8v13.6m-6.8-6.8h13.6M1637.8 742.2v13.6m-6.8-6.8h13.6M1637.9 742.5v13.6m-6.8-6.8h13.6M1638 742.3v13.6m-6.8-6.8h13.6M1638.1 742.9v13.6m-6.8-6.8h13.6M1638.2 742.4v13.6m-6.8-6.8h13.6M1638.2 743v13.6m-6.8-6.8h13.6M1638.4 743.3v13.6m-6.8-6.8h13.6M1638.5 743.4v13.6m-6.8-6.8h13.6M1638.5 743.6v13.6m-6.8-6.8h13.6M1639.7 745.5v13.6m-6.8-6.8h13.6M1640 746.1v13.6m-6.8-6.8h13.6M1640.9 747.4v13.6m-6.8-6.8h13.6M1641.1 747.4v13.6m-6.8-6.8h13.6M1641.6 747.8v13.6m-6.8-6.8h13.6M1641.7 748.3v13.6m-6.8-6.8h13.6M1642 748.3v13.6m-6.8-6.8h13.6M1642.8 749.3v13.6m-6.8-6.8h13.6M1642.9 749.6v13.6m-6.8-6.8h13.6M1643.2 749.7v13.6m-6.8-6.8h13.6M1643.7 750.8v13.6m-6.8-6.8h13.6M1643.8 750.8v13.6m-6.8-6.8h13.6M1644.3 751.3v13.6m-6.8-6.8h13.6M1644.4 751.5v13.6m-6.8-6.8h13.6M1644.5 751.3v13.6m-6.8-6.8h13.6M1645.3 752.3v13.6m-6.8-6.8h13.6M1645.3 752.8v13.6m-6.8-6.8h13.6M1646.7 754v13.6m-6.8-6.8h13.6M1646.9 754.5v13.6m-6.8-6.8h13.6M1647.4 754.7v13.6m-6.8-6.8h13.6M1647.8 755.4v13.6m-6.8-6.8h13.6M1648.9 756.9v13.6m-6.8-6.8h13.6M1650 758.3v13.6m-6.8-6.8h13.6M1650.4 758.5v13.6m-6.8-6.8h13.6M1650.5 758.8v13.6m-6.8-6.8h13.6M1650.6 758.9v13.6m-6.8-6.8h13.6M1650.9 759.1v13.6m-6.8-6.8h13.6M1651.2 760.2v13.6m-6.8-6.8h13.6M1651.9 760.9v13.6m-6.8-6.8h13.6M1653.3 762.7v13.6m-6.8-6.8h13.6M1653.7 762.9v13.6m-6.8-6.8h13.6M1653.7 763.3v13.6m-6.8-6.8h13.6M1654.6 764.4v13.6m-6.8-6.8h13.6M1655.1 764.9v13.6m-6.8-6.8h13.6M1656.3 766.6v13.6m-6.8-6.8h13.6M1656.9 766.5v13.6m-6.8-6.8h13.6M1658.2 768.3v13.6m-6.8-6.8h13.6M1658.4 768.4v13.6m-6.8-6.8h13.6M1658.6 768.3v13.6m-6.8-6.8h13.6M1659 769.1v13.6m-6.8-6.8h13.6M1659.1 769.5v13.6m-6.8-6.8h13.6M1660.1 770.4v13.6m-6.8-6.8h13.6M1660.4 770.4v13.6m-6.8-6.8h13.6M1660.7 770.7v13.6m-6.8-6.8h13.6M1662.1 772.5v13.6m-6.8-6.8h13.6M1663.1 773.1v13.6m-6.8-6.8h13.6M1663.4 773.6v13.6m-6.8-6.8h13.6M1663.5 773.3v13.6m-6.8-6.8h13.6M1665.1 774.9v13.6m-6.8-6.8h13.6M1665.2 775.3v13.6m-6.8-6.8h13.6M1665.3 775.3v13.6m-6.8-6.8h13.6M1665.4 775.7v13.6m-6.8-6.8h13.6M1665.4 775.7v13.6m-6.8-6.8h13.6M1665.6 775.8v13.6m-6.8-6.8h13.6M1666.3 776.7v13.6m-6.8-6.8h13.6M1666.3 776.8v13.6m-6.8-6.8h13.6M1666.4 776.3v13.6m-6.8-6.8h13.6M1666.5 776.5v13.6m-6.8-6.8h13.6M1666.5 776.6v13.6m-6.8-6.8h13.6M1667.7 778v13.6m-6.8-6.8h13.6M1668.2 777.9v13.6m-6.8-6.8h13.6M1669.8 779.6v13.6m-6.8-6.8h13.6M1671.1 780.7v13.6m-6.8-6.8h13.6M1671.3 781.5v13.6m-6.8-6.8h13.6M1671.9 781.5v13.6m-6.8-6.8h13.6M1672.2 782v13.6m-6.8-6.8h13.6M1672.3 781.9v13.6m-6.8-6.8h13.6M1672.4 782.2v13.6m-6.8-6.8h13.6M1672.6 782.3v13.6m-6.8-6.8h13.6M1672.9 782.6v13.6m-6.8-6.8h13.6M1673.1 783.1v13.6m-6.8-6.8h13.6M1673.2 782.6v13.6m-6.8-6.8h13.6M1673.5 783v13.6m-6.8-6.8h13.6M1673.8 783.8v13.6m-6.8-6.8h13.6M1675.1 785v13.6m-6.8-6.8h13.6M1676.2 785.6v13.6m-6.8-6.8h13.6M1676.4 785.7v13.6m-6.8-6.8h13.6M1676.6 786v13.6m-6.8-6.8h13.6M1676.7 786.1v13.6m-6.8-6.8h13.6M1677.9 787.5v13.6m-6.8-6.8h13.6M1679 788.4v13.6m-6.8-6.8h13.6M1679.7 789.1v13.6m-6.8-6.8h13.6M1680.1 789.6v13.6m-6.8-6.8h13.6M1680.5 789.7v13.6m-6.8-6.8h13.6M1680.7 789.4v13.6m-6.8-6.8h13.6M1680.9 789.9v13.6m-6.8-6.8h13.6M1681 790.4v13.6m-6.8-6.8h13.6M1681.1 790.1v13.6m-6.8-6.8h13.6M1681.2 790.2v13.6m-6.8-6.8h13.6M1682.1 791.3v13.6m-6.8-6.8h13.6M1682.3 791.3v13.6m-6.8-6.8h13.6M1683.4 791.9v13.6m-6.8-6.8h13.6M1683.6 792.2v13.6m-6.8-6.8h13.6M1684.5 792.8v13.6m-6.8-6.8h13.6M1685.5 793.6v13.6m-6.8-6.8h13.6M1686.1 794.4v13.6m-6.8-6.8h13.6M1686.2 794.3v13.6m-6.8-6.8h13.6M1687 795v13.6m-6.8-6.8h13.6M1687.1 795.1v13.6m-6.8-6.8h13.6M1687.5 795.5v13.6m-6.8-6.8h13.6M1687.7 796.1v13.6m-6.8-6.8h13.6M1688.3 796v13.6m-6.8-6.8h13.6M1688.6 796.5v13.6m-6.8-6.8h13.6M1688.8 796.3v13.6m-6.8-6.8h13.6M1689.5 796.5v13.6m-6.8-6.8h13.6M1689.6 796.5v13.6m-6.8-6.8h13.6M1690.2 797.5v13.6m-6.8-6.8h13.6M1690.7 797.7v13.6m-6.8-6.8h13.6M1690.8 797.5v13.6m-6.8-6.8h13.6M1691.1 797.7v13.6m-6.8-6.8h13.6M1691.3 797.8v13.6m-6.8-6.8h13.6M1691.4 797.7v13.6m-6.8-6.8h13.6M1691.9 797.9v13.6m-6.8-6.8h13.6M1692.2 798.4v13.6m-6.8-6.8h13.6M1693 799.2v13.6m-6.8-6.8h13.6M1693.4 798.8v13.6m-6.8-6.8h13.6M1694 799.8v13.6m-6.8-6.8h13.6M1694.6 800.4v13.6m-6.8-6.8h13.6M1694.9 800.1v13.6m-6.8-6.8h13.6M1695.3 800.1v13.6m-6.8-6.8h13.6M1695.8 800.5v13.6m-6.8-6.8h13.6M1696.4 801.3v13.6m-6.8-6.8h13.6M1697 801.3v13.6m-6.8-6.8h13.6M1697.6 802.4v13.6m-6.8-6.8h13.6M1699.4 803.5v13.6m-6.8-6.8h13.6M1699.5 803.5v13.6m-6.8-6.8h13.6M1699.6 803.8v13.6m-6.8-6.8h13.6M1699.7 803.1v13.6m-6.8-6.8h13.6M1699.9 803.3v13.6m-6.8-6.8h13.6M1701.5 805.1v13.6m-6.8-6.8h13.6M1701.6 805.1v13.6m-6.8-6.8h13.6M1701.8 805.2v13.6m-6.8-6.8h13.6M1701.9 805.4v13.6m-6.8-6.8h13.6M1702.2 805v13.6m-6.8-6.8h13.6M1702.5 805v13.6m-6.8-6.8h13.6M1702.6 805.5v13.6m-6.8-6.8h13.6M1703.1 806.2v13.6m-6.8-6.8h13.6M1703.4 806v13.6m-6.8-6.8h13.6M1703.6 805.8v13.6m-6.8-6.8h13.6M1704.8 807.2v13.6m-6.8-6.8h13.6M1705 807.4v13.6m-6.8-6.8h13.6M1705.6 807.7v13.6m-6.8-6.8h13.6M1705.9 808.1v13.6m-6.8-6.8h13.6M1707.3 808.8v13.6m-6.8-6.8h13.6M1707.4 808.6v13.6m-6.8-6.8h13.6M1708 809.3v13.6m-6.8-6.8h13.6M1708.4 809.1v13.6m-6.8-6.8h13.6M1708.5 808.8v13.6m-6.8-6.8h13.6M1708.6 809.4v13.6m-6.8-6.8h13.6M1708.8 809.5v13.6m-6.8-6.8h13.6M1709.3 809.4v13.6m-6.8-6.8h13.6M1709.8 810.1v13.6m-6.8-6.8h13.6M1709.8 810v13.6m-6.8-6.8h13.6M1710.6 810.6v13.6m-6.8-6.8h13.6M1710.8 810.5v13.6m-6.8-6.8h13.6M1711.7 810.7v13.6m-6.8-6.8h13.6M1712.6 811.4v13.6m-6.8-6.8h13.6M1714.3 812v13.6m-6.8-6.8h13.6M1714.3 812.1v13.6m-6.8-6.8h13.6M1715 812.7v13.6m-6.8-6.8h13.6M1715.7 812.8v13.6m-6.8-6.8h13.6M1716.8 813.7v13.6m-6.8-6.8h13.6M1717.3 813.6v13.6m-6.8-6.8h13.6M1717.3 813.9v13.6m-6.8-6.8h13.6M1717.4 813.7v13.6m-6.8-6.8h13.6M1719.1 815v13.6m-6.8-6.8h13.6M1719.7 815.8v13.6m-6.8-6.8h13.6M1719.9 815.9v13.6m-6.8-6.8h13.6M1720.9 816.8v13.6m-6.8-6.8h13.6M1721.1 817.1v13.6m-6.8-6.8h13.6M1721.7 817v13.6m-6.8-6.8h13.6M1722.6 818v13.6m-6.8-6.8h13.6M1723.7 818.7v13.6m-6.8-6.8h13.6M1724.5 818.8v13.6m-6.8-6.8h13.6M1725.3 819.5v13.6m-6.8-6.8h13.6M1726.2 819.6v13.6m-6.8-6.8h13.6M1728.1 821v13.6m-6.8-6.8h13.6M1729.4 821.7v13.6m-6.8-6.8h13.6M1730.2 822.2v13.6m-6.8-6.8h13.6M1730.4 822.3v13.6m-6.8-6.8h13.6M1731.3 822.6v13.6m-6.8-6.8h13.6M1732.7 823.8v13.6m-6.8-6.8h13.6M1733.5 824.1v13.6m-6.8-6.8h13.6M1734.1 824.6v13.6m-6.8-6.8h13.6M1734.4 824.3v13.6m-6.8-6.8h13.6M1734.9 825.1v13.6m-6.8-6.8h13.6M1735.3 825.2v13.6m-6.8-6.8h13.6M1735.7 825.2v13.6m-6.8-6.8h13.6M1736.3 825.5v13.6m-6.8-6.8h13.6M1736.3 825.5v13.6m-6.8-6.8h13.6M1737.9 827.2v13.6m-6.8-6.8h13.6M1738.5 827.5v13.6m-6.8-6.8h13.6M1738.6 827.4v13.6m-6.8-6.8h13.6M1738.9 827.2v13.6m-6.8-6.8h13.6M1739.4 827.5v13.6m-6.8-6.8h13.6M1739.5 827.6v13.6m-6.8-6.8h13.6M1739.7 828.3v13.6m-6.8-6.8h13.6M1740.1 828.2v13.6m-6.8-6.8h13.6M1740.1 828v13.6m-6.8-6.8h13.6M1740.2 828.5v13.6m-6.8-6.8h13.6M1740.7 828.8v13.6m-6.8-6.8h13.6M1741.1 828.7v13.6m-6.8-6.8h13.6M1741.4 828.9v13.6m-6.8-6.8h13.6M1742.8 830v13.6m-6.8-6.8h13.6M1743.8 830.5v13.6m-6.8-6.8h13.6M1745.6 831.5v13.6m-6.8-6.8h13.6M1745.7 831v13.6m-6.8-6.8h13.6M1745.8 831.7v13.6m-6.8-6.8h13.6M1745.9 831.4v13.6m-6.8-6.8h13.6M1746.4 831.4v13.6m-6.8-6.8h13.6M1746.6 832.1v13.6m-6.8-6.8h13.6M1746.7 832.1v13.6m-6.8-6.8h13.6M1747 832.1v13.6m-6.8-6.8h13.6M1747.3 832.3v13.6m-6.8-6.8h13.6M1748 832.4v13.6m-6.8-6.8h13.6M1748.2 832.5v13.6m-6.8-6.8h13.6M1748.9 832.5v13.6m-6.8-6.8h13.6M1749.1 832.9v13.6m-6.8-6.8h13.6M1749.7 833.3v13.6m-6.8-6.8h13.6M1749.9 833.7v13.6m-6.8-6.8h13.6M1750.3 834v13.6m-6.8-6.8h13.6M1750.6 834.1v13.6m-6.8-6.8h13.6M1751.1 833.9v13.6m-6.8-6.8h13.6M1751.2 834.3v13.6m-6.8-6.8h13.6M1751.3 834.4v13.6m-6.8-6.8h13.6M1752.2 834.3v13.6m-6.8-6.8h13.6M1752.9 835.1v13.6m-6.8-6.8h13.6M1753 835.2v13.6m-6.8-6.8h13.6M1754.8 835.4v13.6m-6.8-6.8h13.6M1755.2 835.6v13.6m-6.8-6.8h13.6M1755.4 835.4v13.6m-6.8-6.8h13.6M1756.1 836.2v13.6m-6.8-6.8h13.6M1756.1 835.5v13.6m-6.8-6.8h13.6M1756.6 835.8v13.6m-6.8-6.8h13.6M1757.8 836.2v13.6m-6.8-6.8h13.6M1757.9 836.3v13.6m-6.8-6.8h13.6M1758.2 836.5v13.6m-6.8-6.8h13.6M1758.5 836.4v13.6m-6.8-6.8h13.6M1760.5 836.8v13.6m-6.8-6.8h13.6M1760.6 837.5v13.6m-6.8-6.8h13.6M1760.8 837.1v13.6m-6.8-6.8h13.6M1761.1 837.5v13.6m-6.8-6.8h13.6M1762.1 837.9v13.6m-6.8-6.8h13.6M1762.2 838.1v13.6m-6.8-6.8h13.6M1762.3 838v13.6m-6.8-6.8h13.6M1763.5 837.8v13.6m-6.8-6.8h13.6M1763.7 838v13.6m-6.8-6.8h13.6M1764.1 838.7v13.6m-6.8-6.8h13.6M1765 839.1v13.6m-6.8-6.8h13.6M1765.1 838.7v13.6m-6.8-6.8h13.6M1766.5 839.8v13.6m-6.8-6.8h13.6M1767.3 839.7v13.6m-6.8-6.8h13.6M1767.4 840v13.6m-6.8-6.8h13.6M1767.9 840v13.6m-6.8-6.8h13.6M1769.1 840.9v13.6m-6.8-6.8h13.6M1770.6 841.9v13.6m-6.8-6.8h13.6M1770.9 841.5v13.6m-6.8-6.8h13.6M1771.9 842.2v13.6m-6.8-6.8h13.6M1772.4 842.6v13.6m-6.8-6.8h13.6M1774.4 843.3v13.6m-6.8-6.8h13.6M1774.7 843.7v13.6m-6.8-6.8h13.6M1774.8 843.4v13.6m-6.8-6.8h13.6M1774.9 843.6v13.6m-6.8-6.8h13.6M1775.9 843.9v13.6m-6.8-6.8h13.6M1776.1 843.7v13.6m-6.8-6.8h13.6M1777.4 844.6v13.6m-6.8-6.8h13.6M1779 845v13.6m-6.8-6.8h13.6M1779.2 845v13.6m-6.8-6.8h13.6M1779.8 845.5v13.6m-6.8-6.8h13.6M1780.9 846v13.6m-6.8-6.8h13.6M1781.1 845.7v13.6m-6.8-6.8h13.6M1782 846.7v13.6m-6.8-6.8h13.6M1782.2 846.3v13.6m-6.8-6.8h13.6M1782.7 846.5v13.6m-6.8-6.8h13.6M1783.4 846.9v13.6m-6.8-6.8h13.6M1783.8 847v13.6m-6.8-6.8h13.6M1784 847.5v13.6m-6.8-6.8h13.6M1785.5 847.8v13.6m-6.8-6.8h13.6M1785.8 848.4v13.6m-6.8-6.8h13.6M1786 848.3v13.6m-6.8-6.8h13.6M1786.5 848.4v13.6m-6.8-6.8h13.6M1786.7 848.9v13.6m-6.8-6.8h13.6M1788.2 849.3v13.6m-6.8-6.8h13.6M1789.3 850v13.6m-6.8-6.8h13.6M1789.9 850.3v13.6m-6.8-6.8h13.6M1790.3 850.6v13.6m-6.8-6.8h13.6M1791.2 851v13.6m-6.8-6.8h13.6M1791.6 852v13.6m-6.8-6.8h13.6M1792 851.8v13.6m-6.8-6.8h13.6M1792.6 852.4v13.6m-6.8-6.8h13.6M1793.2 852.5v13.6m-6.8-6.8h13.6M1793.3 852.8v13.6m-6.8-6.8h13.6M1793.7 853.2v13.6m-6.8-6.8h13.6M1793.9 852.8v13.6m-6.8-6.8h13.6M1794.3 853.5v13.6m-6.8-6.8h13.6M1795.2 853.2v13.6m-6.8-6.8h13.6M1795.8 853.9v13.6m-6.8-6.8h13.6M1795.9 853.9v13.6m-6.8-6.8h13.6M1796.3 854.1v13.6m-6.8-6.8h13.6M1797.1 854v13.6m-6.8-6.8h13.6M1797.2 854v13.6m-6.8-6.8h13.6M1797.5 854v13.6m-6.8-6.8h13.6M1798.2 854.7v13.6m-6.8-6.8h13.6M1798.5 854.2v13.6m-6.8-6.8h13.6M1799 854.6v13.6m-6.8-6.8h13.6M1799.1 854.4v13.6m-6.8-6.8h13.6M1799.4 854.5v13.6m-6.8-6.8h13.6M1799.5 855.2v13.6m-6.8-6.8h13.6M1799.9 854.8v13.6m-6.8-6.8h13.6M1800 854.9v13.6m-6.8-6.8h13.6M1800.2 855.5v13.6m-6.8-6.8h13.6M1800.4 855.5v13.6m-6.8-6.8h13.6M1800.8 855.6v13.6m-6.8-6.8h13.6M1801.2 855.8v13.6m-6.8-6.8h13.6M1803.1 856.2v13.6m-6.8-6.8h13.6M1803.4 856v13.6m-6.8-6.8h13.6M1803.5 856v13.6m-6.8-6.8h13.6M1804 856.4v13.6m-6.8-6.8h13.6M1804.5 857v13.6m-6.8-6.8h13.6M1805.2 857.3v13.6m-6.8-6.8h13.6M1806 857.2v13.6m-6.8-6.8h13.6M1806.1 857.6v13.6m-6.8-6.8h13.6M1806.1 857.6v13.6m-6.8-6.8h13.6M1806.2 857.6v13.6m-6.8-6.8h13.6M1806.6 857.8v13.6m-6.8-6.8h13.6M1807.5 858.5v13.6m-6.8-6.8h13.6M1807.7 858.4v13.6m-6.8-6.8h13.6M1808 858.4v13.6m-6.8-6.8h13.6M1808.1 858.4v13.6m-6.8-6.8h13.6M1808.6 858.6v13.6m-6.8-6.8h13.6M1808.9 859.1v13.6m-6.8-6.8h13.6M1809.3 859.4v13.6m-6.8-6.8h13.6M1810.1 859.8v13.6m-6.8-6.8h13.6M1810.2 859.6v13.6m-6.8-6.8h13.6M1811.7 860.6v13.6m-6.8-6.8h13.6M1812.1 860.6v13.6m-6.8-6.8h13.6M1812.6 861v13.6m-6.8-6.8h13.6M1813 861.4v13.6m-6.8-6.8h13.6M1814.4 862.3v13.6m-6.8-6.8h13.6M1815.8 862.8v13.6m-6.8-6.8h13.6M1815.9 862.6v13.6m-6.8-6.8h13.6M1816.1 862.4v13.6m-6.8-6.8h13.6M1816.5 862.7v13.6m-6.8-6.8h13.6M1817.1 862.7v13.6m-6.8-6.8h13.6M1817.2 863.1v13.6m-6.8-6.8h13.6M1817.2 863.1v13.6m-6.8-6.8h13.6M1819.4 863.3v13.6m-6.8-6.8h13.6M1819.5 863.3v13.6m-6.8-6.8h13.6M1819.8 863.1v13.6m-6.8-6.8h13.6M1820.9 863.6v13.6m-6.8-6.8h13.6M1821 863.8v13.6m-6.8-6.8h13.6M1821.3 863.3v13.6m-6.8-6.8h13.6M1821.6 863.3v13.6m-6.8-6.8h13.6M1822 863.8v13.6m-6.8-6.8h13.6M1824.1 864.2v13.6m-6.8-6.8h13.6M1824.7 864v13.6m-6.8-6.8h13.6M1825.1 863.8v13.6m-6.8-6.8h13.6M1825.3 863.8v13.6m-6.8-6.8h13.6M1826.2 863.9v13.6m-6.8-6.8h13.6M1826.4 864.2v13.6m-6.8-6.8h13.6M1827.4 864v13.6m-6.8-6.8h13.6M1828.3 864.2v13.6m-6.8-6.8h13.6M1828.6 864.4v13.6m-6.8-6.8h13.6M1830.7 865.1v13.6m-6.8-6.8h13.6M1830.9 864.8v13.6m-6.8-6.8h13.6M1831.2 864.6v13.6m-6.8-6.8h13.6M1832.2 864.9v13.6m-6.8-6.8h13.6M1832.7 864.7v13.6m-6.8-6.8h13.6M1833 864.9v13.6m-6.8-6.8h13.6M1834.1 864.8v13.6m-6.8-6.8h13.6M1834.6 865.3v13.6m-6.8-6.8h13.6M1834.7 864.8v13.6m-6.8-6.8h13.6M1835.5 864.9v13.6m-6.8-6.8h13.6M1837.2 865.9v13.6m-6.8-6.8h13.6M1837.7 865.9v13.6m-6.8-6.8h13.6M1838.1 866.4v13.6m-6.8-6.8h13.6M1838.9 866.9v13.6m-6.8-6.8h13.6M1839 866.5v13.6m-6.8-6.8h13.6M1839.2 867v13.6m-6.8-6.8h13.6M1839.3 866.7v13.6m-6.8-6.8h13.6M1839.5 866.9v13.6m-6.8-6.8h13.6M1840 867.1v13.6m-6.8-6.8h13.6M1840.2 867.6v13.6m-6.8-6.8h13.6M1840.7 867.8v13.6m-6.8-6.8h13.6M1840.8 867.8v13.6m-6.8-6.8h13.6M1841.1 867.8v13.6m-6.8-6.8h13.6M1841.2 868.1v13.6m-6.8-6.8h13.6M1842.1 868.3v13.6m-6.8-6.8h13.6M1842.4 868.2v13.6m-6.8-6.8h13.6M1842.8 868.5v13.6m-6.8-6.8h13.6M1843.1 868.9v13.6m-6.8-6.8h13.6M1844.2 869.6v13.6m-6.8-6.8h13.6M1844.3 869.5v13.6m-6.8-6.8h13.6M1844.5 869.1v13.6m-6.8-6.8h13.6M1844.9 869.9v13.6m-6.8-6.8h13.6M1845.2 869.6v13.6m-6.8-6.8h13.6M1845.6 870v13.6m-6.8-6.8h13.6M1847 870.8v13.6m-6.8-6.8h13.6M1849.1 870.9v13.6m-6.8-6.8h13.6M1849.8 871.5v13.6m-6.8-6.8h13.6M1850.4 871.9v13.6m-6.8-6.8h13.6M1850.6 871.3v13.6m-6.8-6.8h13.6M1850.7 872.2v13.6m-6.8-6.8h13.6M1852.3 872.3v13.6m-6.8-6.8h13.6M1852.4 872.6v13.6m-6.8-6.8h13.6M1852.6 872.8v13.6m-6.8-6.8h13.6M1853 872.4v13.6m-6.8-6.8h13.6M1853.1 872.4v13.6m-6.8-6.8h13.6M1853.3 872.6v13.6m-6.8-6.8h13.6M1854.1 873.3v13.6m-6.8-6.8h13.6M1854.7 873.2v13.6m-6.8-6.8h13.6M1855.4 873.1v13.6m-6.8-6.8h13.6M1855.8 873.7v13.6m-6.8-6.8h13.6M1856.4 873.7v13.6m-6.8-6.8h13.6M1857.5 874.3v13.6m-6.8-6.8h13.6M1857.8 874.3v13.6m-6.8-6.8h13.6M1858.2 874.4v13.6m-6.8-6.8h13.6M1858.6 874.8v13.6m-6.8-6.8h13.6M1860.3 875.9v13.6m-6.8-6.8h13.6M1860.4 876.1v13.6m-6.8-6.8h13.6M1860.5 876.1v13.6m-6.8-6.8h13.6M1860.8 876.6v13.6m-6.8-6.8h13.6M1861.6 876.9v13.6m-6.8-6.8h13.6M1863.5 877.7v13.6m-6.8-6.8h13.6M1864.1 878.1v13.6m-6.8-6.8h13.6M1865.1 878.7v13.6m-6.8-6.8h13.6M1866.2 879.3v13.6m-6.8-6.8h13.6M1867.9 879.1v13.6m-6.8-6.8h13.6M1868.8 879.8v13.6m-6.8-6.8h13.6M1870.1 879.8v13.6m-6.8-6.8h13.6M1871 879.7v13.6m-6.8-6.8h13.6M1871.3 879.9v13.6m-6.8-6.8h13.6M1871.5 879.8v13.6m-6.8-6.8h13.6M1871.9 880v13.6m-6.8-6.8h13.6M1872 880.4v13.6m-6.8-6.8h13.6M1872.9 880.4v13.6m-6.8-6.8h13.6M1873 880.8v13.6m-6.8-6.8h13.6M1873.3 880.5v13.6m-6.8-6.8h13.6M1874.7 880.6v13.6m-6.8-6.8h13.6M1875.3 880.9v13.6m-6.8-6.8h13.6M1875.9 881.1v13.6m-6.8-6.8h13.6M1876 881.5v13.6m-6.8-6.8h13.6M1876.5 881v13.6m-6.8-6.8h13.6M1876.8 881.5v13.6m-6.8-6.8h13.6M1878.2 882v13.6m-6.8-6.8h13.6M1878.3 882.2v13.6m-6.8-6.8h13.6M1879.3 882.4v13.6m-6.8-6.8h13.6M1880.7 883.5v13.6m-6.8-6.8h13.6M1881 883.8v13.6m-6.8-6.8h13.6M1881.8 884.2v13.6m-6.8-6.8h13.6M1883.2 884.9v13.6m-6.8-6.8h13.6M1883.4 884.8v13.6m-6.8-6.8h13.6M1883.7 884.8v13.6m-6.8-6.8h13.6M1883.9 885.1v13.6m-6.8-6.8h13.6M1885.4 886.3v13.6m-6.8-6.8h13.6M1886.2 886.6v13.6m-6.8-6.8h13.6M1886.3 886.4v13.6m-6.8-6.8h13.6M1886.5 886.8v13.6m-6.8-6.8h13.6M1887.1 887v13.6m-6.8-6.8h13.6M1887.2 887.1v13.6m-6.8-6.8h13.6M1888.1 887.2v13.6m-6.8-6.8h13.6M1889 887.7v13.6m-6.8-6.8h13.6M1889.5 887.5v13.6m-6.8-6.8h13.6M1890 888.2v13.6m-6.8-6.8h13.6M1890.1 888.2v13.6m-6.8-6.8h13.6M1890.4 888.1v13.6m-6.8-6.8h13.6M1890.4 888v13.6m-6.8-6.8h13.6M1892.5 888.8v13.6m-6.8-6.8h13.6M1892.9 888.7v13.6m-6.8-6.8h13.6M1893.1 889.1v13.6m-6.8-6.8h13.6M1894.6 889.2v13.6m-6.8-6.8h13.6M1894.9 889.5v13.6m-6.8-6.8h13.6M1895.1 890v13.6m-6.8-6.8h13.6M1896.1 890v13.6m-6.8-6.8h13.6M1896.1 890.3v13.6m-6.8-6.8h13.6M1896.9 890.6v13.6m-6.8-6.8h13.6M1897.1 890.2v13.6m-6.8-6.8h13.6M1897.4 890.4v13.6m-6.8-6.8h13.6M1897.8 891v13.6m-6.8-6.8h13.6M1898.9 890.6v13.6m-6.8-6.8h13.6M1899.3 890.8v13.6m-6.8-6.8h13.6M1899.7 891.1v13.6m-6.8-6.8h13.6M1900.3 891.6v13.6m-6.8-6.8h13.6M1900.7 891.8v13.6m-6.8-6.8h13.6M1900.8 891.4v13.6m-6.8-6.8h13.6M1900.9 891.8v13.6m-6.8-6.8h13.6M1901.9 891.9v13.6m-6.8-6.8h13.6M1902.1 891.8v13.6m-6.8-6.8h13.6M1902.2 892.1v13.6m-6.8-6.8h13.6M1902.3 891.8v13.6m-6.8-6.8h13.6M1902.5 892.3v13.6m-6.8-6.8h13.6M1902.7 892.5v13.6m-6.8-6.8h13.6M1903.2 892v13.6m-6.8-6.8h13.6M1903.4 892.7v13.6m-6.8-6.8h13.6M1903.8 892.5v13.6m-6.8-6.8h13.6M1903.9 892.7v13.6m-6.8-6.8h13.6M1904.2 892.2v13.6m-6.8-6.8h13.6M1904.2 892.5v13.6m-6.8-6.8h13.6M1904.3 892.5v13.6m-6.8-6.8h13.6M1904.9 892.6v13.6m-6.8-6.8h13.6M1907 893.6v13.6m-6.8-6.8h13.6M1907.6 893.7v13.6m-6.8-6.8h13.6M1908.1 893.7v13.6m-6.8-6.8h13.6M1908.3 893.5v13.6m-6.8-6.8h13.6M1908.4 893.7v13.6m-6.8-6.8h13.6M1909 893.8v13.6m-6.8-6.8h13.6M1909.7 893.8v13.6m-6.8-6.8h13.6M1910 893.8v13.6m-6.8-6.8h13.6M1910.1 893.5v13.6m-6.8-6.8h13.6M1910.8 893.1v13.6m-6.8-6.8h13.6M1910.9 893.4v13.6m-6.8-6.8h13.6M1911.6 893.5v13.6m-6.8-6.8h13.6"/>
<path class="ck" d="M1098.3 1203.2L1113.8 1203.4L1122 1206.5L1128.2 1210.1L1134.4 1213.1L1144.7 1221.3L1155 1228.5L1165.3 1239.9L1175.6 1249.1L1185.9 1259.4L1196.2 1264.6L1206.5 1273.9L1216.8 1281.1L1227.1 1293.5L1237.4 1297.2L1248 1309.9L1258.3 1318.1L1268.6 1322.2L1278.9 1329.4L1289.2 1333.6L1299.5 1339.8L1309.8 1343.9L1320.1 1346.5L1330.4 1350.1L1340.7 1357.3L1351 1360.4L1361.3 1367.6L1371.6 1370.7L1382 1374.8L1392.3 1381L1402.6 1386.1L1412.9 1392.3L1423.2 1396.4L1433.5 1402.6L1437.1 1406.3"/>
<path class="mk" d="M1098.3 1196.9v13.6m-6.8-6.8h13.6M1098.5 1196.6v13.6m-6.8-6.8h13.6M1099.1 1196.8v13.6m-6.8-6.8h13.6M1099.6 1196.8v13.6m-6.8-6.8h13.6M1099.8 1196.9v13.6m-6.8-6.8h13.6M1100.3 1196.1v13.6m-6.8-6.8h13.6M1100.8 1196.6v13.6m-6.8-6.8h13.6M1100.9 1196.3v13.6m-6.8-6.8h13.6M1101.1 1196v13.6m-6.8-6.8h13.6M1101.3 1196.2v13.6m-6.8-6.8h13.6M1101.6 1196.7v13.6m-6.8-6.8h13.6M1102.1 1196.8v13.6m-6.8-6.8h13.6M1104.4 1196.9v13.6m-6.8-6.8h13.6M1107.4 1196.6v13.6m-6.8-6.8h13.6M1108.5 1196.9v13.6m-6.8-6.8h13.6M1109.2 1196.2v13.6m-6.8-6.8h13.6M1110 1196.6v13.6m-6.8-6.8h13.6M1110.2 1196.1v13.6m-6.8-6.8h13.6M1110.4 1196.7v13.6m-6.8-6.8h13.6M1112.1 1196.7v13.6m-6.8-6.8h13.6M1112.6 1196.1v13.6m-6.8-6.8h13.6M1112.8 1196.7v13.6m-6.8-6.8h13.6M1113.5 1196.5v13.6m-6.8-6.8h13.6M1113.8 1196.2v13.6m-6.8-6.8h13.6M1114.1 1196.3v13.6m-6.8-6.8h13.6M1115.7 1197.1v13.6m-6.8-6.8h13.6M1118.1 1198.1v13.6m-6.8-6.8h13.6M1120.6 1199.4v13.6m-6.8-6.8h13.6M1125.1 1201.2v13.6m-6.8-6.8h13.6M1134.6 1206.8v13.6m-6.8-6.8h13.6M1139 1209.9v13.6m-6.8-6.8h13.6M1146.8 1216.3v13.6m-6.8-6.8h13.6M1147.5 1216.7v13.6m-6.8-6.8h13.6M1152.5 1220.3v13.6m-6.8-6.8h13.6M1157.9 1224.9v13.6m-6.8-6.8h13.6M1160.2 1227.1v13.6m-6.8-6.8h13.6M1162.5 1229.7v13.6m-6.8-6.8h13.6M1165.2 1233.4v13.6m-6.8-6.8h13.6M1166.2 1233.5v13.6m-6.8-6.8h13.6M1166.6 1234.3v13.6m-6.8-6.8h13.6M1167 1234.8v13.6m-6.8-6.8h13.6M1169.1 1236.5v13.6m-6.8-6.8h13.6M1171.7 1238.5v13.6m-6.8-6.8h13.6M1173.1 1239.6v13.6m-6.8-6.8h13.6M1174.9 1242v13.6m-6.8-6.8h13.6M1175.2 1242.2v13.6m-6.8-6.8h13.6M1182.7 1249.3v13.6m-6.8-6.8h13.6M1183.2 1249.8v13.6m-6.8-6.8h13.6M1187.3 1252.9v13.6m-6.8-6.8h13.6M1191.1 1255v13.6m-6.8-6.8h13.6M1194.7 1257.5v13.6m-6.8-6.8h13.6M1198.9 1259.9v13.6m-6.8-6.8h13.6M1200.5 1261.5v13.6m-6.8-6.8h13.6M1204.7 1265.2v13.6m-6.8-6.8h13.6M1205 1265.7v13.6m-6.8-6.8h13.6M1205.3 1265.8v13.6m-6.8-6.8h13.6M1207.8 1267.8v13.6m-6.8-6.8h13.6M1208.3 1268.8v13.6m-6.8-6.8h13.6M1208.9 1269.1v13.6m-6.8-6.8h13.6M1211.4 1270.5v13.6m-6.8-6.8h13.6M1213.5 1272.1v13.6m-6.8-6.8h13.6M1217.2 1275v13.6m-6.8-6.8h13.6M1217.7 1275.5v13.6m-6.8-6.8h13.6M1218.8 1277.2v13.6m-6.8-6.8h13.6M1219.1 1277v13.6m-6.8-6.8h13.6M1224.4 1283v13.6m-6.8-6.8h13.6M1226.4 1286.2v13.6m-6.8-6.8h13.6M1228.1 1286.6v13.6m-6.8-6.8h13.6M1231.3 1287.9v13.6m-6.8-6.8h13.6M1232.9 1289.1v13.6m-6.8-6.8h13.6M1233.7 1288.8v13.6m-6.8-6.8h13.6M1234 1289v13.6m-6.8-6.8h13.6M1234.3 1289.4v13.6m-6.8-6.8h13.6M1237.8 1290.4v13.6m-6.8-6.8h13.6M1238.9 1292.4v13.6m-6.8-6.8h13.6M1240.9 1294.4v13.6m-6.8-6.8h13.6M1242 1296v13.6m-6.8-6.8h13.6M1243 1297.5v13.6m-6.8-6.8h13.6M1246.2 1301.4v13.6m-6.8-6.8h13.6M1246.4 1300.7v13.6m-6.8-6.8h13.6M1247.6 1302.7v13.6m-6.8-6.8h13.6M1248 1302.8v13.6m-6.8-6.8h13.6M1250.4 1305.3v13.6m-6.8-6.8h13.6M1250.7 1304.8v13.6m-6.8-6.8h13.6M1252.6 1306.7v13.6m-6.8-6.8h13.6M1252.9 1307.4v13.6m-6.8-6.8h13.6M1253.5 1307.1v13.6m-6.8-6.8h13.6M1254.3 1308v13.6m-6.8-6.8h13.6M1255.9 1309.7v13.6m-6.8-6.8h13.6M1256.1 1309.6v13.6m-6.8-6.8h13.6M1259.9 1311.9v13.6m-6.8-6.8h13.6M1263.8 1313.9v13.6m-6.8-6.8h13.6M1266.6 1314.8v13.6m-6.8-6.8h13.6M1266.9 1315.2v13.6m-6.8-6.8h13.6M1267.5 1314.8v13.6m-6.8-6.8h13.6M1268.7 1315.5v13.6m-6.8-6.8h13.6M1270.8 1317v13.6m-6.8-6.8h13.6M1274.6 1319.9v13.6m-6.8-6.8h13.6M1276.1 1320.4v13.6m-6.8-6.8h13.6M1277.5 1321.7v13.6m-6.8-6.8h13.6M1279.6 1322.7v13.6m-6.8-6.8h13.6M1282.1 1324.1v13.6m-6.8-6.8h13.6M1282.4 1324.5v13.6m-6.8-6.8h13.6M1283.4 1324.4v13.6m-6.8-6.8h13.6M1284.1 1324.6v13.6m-6.8-6.8h13.6M1286.5 1326.1v13.6m-6.8-6.8h13.6M1287.5 1326.1v13.6m-6.8-6.8h13.6M1288.5 1326.1v13.6m-6.8-6.8h13.6M1291.6 1328.1v13.6m-6.8-6.8h13.6M1291.8 1328v13.6m-6.8-6.8h13.6M1292.3 1328.9v13.6m-6.8-6.8h13.6M1292.5 1328.4v13.6m-6.8-6.8h13.6M1295.7 1330.4v13.6m-6.8-6.8h13.6M1299.2 1332.3v13.6m-6.8-6.8h13.6M1299.4 1332.6v13.6m-6.8-6.8h13.6M1300.1 1333.2v13.6m-6.8-6.8h13.6M1300.6 1333.9v13.6m-6.8-6.8h13.6M1304.7 1335.1v13.6m-6.8-6.8h13.6M1309.5 1337.3v13.6m-6.8-6.8h13.6M1314.6 1338.4v13.6m-6.8-6.8h13.6M1314.8 1338.4v13.6m-6.8-6.8h13.6M1315 1338.3v13.6m-6.8-6.8h13.6M1320.1 1339.5v13.6m-6.8-6.8h13.6M1321.8 1340.7v13.6m-6.8-6.8h13.6M1323.5 1340.7v13.6m-6.8-6.8h13.6M1324.5 1340.8v13.6m-6.8-6.8h13.6M1326.7 1342.1v13.6m-6.8-6.8h13.6M1327.3 1342.1v13.6m-6.8-6.8h13.6M1330 1342.6v13.6m-6.8-6.8h13.6M1330.3 1343.3v13.6m-6.8-6.8h13.6M1332.3 1344.6v13.6m-6.8-6.8h13.6M1333.5 1344.9v13.6m-6.8-6.8h13.6M1334.5 1346.2v13.6m-6.8-6.8h13.6M1334.7 1346.3v13.6m-6.8-6.8h13.6M1335.1 1346.3v13.6m-6.8-6.8h13.6M1337 1348.2v13.6m-6.8-6.8h13.6M1337.2 1347.6v13.6m-6.8-6.8h13.6M1338.4 1349.3v13.6m-6.8-6.8h13.6M1339.6 1349.5v13.6m-6.8-6.8h13.6M1341.4 1351.1v13.6m-6.8-6.8h13.6M1341.6 1350.3v13.6m-6.8-6.8h13.6M1342.5 1351.2v13.6m-6.8-6.8h13.6M1343.5 1351.3v13.6m-6.8-6.8h13.6M1343.8 1351v13.6m-6.8-6.8h13.6M1344 1351.4v13.6m-6.8-6.8h13.6M1344.4 1351.7v13.6m-6.8-6.8h13.6M1345.3 1351.7v13.6m-6.8-6.8h13.6M1347.4 1352.3v13.6m-6.8-6.8h13.6M1348.3 1352.7v13.6m-6.8-6.8h13.6M1350 1353.7v13.6m-6.8-6.8h13.6M1351.8 1353.6v13.6m-6.8-6.8h13.6M1353.5 1355.3v13.6m-6.8-6.8h13.6M1354.8 1355.7v13.6m-6.8-6.8h13.6M1355 1355.8v13.6m-6.8-6.8h13.6M1355.2 1356.1v13.6m-6.8-6.8h13.6M1356.7 1357.8v13.6m-6.8-6.8h13.6M1357.3 1357.7v13.6m-6.8-6.8h13.6M1358 1358.1v13.6m-6.8-6.8h13.6M1358.4 1358.6v13.6m-6.8-6.8h13.6M1361.2 1360.9v13.6m-6.8-6.8h13.6M1361.3 1361.1v13.6m-6.8-6.8h13.6M1366.4 1362.7v13.6m-6.8-6.8h13.6M1366.6 1362.4v13.6m-6.8-6.8h13.6M1370.8 1363.4v13.6m-6.8-6.8h13.6M1372.1 1364.2v13.6m-6.8-6.8h13.6M1376.5 1366.1v13.6m-6.8-6.8h13.6M1377.4 1366.3v13.6m-6.8-6.8h13.6M1377.7 1366.6v13.6m-6.8-6.8h13.6M1378.1 1366.6v13.6m-6.8-6.8h13.6M1378.3 1366.8v13.6m-6.8-6.8h13.6M1380.6 1367.1v13.6m-6.8-6.8h13.6M1381.4 1367.4v13.6m-6.8-6.8h13.6M1382.4 1368v13.6m-6.8-6.8h13.6M1385.9 1370.7v13.6m-6.8-6.8h13.6M1386.1 1370.2v13.6m-6.8-6.8h13.6M1386.4 1370.3v13.6m-6.8-6.8h13.6M1387.5 1371.5v13.6m-6.8-6.8h13.6M1388.4 1371.8v13.6m-6.8-6.8h13.6M1388.6 1371.9v13.6m-6.8-6.8h13.6M1391 1373v13.6m-6.8-6.8h13.6M1391.3 1373.6v13.6m-6.8-6.8h13.6M1392.2 1373.8v13.6m-6.8-6.8h13.6M1394.1 1375.6v13.6m-6.8-6.8h13.6M1395 1376v13.6m-6.8-6.8h13.6M1398.7 1377.7v13.6m-6.8-6.8h13.6M1399.2 1377.7v13.6m-6.8-6.8h13.6M1402.9 1379.9v13.6m-6.8-6.8h13.6M1403.8 1379.8v13.6m-6.8-6.8h13.6M1404.2 1380.2v13.6m-6.8-6.8h13.6M1406.3 1381.5v13.6m-6.8-6.8h13.6M1407.4 1381.9v13.6m-6.8-6.8h13.6M1408.2 1382.3v13.6m-6.8-6.8h13.6M1408.4 1382.5v13.6m-6.8-6.8h13.6M1409.5 1383.6v13.6m-6.8-6.8h13.6M1411.5 1384.6v13.6m-6.8-6.8h13.6M1413.2 1386.1v13.6m-6.8-6.8h13.6M1413.4 1385.8v13.6m-6.8-6.8h13.6M1413.9 1386.4v13.6m-6.8-6.8h13.6M1414.1 1385.8v13.6m-6.8-6.8h13.6M1414.9 1386.6v13.6m-6.8-6.8h13.6M1416.7 1386.6v13.6m-6.8-6.8h13.6M1417.8 1387.3v13.6m-6.8-6.8h13.6M1418.1 1387.1v13.6m-6.8-6.8h13.6M1419.2 1388.3v13.6m-6.8-6.8h13.6M1425.1 1390.5v13.6m-6.8-6.8h13.6M1425.6 1391.2v13.6m-6.8-6.8h13.6M1427.1 1391.9v13.6m-6.8-6.8h13.6M1427.4 1392.5v13.6m-6.8-6.8h13.6M1428.2 1392.5v13.6m-6.8-6.8h13.6M1429.5 1393v13.6m-6.8-6.8h13.6M1430.7 1393.7v13.6m-6.8-6.8h13.6M1431.4 1394.7v13.6m-6.8-6.8h13.6M1433.7 1396.5v13.6m-6.8-6.8h13.6M1435.4 1397.4v13.6m-6.8-6.8h13.6M1436.9 1399.1v13.6m-6.8-6.8h13.6M1437.1 1399.5v13.6m-6.8-6.8h13.6"/>
<path class="cr" d="M1098.3 1203.2H1113.8L1122 1205.5L1129.2 1208.5L1134.4 1209.4L1144.7 1217.3L1155 1224L1165.3 1231.2L1175.6 1240L1185.9 1247.2L1196.2 1257L1206.5 1269.3L1216.8 1278.6L1227.1 1291L1237.4 1300.8L1248 1307.9L1258.3 1312.6L1268.6 1317.5L1278.9 1322.3L1289.2 1327.5L1299.5 1330.1L1309.8 1334.2L1320.1 1337.3L1330.4 1341.9L1340.7 1347.1L1351 1355.8L1361.3 1361L1371.6 1364.1L1382 1368.4L1392.3 1370.3L1402.6 1372.8L1412.9 1374.9L1423.2 1376.6L1433.5 1379L1437.6 1379.5"/>
<path class="mr" d="M1098.3 1196.1v13.6m-6.8-6.8h13.6M1098.8 1196.1v13.6m-6.8-6.8h13.6M1100 1196.1v13.6m-6.8-6.8h13.6M1100.6 1196.8v13.6m-6.8-6.8h13.6M1100.9 1196.9v13.6m-6.8-6.8h13.6M1101.8 1196.4v13.6m-6.8-6.8h13.6M1102.5 1196.5v13.6m-6.8-6.8h13.6M1102.8 1196.9v13.6m-6.8-6.8h13.6M1103.2 1196.9v13.6m-6.8-6.8h13.6M1104.5 1195.9v13.6m-6.8-6.8h13.6M1104.8 1196.4v13.6m-6.8-6.8h13.6M1105.9 1196.1v13.6m-6.8-6.8h13.6M1106.6 1196.3v13.6m-6.8-6.8h13.6M1107.7 1196.8v13.6m-6.8-6.8h13.6M1108.7 1196.1v13.6m-6.8-6.8h13.6M1109.7 1196.3v13.6m-6.8-6.8h13.6M1111 1196.4v13.6m-6.8-6.8h13.6M1112.6 1196.9v13.6m-6.8-6.8h13.6M1113.8 1196.7v13.6m-6.8-6.8h13.6M1116.2 1197.2v13.6m-6.8-6.8h13.6M1116.8 1197.7v13.6m-6.8-6.8h13.6M1118.9 1197.3v13.6m-6.8-6.8h13.6M1120.7 1198.2v13.6m-6.8-6.8h13.6M1121.5 1199v13.6m-6.8-6.8h13.6M1122 1199v13.6m-6.8-6.8h13.6M1124.4 1199.4v13.6m-6.8-6.8h13.6M1125.8 1200.2v13.6m-6.8-6.8h13.6M1126.3 1200.7v13.6m-6.8-6.8h13.6M1129.5 1202.3v13.6m-6.8-6.8h13.6M1135.1 1203.4v13.6m-6.8-6.8h13.6M1144.2 1210.6v13.6m-6.8-6.8h13.6M1147 1212v13.6m-6.8-6.8h13.6M1149 1213.6v13.6m-6.8-6.8h13.6M1155.9 1218.2v13.6m-6.8-6.8h13.6M1160.6 1220.7v13.6m-6.8-6.8h13.6M1162 1221.7v13.6m-6.8-6.8h13.6M1164.3 1223.8v13.6m-6.8-6.8h13.6M1166.3 1225.6v13.6m-6.8-6.8h13.6M1166.9 1226v13.6m-6.8-6.8h13.6M1168.9 1227.2v13.6m-6.8-6.8h13.6M1177.2 1233.9v13.6m-6.8-6.8h13.6M1178.8 1235.5v13.6m-6.8-6.8h13.6M1181 1237.5v13.6m-6.8-6.8h13.6M1183 1238.7v13.6m-6.8-6.8h13.6M1183.8 1238.9v13.6m-6.8-6.8h13.6M1184.2 1239.4v13.6m-6.8-6.8h13.6M1185.5 1240.4v13.6m-6.8-6.8h13.6M1185.9 1240.4v13.6m-6.8-6.8h13.6M1192.6 1246.3v13.6m-6.8-6.8h13.6M1194.8 1249.1v13.6m-6.8-6.8h13.6M1197.3 1251.6v13.6m-6.8-6.8h13.6M1198.5 1253.4v13.6m-6.8-6.8h13.6M1199.1 1253.9v13.6m-6.8-6.8h13.6M1201 1256.2v13.6m-6.8-6.8h13.6M1202.2 1256.9v13.6m-6.8-6.8h13.6M1204.7 1260.2v13.6m-6.8-6.8h13.6M1207.4 1263.9v13.6m-6.8-6.8h13.6M1210.3 1265.9v13.6m-6.8-6.8h13.6M1214.1 1269.2v13.6m-6.8-6.8h13.6M1214.8 1270.1v13.6m-6.8-6.8h13.6M1216.8 1272v13.6m-6.8-6.8h13.6M1218 1273.2v13.6m-6.8-6.8h13.6M1220.2 1275.7v13.6m-6.8-6.8h13.6M1221.6 1277.1v13.6m-6.8-6.8h13.6M1221.8 1278.2v13.6m-6.8-6.8h13.6M1222.2 1278.2v13.6m-6.8-6.8h13.6M1222.5 1278.9v13.6m-6.8-6.8h13.6M1223.1 1278.9v13.6m-6.8-6.8h13.6M1223.5 1280.3v13.6m-6.8-6.8h13.6M1225.7 1282v13.6m-6.8-6.8h13.6M1230.7 1287.2v13.6m-6.8-6.8h13.6M1231.8 1288.7v13.6m-6.8-6.8h13.6M1234.3 1290.7v13.6m-6.8-6.8h13.6M1237.1 1293.5v13.6m-6.8-6.8h13.6M1239.5 1295.8v13.6m-6.8-6.8h13.6M1241.1 1296v13.6m-6.8-6.8h13.6M1243.1 1297.7v13.6m-6.8-6.8h13.6M1245.3 1299.6v13.6m-6.8-6.8h13.6M1245.6 1299.6v13.6m-6.8-6.8h13.6M1247.4 1301.1v13.6m-6.8-6.8h13.6M1249.1 1301.7v13.6m-6.8-6.8h13.6M1251.8 1302.5v13.6m-6.8-6.8h13.6M1255.3 1304.5v13.6m-6.8-6.8h13.6M1257.1 1304.9v13.6m-6.8-6.8h13.6M1258.4 1305.7v13.6m-6.8-6.8h13.6M1258.8 1306.4v13.6m-6.8-6.8h13.6M1262 1307.5v13.6m-6.8-6.8h13.6M1262.2 1308.1v13.6m-6.8-6.8h13.6M1262.5 1307.8v13.6m-6.8-6.8h13.6M1263.9 1308.8v13.6m-6.8-6.8h13.6M1265.6 1309.4v13.6m-6.8-6.8h13.6M1266.8 1310.3v13.6m-6.8-6.8h13.6M1269.6 1311v13.6m-6.8-6.8h13.6M1272.1 1312.8v13.6m-6.8-6.8h13.6M1273.2 1312.4v13.6m-6.8-6.8h13.6M1273.4 1313.4v13.6m-6.8-6.8h13.6M1273.7 1313.4v13.6m-6.8-6.8h13.6M1274.1 1313v13.6m-6.8-6.8h13.6M1274.4 1313.7v13.6m-6.8-6.8h13.6M1274.6 1313.5v13.6m-6.8-6.8h13.6M1277.1 1314.7v13.6m-6.8-6.8h13.6M1277.4 1314.3v13.6m-6.8-6.8h13.6M1280 1315.9v13.6m-6.8-6.8h13.6M1280.3 1316.2v13.6m-6.8-6.8h13.6M1282.5 1317.1v13.6m-6.8-6.8h13.6M1282.7 1317.1v13.6m-6.8-6.8h13.6M1283.7 1318.2v13.6m-6.8-6.8h13.6M1283.9 1318.3v13.6m-6.8-6.8h13.6M1285.5 1318.9v13.6m-6.8-6.8h13.6M1286.2 1318.7v13.6m-6.8-6.8h13.6M1287.2 1319.6v13.6m-6.8-6.8h13.6M1288.7 1320v13.6m-6.8-6.8h13.6M1289 1320.1v13.6m-6.8-6.8h13.6M1290 1320.4v13.6m-6.8-6.8h13.6M1291.1 1321.1v13.6m-6.8-6.8h13.6M1291.7 1321v13.6m-6.8-6.8h13.6M1295.4 1322.2v13.6m-6.8-6.8h13.6M1295.6 1322.4v13.6m-6.8-6.8h13.6M1297.6 1322.8v13.6m-6.8-6.8h13.6M1300.6 1324v13.6m-6.8-6.8h13.6M1302.1 1323.8v13.6m-6.8-6.8h13.6M1302.8 1324.6v13.6m-6.8-6.8h13.6M1303 1324.7v13.6m-6.8-6.8h13.6M1304.4 1325.5v13.6m-6.8-6.8h13.6M1306.3 1326.2v13.6m-6.8-6.8h13.6M1306.7 1326.3v13.6m-6.8-6.8h13.6M1307.6 1326.8v13.6m-6.8-6.8h13.6M1307.8 1326.3v13.6m-6.8-6.8h13.6M1309.4 1327.5v13.6m-6.8-6.8h13.6M1309.8 1327.6v13.6m-6.8-6.8h13.6M1311.8 1328.1v13.6m-6.8-6.8h13.6M1312.6 1327.8v13.6m-6.8-6.8h13.6M1312.9 1328.6v13.6m-6.8-6.8h13.6M1316.4 1329v13.6m-6.8-6.8h13.6M1316.6 1329.3v13.6m-6.8-6.8h13.6M1320.3 1330.3v13.6m-6.8-6.8h13.6M1323.7 1332.4v13.6m-6.8-6.8h13.6M1325.9 1333.6v13.6m-6.8-6.8h13.6M1327.3 1333.4v13.6m-6.8-6.8h13.6M1328 1333.9v13.6m-6.8-6.8h13.6M1329.3 1334.5v13.6m-6.8-6.8h13.6M1330.9 1334.9v13.6m-6.8-6.8h13.6M1331.2 1335.2v13.6m-6.8-6.8h13.6M1331.5 1335.9v13.6m-6.8-6.8h13.6M1334 1336.5v13.6m-6.8-6.8h13.6M1334.7 1336.8v13.6m-6.8-6.8h13.6M1335.1 1337.1v13.6m-6.8-6.8h13.6M1336.5 1338.5v13.6m-6.8-6.8h13.6M1338.6 1339v13.6m-6.8-6.8h13.6M1339.3 1339.3v13.6m-6.8-6.8h13.6M1340.5 1339.9v13.6m-6.8-6.8h13.6M1342 1341.3v13.6m-6.8-6.8h13.6M1342.8 1342.4v13.6m-6.8-6.8h13.6M1345.4 1344v13.6m-6.8-6.8h13.6M1346.7 1345.1v13.6m-6.8-6.8h13.6M1346.8 1345.8v13.6m-6.8-6.8h13.6M1347 1345.4v13.6m-6.8-6.8h13.6M1348.3 1347v13.6m-6.8-6.8h13.6M1348.8 1347.3v13.6m-6.8-6.8h13.6M1349.3 1347v13.6m-6.8-6.8h13.6M1350.1 1347.9v13.6m-6.8-6.8h13.6M1350.3 1348.3v13.6m-6.8-6.8h13.6M1351.4 1348.9v13.6m-6.8-6.8h13.6M1351.7 1349.4v13.6m-6.8-6.8h13.6M1352 1349.6v13.6m-6.8-6.8h13.6M1353.3 1350v13.6m-6.8-6.8h13.6M1355.9 1351.9v13.6m-6.8-6.8h13.6M1356.1 1351.1v13.6m-6.8-6.8h13.6M1356.3 1351.6v13.6m-6.8-6.8h13.6M1356.7 1352.1v13.6m-6.8-6.8h13.6M1360.7 1353.8v13.6m-6.8-6.8h13.6M1361.1 1353.8v13.6m-6.8-6.8h13.6M1364 1355.3v13.6m-6.8-6.8h13.6M1366.5 1356.2v13.6m-6.8-6.8h13.6M1367.3 1356.2v13.6m-6.8-6.8h13.6M1367.8 1355.7v13.6m-6.8-6.8h13.6M1369.2 1356.4v13.6m-6.8-6.8h13.6M1370.1 1356.9v13.6m-6.8-6.8h13.6M1370.4 1356.4v13.6m-6.8-6.8h13.6M1372.1 1357.7v13.6m-6.8-6.8h13.6M1373.7 1358v13.6m-6.8-6.8h13.6M1374.2 1358.5v13.6m-6.8-6.8h13.6M1374.7 1358.8v13.6m-6.8-6.8h13.6M1375.6 1358.9v13.6m-6.8-6.8h13.6M1377.8 1359.5v13.6m-6.8-6.8h13.6M1378 1360v13.6m-6.8-6.8h13.6M1380.2 1361.3v13.6m-6.8-6.8h13.6M1382.6 1361.4v13.6m-6.8-6.8h13.6M1383.1 1361.5v13.6m-6.8-6.8h13.6M1383.4 1361.5v13.6m-6.8-6.8h13.6M1383.6 1362.2v13.6m-6.8-6.8h13.6M1384.5 1362.5v13.6m-6.8-6.8h13.6M1385.6 1362.5v13.6m-6.8-6.8h13.6M1388.9 1362.9v13.6m-6.8-6.8h13.6M1389.2 1362.8v13.6m-6.8-6.8h13.6M1389.9 1362.7v13.6m-6.8-6.8h13.6M1390.8 1363.5v13.6m-6.8-6.8h13.6M1391.3 1362.8v13.6m-6.8-6.8h13.6M1391.5 1363.2v13.6m-6.8-6.8h13.6M1391.7 1363.3v13.6m-6.8-6.8h13.6M1395.8 1364.1v13.6m-6.8-6.8h13.6M1396.3 1364.6v13.6m-6.8-6.8h13.6M1396.5 1364.9v13.6m-6.8-6.8h13.6M1400.6 1365v13.6m-6.8-6.8h13.6M1401.1 1366v13.6m-6.8-6.8h13.6M1401.3 1365.8v13.6m-6.8-6.8h13.6M1403.2 1366.6v13.6m-6.8-6.8h13.6M1403.5 1366.6v13.6m-6.8-6.8h13.6M1404.5 1366.7v13.6m-6.8-6.8h13.6M1404.8 1366v13.6m-6.8-6.8h13.6M1405.6 1367.1v13.6m-6.8-6.8h13.6M1405.9 1367.2v13.6m-6.8-6.8h13.6M1409.9 1367.5v13.6m-6.8-6.8h13.6M1410.6 1368.1v13.6m-6.8-6.8h13.6M1410.8 1367.8v13.6m-6.8-6.8h13.6M1411 1368v13.6m-6.8-6.8h13.6M1411.8 1368v13.6m-6.8-6.8h13.6M1412.3 1368.4v13.6m-6.8-6.8h13.6M1414.3 1367.9v13.6m-6.8-6.8h13.6M1415.3 1368.2v13.6m-6.8-6.8h13.6M1418.3 1369.4v13.6m-6.8-6.8h13.6M1420.1 1369.5v13.6m-6.8-6.8h13.6M1422.7 1369.5v13.6m-6.8-6.8h13.6M1423.1 1370.2v13.6m-6.8-6.8h13.6M1424.2 1369.9v13.6m-6.8-6.8h13.6M1426.3 1370.7v13.6m-6.8-6.8h13.6M1426.5 1371v13.6m-6.8-6.8h13.6M1427.9 1371.2v13.6m-6.8-6.8h13.6M1428.1 1370.5v13.6m-6.8-6.8h13.6M1428.3 1371.3v13.6m-6.8-6.8h13.6M1428.4 1370.8v13.6m-6.8-6.8h13.6M1428.9 1371.1v13.6m-6.8-6.8h13.6M1429.2 1370.8v13.6m-6.8-6.8h13.6M1430 1371v13.6m-6.8-6.8h13.6M1430.6 1371.3v13.6m-6.8-6.8h13.6M1430.8 1371.2v13.6m-6.8-6.8h13.6M1432.2 1371.5v13.6m-6.8-6.8h13.6M1432.9 1372.2v13.6m-6.8-6.8h13.6M1435.6 1372.6v13.6m-6.8-6.8h13.6M1437.3 1373.1v13.6m-6.8-6.8h13.6M1437.4 1372.3v13.6m-6.8-6.8h13.6M1437.6 1372.7v13.6m-6.8-6.8h13.6"/>
</svg>
</body>
</html>
